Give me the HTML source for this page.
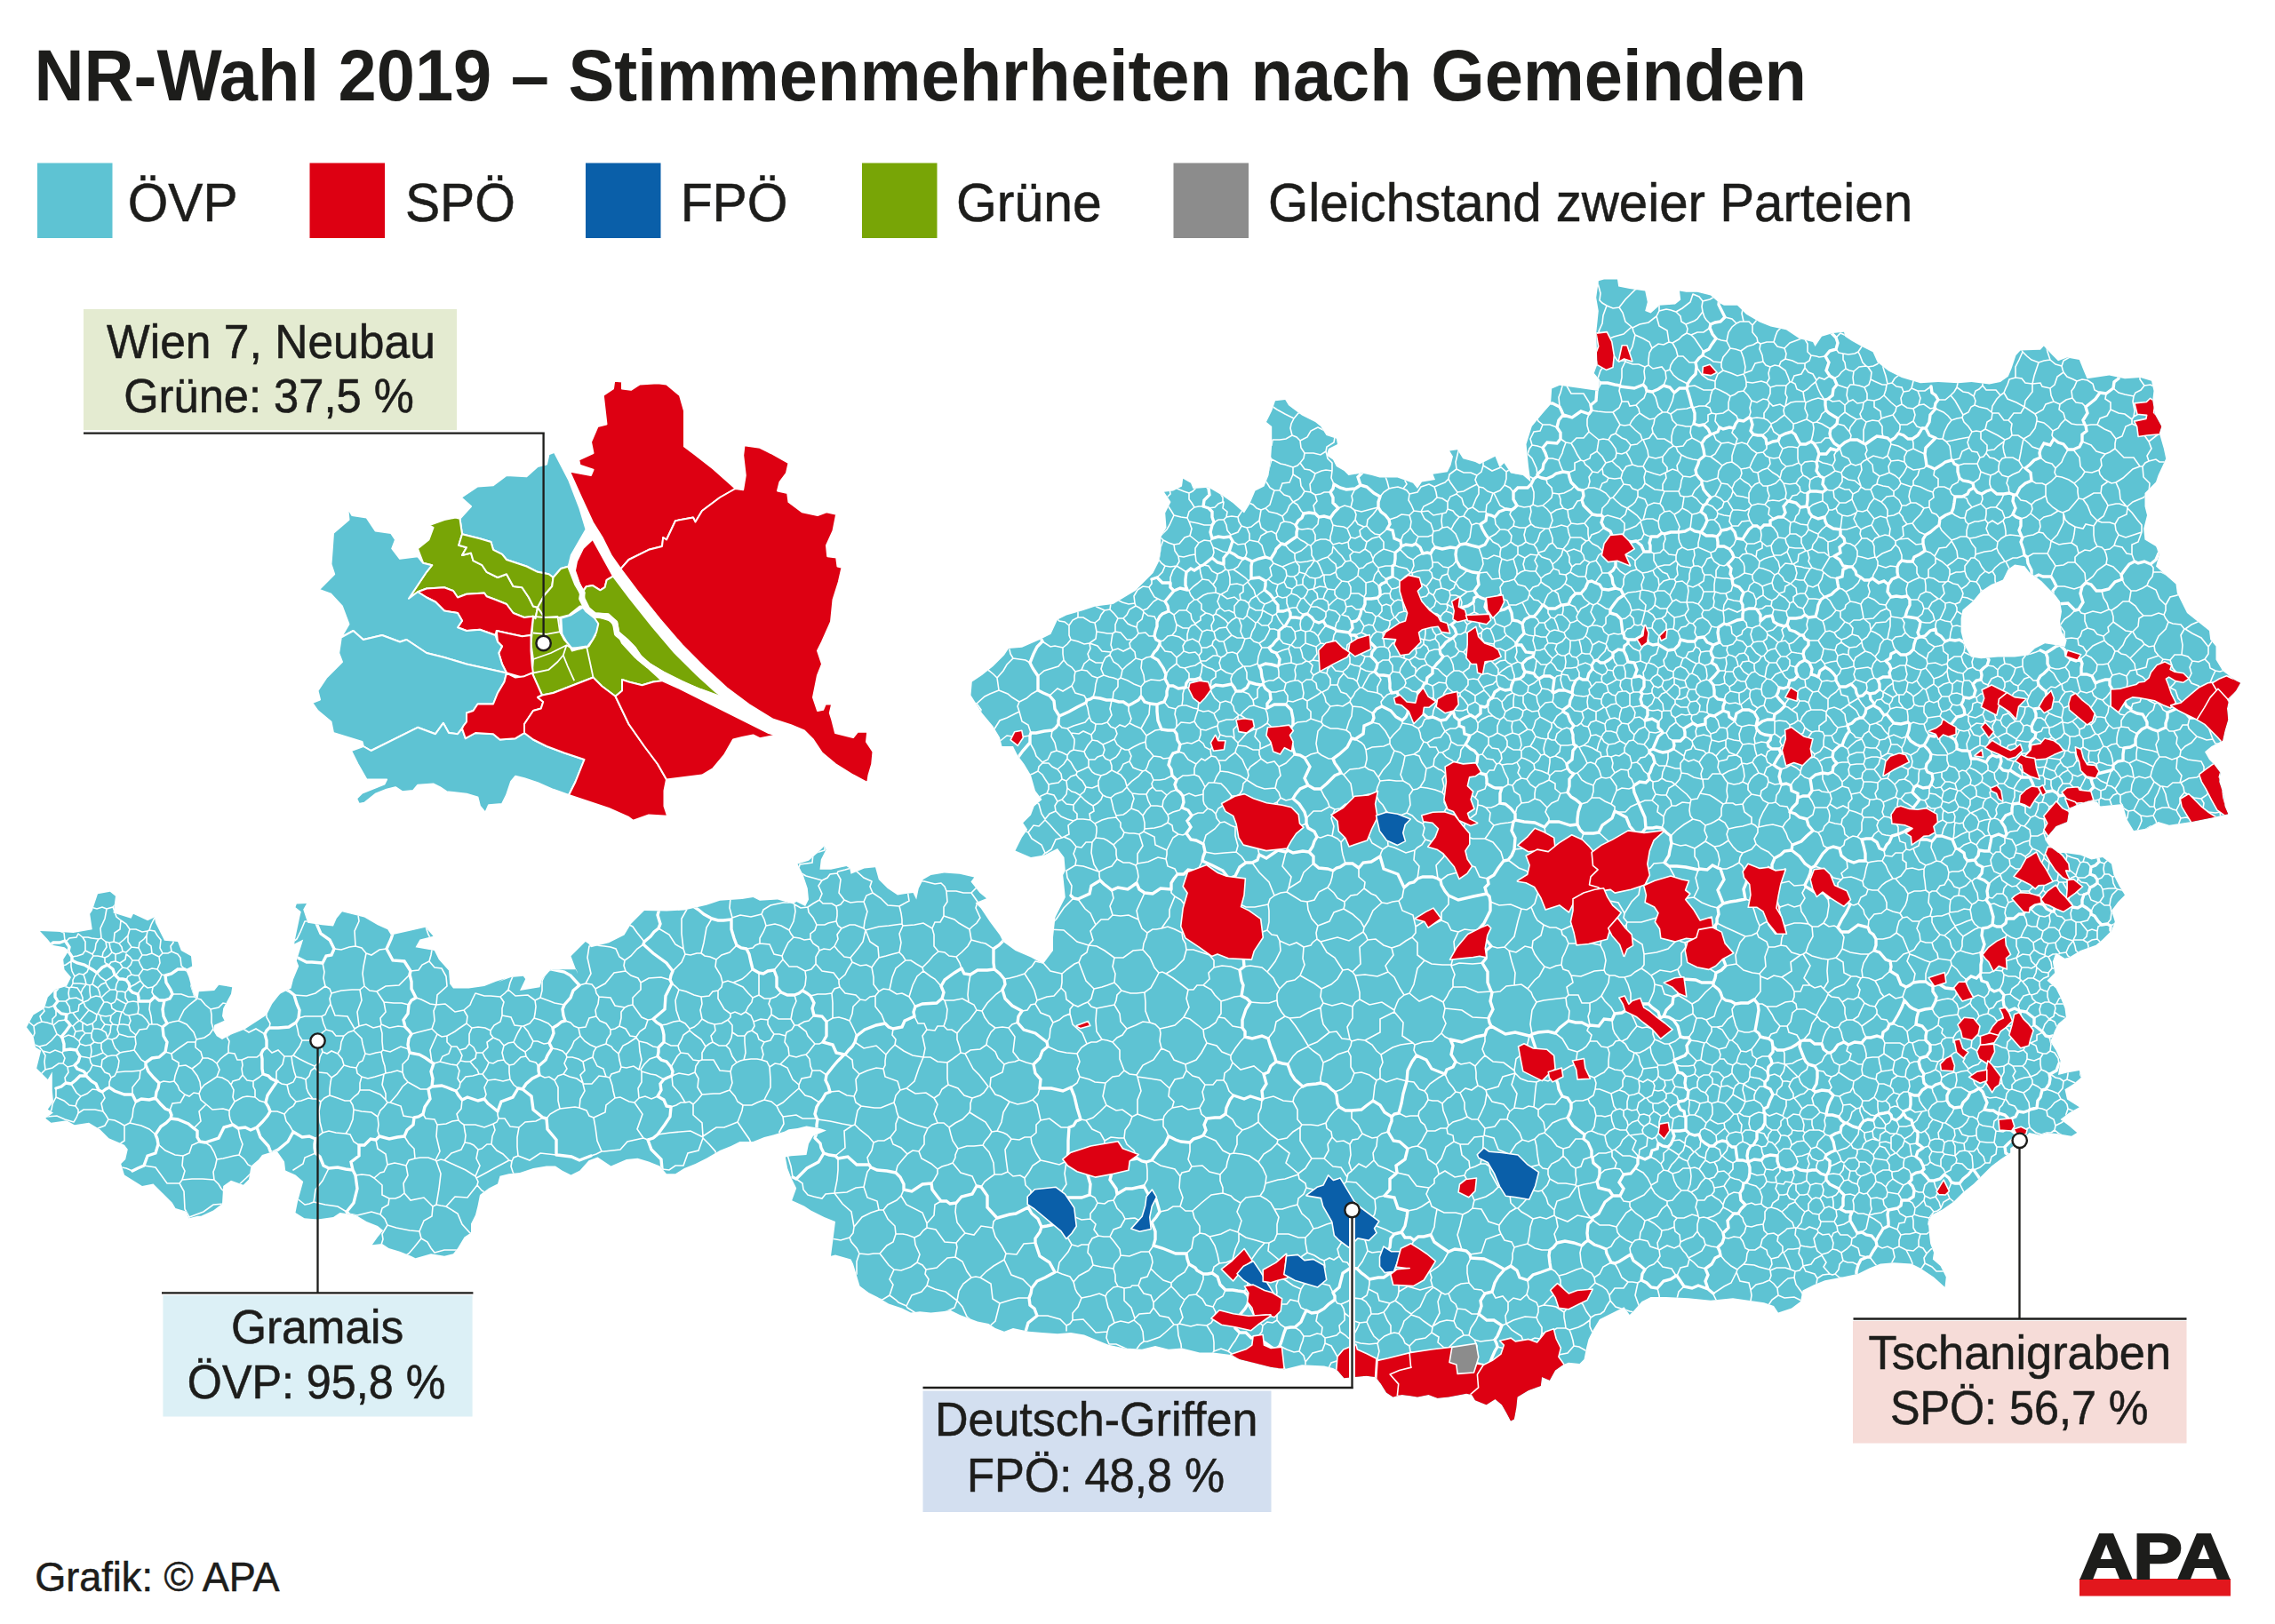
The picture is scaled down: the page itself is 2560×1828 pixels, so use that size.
<!DOCTYPE html>
<html lang="de"><head><meta charset="utf-8"><title>NR-Wahl 2019 – Stimmenmehrheiten nach Gemeinden</title>
<style>html,body{margin:0;padding:0;background:#fff}body{width:2560px;height:1828px;position:relative;overflow:hidden;font-family:"Liberation Sans",Arial,sans-serif}</style></head>
<body>
<svg width="2560" height="1828" viewBox="0 0 2560 1828" style="position:absolute;left:0;top:0;display:block">
<rect width="2560" height="1828" fill="#fff"/>
<defs><clipPath id="at"><path clip-rule="evenodd" d="M110.0,1006.2 L123.8,1003.8 L130.0,1008.8 L127.5,1027.5 L147.5,1033.8 L150.0,1028.8 L166.2,1036.2 L173.8,1032.5 L175.0,1038.8 L185.0,1058.8 L200.0,1060.0 L203.8,1070.0 L215.0,1076.2 L216.2,1087.5 L208.8,1091.2 L212.5,1100.0 L217.5,1118.8 L222.5,1125.0 L223.8,1116.2 L241.2,1115.0 L246.2,1108.8 L261.2,1111.2 L260.0,1118.8 L251.2,1135.0 L250.0,1143.8 L252.5,1148.8 L241.2,1153.8 L240.0,1160.0 L243.8,1166.2 L250.0,1170.0 L258.8,1165.0 L275.0,1158.8 L300.0,1142.5 L306.2,1130.0 L315.0,1118.8 L327.5,1112.5 L330.0,1102.5 L336.2,1087.5 L333.8,1081.2 L341.2,1057.5 L331.2,1062.5 L332.5,1055.0 L337.5,1031.2 L338.8,1026.2 L332.5,1021.2 L333.8,1017.5 L345.0,1017.0 L341.2,1023.8 L346.2,1038.8 L362.5,1041.2 L375.0,1042.5 L378.8,1033.8 L385.0,1026.2 L400.0,1030.0 L410.0,1032.5 L425.0,1041.2 L436.2,1046.2 L440.0,1052.5 L462.5,1047.5 L478.8,1043.8 L487.5,1053.8 L472.5,1057.5 L467.5,1066.2 L488.8,1070.0 L493.8,1080.0 L505.0,1092.5 L506.2,1107.5 L510.0,1112.5 L527.5,1112.5 L545.0,1110.0 L557.5,1105.0 L568.8,1101.2 L560.0,1105.5 L575.0,1100.0 L588.8,1098.8 L591.2,1102.0 L585.0,1115.0 L607.5,1111.2 L610.0,1102.5 L620.0,1091.2 L648.8,1091.2 L650.0,1096.2 L642.5,1076.2 L658.8,1060.0 L662.5,1062.5 L665.0,1066.2 L685.0,1061.2 L702.5,1052.5 L710.0,1040.0 L716.2,1033.8 L725.0,1025.0 L750.0,1025.5 L770.0,1024.5 L795.0,1018.8 L810.0,1013.8 L835.0,1012.0 L847.5,1010.0 L855.0,1013.8 L875.0,1012.5 L892.5,1017.5 L896.2,1015.0 L906.2,1020.0 L910.0,1012.5 L908.8,1000.0 L903.8,985.0 L897.5,972.5 L910.0,968.8 L920.0,960.0 L927.5,952.5 L929.5,956.2 L923.8,967.5 L922.5,978.8 L935.0,978.8 L952.5,975.0 L956.2,977.5 L957.5,983.8 L972.5,977.5 L985.0,976.2 L988.8,990.0 L998.8,1000.0 L1010.0,1007.5 L1017.5,1006.2 L1027.5,1005.0 L1031.2,1012.5 L1033.8,1000.0 L1038.8,990.0 L1047.5,985.0 L1062.5,982.5 L1080.0,983.8 L1096.2,987.5 L1092.5,992.5 L1102.5,1005.0 L1110.0,1011.2 L1097.5,1016.2 L1103.8,1022.5 L1113.8,1037.5 L1125.0,1052.5 L1128.8,1060.0 L1142.5,1070.0 L1160.0,1077.5 L1173.8,1085.0 L1185.0,1070.0 L1185.0,1055.0 L1187.5,1032.5 L1192.5,1022.5 L1198.8,1010.0 L1196.2,985.0 L1198.8,980.0 L1197.5,965.0 L1190.0,955.0 L1175.0,962.5 L1160.0,965.0 L1142.5,957.5 L1150.0,942.5 L1156.2,933.8 L1151.2,926.2 L1160.0,917.5 L1163.8,907.5 L1172.5,900.0 L1165.0,890.0 L1160.0,872.5 L1152.5,860.0 L1145.0,850.0 L1140.0,840.0 L1127.5,840.0 L1125.0,830.0 L1117.5,817.5 L1105.0,802.5 L1092.5,782.5 L1093.8,767.5 L1105.0,760.0 L1117.5,750.0 L1130.0,737.5 L1135.0,730.0 L1150.0,728.8 L1170.0,720.0 L1182.5,713.8 L1190.0,697.5 L1200.0,692.5 L1217.5,687.5 L1232.5,682.5 L1252.5,680.0 L1265.0,672.5 L1277.5,665.0 L1287.5,655.0 L1297.5,645.0 L1303.8,632.5 L1306.2,620.0 L1306.2,605.0 L1312.5,593.8 L1311.2,577.5 L1317.5,565.0 L1310.0,553.8 L1320.0,552.5 L1330.0,547.5 L1331.2,538.8 L1340.0,543.8 L1342.5,550.0 L1360.0,548.8 L1375.0,557.5 L1387.5,566.2 L1400.0,577.5 L1406.2,567.5 L1412.5,552.5 L1422.5,547.5 L1427.5,535.0 L1430.0,517.5 L1431.2,500.0 L1431.2,480.0 L1425.0,475.0 L1431.2,462.5 L1435.0,451.2 L1446.2,450.0 L1450.0,456.2 L1465.0,467.5 L1480.0,475.0 L1486.2,480.0 L1492.5,490.0 L1503.8,493.8 L1505.0,500.0 L1495.0,505.0 L1492.5,512.5 L1500.0,517.5 L1503.8,525.0 L1512.5,530.0 L1517.5,535.0 L1532.5,532.5 L1543.8,535.0 L1552.5,537.5 L1572.5,537.5 L1590.0,543.8 L1595.0,550.0 L1600.0,542.5 L1615.0,540.0 L1612.5,533.8 L1628.8,531.2 L1632.5,523.8 L1635.0,513.8 L1631.2,507.5 L1640.0,506.2 L1646.2,516.2 L1660.0,520.0 L1665.0,522.5 L1682.5,513.8 L1687.5,526.2 L1692.5,521.2 L1700.0,532.5 L1713.8,535.0 L1722.5,542.5 L1720.0,525.0 L1717.5,500.0 L1723.8,480.0 L1736.2,465.0 L1745.0,455.0 L1746.2,437.5 L1755.0,433.8 L1772.5,436.2 L1790.0,438.8 L1798.8,440.0 L1800.0,427.5 L1793.8,420.0 L1797.5,410.0 L1796.2,375.0 L1798.8,350.0 L1796.2,335.0 L1798.8,316.2 L1805.0,314.5 L1820.0,314.5 L1821.2,322.5 L1833.8,325.0 L1851.2,327.5 L1853.8,340.0 L1851.2,350.0 L1857.5,352.5 L1867.5,343.8 L1885.0,342.5 L1891.2,337.5 L1890.0,327.5 L1897.5,328.8 L1910.0,328.8 L1925.0,332.5 L1935.0,341.2 L1940.0,343.8 L1955.0,343.8 L1965.0,353.8 L1980.0,362.5 L1992.5,367.5 L2010.0,371.2 L2025.0,381.2 L2040.0,385.0 L2042.5,390.0 L2050.0,378.8 L2062.5,375.0 L2075.0,373.8 L2076.2,378.8 L2083.8,383.8 L2095.0,390.0 L2107.5,396.2 L2112.5,407.5 L2125.0,417.5 L2140.0,425.0 L2161.0,431.2 L2181.0,430.0 L2203.5,431.2 L2218.5,430.0 L2238.5,432.5 L2251.0,430.0 L2259.8,423.8 L2263.5,415.0 L2268.5,400.0 L2273.5,394.5 L2296.0,393.8 L2299.8,389.5 L2308.5,398.8 L2316.0,406.2 L2326.0,402.5 L2339.8,405.0 L2344.8,417.5 L2348.5,426.2 L2373.5,422.5 L2391.0,426.2 L2408.5,425.0 L2421.0,428.8 L2423.5,440.0 L2422.2,451.2 L2424.8,466.2 L2432.2,480.0 L2429.8,487.5 L2434.8,505.0 L2437.2,516.2 L2428.5,535.0 L2426.0,542.5 L2413.5,555.0 L2413.5,570.0 L2416.0,580.0 L2412.2,595.0 L2413.5,607.5 L2426.0,615.0 L2429.8,623.8 L2426.0,637.5 L2438.5,648.8 L2448.5,657.5 L2449.8,667.5 L2456.0,680.0 L2461.0,690.0 L2473.5,700.0 L2486.0,710.0 L2487.2,720.0 L2493.5,727.5 L2493.5,742.5 L2501.0,755.0 L2516.0,766.2 L2521.0,768.8 L2516.0,777.5 L2508.5,786.2 L2506.0,797.5 L2507.2,810.0 L2503.5,822.5 L2501.0,833.8 L2488.5,840.0 L2481.0,846.2 L2486.0,855.0 L2491.0,860.0 L2498.5,870.0 L2497.2,880.0 L2502.2,895.0 L2503.5,907.5 L2507.2,916.2 L2491.0,920.0 L2466.0,925.0 L2441.0,928.8 L2428.5,925.0 L2416.0,932.5 L2401.0,935.0 L2393.5,922.5 L2388.5,905.0 L2376.0,906.2 L2363.5,907.5 L2359.8,902.5 L2351.0,901.2 L2336.0,906.2 L2328.5,910.0 L2326.0,925.0 L2313.5,930.0 L2307.2,937.5 L2301.0,945.0 L2306.0,952.5 L2316.0,960.0 L2323.5,960.0 L2341.0,962.5 L2353.5,967.5 L2366.0,965.0 L2376.0,972.5 L2378.5,985.0 L2384.8,997.5 L2391.0,1007.5 L2383.5,1015.0 L2376.0,1025.0 L2379.8,1037.5 L2376.0,1047.5 L2366.0,1057.5 L2358.5,1063.8 L2341.0,1070.0 L2328.5,1077.5 L2323.5,1078.8 L2313.5,1072.5 L2309.8,1082.5 L2312.2,1095.0 L2303.5,1103.8 L2313.5,1112.5 L2318.5,1122.5 L2323.5,1135.0 L2324.8,1145.0 L2316.0,1152.5 L2312.2,1160.0 L2307.2,1172.5 L2313.5,1182.5 L2318.5,1193.8 L2316.0,1210.0 L2326.0,1207.5 L2339.8,1205.0 L2342.2,1212.5 L2333.5,1220.0 L2323.5,1226.2 L2326.0,1237.5 L2339.8,1246.2 L2328.5,1252.5 L2318.5,1260.0 L2328.5,1267.5 L2337.2,1275.0 L2331.0,1278.8 L2316.0,1276.2 L2303.5,1275.0 L2294.8,1277.5 L2283.5,1275.0 L2278.5,1280.0 L2262.2,1292.5 L2262.2,1297.5 L2251.0,1305.0 L2241.0,1312.5 L2231.0,1322.5 L2221.0,1332.5 L2208.5,1342.5 L2198.5,1352.5 L2186.0,1361.2 L2173.5,1367.5 L2169.8,1375.0 L2171.0,1390.0 L2172.2,1400.0 L2176.0,1410.0 L2174.8,1417.5 L2183.5,1425.0 L2189.8,1437.5 L2188.5,1448.8 L2176.0,1437.5 L2161.0,1427.5 L2151.0,1422.5 L2131.0,1421.2 L2116.0,1422.5 L2103.5,1427.5 L2091.0,1433.8 L2073.5,1437.5 L2053.5,1441.2 L2041.0,1446.2 L2028.5,1452.5 L2026.0,1465.0 L2016.0,1472.5 L2001.0,1477.5 L1996.0,1470.0 L1985.0,1466.2 L1967.5,1463.8 L1950.0,1461.2 L1925.0,1463.8 L1900.0,1461.2 L1875.0,1460.0 L1857.5,1460.0 L1847.5,1465.0 L1838.8,1475.0 L1833.8,1480.0 L1827.5,1471.2 L1817.5,1476.2 L1800.0,1485.0 L1792.5,1497.5 L1787.5,1507.5 L1785.0,1517.5 L1782.5,1530.0 L1777.5,1535.0 L1765.0,1533.8 L1758.8,1536.2 L1750.0,1542.5 L1743.8,1553.8 L1735.0,1550.0 L1733.8,1560.0 L1720.0,1565.0 L1707.5,1572.5 L1706.2,1585.0 L1703.8,1597.5 L1700.0,1599.5 L1695.0,1590.0 L1690.0,1581.2 L1682.5,1575.0 L1672.5,1581.2 L1660.0,1576.2 L1656.2,1570.0 L1650.0,1568.8 L1630.0,1572.5 L1617.5,1573.8 L1607.5,1570.0 L1595.0,1572.5 L1587.5,1571.2 L1577.5,1570.0 L1567.5,1572.5 L1560.0,1567.5 L1553.8,1557.5 L1547.5,1550.0 L1537.5,1548.8 L1522.5,1550.0 L1512.5,1551.2 L1505.0,1542.5 L1500.0,1540.0 L1490.0,1537.5 L1465.0,1536.2 L1445.0,1541.2 L1430.0,1538.8 L1410.0,1533.8 L1395.0,1530.0 L1385.0,1525.0 L1365.0,1522.5 L1350.0,1522.5 L1330.0,1517.5 L1315.0,1518.8 L1300.0,1515.0 L1285.0,1518.8 L1265.0,1517.5 L1247.5,1513.8 L1235.0,1508.8 L1220.0,1502.5 L1205.0,1500.0 L1190.0,1501.2 L1172.5,1500.0 L1157.5,1498.8 L1140.0,1495.0 L1130.0,1498.8 L1120.0,1495.0 L1112.5,1490.0 L1100.0,1487.5 L1080.0,1480.0 L1070.0,1475.0 L1060.0,1476.2 L1047.5,1477.5 L1035.0,1476.2 L1025.0,1477.5 L1015.0,1472.5 L1000.0,1467.5 L987.5,1460.0 L977.5,1455.0 L967.5,1447.5 L963.8,1435.0 L960.0,1422.5 L957.5,1417.5 L940.0,1412.5 L935.0,1413.8 L937.5,1395.0 L940.0,1375.0 L927.5,1370.0 L912.5,1362.5 L905.0,1357.5 L891.2,1351.2 L896.2,1337.5 L890.0,1325.0 L886.2,1315.0 L883.8,1302.5 L890.0,1301.2 L907.5,1300.0 L910.0,1287.5 L915.0,1278.8 L930.0,1272.5 L922.5,1270.0 L907.5,1267.5 L897.5,1270.0 L887.5,1271.2 L882.5,1273.8 L870.0,1277.5 L860.0,1280.0 L847.5,1285.0 L832.5,1285.0 L822.5,1290.0 L810.0,1295.0 L795.0,1303.8 L782.5,1310.0 L770.0,1315.0 L760.0,1321.2 L750.0,1321.2 L742.5,1312.5 L730.0,1307.5 L717.5,1303.8 L705.0,1305.0 L687.5,1312.5 L680.0,1307.5 L672.5,1302.5 L662.5,1306.2 L652.5,1317.5 L642.5,1322.5 L632.5,1317.5 L625.0,1312.5 L615.0,1312.5 L600.0,1315.0 L585.0,1320.0 L572.5,1321.2 L562.5,1323.8 L560.0,1332.5 L550.0,1337.5 L540.0,1345.0 L537.5,1357.5 L535.0,1367.5 L530.0,1377.5 L530.0,1387.5 L522.5,1392.5 L515.0,1405.0 L510.0,1411.2 L500.0,1413.8 L485.0,1411.2 L467.5,1416.2 L462.5,1413.8 L450.0,1408.8 L437.5,1405.0 L430.0,1400.0 L418.8,1401.2 L425.0,1392.5 L431.2,1385.0 L425.0,1380.0 L412.5,1375.0 L400.0,1367.5 L382.5,1365.0 L375.0,1370.0 L357.5,1372.5 L342.5,1371.2 L332.5,1365.0 L335.0,1352.5 L341.2,1330.0 L332.5,1322.5 L321.2,1317.5 L320.0,1307.5 L311.2,1295.0 L295.0,1300.0 L291.2,1305.0 L282.5,1312.5 L280.0,1327.5 L273.8,1333.8 L260.0,1328.8 L251.2,1335.0 L250.0,1355.0 L240.0,1362.5 L226.2,1368.8 L222.5,1368.8 L212.5,1371.2 L210.0,1363.8 L197.5,1360.0 L193.8,1353.8 L182.5,1342.5 L172.5,1332.5 L160.0,1335.0 L140.0,1322.5 L136.2,1310.0 L141.2,1305.0 L143.8,1293.8 L140.0,1288.8 L122.5,1281.2 L112.5,1271.2 L100.0,1263.8 L83.8,1266.2 L75.0,1261.2 L57.5,1263.8 L51.2,1258.8 L60.0,1252.5 L53.8,1248.8 L60.0,1240.0 L58.8,1227.5 L58.8,1206.2 L53.8,1215.0 L41.2,1202.5 L46.2,1182.5 L40.0,1178.8 L37.5,1166.2 L30.0,1156.2 L37.5,1142.5 L50.0,1135.0 L53.8,1122.5 L62.5,1113.8 L75.0,1110.0 L80.0,1100.0 L72.5,1091.2 L71.2,1080.0 L77.5,1070.0 L72.5,1066.2 L58.8,1063.8 L53.8,1057.5 L45.0,1048.0 L63.8,1048.8 L82.5,1050.0 L103.8,1046.2 L101.2,1028.8 L103.8,1025.0Z M2208.5,686.4 L2219.8,677.0 L2229.3,665.6 L2240.6,658.1 L2253.9,652.4 L2259.5,641.1 L2267.1,635.4 L2278.4,637.3 L2284.1,644.8 L2289.8,648.6 L2297.4,654.3 L2304.9,661.9 L2312.5,669.4 L2318.1,677.0 L2320.0,688.3 L2318.1,699.7 L2320.0,711.0 L2325.7,720.5 L2323.8,728.0 L2312.5,726.1 L2301.1,724.2 L2289.8,729.9 L2282.2,737.5 L2267.1,739.4 L2248.2,739.4 L2229.3,741.2 L2218.0,739.4 L2210.4,726.1 L2206.6,711.0 L2206.6,695.9Z"/></clipPath></defs>
<path fill="#5ec3d3" fill-rule="evenodd" d="M110.0,1006.2 L123.8,1003.8 L130.0,1008.8 L127.5,1027.5 L147.5,1033.8 L150.0,1028.8 L166.2,1036.2 L173.8,1032.5 L175.0,1038.8 L185.0,1058.8 L200.0,1060.0 L203.8,1070.0 L215.0,1076.2 L216.2,1087.5 L208.8,1091.2 L212.5,1100.0 L217.5,1118.8 L222.5,1125.0 L223.8,1116.2 L241.2,1115.0 L246.2,1108.8 L261.2,1111.2 L260.0,1118.8 L251.2,1135.0 L250.0,1143.8 L252.5,1148.8 L241.2,1153.8 L240.0,1160.0 L243.8,1166.2 L250.0,1170.0 L258.8,1165.0 L275.0,1158.8 L300.0,1142.5 L306.2,1130.0 L315.0,1118.8 L327.5,1112.5 L330.0,1102.5 L336.2,1087.5 L333.8,1081.2 L341.2,1057.5 L331.2,1062.5 L332.5,1055.0 L337.5,1031.2 L338.8,1026.2 L332.5,1021.2 L333.8,1017.5 L345.0,1017.0 L341.2,1023.8 L346.2,1038.8 L362.5,1041.2 L375.0,1042.5 L378.8,1033.8 L385.0,1026.2 L400.0,1030.0 L410.0,1032.5 L425.0,1041.2 L436.2,1046.2 L440.0,1052.5 L462.5,1047.5 L478.8,1043.8 L487.5,1053.8 L472.5,1057.5 L467.5,1066.2 L488.8,1070.0 L493.8,1080.0 L505.0,1092.5 L506.2,1107.5 L510.0,1112.5 L527.5,1112.5 L545.0,1110.0 L557.5,1105.0 L568.8,1101.2 L560.0,1105.5 L575.0,1100.0 L588.8,1098.8 L591.2,1102.0 L585.0,1115.0 L607.5,1111.2 L610.0,1102.5 L620.0,1091.2 L648.8,1091.2 L650.0,1096.2 L642.5,1076.2 L658.8,1060.0 L662.5,1062.5 L665.0,1066.2 L685.0,1061.2 L702.5,1052.5 L710.0,1040.0 L716.2,1033.8 L725.0,1025.0 L750.0,1025.5 L770.0,1024.5 L795.0,1018.8 L810.0,1013.8 L835.0,1012.0 L847.5,1010.0 L855.0,1013.8 L875.0,1012.5 L892.5,1017.5 L896.2,1015.0 L906.2,1020.0 L910.0,1012.5 L908.8,1000.0 L903.8,985.0 L897.5,972.5 L910.0,968.8 L920.0,960.0 L927.5,952.5 L929.5,956.2 L923.8,967.5 L922.5,978.8 L935.0,978.8 L952.5,975.0 L956.2,977.5 L957.5,983.8 L972.5,977.5 L985.0,976.2 L988.8,990.0 L998.8,1000.0 L1010.0,1007.5 L1017.5,1006.2 L1027.5,1005.0 L1031.2,1012.5 L1033.8,1000.0 L1038.8,990.0 L1047.5,985.0 L1062.5,982.5 L1080.0,983.8 L1096.2,987.5 L1092.5,992.5 L1102.5,1005.0 L1110.0,1011.2 L1097.5,1016.2 L1103.8,1022.5 L1113.8,1037.5 L1125.0,1052.5 L1128.8,1060.0 L1142.5,1070.0 L1160.0,1077.5 L1173.8,1085.0 L1185.0,1070.0 L1185.0,1055.0 L1187.5,1032.5 L1192.5,1022.5 L1198.8,1010.0 L1196.2,985.0 L1198.8,980.0 L1197.5,965.0 L1190.0,955.0 L1175.0,962.5 L1160.0,965.0 L1142.5,957.5 L1150.0,942.5 L1156.2,933.8 L1151.2,926.2 L1160.0,917.5 L1163.8,907.5 L1172.5,900.0 L1165.0,890.0 L1160.0,872.5 L1152.5,860.0 L1145.0,850.0 L1140.0,840.0 L1127.5,840.0 L1125.0,830.0 L1117.5,817.5 L1105.0,802.5 L1092.5,782.5 L1093.8,767.5 L1105.0,760.0 L1117.5,750.0 L1130.0,737.5 L1135.0,730.0 L1150.0,728.8 L1170.0,720.0 L1182.5,713.8 L1190.0,697.5 L1200.0,692.5 L1217.5,687.5 L1232.5,682.5 L1252.5,680.0 L1265.0,672.5 L1277.5,665.0 L1287.5,655.0 L1297.5,645.0 L1303.8,632.5 L1306.2,620.0 L1306.2,605.0 L1312.5,593.8 L1311.2,577.5 L1317.5,565.0 L1310.0,553.8 L1320.0,552.5 L1330.0,547.5 L1331.2,538.8 L1340.0,543.8 L1342.5,550.0 L1360.0,548.8 L1375.0,557.5 L1387.5,566.2 L1400.0,577.5 L1406.2,567.5 L1412.5,552.5 L1422.5,547.5 L1427.5,535.0 L1430.0,517.5 L1431.2,500.0 L1431.2,480.0 L1425.0,475.0 L1431.2,462.5 L1435.0,451.2 L1446.2,450.0 L1450.0,456.2 L1465.0,467.5 L1480.0,475.0 L1486.2,480.0 L1492.5,490.0 L1503.8,493.8 L1505.0,500.0 L1495.0,505.0 L1492.5,512.5 L1500.0,517.5 L1503.8,525.0 L1512.5,530.0 L1517.5,535.0 L1532.5,532.5 L1543.8,535.0 L1552.5,537.5 L1572.5,537.5 L1590.0,543.8 L1595.0,550.0 L1600.0,542.5 L1615.0,540.0 L1612.5,533.8 L1628.8,531.2 L1632.5,523.8 L1635.0,513.8 L1631.2,507.5 L1640.0,506.2 L1646.2,516.2 L1660.0,520.0 L1665.0,522.5 L1682.5,513.8 L1687.5,526.2 L1692.5,521.2 L1700.0,532.5 L1713.8,535.0 L1722.5,542.5 L1720.0,525.0 L1717.5,500.0 L1723.8,480.0 L1736.2,465.0 L1745.0,455.0 L1746.2,437.5 L1755.0,433.8 L1772.5,436.2 L1790.0,438.8 L1798.8,440.0 L1800.0,427.5 L1793.8,420.0 L1797.5,410.0 L1796.2,375.0 L1798.8,350.0 L1796.2,335.0 L1798.8,316.2 L1805.0,314.5 L1820.0,314.5 L1821.2,322.5 L1833.8,325.0 L1851.2,327.5 L1853.8,340.0 L1851.2,350.0 L1857.5,352.5 L1867.5,343.8 L1885.0,342.5 L1891.2,337.5 L1890.0,327.5 L1897.5,328.8 L1910.0,328.8 L1925.0,332.5 L1935.0,341.2 L1940.0,343.8 L1955.0,343.8 L1965.0,353.8 L1980.0,362.5 L1992.5,367.5 L2010.0,371.2 L2025.0,381.2 L2040.0,385.0 L2042.5,390.0 L2050.0,378.8 L2062.5,375.0 L2075.0,373.8 L2076.2,378.8 L2083.8,383.8 L2095.0,390.0 L2107.5,396.2 L2112.5,407.5 L2125.0,417.5 L2140.0,425.0 L2161.0,431.2 L2181.0,430.0 L2203.5,431.2 L2218.5,430.0 L2238.5,432.5 L2251.0,430.0 L2259.8,423.8 L2263.5,415.0 L2268.5,400.0 L2273.5,394.5 L2296.0,393.8 L2299.8,389.5 L2308.5,398.8 L2316.0,406.2 L2326.0,402.5 L2339.8,405.0 L2344.8,417.5 L2348.5,426.2 L2373.5,422.5 L2391.0,426.2 L2408.5,425.0 L2421.0,428.8 L2423.5,440.0 L2422.2,451.2 L2424.8,466.2 L2432.2,480.0 L2429.8,487.5 L2434.8,505.0 L2437.2,516.2 L2428.5,535.0 L2426.0,542.5 L2413.5,555.0 L2413.5,570.0 L2416.0,580.0 L2412.2,595.0 L2413.5,607.5 L2426.0,615.0 L2429.8,623.8 L2426.0,637.5 L2438.5,648.8 L2448.5,657.5 L2449.8,667.5 L2456.0,680.0 L2461.0,690.0 L2473.5,700.0 L2486.0,710.0 L2487.2,720.0 L2493.5,727.5 L2493.5,742.5 L2501.0,755.0 L2516.0,766.2 L2521.0,768.8 L2516.0,777.5 L2508.5,786.2 L2506.0,797.5 L2507.2,810.0 L2503.5,822.5 L2501.0,833.8 L2488.5,840.0 L2481.0,846.2 L2486.0,855.0 L2491.0,860.0 L2498.5,870.0 L2497.2,880.0 L2502.2,895.0 L2503.5,907.5 L2507.2,916.2 L2491.0,920.0 L2466.0,925.0 L2441.0,928.8 L2428.5,925.0 L2416.0,932.5 L2401.0,935.0 L2393.5,922.5 L2388.5,905.0 L2376.0,906.2 L2363.5,907.5 L2359.8,902.5 L2351.0,901.2 L2336.0,906.2 L2328.5,910.0 L2326.0,925.0 L2313.5,930.0 L2307.2,937.5 L2301.0,945.0 L2306.0,952.5 L2316.0,960.0 L2323.5,960.0 L2341.0,962.5 L2353.5,967.5 L2366.0,965.0 L2376.0,972.5 L2378.5,985.0 L2384.8,997.5 L2391.0,1007.5 L2383.5,1015.0 L2376.0,1025.0 L2379.8,1037.5 L2376.0,1047.5 L2366.0,1057.5 L2358.5,1063.8 L2341.0,1070.0 L2328.5,1077.5 L2323.5,1078.8 L2313.5,1072.5 L2309.8,1082.5 L2312.2,1095.0 L2303.5,1103.8 L2313.5,1112.5 L2318.5,1122.5 L2323.5,1135.0 L2324.8,1145.0 L2316.0,1152.5 L2312.2,1160.0 L2307.2,1172.5 L2313.5,1182.5 L2318.5,1193.8 L2316.0,1210.0 L2326.0,1207.5 L2339.8,1205.0 L2342.2,1212.5 L2333.5,1220.0 L2323.5,1226.2 L2326.0,1237.5 L2339.8,1246.2 L2328.5,1252.5 L2318.5,1260.0 L2328.5,1267.5 L2337.2,1275.0 L2331.0,1278.8 L2316.0,1276.2 L2303.5,1275.0 L2294.8,1277.5 L2283.5,1275.0 L2278.5,1280.0 L2262.2,1292.5 L2262.2,1297.5 L2251.0,1305.0 L2241.0,1312.5 L2231.0,1322.5 L2221.0,1332.5 L2208.5,1342.5 L2198.5,1352.5 L2186.0,1361.2 L2173.5,1367.5 L2169.8,1375.0 L2171.0,1390.0 L2172.2,1400.0 L2176.0,1410.0 L2174.8,1417.5 L2183.5,1425.0 L2189.8,1437.5 L2188.5,1448.8 L2176.0,1437.5 L2161.0,1427.5 L2151.0,1422.5 L2131.0,1421.2 L2116.0,1422.5 L2103.5,1427.5 L2091.0,1433.8 L2073.5,1437.5 L2053.5,1441.2 L2041.0,1446.2 L2028.5,1452.5 L2026.0,1465.0 L2016.0,1472.5 L2001.0,1477.5 L1996.0,1470.0 L1985.0,1466.2 L1967.5,1463.8 L1950.0,1461.2 L1925.0,1463.8 L1900.0,1461.2 L1875.0,1460.0 L1857.5,1460.0 L1847.5,1465.0 L1838.8,1475.0 L1833.8,1480.0 L1827.5,1471.2 L1817.5,1476.2 L1800.0,1485.0 L1792.5,1497.5 L1787.5,1507.5 L1785.0,1517.5 L1782.5,1530.0 L1777.5,1535.0 L1765.0,1533.8 L1758.8,1536.2 L1750.0,1542.5 L1743.8,1553.8 L1735.0,1550.0 L1733.8,1560.0 L1720.0,1565.0 L1707.5,1572.5 L1706.2,1585.0 L1703.8,1597.5 L1700.0,1599.5 L1695.0,1590.0 L1690.0,1581.2 L1682.5,1575.0 L1672.5,1581.2 L1660.0,1576.2 L1656.2,1570.0 L1650.0,1568.8 L1630.0,1572.5 L1617.5,1573.8 L1607.5,1570.0 L1595.0,1572.5 L1587.5,1571.2 L1577.5,1570.0 L1567.5,1572.5 L1560.0,1567.5 L1553.8,1557.5 L1547.5,1550.0 L1537.5,1548.8 L1522.5,1550.0 L1512.5,1551.2 L1505.0,1542.5 L1500.0,1540.0 L1490.0,1537.5 L1465.0,1536.2 L1445.0,1541.2 L1430.0,1538.8 L1410.0,1533.8 L1395.0,1530.0 L1385.0,1525.0 L1365.0,1522.5 L1350.0,1522.5 L1330.0,1517.5 L1315.0,1518.8 L1300.0,1515.0 L1285.0,1518.8 L1265.0,1517.5 L1247.5,1513.8 L1235.0,1508.8 L1220.0,1502.5 L1205.0,1500.0 L1190.0,1501.2 L1172.5,1500.0 L1157.5,1498.8 L1140.0,1495.0 L1130.0,1498.8 L1120.0,1495.0 L1112.5,1490.0 L1100.0,1487.5 L1080.0,1480.0 L1070.0,1475.0 L1060.0,1476.2 L1047.5,1477.5 L1035.0,1476.2 L1025.0,1477.5 L1015.0,1472.5 L1000.0,1467.5 L987.5,1460.0 L977.5,1455.0 L967.5,1447.5 L963.8,1435.0 L960.0,1422.5 L957.5,1417.5 L940.0,1412.5 L935.0,1413.8 L937.5,1395.0 L940.0,1375.0 L927.5,1370.0 L912.5,1362.5 L905.0,1357.5 L891.2,1351.2 L896.2,1337.5 L890.0,1325.0 L886.2,1315.0 L883.8,1302.5 L890.0,1301.2 L907.5,1300.0 L910.0,1287.5 L915.0,1278.8 L930.0,1272.5 L922.5,1270.0 L907.5,1267.5 L897.5,1270.0 L887.5,1271.2 L882.5,1273.8 L870.0,1277.5 L860.0,1280.0 L847.5,1285.0 L832.5,1285.0 L822.5,1290.0 L810.0,1295.0 L795.0,1303.8 L782.5,1310.0 L770.0,1315.0 L760.0,1321.2 L750.0,1321.2 L742.5,1312.5 L730.0,1307.5 L717.5,1303.8 L705.0,1305.0 L687.5,1312.5 L680.0,1307.5 L672.5,1302.5 L662.5,1306.2 L652.5,1317.5 L642.5,1322.5 L632.5,1317.5 L625.0,1312.5 L615.0,1312.5 L600.0,1315.0 L585.0,1320.0 L572.5,1321.2 L562.5,1323.8 L560.0,1332.5 L550.0,1337.5 L540.0,1345.0 L537.5,1357.5 L535.0,1367.5 L530.0,1377.5 L530.0,1387.5 L522.5,1392.5 L515.0,1405.0 L510.0,1411.2 L500.0,1413.8 L485.0,1411.2 L467.5,1416.2 L462.5,1413.8 L450.0,1408.8 L437.5,1405.0 L430.0,1400.0 L418.8,1401.2 L425.0,1392.5 L431.2,1385.0 L425.0,1380.0 L412.5,1375.0 L400.0,1367.5 L382.5,1365.0 L375.0,1370.0 L357.5,1372.5 L342.5,1371.2 L332.5,1365.0 L335.0,1352.5 L341.2,1330.0 L332.5,1322.5 L321.2,1317.5 L320.0,1307.5 L311.2,1295.0 L295.0,1300.0 L291.2,1305.0 L282.5,1312.5 L280.0,1327.5 L273.8,1333.8 L260.0,1328.8 L251.2,1335.0 L250.0,1355.0 L240.0,1362.5 L226.2,1368.8 L222.5,1368.8 L212.5,1371.2 L210.0,1363.8 L197.5,1360.0 L193.8,1353.8 L182.5,1342.5 L172.5,1332.5 L160.0,1335.0 L140.0,1322.5 L136.2,1310.0 L141.2,1305.0 L143.8,1293.8 L140.0,1288.8 L122.5,1281.2 L112.5,1271.2 L100.0,1263.8 L83.8,1266.2 L75.0,1261.2 L57.5,1263.8 L51.2,1258.8 L60.0,1252.5 L53.8,1248.8 L60.0,1240.0 L58.8,1227.5 L58.8,1206.2 L53.8,1215.0 L41.2,1202.5 L46.2,1182.5 L40.0,1178.8 L37.5,1166.2 L30.0,1156.2 L37.5,1142.5 L50.0,1135.0 L53.8,1122.5 L62.5,1113.8 L75.0,1110.0 L80.0,1100.0 L72.5,1091.2 L71.2,1080.0 L77.5,1070.0 L72.5,1066.2 L58.8,1063.8 L53.8,1057.5 L45.0,1048.0 L63.8,1048.8 L82.5,1050.0 L103.8,1046.2 L101.2,1028.8 L103.8,1025.0Z M2208.5,686.4 L2219.8,677.0 L2229.3,665.6 L2240.6,658.1 L2253.9,652.4 L2259.5,641.1 L2267.1,635.4 L2278.4,637.3 L2284.1,644.8 L2289.8,648.6 L2297.4,654.3 L2304.9,661.9 L2312.5,669.4 L2318.1,677.0 L2320.0,688.3 L2318.1,699.7 L2320.0,711.0 L2325.7,720.5 L2323.8,728.0 L2312.5,726.1 L2301.1,724.2 L2289.8,729.9 L2282.2,737.5 L2267.1,739.4 L2248.2,739.4 L2229.3,741.2 L2218.0,739.4 L2210.4,726.1 L2206.6,711.0 L2206.6,695.9Z"/>
<g clip-path="url(#at)" fill="none" stroke="#fff" stroke-linecap="round" stroke-linejoin="miter"><path stroke-width="1.6" d="M162,1312l13,2 13,18 13,0M131,1313l6,1 5,1 7,3M212,1373l1,-3M201,1332l1,0M202,1332l5,9 1,20 5,9M146,1264l13,3 9,4 7,6M146,1264l-6,3M130,1309l-2,-17 12,-8 0,-17M1654,1412l13,-2 5,-15 17,-6M1700,1425l2,-8 0,-6 2,-7M1689,1389l4,7 8,2 3,6M178,1288l8,7 11,5 9,1M202,1332l3,-4M206,1301l-1,11 3,6 -3,10M213,1370l16,-6 11,-8 12,-1M252,1341l2,6 -1,6M252,1341l-3,-3 -3,-5 -5,-5M205,1328l11,-1 12,0 13,1M252,1355l1,-2M252,1341l13,-4 12,-11 10,-10M241,1328l-1,-9 2,-5 2,-9M269,1300l-6,1 -12,3 -7,1M269,1300l6,5 4,6 8,4M2518,769l0,10 -3,4 -2,10M2307,405l-7,1 -6,2M2307,405l-3,-9 -2,-9 2,-6M2275,394l1,2M2276,396l5,5 5,4 8,3M2307,405l6,5 7,2M2334,395l-3,6 -9,5 -2,6M1905,331l-3,9 -9,7 -7,4M1905,331l7,3 4,5M1886,351l5,5 1,6 5,3M1897,365l10,-4 3,-2 6,-8M1916,351l-1,-6 1,-6M149,1232l0,-8 8,-10 1,-9M158,1205l4,-2 2,-4M1655,1416l-4,9 0,8 2,11M1653,1444l6,7 8,1 4,4M1689,1389l-2,-5 0,-5M1704,1404l7,-2 8,-2M1708,1360l-2,0M1708,1360l4,4 7,4 6,4M1719,1400l2,-9 1,-10 3,-9M1687,1379l5,-7 7,-8 7,-4M522,1137l-10,2 -11,-9 -10,1M522,1137l7,-6 2,-5 4,-8M491,1131l1,-11 11,-10 -1,-11M436,1379l10,3 15,3 11,1M436,1379l-3,-7 -5,-5M472,1386l5,-12 9,-5 1,-11M455,1343l7,8 15,-3 10,10M455,1343l-5,4 -5,2 -7,0M438,1349l-1,7 -7,4 -2,7M436,1379l-6,10 1,6 -3,9M428,1367l-10,-3 -16,4 -10,-2M882,1290l5,13 3,10 2,12M909,1345l-5,-6 -1,-7 -7,-5M920,1260l14,2 14,3 11,2M940,1301l11,-9 -1,-19 9,-6M1002,1280l6,-8 0,-7 3,-8M1002,1280l-7,4 -7,0 -5,2M969,1245l15,2 7,0 15,-6M969,1245l-4,5 -2,10 -1,6M1011,1257l-2,-6 -1,-5 -2,-5M983,1286l-6,-7 -9,-7 -6,-6M1086,1388l-5,5 -5,6M1086,1388l10,2 8,-10 13,2M1076,1399l1,5 -1,5 -1,6M1075,1415l8,5 5,11 5,7M1117,1382l3,10 7,10 5,9M1103,1438l-5,-1 -5,1M1103,1438l7,-7 8,-6 12,-7M1130,1418l2,-7M1076,1354l-1,10 2,12 9,12M1122,1371l-4,4 -1,7M1043,1447l9,4 12,3 13,10M1043,1447l2,-7 -4,-6 1,-5M1077,1464l2,-11 5,-8 9,-7M1042,1429l12,-2 12,-11 9,-1M536,1386l-7,2M529,1388l-9,-10 -5,-12 -13,-8M502,1358l10,-11 14,1 11,-14M537,1334l5,6 8,5 7,7M536,1326l2,4 -1,4M536,1326l-1,-2M535,1324l-11,-7 -11,-5 -13,-6M500,1306l-4,-1 -5,2M491,1356l3,-18 2,-17 -5,-14M491,1356l5,1 6,1M665,1301l6,-2 6,-3M677,1296l3,0M1013,1227l-5,6 -2,8M1013,1227l7,-2M1011,1257l11,6 8,3 14,4M1055,1264l-6,2 -5,4M1055,1264l-4,-10 4,-11 -4,-7M1051,1236l-9,-6 -12,1 -10,-6M961,1234l3,-7 -1,-12 4,-6M961,1234l-8,-1 -9,-5 -10,1M951,1187l8,6 1,9 7,7M969,1245l-6,-4 -2,-7M1013,1227l-3,-10 -14,-5 -2,-9M967,1209l9,-4 10,-3 8,1M536,1326l13,-7 9,-5 15,-8M581,1327l-4,-8 -2,-6 1,-6M573,1306l3,1M626,1300l-18,-2 -12,8 -13,-5M576,1307l2,-4 5,-2M611,1258l-8,4 -12,1 -7,6M583,1301l-1,-10 0,-11 2,-11M1951,1366l-6,-4 -6,-3M1939,1359l-4,6 -7,4 -7,2M1939,1388l-5,-7 -3,-5 -10,-5M1910,1351l-2,8 2,5 1,5M1910,1351l8,0 3,-4 5,-2M1911,1369l1,2M1912,1371l5,-1 4,1M1926,1345l4,3 5,3 4,5M1939,1356l0,3M2153,1106l2,-10 -9,-14 3,-8M2167,1105l0,-9 2,-6 3,-7M2172,1083l-6,-2 -11,-5 -6,-2M2418,519l8,-2 4,3 8,0M2418,519l-2,-6 5,-8 -3,-8M2418,497l9,-7 5,-4 9,-8M2418,519l-4,2 -3,4M2411,525l1,12 7,7 -1,10M2276,396l-4,9 -4,8 0,12M2294,408l-2,6 -3,9 -2,9M2287,432l-8,-1 -4,-5 -7,-1M2275,394l-7,-1M2268,425l-7,2M2401,469l1,-7 -2,-10 1,-6M2401,469l7,-4 10,-3 12,0M2401,446l2,-4 6,-3 4,-5M2427,437l-7,-4 -7,1M2401,413l7,7 0,7 5,7M2401,446l-10,-2 -7,-2 -6,-5M1837,369l8,-4 10,-2 9,-7M1837,369l1,4 2,4M1840,377l9,4 7,4 3,7M1864,356l3,11 9,5 2,13M1859,392l7,-5 6,1 6,-3M1840,326l5,-2 5,1M1867,350l8,-2 5,1 6,2M1867,350l0,-7 -2,-5M1837,369l-1,-1M1840,326l-7,7 -4,4 -7,9M1864,356l3,-6M1836,368l-7,-6 -3,-10 -4,-6M1799,310l-1,9 3,11 -1,8M1822,346l-7,1 -7,-3M1800,338l3,3 5,3M2085,373l-7,5 -7,-3 -5,5M1916,339l8,-2 5,-3 6,0M73,1059l-1,-9 -5,-2 -3,-9M74,1060l4,-4 8,-1 2,-4M88,1051l5,4M81,1077l6,-1 6,-2 3,-4M93,1055l3,5 0,4 0,6M129,1019l-2,2M102,1021l7,2 6,-2 5,2M127,1021l-7,2M210,1092l7,9 -2,9 4,12M194,1119l10,0 8,3 7,0M146,1264l3,-7 1,-9 3,-8M182,1097l-2,5 -4,6 -4,3M182,1097l4,1M172,1111l-1,6 3,5M1625,1517l-4,3 -2,6 -3,5M1625,1517l5,0M1616,1531l1,5 4,6 1,7M1622,1549l9,5 8,-5 7,2M1630,1517l9,4 6,8 5,10M1646,1551l3,-5 1,-7M1610,1581l-1,-7 1,-5 -1,-6M1622,1549l-4,6 -4,6 -5,2M1646,1551l6,7 -2,10 7,8M1668,1582l-5,-5 -6,-1M1709,1591l-8,-8 -7,-1 -9,-8M1734,1569l-5,-7 -3,-6 -1,-6M1725,1550l-12,10 -9,6 -19,7M1650,1539l5,-3 5,-3M1660,1533l6,2 5,1 5,-1M1775,1184l6,-3 4,-3 4,-6M1775,1184l-10,-3 -7,-12 -8,-6M1788,1155l-2,5 5,5 -2,7M1765,1120l11,0 4,9 9,0M1765,1120l-3,3M1789,1154l-2,-10 2,-6 0,-9M1762,1123l1,9 3,6 -1,11M974,1047l5,13 9,6 1,12M974,1047l15,-4 11,-1 15,-2M1015,1040l1,2M989,1078l8,-2 7,-2 8,-2M1016,1042l-4,9 2,10 -2,11M1039,1093l-1,-4M1039,1093l-7,6 -5,10 -4,13M1023,1122l-8,-4 -6,1 -8,-5M1001,1114l3,-14 4,-10 11,-9M1038,1089l-7,-4 -6,-4 -6,0M989,1078l-4,5 -4,6M981,1089l2,11 0,8 6,8M1001,1114l-7,-1 -5,3M1019,1081l-3,-5 -4,-4M859,1024l8,-5 14,-3 11,0M825,1002l-3,9 -1,11 3,11M824,1033l9,-3 12,2 12,-3M857,1029l2,-5M1016,1042l13,-1 10,-2 10,6M1038,1089l7,-7 5,-6 6,-5M1049,1045l2,7 0,13 5,6M1065,1003l1,12 -4,6 0,10M1065,1003l11,0 8,2 9,0M1093,1005l7,10 -2,7 5,11M1062,1031l12,4 5,4 12,7M1103,1033l-4,6 -5,4 -3,3M1059,994l4,4 2,5M1059,994l-7,1 -12,-3 -6,0M1015,1040l0,-5 -1,-7 -2,-8M1034,992l-13,9 2,13 -11,6M1049,1045l3,-7 6,0 4,-7M1109,997l-7,1 -4,2 -5,5M1093,1058l-4,7 -7,7 -6,5M1093,1058l-1,-6 -1,-6M1076,1077l-8,-1 -5,-4 -7,-1M981,992l-9,-4 -8,-7 -6,-4M1012,1020l-13,-1 -8,-8 -9,-6M982,1005l-3,-7 2,-6M1043,1382l10,2 10,14 13,1M1043,1382l0,-5M1043,1377l8,-9 1,-12 7,-4M1243,1284l-5,-9 -9,-4 -7,-10M1243,1284l-1,10 -7,9 -5,8M1216,1260l6,1M1135,1157l7,10 -2,17 7,9M1135,1157l4,-4 6,-2M1163,1198l-8,-2 -8,-3M1171,1261l-2,-9 -2,-9 -5,-5M1171,1261l10,-2 13,10 9,0M1170,1225l-2,7 -6,6M1055,1264l7,0 6,5M1094,1236l-2,6 0,6 -1,4M1094,1236l-9,-3 -7,-8 -11,-4M1067,1221l-7,5 -3,6 -6,4M1091,1252l-8,8 -8,4 -7,5M1153,1326l1,8 6,6 0,8M1153,1326l5,-7 4,-7 9,-6M1160,1348l14,-3 10,2 10,-5M1194,1342l6,-9 -2,-12 2,-14M1171,1306l9,2 12,3 8,-4M1160,1280l6,-5 0,-9 5,-5M1160,1280l1,7 5,11 5,8M1591,1396l-3,7 1,13 4,6M1630,1409l-6,11 -6,6 -9,6M1609,1432l-5,-5 -6,-1 -5,-4M438,1349l-8,-4 0,-11 -9,-8M421,1326l-5,-3 -9,-1 -7,1M333,1348l5,4 5,4M390,1364l-10,-6 -14,-2 -13,-3M353,1353l-5,2 -5,1M491,1131l-7,-1 -10,-5 -6,-2M502,1099l-5,-9 -8,-1 -6,-7M483,1082l-8,4 -4,6 -9,1M909,1345l7,2M958,1441l6,-7 0,-14 3,-9M967,1411l-3,-6 -6,-7 -2,-5M927,1395l8,-1 11,2 10,-3M943,1304l0,13 -1,11 -3,15M939,1343l14,-1 10,-5 9,-1M972,1336l2,-9 2,-8 4,-5M983,1286l-2,9 -5,8 2,8M962,1266l-3,1M916,1347l9,2 4,-5 10,-1M956,1393l4,-5 1,-7M961,1381l-3,-17 -10,-9 -9,-12M989,1362l-9,3 -10,5 -9,11M989,1362l-2,-10 -11,-4 -4,-12M1006,1429l-6,-5 -6,-8 -4,-5M1006,1429l8,1 11,-4 7,-5M990,1411l8,-9 7,-4 3,-9M1032,1421l3,-9 -5,-11 -1,-8M1008,1389l8,0 5,1 8,3M976,1463l6,-3 11,3 8,-5M1001,1458l4,-12 -4,-6 5,-11M967,1411l10,1 6,-1 7,0M1001,1458l7,5 3,3 9,4M1020,1470l6,-12 11,-4 6,-7M1042,1429l-4,-5 -6,-3M994,1362l5,10 8,8 1,9M994,1362l-5,0M1043,1382l-4,3 -4,5 -6,3M994,1362l5,-6 10,-5 5,-5M1043,1377l-5,-12 -18,-9 -6,-10M1099,1491l-11,-9 -5,-11 -6,-7M1077,1464l-3,8 -13,6 -4,7M1125,1467l-2,8 -3,12 -8,7M1125,1467l-8,-5 -2,-17 -12,-7M1020,1470l1,2M1021,1472l11,7 14,1 11,5M474,1394l7,4 4,7 4,5M474,1394l-8,10 -6,7 -10,6M472,1386l2,8M491,1356l-4,2M520,1407l-12,0 -8,0 -11,3M919,1259l-16,0 -7,-4 -15,2M922,1241l-9,-6 -7,-2 -7,-8M899,1225l-7,6 -11,10 -7,4M874,1245l3,6 4,6M877,1285l0,-11 5,-9 -1,-8M677,1296l-5,-12 -2,-15 -2,-11M680,1296l18,-2 8,-9 18,-4M668,1258l13,-6 1,-8 10,-8M692,1236l6,-1 10,5 6,1M724,1281l-7,-10 6,-17 -9,-13M553,1288l1,-9 3,-7 -2,-7M553,1288l-5,0 -6,5 -4,1M555,1265l-10,4 -10,-3 -13,0M538,1294l-5,-5 -4,-2 -6,-1M523,1286l1,-8 -1,-5 -1,-7M573,1306l-7,-7 -7,-4 -6,-7M584,1269l-10,-1 -6,-9 -7,0M561,1259l-2,4 -4,2M535,1324l5,-12 -4,-8 2,-10M500,1306l8,-8 11,-4 4,-8M491,1307l-1,-1M516,1261l-7,1 -7,3 -10,1M516,1261l3,3 3,2M490,1306l5,-10 -4,-17 1,-13M1800,1322l6,-5 5,-1 6,-1M1792,1303l7,-5 8,0 7,-2M1817,1315l2,-6 -5,-7 0,-6M1991,1441l-7,3 -8,2 -6,6M1991,1441l5,4 4,5M2000,1450l1,8M2001,1458l-7,5 -4,6 -3,10M1970,1452l1,6 -1,6M2027,1464l-8,-4 -11,1 -7,-3M1920,1148l3,5 3,3M1920,1148l9,-4 3,-10 6,-11M1950,1143l-1,-7 4,-6M1950,1143l-6,4 -6,8 -6,1M1932,1156l-6,0M1910,1351l-3,-5 -4,-4M1911,1369l-7,-2 -9,4 -8,0M1892,1340l-6,6 -4,5 -6,1M1892,1340l7,0M1903,1342l-4,-2M1876,1352l0,4M1887,1371l-5,-3 -2,-6 -4,-6M2021,1333l0,7 4,5M2021,1333l6,-1 6,-3M2033,1329l4,5M2037,1334l-1,5 -2,5M2034,1344l-4,1 -5,0M1989,1389l-4,-4 -1,-7M1989,1389l-6,6 -2,8M1958,1393l3,4 3,8 4,2M1958,1393l5,-6 2,-7M1981,1403l-6,4 -7,0M1984,1378l-7,1 -6,2 -6,-1M1958,1393l-7,-1 -6,2 -5,-1M1965,1380l-3,-5 -1,-4 -5,-5M1939,1356l2,-6 4,-5M1958,1343l-7,-1 -6,3M1984,1378l2,-6 0,-8 3,-4M1964,1356l7,-2 4,2 7,-1M1982,1355l3,3 4,2M1829,969l7,2 3,8 7,2M1829,969l-8,8 -9,3 -13,6M1846,981l-1,4 2,5M1799,986l-2,5 0,7 1,6M1847,990l-3,17 -8,8 -8,13M1798,1004l8,9 15,3 7,12M1775,970l-3,12 -8,13 -8,7M1775,970l8,7 6,6 10,3M1756,1002l8,8 4,4 11,5M1798,1004l-5,8 -7,4 -7,3M1756,1002l-8,-1 -8,2 -9,1M1757,1047l-6,-3 -7,0 -7,-3M1757,1047l11,-5 5,-7 5,-9M1731,1004l-2,6 -2,7 -4,4M1737,1041l-7,-5 -3,-5 -4,-10M1778,1026l1,-7M1844,904l-9,4 -6,6 -10,0M1846,981l11,-4 4,-5 12,-1M1879,1023l-9,-14 -13,-12 -10,-7M1879,1023l6,-4 2,-5 5,-2M1878,975l6,11 1,16 7,10M1990,1066l-2,-6 -9,-5 -2,-5M1990,1066l-4,11 1,11 -7,8M1980,1096l-8,-1 -10,-3 -8,-7M1954,1085l-1,-10 5,-14 6,-7M1964,1054l7,-1 6,-3M1920,1148l-5,-2 -6,0M1905,1141l4,5M1905,1141l0,-6 -1,-5M1904,1130l7,-4 8,-9 9,-8M1930,1042l-8,11 -11,2 -15,6M1931,1095l-11,-7 -12,-12 -11,-10M1896,1061l1,5M1932,1039l10,5 9,4 13,6M1954,1085l-6,1 -6,1M1981,1099l0,9 0,8 -7,9M1981,1099l-1,-3M1790,456l-8,-13 -14,0 -7,-12M1801,431l-3,-5M1427,511l4,6M1431,517l-2,7 -3,11 -3,5M1431,452l0,5M1427,511l0,-6 4,-4 1,-6M2411,525l-3,0M2408,525l-8,3 -11,10 -8,5M2381,543l4,9 1,10 7,8M2418,554l-6,6 -12,5 -6,5M2335,593l9,2 3,-5 9,2M2335,593l-1,8 -1,5 -2,5M2356,592l0,10 1,7 3,6M2360,615l-8,5 -6,-1 -7,4M2331,611l6,4 2,8M2313,637l9,-1 5,-3 8,0M2313,637l-3,-5 -3,-4 -3,-5M2335,633l0,-6 4,-4M2308,609l-1,7 -3,7M2308,609l9,4 5,-1 9,-1M2394,570l0,2M2394,572l5,5 6,8 5,6M2410,591l0,4 0,4M2490,832l3,5M2490,832l-4,-11 -1,-9 4,-10M2502,838l-4,-1 -5,0M2472,829l-6,7 -7,4 -5,5M2472,829l-3,-3 -6,-6 -1,-4M2454,845l-5,-8 1,-7 -4,-7M2462,816l-6,0 -3,5 -7,2M2472,829l6,2 5,2 7,-1M2462,816l2,-8M2457,792l5,-4 10,-3 5,-8M2457,792l-1,3M2494,794l-7,-3 -5,-8 -2,-6M2480,777l-3,0M2442,774l4,-4 3,-4M2442,774l6,3 3,9 6,6M2477,777l-3,-5 -8,-3 -3,-5M2449,766l6,-3 8,1M2518,769l-3,-5 -6,-3 -5,-7M2480,777l6,-6 4,-10 3,-6M2504,754l-6,2 -5,-1M2442,774l-3,0M2434,742l8,1M2434,742l-4,8 -2,8 -3,7M2442,743l3,9 5,6 -1,8M2425,765l4,2 6,3 4,4M2446,823l-5,0 -4,-4M2439,774l-1,6 -5,7 -5,4M2439,802l-5,-3 -2,-4 -4,-4M2278,458l-9,-5 -10,-4 -4,-7M2278,458l-4,7 -8,0 -6,8M2260,473l-5,0 -6,-8 -7,0M2251,445l4,-3M2251,445l-4,4 -5,8 -1,7M2241,464l1,1M2231,434l0,-5 0,-5M2231,434l-4,4 -4,2 -2,6M2221,446l-6,-4 -6,-1 -7,-5M2202,436l1,-5 -2,-5M2261,427l-2,6 -2,4 -2,5M2251,445l-5,-6 -11,0 -4,-5M2222,456l1,-5 -2,-5M2222,456l5,2 9,2 5,4M2222,456l-4,2 -3,6 -6,3M2209,467l-5,-9 -4,-7 -5,-6M2195,445l4,-4 3,-5M2181,450l8,0 6,-5M2236,507l0,-6 -7,-7 0,-8M2236,507l8,-1 4,-4 7,-5M2255,497l1,-2M2256,495l-8,-5 -6,-3 -8,-4M2234,483l-5,3M2277,494l-2,9 -1,6 -2,10M2277,494l-6,-4 -7,0M2264,490l-3,3 -5,2M2257,515l-2,-6 -1,-6 1,-6M2257,515l8,0 7,4M2260,473l4,4 -1,6 1,7M2242,465l-1,7 -5,3 -2,8M2209,467l-1,3M2208,470l2,5 5,5 4,6M2219,486l5,-1 5,1M2153,474l2,-7 -2,-7M2153,474l4,6 6,2M2159,456l-6,4M2159,456l6,-1 7,5 5,-1M2140,455l6,4 7,1M2140,455l-1,-7 3,-7M2142,441l6,-1 3,-3M2158,440l-7,-3M2158,440l3,8 -2,8M2173,435l-7,5 -8,0M2208,470l-6,1 -6,2M2196,473l-4,-5 -5,-4 -9,-4M1851,413l4,-2M1851,413l-1,5 1,8 -2,7M1855,411l5,4 10,-2 4,5M1874,418l1,8 -3,8M1840,377l-3,13 -3,6 -5,10M1859,392l-3,5 -1,8 0,6M1829,407l8,3 7,0 7,3M1823,434l2,-9 0,-10 4,-8M1825,452l7,0 2,5 7,-1M1825,452l-1,-5 -2,-7 1,-5M1841,456l5,-5 4,-3 3,-8M1897,365l2,5 -1,5M1878,385l4,1M1882,386l7,-4 4,-4 5,-3M1799,373l4,7 6,2M1809,382l1,7 -2,6 0,5M1808,400l-3,2M1808,344l-4,11 -1,9 -4,9M1836,368l-9,8 -11,3 -7,3M1829,406l-9,0 -4,-6 -8,0M1798,426l3,-9 5,-6 -1,-9M1956,473l-2,-5 -4,-3 -5,-4M1945,461l-6,4 -8,1M1931,466l-1,8 5,7M1947,446l5,-2 4,-3 6,-1M1947,446l-2,7 0,8M1962,440l5,5 4,6M1968,470l2,-6 -1,-5 2,-8M1988,431l4,5M1988,431l-6,-2 -10,2 -7,-1M1965,430l0,5 -3,5M1971,451l6,2 7,-4 5,1M1992,436l0,7 -3,7M1917,569l-4,-3 -4,-5 -5,-3M1904,558l3,-6 3,-3 5,-5M1915,541l6,1 6,-2 6,-2M1937,544l-4,-6M1937,544l-3,7 -4,7M1930,558l-5,2M2082,495l1,-5 -2,-4M2081,486l-6,-7 -8,-2M2153,474l-7,4 -8,0M2138,478l0,5 -2,5M1862,471l-1,6 -2,5 1,5M1862,471l4,-4 5,-3M1871,464l5,0M1887,478l-5,-5 -2,-7M1887,478l-4,5 -2,8 0,8M1876,464l4,2M1881,499l-8,-5 -8,0 -5,-7M1841,456l3,4 1,5M1845,465l6,4 5,3 6,-1M1859,441l4,6 3,11 5,6M1884,442l-2,9 -3,7 -3,6M1904,458l-6,2 -11,1 -7,5M48,1183l3,5 -1,7 1,9M48,1183l8,2 6,-3 8,3M70,1185l3,6 -2,6M51,1204l8,-2 7,-5 5,0M140,1267l-5,-3 -6,-3 -7,-1M99,1281l3,-8 16,-6 4,-7M49,1258l3,-1M52,1257l12,-1 9,4 10,3M122,1260l-3,-5 -3,-4M116,1251l-9,-2 -13,0 -6,4M83,1263l3,-5 2,-5M116,1251l-2,-9 4,-6 -3,-7M158,1205l-10,1 -7,0 -10,1M131,1207l-2,4 -4,2M125,1213l-2,5 0,6M200,1074l-7,-3M195,1054l0,7 -3,4 1,6M111,1057l-3,5 -1,7 -3,5M111,1057l3,-1M114,1056l5,4M119,1060l1,6 -4,6 -1,5M115,1077l-5,-1 -5,0M105,1076l-1,-2M93,1055l6,0 4,1 8,1M96,1070l4,2 4,2M120,1023l-2,11 -5,11 1,11M134,1062l-6,-2M134,1062l5,-4 5,-5M128,1060l1,-10 6,-4 1,-10M136,1036l6,4 4,6M144,1053l2,-7M123,1061l5,-1M123,1061l-4,-1M127,1021l2,5 2,6 5,4M182,1097l-5,-6M177,1091l-6,-1 -5,2 -5,-1M156,1098l5,-7M156,1098l2,6M172,1111l-6,1 -4,-3M158,1104l4,5M123,1061l1,6 2,5M115,1077l3,1M126,1072l-4,4 -4,2M343,1037l6,0 6,0M232,1243l-8,8 2,11 -8,8M232,1243l7,6 12,-1 7,2M262,1266l-3,-6 -1,-5 0,-5M269,1300l4,-12 -3,-8 -2,-10M244,1305l-3,-8 -4,-7 -6,-4M206,1301l7,-3 3,-9 9,-4M1653,1444l-9,1 -6,3 -8,8M1613,1449l5,3 4,3M1612,1448l-2,-7 1,-3 -2,-6M1630,1456l-4,1 -4,-2M1616,1531l-8,1 -8,-1 -8,0M1609,1563l-3,-6 -6,-1 -6,-4M1594,1552l-3,-7 0,-5 1,-9M1625,1517l-7,-6 1,-6 -8,-5M1611,1500l-7,6 -11,2 -7,7M1586,1515l1,6 0,6M1592,1531l-5,-4M1664,1479l-3,7 -6,9 -2,8M1664,1479l-8,0 -7,-5 -9,-1M1636,1487l2,-7 2,-7M1636,1487l3,7 6,4 2,5M1647,1503l6,0M1630,1456l3,8 5,4 2,5M1622,1455l-4,10 2,13 -8,15M1612,1493l8,-5 8,-2 8,1M1611,1500l1,-6M1630,1517l5,-5 5,-5 7,-4M1659,1508l-6,-5M1659,1508l3,7 -1,10 -1,8M1725,1550l0,-2M1685,1548l7,-7 10,-4 5,-5M1707,1532l7,4 6,6 5,6M1679,1454l4,7 8,-2 6,7M1697,1466l6,-5 8,2 7,-6M1718,1457l2,-8 -1,-8M1888,1057l-1,-13 -4,-5 -6,-9M1888,1057l-11,11 -13,4 -14,2M1877,1030l-13,3 -17,5 -16,0M1850,1074l-2,-11 -17,-11 -1,-11M1830,1041l1,-3M1879,1023l-2,7M1828,1028l-1,5 4,5M1808,1053l7,-6 10,-2 5,-4M1808,1053l-13,-8 -6,-13 -11,-6M1801,1064l4,8 2,9 -2,11M1801,1064l-14,-3 -9,1 -13,0M1805,1092l-11,1 -15,6 -11,-1M1765,1062l-4,10 -3,6 -1,8M1757,1086l2,5 6,2 3,5M1811,1098l-4,-2 -2,-4M1811,1098l6,0 5,2 6,0M1828,1100l7,-2 5,-4 7,-4M1847,1090l3,-4 0,-6 0,-6M1808,1053l-6,4 -1,7M1757,1047l1,5 4,3 3,7M1811,1098l-1,8 -3,6 -5,9M1765,1120l-2,-9 7,-5 -2,-8M1802,1121l-6,5 -7,3M1738,1088l-6,-7 -5,-7 -3,-7M1738,1088l6,2 7,-3 6,-1M1737,1041l-3,12 -9,6 -1,8M1773,1198l1,-7 1,-7M1773,1198l7,7 6,5 8,3M1789,1172l8,0 5,6 7,1M1794,1213l7,-4 4,-2 5,-6M1810,1201l0,-7 1,-9 -2,-6M1762,1123l-9,1 -16,2 -8,2M1729,1128l-5,9 -2,16 2,11M1738,1088l-6,11 -5,4 -8,10M1729,1128l-4,-6 -2,-5 -4,-4M1773,1198l-6,2 -7,4 -8,4M1638,1195l6,3 10,-2 6,4M1671,1188l-6,6 -5,6M1671,1188l-3,-7 3,-9 0,-7M1704,1205l-12,-9 -12,-1 -9,-7M1704,1205l2,-13 11,-9 4,-17M1794,1213l2,6 -1,7M1795,1226l-2,7 -6,4M1787,1237l-6,2 -8,0 -5,3M1245,1244l-7,7 -8,7 -8,3M1245,1244l11,6 7,-1 11,8M1243,1284l7,-4 9,1 6,0M1274,1257l-3,8 -5,7 -1,9M1265,1281l3,7 8,7 4,9M1287,1335l4,-7 0,-11 -1,-9M1205,1224l7,-5 3,-7M1245,1244l-4,-10 1,-5 2,-10M1215,1212l11,3 6,3 12,1M1179,1178l11,5 10,2 12,1M1215,1212l-3,-9 3,-8 -3,-9M1204,1141l3,12 11,10 5,12M1204,1141l-7,3 -5,4 -7,3M1185,1151l-3,7 -1,10 -3,5M1212,1186l5,-7 6,-4M1775,970l-2,-5M1773,965l-11,-2 -6,2 -10,-2M1731,1004l-4,-5 1,-6 -1,-5M1746,963l-4,8 -9,6 -6,11M1719,1113l-7,-5 -8,1M1679,1117l9,-1 7,-6 9,-1M1724,1067l-8,-2 -10,7 -8,-2M1704,1109l1,-14 -4,-13 -3,-12M994,1203l2,-4 0,-5 1,-7M962,1173l10,7 14,-3 11,10M985,1121l0,12 7,9 4,10M985,1121l-6,1 -5,4 -6,-1M968,1125l-8,8 -1,8 -3,8M956,1149l2,4 3,6 3,7M1023,1122l4,6 3,5M989,1116l-4,5M981,1089l-6,-3 -7,1 -9,-4M945,1111l6,7 12,2 5,5M945,1111l-1,-4 0,-4M959,1083l-5,8 -3,6 -7,6M1005,1158l-1,7 4,5 -1,6M1007,1176l-6,6 -4,5M957,1078l-7,-1 -7,-7 -4,-5M957,1078l9,-11 5,-7 3,-13M939,1065l4,-8 -1,-5 5,-7M947,1045l9,-4 6,0 10,4M972,1045l2,2M959,1083l-2,-5M972,1015l3,-7 7,-3M972,1015l4,11 -3,11 -1,8M944,1103l-6,-8 -13,-2 -7,-8M939,1065l-5,4 -7,-1 -5,2M922,1070l-4,7 0,8M1185,1151l-4,-7 -10,-4 -6,-10M1150,1138l6,-1 4,-6 5,-1M1135,1157l-7,-1 -8,1M1120,1157l-7,-5 -5,-7 -3,-7M1105,1138l6,-9 10,-10 7,-5M1118,1068l-9,-6 -5,-1 -11,-3M1108,752l5,3 5,4 4,4M1124,777l-1,-7 -1,-7M1124,777l-10,4 -6,3 -9,8M1099,792l-3,-1M1147,801l-14,7 -8,3 -7,11M1147,801l-2,-6 2,-5M1147,790l-8,-5 -5,-4 -10,-4M1107,816l-6,-7 3,-10 -5,-7M1122,763l7,-8 4,-7 7,-7M1136,731l1,5 3,5M950,1013l-6,-8 2,-15 -4,-7M950,1013l-4,5 -5,2M941,1020l-5,-3 -10,0 -4,-4M922,1013l3,-7 -4,-9 4,-6M942,983l-8,1 -3,4 -6,3M972,1015l-7,0 -8,1 -7,-3M958,977l-7,2 -8,2M943,981l-1,2M941,1037l1,-6 0,-6 -1,-5M941,1037l2,5 4,3M900,973l14,-2 1,-10 13,-4M929,946l-1,6 0,5M900,982l-1,-5 1,-4M900,982l7,4 11,3 7,2M1719,821l-4,-6 -5,-5M1719,821l-5,3 -5,3M1709,827l-7,-2M1702,825l-1,-7 1,-6M1702,812l8,-2M1731,800l-7,1 -6,-3M1731,800l2,7M1718,798l-4,2M1733,807l-5,4 -2,7 -2,4M1724,822l-5,-1M1714,800l-1,6 -3,4M1502,492l-1,6 -8,5 -1,5M1492,508l2,8 5,5 0,9M1492,508l-6,4 -8,-2 -10,0M1480,533l-6,-4 -6,-1 -5,-7M1480,533l7,-3 5,-1 7,1M1468,510l-1,6 -4,5M1055,1316l0,5 -4,7 -3,4M1055,1316l-7,-6 -11,-6 -3,-8M1021,1299l6,-4 7,1M1021,1299l-6,7 -5,6 -2,8M1099,1335l-5,-11 -13,-4 -9,-11M1072,1309l-5,2 -7,2 -5,3M1044,1270l-4,9 0,9 -6,8M1072,1309l3,-6 0,-3 3,-7M1068,1269l2,8 2,7 6,9M1014,1346l3,-7M1002,1280l3,8 9,4 7,7M1112,1223l-10,-13 -7,-7 -9,-17M1114,1223l1,-10 13,-6 2,-9M1130,1198l-7,-7 -3,-7 -10,-8M1086,1186l6,-4 11,-1 7,-5M1136,1240l-10,-6 -6,-2 -6,-9M1136,1240l9,3 10,-2 7,-3M1147,1193l-5,2 -7,1 -5,2M1120,1157l-5,5 -4,8 -1,6M1122,1273l-6,1M1122,1273l7,2 4,2 5,5M1116,1274l-3,5 -5,6 -2,4M1138,1282l-7,12 1,10 2,15M1106,1289l7,8 5,12 1,13M1134,1319l-7,3 -8,0M1094,1236l9,-3 4,-3 5,-7M1136,1240l-7,12 -2,11 -5,10M1091,1252l8,5 10,6 7,11M1160,1280l-7,0 -6,3 -9,-1M1078,1293l10,-3 8,0 10,-1M1153,1326l-5,-3 -8,1 -6,-5M1104,1336l4,-6 4,-3 7,-5M1157,1359l3,-5 0,-6M1194,1342l4,2 2,4M1296,1306l10,6 16,4 6,8M1328,1324l-1,13 4,11 -3,10M1328,1358l-8,0 -6,4 -9,2M1338,1423l-5,9 -8,5 -7,7M1293,1409l5,-7M1293,1409l3,6 1,6 -2,7M1318,1444l-9,-3 -8,-7 -6,-6M1307,821l-7,1 -5,3 -5,3M1290,828l-3,-4 -3,-4M1284,820l5,-9 4,-7 1,-12M1410,788l-5,-7 -8,-3M1410,788l5,-3 0,-9 4,-5M1547,1350l1,10 -1,6 -4,8M1547,1350l5,-3 6,-1M1543,1374l6,6 10,4 10,5M1568,1429l10,0 6,-1 9,-6M1645,1407l-5,-17 3,-10 3,-13M1610,1390l4,-9 1,-9 2,-11M1617,1361l8,4 13,0 8,2M1584,1363l10,-2 6,-3 9,-6M1617,1361l-6,-3 -2,-6M1687,1379l-12,-4 -8,-14 -10,-1M1646,1367l6,-3 5,-4M483,1082l2,-7 1,-6 3,-6M479,1043l3,9 3,5 4,6M615,1259l4,-5 7,-4 4,-2M668,1258l-5,-2 -3,-6 -8,-3M630,1248l8,-1 9,-1 5,1M624,1216l4,8 0,15 2,9M624,1216l-6,-4 -5,1 -6,-3M561,1259l-1,-4 0,-4M516,1261l-2,-7 5,-6 1,-10M457,1312l3,-6 7,-2M457,1312l-8,-2 -5,-1 -8,2M467,1304l-1,-11 -6,-6 -5,-8M436,1311l-2,-12 -9,-6 -2,-10M455,1343l-1,-11 5,-9 -2,-11M490,1306l-8,-3 -9,0 -6,1M421,1326l7,-6 4,-1 4,-8M492,1266l-3,-6 -10,-1 -3,-5M1066,1196l-11,-1 -8,-5 -8,0M1066,1196l6,-4 4,-3 5,-4M1081,1185l-1,-6 -3,-9 0,-7M1039,1190l2,-10 -3,-14 5,-7M1077,1163l-6,-4 -5,0 -4,-4M1043,1159l9,1 3,-5 7,0M1067,1221l-1,-7 0,-11 0,-7M1020,1225l9,-8 5,-15 5,-12M1086,1186l-5,-1M1105,1138l-6,-1M1099,1137l-8,11 -7,6 -7,9M1029,1144l4,8 7,0 3,7M1007,1176l10,7 10,5 12,2M1090,1128l-1,-8 1,-12 2,-11M1090,1128l-7,-4 -10,2 -10,0M1060,1124l3,2M1099,1137l-3,-6 -6,-3M1062,1155l3,-9 1,-10 -3,-10M1039,1093l8,6 5,3 7,8M1076,1077l4,7 2,6M945,1111l-6,2 -3,5M956,1149l-5,-2 -7,-2 -7,1M936,1118l1,11 0,9 0,8M937,1146l-7,4M878,1198l5,-5 5,-5M878,1198l8,4 6,13 7,6M888,1188l8,2 6,-2 5,-1M907,1187l4,5 1,8 2,5M899,1221l3,-7 10,-2 2,-7M860,1238l7,-14 0,-9 -1,-14M860,1238l8,2 6,5M899,1225l0,-4M866,1201l6,-4 6,1M930,1210l-7,-5 -9,0M926,1173l-4,2 -5,0M917,1175l-4,5 -3,4 -3,3M860,1173l7,-2 4,-7M860,1173l-6,-3 -2,-6 -6,-4M871,1164l-3,-4 -4,-7 0,-5M864,1148l-8,-1 -8,3M848,1150l1,5 -3,5M866,1201l-3,-6 -6,-2M857,1193l2,-6 -2,-8 3,-6M884,1166l-7,-2 -6,0M884,1166l-1,7 4,6 1,9M857,1193l-5,-1 -7,0 -8,1M838,1166l0,7 1,12 -2,8M838,1166l3,-4 5,-2M847,1291l-4,-9 -7,-10 -6,-9M860,1238l-8,3 -6,3 -10,0M830,1263l2,-5 3,-8 1,-6M791,1280l-14,-7 -23,2 -14,2M791,1281l-5,14 -12,3 -5,14M769,1312l-9,0 -7,5 -8,-1M808,1308l-3,-12 -7,-8 -7,-7M830,1263l-15,6 -9,0 -15,10M724,1281l5,2M491,1131l-3,7 1,11 -3,9M463,1164l7,-2 8,-2 8,-2M1783,1277l4,-3 4,-1M1787,1237l2,5 5,5 2,9M1796,1256l-1,5 -1,7 -3,5M1814,1295l-5,-5 -2,-6 -1,-6M1791,1273l7,3 8,2M1869,1310l-6,-5 -6,-3M1869,1310l3,-4 0,-8 6,-5M1878,1293l-1,-2M1889,1300l5,-5 2,-6M1889,1300l-6,-4 -5,-3M1882,1284l8,-1 6,4M1896,1287l0,2M1834,1278l7,6 -4,10 7,8M1834,1278l7,-1 8,-1M1844,1302l1,-8 8,-4 1,-10M1849,1276l5,4M1833,1277l-7,6 -3,6 -6,5M1833,1277l1,1M1843,1304l-9,-3 -8,0 -9,-7M1863,1280l-4,2 -5,-2M1863,1280l3,7M1790,1371l-15,-3 -11,7 -13,-5M1790,1371l-7,-9 -5,-14 -2,-13M1776,1335l-2,0M1774,1335l-8,12 -14,5 -3,10M1749,1362l0,6M1749,1368l2,2M1797,1330l-8,2 -6,1 -7,2M1773,1334l1,-6 -1,-6 0,-7M1791,1302l-9,3 -3,8 -6,2M1744,1327l-3,7 -6,6M1744,1327l9,5 9,0 11,2M1735,1340l5,8 2,7 7,7M1708,1360l6,-6 7,-8 4,-6M1725,1372l8,-2 7,2 9,-4M1725,1340l6,1 4,-1M1907,1255l4,-6 2,-7M1907,1255l-6,0M1901,1255l-1,-5 1,-7 0,-5M1913,1242l-6,-3 -6,-1M1926,1242l1,5 0,7 -3,6M1926,1242l-4,-2M1920,1264l4,-4M1920,1264l-6,-6 -7,-3M1922,1240l-4,1 -5,1M1901,1276l-4,5 -1,6M1868,1271l-2,5 -3,4M1868,1271l6,0 7,1M1882,1273l-1,-1M1881,1272l1,-7 1,-6M1883,1259l6,-3 7,1M1877,1252l2,5 4,2M1877,1252l-4,3 -4,1M1867,1270l0,-7 2,-7M1891,1167l-6,5 -7,3M1878,1175l3,5 2,5 1,8M1883,1148l8,1 6,-4 8,-4M1909,1146l-2,7 -2,8 -5,7M1940,1264l-7,1 -4,-2 -5,-3M1940,1264l1,6M1920,1264l-2,6M1941,1270l-5,4 -5,4M1931,1278l-6,-5 -7,-3M1896,1289l6,3 4,5M1907,1296l6,-5 1,-8M1901,1255l-4,2M1918,1270l-4,2 -2,5M1907,1209l1,-5 -2,-5M1907,1209l-5,2 -5,1M1906,1199l-6,1 -8,0 -6,-1M1909,1194l-3,5M1909,1194l-5,-5 -5,-5M1897,1225l-6,-1 -6,-1M1885,1223l-2,-4 -1,-4M1882,1215l3,-4 3,-4M1884,1195l-5,2 -5,2 -8,0M1882,1215l-4,1 -5,0M1873,1216l-4,-2 -3,-3M1866,1211l0,-5 -1,-5M1866,1199l-1,2M1934,1181l-4,-2 -5,-2 -5,-4M1934,1181l2,6 -1,5M1914,1193l6,4 7,2M1914,1193l1,-6 1,-7 2,-6M1918,1174l2,-1M1935,1192l-4,4 -4,3M1946,1171l-4,8 -8,2M1946,1171l-3,-4 -5,-8 -6,-3M1926,1156l0,5 -4,7 -2,5M1909,1194l5,-1M1902,1171l8,1 8,2M1902,1315l-2,-4 -1,-4M1902,1315l-8,0 -5,4 -7,2M1899,1307l-5,-2 -5,-3M1889,1302l-4,5 -4,4 -4,7M1877,1318l5,3M1892,1340l-5,-5 -3,-6 -2,-8M1899,1340l3,-7 1,-9 -1,-9M1889,1300l0,2M1906,1297l-4,4 -3,6M1872,1317l5,1M1872,1317l-3,-7M1817,1315l6,1 4,6M1817,1294l-3,1M1872,1317l-6,5 -1,8 -7,4M1840,1315l9,5 5,6 4,8M1876,1352l-8,-4 -6,-5 -4,-7M1858,1334l0,2M2002,1313l-7,4 -8,-1M1987,1316l-3,-5 -2,-5M2003,1314l0,5 -5,6 1,6M1985,1322l2,4 1,4M1985,1322l2,-6M1988,1330l6,1 5,0M1993,1417l1,6 -3,6M1993,1417l8,-2 5,-6M2015,1429l-2,-6 -3,-7 -3,-6M2015,1429l-6,-2 -10,0 -7,3M1981,1403l7,4 1,5 4,5M1968,1407l-2,4 -1,8 -3,4M1962,1423l12,1 5,2 12,3M1989,1389l7,-1 5,3M2001,1391l-1,6 6,6 0,6M1991,1441l2,-5 -1,-6M1970,1452l-2,-8 -10,-2 -4,-10M1962,1423l-4,3 -3,3M1954,1432l1,-3M2029,1425l-4,5 -5,1M2029,1425l3,6 10,3 3,5M2045,1439l-1,6 -3,7 -4,7M2019,1438l1,-7M2019,1438l2,8 6,8 3,7M2015,1429l5,2M2007,1410l5,-4 6,0 7,-1M2025,1405l-1,6 4,7 1,7M2000,1450l7,-7 5,-4 7,-1M2027,1464l3,-3M2019,1382l-8,1 -3,3 -7,5M2019,1382l2,0M2025,1405l1,-3M2021,1382l-1,8 4,5 2,7M1985,1322l-8,1 -8,-3M1980,1339l5,-4 3,-5M1980,1339l-4,-4 -7,-2 -4,-2M1980,1339l3,8 -1,8M1926,1345l3,-4 0,-4M1945,1345l-2,-5 -3,-5M1929,1337l6,-1 5,-1M1962,1332l-5,-4 -5,-1 -5,-2M1940,1335l3,-5 4,-5M2017,1316l2,7 -3,8M2000,1332l7,1 2,-3 7,1M2005,1364l-5,-3 -7,-2M2005,1364l6,-5 2,-3 7,-3M1993,1359l2,-5 6,-4 1,-5M2002,1345l5,0 4,-1M2011,1344l3,5 6,2M2020,1353l0,-2M2019,1382l-2,-6 -7,-6 -5,-6M1989,1360l4,-1M2000,1332l-2,6 4,7M2017,1332l-4,5 -2,7M2017,1332l-1,-1M2021,1333l-4,-1M2025,1345l-5,6M2075,1329l5,-1M2075,1329l-2,-4 -3,-3M2080,1328l1,-5 1,-5M2070,1322l4,-5 1,-6M2075,1311l3,4 4,3M2080,1328l4,3 6,2M2094,1324l-3,4 -1,5M2094,1324l-4,-2 -2,-4M2082,1318l6,0M2156,1153l-5,4 -5,4M2146,1161l-5,-5 -5,-1 -6,-3M1945,933l-2,6 2,7M1945,933l9,-2 7,-1 10,-3M1971,927l4,2 3,3M1978,932l0,5 -4,7 2,6M1976,950l-5,6 -5,2 -5,2M1961,960l-6,-2 -5,-5 -5,-7M1934,922l-5,3 -4,2 -6,2M1934,922l7,4 4,7M1919,929l-1,6 3,7 -2,5M1919,947l5,3 5,3M1945,946l-6,4 -4,2 -6,1M1870,876l1,-7 3,-7M1870,876l5,3 6,1 4,3M1885,883l5,-6 2,-7M1875,862l4,1 6,2 6,0M1892,870l-1,-5M1905,922l-3,-4 -1,-6 1,-8M1905,922l-10,6 -8,6 -7,7M1902,904l-9,-1 -7,4 -5,0M1881,907l-6,5 -3,7M1872,919l0,7 -2,6M1934,922l3,-4 0,-8 2,-5M1919,929l-6,-5 -8,-2M1939,905l-10,-7 -5,-3 -11,-2M1913,893l-3,6 -7,1M1903,900l-1,4M1881,949l10,3 6,-1 10,4M1919,947l-6,4 -6,4M1885,883l-7,4 -3,8M1885,883l7,6 6,5 5,6M1875,895l5,6 1,6M1829,962l7,-9 -1,-5 6,-10M1829,962l0,7M1844,904l7,-3 8,0M1860,880l-4,-3M1860,880l0,7 3,7M1859,901l4,-7M1872,919l-7,-5 1,-7 -7,-6M1870,876l-4,3 -6,1M1862,858l5,4 7,0M1875,895l-6,0 -6,-1M2033,922l7,-5 2,-8M2042,909l-3,-7 -4,-6M1976,950l6,5 8,4 7,7M1967,984l-4,-4 -2,-5 -4,-4M1957,971l1,-6 3,-5M1990,1066l7,0 7,-2M1977,1050l2,-4 1,-4M2004,1064l1,-8 3,-8 1,-6M2009,1042l-4,-3 -4,-4M1980,1042l5,-3 9,-4 7,0M1906,1010l5,-10 -3,-12 3,-9M1906,1010l9,6 10,4 8,2M1892,1012l7,-1 7,-1M1896,1061l-4,-1 -4,-3M1964,1012l6,2M1970,1014l4,11 3,10 3,7M1957,971l-7,4 -7,3 -7,0M1929,953l4,6 2,9 -2,9M1907,955l0,9 4,6 1,8M1883,1122l-10,-3 -3,-9 -8,-2M1858,1098l3,5 1,5M1858,1098l10,-6 12,2 8,-3M1888,1091l2,6 4,5M1855,1130l4,-9 2,-5 1,-8M1904,1130l-6,-4 -5,-3 -5,-3M1828,1100l4,8 3,10 0,14M1847,1090l6,4 5,4M1897,1066l-5,7 0,13 -4,5M2172,1083l5,-2 4,-2M2149,1074l-1,-2M2181,1079l-1,-6 -4,-5 -2,-7M2174,1061l-7,0 -6,-2M2161,1059l-4,5 -3,5 -6,3M1483,481l-8,4 -4,7 -8,4M1476,459l-5,5 -10,1 -5,6M1456,471l-3,6 -1,5 2,8M1463,496l-4,-4 -5,-2M1502,492l-5,-6 -8,-2 -6,-3M1468,510l-4,-6 -1,-8M1431,457l6,4 9,5 10,5M1432,495l8,0 7,-1 7,-4M1431,517l10,5 5,1 9,3M1455,526l5,-2 3,-3M2360,586l-7,-7 -4,-10 -5,-7M2360,586l7,-5 3,-7 2,-5M2372,569l-2,-4 -4,-6 -2,-4M2364,555l-8,0 -5,3 -7,4M2393,570l-8,-3 -4,0 -9,2M2380,590l4,-7 9,-4 1,-7M2380,590l-6,-2 -9,0 -5,-2M2381,543l-5,1 -4,-2M2372,542l-7,5 -1,8M2420,635l3,4 0,5M2423,644l9,0 10,5 8,4M2427,610l1,6 1,7M2335,633l5,5 6,7 1,10M2360,615l5,1 3,3M2368,619l2,5 1,5 -1,6M2347,655l8,-6 5,-7 10,-7M2410,599l-9,3 -9,3 -8,-3M2410,599l-4,11 -7,3 0,11M2399,624l-6,-1 -5,-7 -9,-2M2384,602l-3,6 -2,6M2380,590l1,7 3,5M2402,632l-3,-8M2368,619l6,-1 5,-4M2370,635l8,3 5,5 4,4M2356,592l4,-6M2480,870l0,-7 -3,-6M2480,870l-8,5 -9,1 -9,5M2477,857l-8,-1 -7,-1 -9,-4M2453,881l2,-8 -6,-8 1,-12M2453,851l-3,2M2492,881l-4,-7 -8,-4M2454,845l-1,6M2511,898l-6,-3 -9,-6 -4,-8M2458,892l-1,-6 -3,-5M2458,892l5,3 6,3 8,1M2492,881l-4,7 -5,7 -6,4M2284,762l-6,2 -4,5 -3,3M2284,762l-6,-5 -2,-7M2276,750l-8,2M2268,752l-2,7 -4,7M2262,766l4,4 5,2M2324,751l-7,2 -4,0 -7,-2M2324,751l3,-4 3,-5M2455,662l-5,8 -8,2 -5,9M2423,644l-1,5 -4,5 -2,5M2437,681l-7,-7 -4,-10 -10,-5M2318,704l5,-7 6,-4 6,-6M2335,593l-7,-4 -4,-4 -2,-7M2322,578l0,10 -7,14 -7,7M2302,558l2,7 6,6 6,4M2302,558l0,-6 0,-6M2302,546l6,-4 6,-6M2314,536l6,1 8,3 6,4M2334,544l4,5 0,5 1,7M2339,561l-5,6 -6,7 -7,3M2321,577l-5,-2M2344,562l-5,-1M2295,586l1,7 -2,6M2295,586l5,-4 8,-2 8,-5M2308,609l-5,-4 -4,-5 -5,-1M2313,527l-1,5 2,4M2313,527l-4,-5 -7,-2 -6,-5M2302,546l-4,-2 -7,0 -5,-3M2241,551l-2,-6 0,-4 1,-6M2260,537l-2,7 2,4 1,7M2260,537l-7,-2 -4,-5M2240,535l5,-2 4,-3M2257,515l-4,1 -3,4M2236,507l-1,3M2250,520l-6,-4 -5,-1 -4,-5M2272,519l4,7M2276,526l-4,5 -7,3 -5,3M2250,520l-1,5 0,5M2219,486l-3,6M2216,492l-2,6 2,6M2216,504l3,4 6,1 3,6M2235,510l-3,4 -4,1M2408,525l-7,-10 -11,0 -10,-10M2372,542l-5,-3 -4,-5 -1,-5M2380,505l-6,4 -5,2M2369,511l-5,6 1,7 -3,5M2334,544l6,-5 3,-3 3,-5M2346,531l8,1 8,-3M2276,526l3,1M2296,506l-9,-3 -4,-4 -6,-5M2307,437l1,8 3,7M2307,437l-9,-2 -2,-4 -9,1M2311,452l-9,3 -3,6 -9,5M2287,432l0,9 -8,10 -1,7M2278,458l6,4 6,4M2320,412l1,4 1,3M2322,419l-7,5 -3,9 -5,4M2292,474l-2,8 -6,8 -7,4M2292,474l0,-4 -2,-4M2375,461l-4,7 -8,3 -3,7M2375,461l9,4 7,1 8,6M2360,478l8,5 7,3 6,8M2381,494l7,-3 4,-11 7,-3M2399,477l0,-5M2401,469l-2,3M2370,443l-1,6 6,4 0,8M2418,497l-5,-7 -5,-9 -9,-4M2380,505l0,-6 1,-5M2363,442l-6,-3 -2,-7 -6,-4M2349,428l-6,-1 -6,2M2337,429l-3,7 -3,4 1,8M2332,448l4,5 7,1 4,4M2322,419l4,5 7,3 4,2M2318,455l-7,-3M2318,455l7,-5 7,-2M2127,762l3,4M2144,749l-6,0 -6,3 -4,1M2144,749l1,6 1,4 -2,6M2144,765l-7,2 -7,-1M2318,704l5,7 0,8M2284,762l4,4 5,0M2276,750l0,-8 4,-5M2296,732l-5,2 -6,2 -5,1M2235,573l5,-2 6,0M2235,573l-3,-3 -3,-3M2246,571l3,-4 3,-4 3,-7M2229,567l2,-5 -1,-6M2090,575l6,1 5,-2M2090,575l-3,-6 -3,-7M2094,548l5,3 6,0M2094,548l-3,5 -6,3M2105,551l2,5 2,5M2084,562l1,-6M2101,574l3,-7 5,-6M2101,574l4,5 4,5M2109,561l4,2 4,2M2117,565l4,4 3,5 0,7M2124,581l-1,2M2109,584l7,-3 7,2M1855,872l-5,-4 -4,-7 -4,-3M1832,867l1,7 3,3 3,7M1832,867l3,-3 1,-5M1842,858l-6,1M1842,858l4,-5 5,-1 5,-5M1828,847l6,4 2,8M1828,847l0,-5 2,-4M1850,838l-7,-1 -5,-4M1850,838l3,3 3,4M1830,838l3,-4 5,-1M2113,636l0,-4 -2,-4M2113,636l-1,4 -4,7 -1,4M2111,628l-1,-1M2090,626l5,1 7,2 8,-2M2090,626l-2,7 -4,5M2076,611l6,1 5,3M2090,626l0,-6 -3,-5M1849,585l2,-7 1,-5 2,-4M1849,585l-2,1M1854,569l-3,-7 -8,-3M1843,559l-3,6 -3,3 -6,4M1847,586l-5,-6 -4,-3 -7,-5M1842,641l-7,2 -6,4M1842,641l-2,-5 0,-5M1830,625l5,2 5,4M1830,625l-7,2 -5,3M1829,647l-6,-4 -5,-6M1803,663l-1,7 -2,5 -3,4M1812,686l-5,-1 -6,-4 -4,-2M1795,656l4,-6 4,-5M1803,645l8,0M1829,647l-2,5 0,6 -3,6M1846,665l-5,1 -9,1 -5,3M1846,665l2,-1M1842,641l6,4M1848,664l-1,-6 3,-8 -2,-5M1884,652l2,3M1884,652l4,-5 -1,-7 1,-6M1888,634l3,3 5,1 7,1M1903,639l-2,7 0,6 -3,6M1886,655l7,-1 5,4M1862,681l6,4 8,0M1862,681l1,-7 -2,-7M1861,667l4,-2M1865,665l8,0 6,5M1876,685l3,-4 3,-4M1882,677l-3,-7M1898,678l1,-6 1,-7 -1,-6M1898,678l-7,0 -5,-3 -4,2M1886,655l-2,6 -2,3 -3,6M1915,639l-4,-2 -5,0M1915,639l1,5 2,3M1903,639l3,-2M1899,659l6,2 6,-3M1911,658l6,-4 1,-7M1931,650l0,-8 4,-6M1935,636l-6,-4 -3,-5M1915,639l3,-4 3,-6 5,-2M1930,651l-5,-4 -7,0M2151,437l2,-8 -1,-7M2142,441l-2,-5 -6,-1 -5,-4M2129,431l3,-5 5,-4 3,-5M2203,524l7,-2 7,0 8,0M2220,544l7,-5 2,-8M2229,531l-2,-4 -2,-5M2197,518l8,-2 3,-8 8,-4M2228,515l-3,7M2240,535l-6,-2 -5,-2M2196,473l-4,5 -4,8 -2,8M2178,493l4,1 4,0M2216,492l-11,2 -9,2 -6,1M2186,494l4,3M2190,497l4,5 1,7 1,9M2194,551l3,-5 6,-3 2,-5M2194,551l-6,-3 -7,0M2181,548l0,-9 -5,-4 1,-7M2146,508l-3,6 0,6M2146,508l7,-3M2153,505l6,3 7,3M2146,525l-3,-5M2146,525l7,4 7,-1M2160,528l5,-1 3,-3M2152,494l1,5 0,6M2181,548l-4,2 -2,4M2175,554l-6,-2 -8,-4 -8,-2M2153,546l0,-5 5,-6 2,-7M1899,432l-10,-5 -6,-5 -4,-6M1879,416l1,-5 3,-5 5,-5M1888,401l6,0 7,7 7,0M1899,435l8,-1 10,5 10,0M1930,429l0,8M1930,429l-8,-2 -7,-5 -6,-9M1927,439l3,-2M1874,418l5,-2M1882,386l4,7 2,8M1898,375l5,2M1903,377l4,4 4,6 6,9M1825,452l-3,7 -7,5M1791,462l7,1 9,1 8,0M1927,439l-2,6 -1,7 -5,5M1919,457l-7,0 -7,2M1947,446l-4,-3 -8,-4 -5,-2M1931,466l-5,-1M1919,457l5,2 2,6M1953,500l2,-6 -6,-7 2,-5M1953,501l-8,-3 -8,1M1928,488l3,7 6,4M1953,501l-2,5 -2,7 0,7M1949,520l-6,1 -5,3M1938,524l-5,-4 -4,-3 -4,-3M1937,499l-3,5 -4,7 -5,3M2070,566l7,0 7,-4M2070,566l-6,-6 -1,-8M2085,556l-4,-5 -5,0 -7,-3M2069,548l-6,4M2051,564l0,-5 0,-5M2051,564l5,4 2,6M2070,566l-4,6M2058,574l4,0 4,-2M2055,551l4,1 4,0M2029,535l4,2 4,3M2029,535l-5,4 -3,5M2037,540l-1,7 1,6M2021,544l4,4 1,5M2026,553l4,2 4,0M2048,536l-6,1 -5,3M2013,564l4,-6 5,-1 4,-4M2051,564l-6,2 -5,2 -5,4M2094,547l-3,-9 4,-9 -1,-7M2094,547l-7,-6 -7,-1 -7,-4M2073,536l-1,-4M2072,532l4,-6 7,-4M2083,522l5,2 6,-2M2069,548l4,-6 0,-6M2065,530l7,2M2065,530l-6,4 -7,4M2070,504l3,9 7,3 3,6M2062,524l3,-6 -1,-6 3,-5M2062,524l3,6M2129,431l-5,1M2117,406l3,11 2,6 2,9M2140,455l-6,3M2138,478l-4,-5 -4,-6M2134,458l-1,5 -3,4M2128,519l8,-1 7,2M2128,519l-4,-6M2146,508l-6,-4 -4,-2 -8,-2M2124,513l2,-7 2,-6M2128,500l-1,-4M2060,483l-5,-3 -5,-3 -6,-2M2044,475l4,-4 2,-5 5,-4M2081,486l1,-5 3,-4 4,-5M2089,472l-7,-4 -6,-4M2068,471l4,-4 4,-3M2044,475l-4,1M2040,476l-7,-4M2033,472l1,-5 -3,-7 1,-7M2032,453l7,-3 7,-2 7,2M2053,450l1,0M1835,501l7,-1 6,-5M1835,501l-5,-6 -5,-2 -7,-5M1848,495l-2,-6 -6,-5 -6,-6M1834,478l-6,1 -5,-1M1823,478l-3,5 -2,5M1845,465l-5,4 -4,5 -2,4M1849,495l-1,0M1849,495l7,-2 4,-6M1815,464l4,7 4,7M1914,576l-5,2 -5,1M1904,558l-5,1 -4,0M1904,579l-5,-4 -6,-3M1895,559l-1,7 -1,6M1866,587l2,-7 5,-4M1866,587l1,7 3,6M1888,599l2,-6 -3,-7 -3,-7M1884,579l-5,-4 -6,1M1849,585l4,-1 7,0 6,3M1854,569l7,-3 7,1M1873,576l-2,-5 -3,-4M1849,495l3,7 2,5 1,7M1830,509l4,7 3,7M1830,509l3,-3 2,-5M1855,514l-3,5 -3,6M1837,523l6,2 6,0M1909,534l-7,3 -8,-1M1895,559l-4,-1 -2,-5M1894,536l-2,5 -1,7 -2,5M1893,572l-4,4 -5,3M1868,567l2,-7 3,-7M1889,553l-5,0 -7,0 -4,0M1851,544l-1,-7 2,-7M1851,544l8,5 3,2 9,1M1852,530l9,3 7,2 6,-3M1874,532l1,6 -4,7 0,7M1843,559l0,-7M1843,552l5,-3 3,-5M1871,552l2,1M52,1257l6,-8 1,-6 4,-8M88,1253l0,-4 -3,-4M85,1245l-7,-1 -6,-5 -9,-4M63,1225l0,5 0,5M96,1163l-4,4 -3,5M96,1163l7,0M90,1175l-1,-3M90,1175l6,2 6,-1M103,1163l0,5 3,5M102,1176l4,-3M121,1169l-3,2 -4,3M121,1169l5,1M126,1170l2,6 2,4 5,5M114,1174l0,6 2,5M131,1188l4,-3M131,1188l-5,0 -5,1M121,1189l-5,-4M102,1190l7,-2 7,-3M102,1190l1,-7 -1,-7M106,1173l4,1 4,0M164,1196l-5,-3 -5,-7 -3,-4M131,1207l2,-6 1,-7 -3,-6M151,1182l-5,1 -7,1 -4,1M114,1201l4,6 5,2 2,4M114,1201l1,-8 6,-4M162,1109l-4,5 -3,5M48,1133l7,1 6,-2M75,1142l4,-2M79,1140l-1,-7 -4,-6M65,1127l5,0 4,0M82,1140l-3,0M82,1140l6,-2 1,-7 5,-3M93,1127l-7,-4 -8,1M78,1124l-4,3M48,1133l2,5 -5,6 2,6M63,1136l0,7 -4,4 0,6M59,1153l-6,-2 -6,-1M48,1183l-4,-5M51,1204l-4,4 -1,6M44,1178l-5,-2M22,1145l6,3 4,2 6,5M39,1176l-3,-6 3,-7 -1,-8M38,1155l4,-3 5,-2M165,1053l1,-5M165,1053l0,8 5,4 1,8M177,1053l4,5 -1,9 3,6M177,1053l-3,-5 -6,-1M168,1047l-2,1M171,1073l4,2 4,2M179,1077l4,-4M148,1066l8,1M148,1066l-4,-6 0,-7M156,1067l1,-6 5,-4 3,-4M146,1046l7,0 7,3 6,-1M160,1075l-2,-4 -2,-4M160,1075l5,0 6,-2M193,1071l-4,2 -6,0M176,1027l-2,6 -4,8 -2,6M177,1091l3,-7 -1,-7M161,1091l-3,-5 -2,-5M156,1081l4,-6M200,1074l3,4 1,9 4,4M126,1072l4,2M118,1078l0,5 3,3M122,1087l3,-4 5,-1M130,1074l0,4 0,4M134,1062l3,4 1,5M130,1074l4,-1 4,-2M148,1066l-3,3 -3,3M138,1071l4,1M435,1068l-8,1 -9,6 -6,-2M402,1023l2,14 -5,11 1,17M412,1073l-5,-6 -7,-2M400,1065l-7,1 -9,3 -8,-1M219,1122l3,2M222,1124l-9,7 -6,6 -6,12M201,1149l-6,1 -7,2M171,1153l-1,-9 -2,-8 1,-9M171,1153l6,0 6,3M1612,1448l-14,4 -14,-4 -10,6M1574,1454l0,-7 -6,-9 -1,-7M1707,1532l-1,-8M1706,1524l-7,-4 -6,-2 -8,-2M1659,1508l7,2 7,-1 9,-1M1948,1473l-7,-9 -9,1 -4,-8M1954,1432l-6,12 -8,4 -12,8M1660,1200l1,7 0,7 2,8M1638,1229l-3,-5 -5,-6 -4,-9M1638,1229l5,1M1643,1230l6,-5 7,2 7,-5M1704,1205l1,3M1663,1222l5,2 4,3M1705,1208l-14,4 -5,11 -14,4M1782,1282l-9,0 -7,9 -7,2M1773,1315l-5,-3 -4,-6 -5,-5M1759,1301l0,-8M1744,1327l-2,-5 0,-6M1759,1301l-5,5 -8,4 -4,6M1725,1340l-2,-6 -9,-8 -4,-5M1710,1321l6,-4 8,-4 8,-2M1742,1316l-6,-1 -4,-4M1706,1360l-6,-6 -1,-9 -8,-8M1709,1320l-5,8 -8,1 -5,8M1657,1360l1,-5 1,-4M1659,1351l13,-4 8,-5 6,-6M1691,1337l-5,-1M1280,1254l-6,3M1280,1254l0,-16 4,-10 -4,-16M1244,1219l8,-7 7,-1 6,-6M1265,1205l6,4 8,1M1280,1212l-1,-2M1396,1354l-4,10 5,10 -4,13M1396,1354l-7,-4 -4,-4 -9,-3M1376,1343l-13,2 -11,9 -10,9M1393,1387l-9,-3 -10,5 -13,3M1342,1363l2,8 6,9 0,8M1350,1388l6,1 5,3M1335,1411l6,-6 2,-12 7,-5M1328,1358l6,5 8,0M1746,963l-2,-7 -3,-6 -5,-4M1736,946l-12,1 -9,8 -11,1M1727,988l-10,-8 -8,-3 -12,-9M1738,931l1,7 -3,8M1723,1021l-5,3 -6,-1M1698,1070l-5,-4M1693,1066l11,-12 4,-17 4,-14M919,1041l-4,-8 -5,-6 -1,-6M919,1041l-2,6 -5,4 0,6M912,1057l-7,1 -5,-2 -7,-1M894,1018l7,4 8,-1M894,1018l1,8 -2,11 -5,10M888,1047l2,4 3,4M941,1037l-9,2 -4,2 -9,0M922,1013l-7,4 -6,4M922,1070l-1,-4 -6,-4 -3,-5M906,1093l-9,-5 -9,0 -7,-8M906,1093l7,-2 5,-6M881,1080l-1,-4M880,1076l3,-7 4,-8 6,-6M892,1016l2,2M857,1029l3,6 2,7M862,1042l10,-2 7,2 9,5M862,1042l-3,7 -4,7 0,6M855,1062l11,1 5,11 9,2M1153,1096l7,11 4,8 3,11M1153,1096l4,-5 4,-3 4,-6M1165,1082l9,2 8,9 13,3M1167,1126l11,-4 8,-1 8,-9M1194,1112l1,-6 0,-5 0,-5M1165,1130l2,-4M1130,1102l6,-1 8,-2 9,-3M1204,1141l0,-5 4,-5M1208,1131l-8,-6 -1,-8 -5,-5M1214,1083l-5,2 -8,6 -6,5M1214,1083l3,8 5,13 9,9M1231,1113l-2,7 -1,4 -4,4M1208,1131l5,2 6,-3 5,-2M801,1034l-6,10 -3,17 -3,12M776,1018l-9,16 0,17 2,17M789,1073l-5,0 -7,2 -6,-1M771,1074l-2,-6M823,1035l1,-2M741,1045l12,7 7,11 9,5M757,1093l5,-5 5,-5 4,-9M1191,815l4,4 6,1M1201,820l7,-3 13,-4 5,-6M1222,791l2,6 1,6 1,4M1228,827l4,-5 1,-7M1228,827l-9,-4 -5,3 -9,-1M1233,815l-5,-3 -2,-5M1205,825l-4,-5M1147,801l3,11 7,4 3,9M1147,790l8,-4 6,-5 7,-4M1168,761l7,-6 16,-5 6,-7M1173,722l9,6 5,-1 9,2M1196,729l0,7 1,7M1140,741l7,1 7,1 5,3M1832,867l-8,-1 -7,4M1828,847l-6,4 -4,-1 -5,2M1813,852l2,7 -1,5 3,6M1829,962l-12,-7 -7,-8 -11,-10M1773,965l7,-10 -2,-6 4,-11M1434,552l-5,-3 -3,-5 -3,-4M1434,552l6,0M1455,526l0,4 0,4M1440,552l3,-8 8,-1 4,-9M1554,526l4,8 3,8 2,8M1563,550l-6,4 -4,5M1413,701l2,-1M1413,701l-5,-4 -5,-4M1421,687l-2,7 -4,6M1403,693l1,-5 2,-5M1406,683l7,4 7,0M1597,789l6,1 4,-5 6,1M1613,786l0,-7 -1,-7M1612,772l-7,-3M1201,1372l9,-2 7,3 10,-1M1226,1345l6,3 3,6M1227,1372l0,-6 5,-6 3,-6M1257,1344l-4,7M1296,1376l-12,-1 -7,-4 -11,1M1266,1372l-3,-6 -6,-6 -4,-9M1253,1351l-6,1 -4,3 -8,-1M1112,1494l13,5 7,7 15,2M1132,1411l12,1 8,-12 13,-1M1206,1401l-4,8 -10,12 -2,11M1206,1401l-4,-7 -7,-7 -1,-7M1187,1432l3,0M1130,1418l8,17 13,5 10,10M1125,1467l13,-4 8,-2 12,0M1403,594l3,7 0,7M1403,594l5,-1 5,-4 4,-3M1417,586l2,8 7,5M1426,599l-7,4 -3,7M1416,610l-5,-1 -5,-1M1434,552l-2,6 -3,10 -5,4M1424,572l-5,2M1419,574l-5,-2 -4,-4 -7,-3M1396,675l-1,-6 4,-3 0,-7M1396,675l5,1 4,3M1413,671l-5,3 -3,5M1413,671l-2,-7 -4,-5 -3,-4M1399,659l5,-4M1403,693l-4,4 -5,-1M1396,675l-2,1M1394,676l-5,6 0,8M1389,690l2,5M1405,679l1,4M1394,696l-3,-1M1181,783l9,-8 6,3 10,-6M1223,788l-3,-5 -10,-3 -4,-8M1197,743l4,5 5,3 4,5M1206,772l3,-6 0,-5 1,-5M1311,764l-6,2 -10,-1 -7,3M1288,768l-1,-8 -3,-8 1,-9M1296,739l-6,1 -5,3M1284,773l4,-5M1284,773l-8,-3 -7,-4 -8,-3M1278,741l7,2M1278,741l-6,5 -4,3 -5,5M1261,763l1,-4 1,-5M1271,814l2,-5 -3,-9 0,-6M1271,814l-5,4 -6,-2 -5,4M1246,813l5,-8 -2,-7 2,-10M1246,813l4,5 5,2M1284,820l-7,-3 -6,-3M1233,815l7,0 6,-2M1284,784l0,-5 0,-6M1258,765l3,-2M1258,765l0,8 -5,6 -1,9M1348,798l-5,-1 -8,-3 -5,0M1348,799l-2,6 -2,7M1344,812l-5,2 -10,-1 -5,5M1324,818l0,-7 -2,-7 1,-6M1323,798l3,-3 4,-1M1321,822l3,-4M1310,790l5,6 8,2M1333,774l-2,7 0,6 -1,7M1215,677l-2,6 0,5 0,7M1187,694l5,5 6,1 5,4M1203,704l4,-6 6,-3M1205,720l-2,-5 0,-7 0,-4M1205,720l-4,5 -5,4M344,1215l-5,-2 -6,-1M344,1215l1,10 2,5 5,7M352,1237l-5,-1 -8,3 -6,1M333,1240l-6,-6 -2,-4 -2,-9M333,1212l-3,6 -7,3M407,1212l7,2 8,-2 10,-3M407,1212l-2,7 0,8M405,1227l11,0 12,5 6,6M434,1238l0,-7 -4,-10 2,-12M466,1258l-12,-2 -3,-11 -12,-4M425,1257l3,-7 4,-4 4,-5M425,1257l1,9 -1,7 2,6M439,1241l-3,0M407,1212l-5,-4 -1,-6M401,1202l3,-6 4,-2 3,-8M411,1186l5,1 7,-2 6,-1M429,1184l2,10 2,6 1,8M432,1209l2,-1M353,1353l2,-14 8,-10 7,-14M330,1317l11,-7 2,-7 12,-5M304,1251l8,0 8,3M320,1254l2,8 4,5 4,7M703,1081l7,-5 7,-8 7,-5M703,1081l-6,-4 -4,-9 -6,-2M725,1060l-8,-10 -5,-7 -10,-5M656,1195l-5,-3 -7,-2 -6,0M656,1195l2,10 -5,5 3,9M638,1190l-3,7 3,6 -4,6M656,1219l-7,-5 -8,-2 -7,-3M624,1216l4,-5 6,-2M637,1187l1,3M637,1187l-4,-4 -6,-2 -6,-1M656,1220l2,8 -5,9 -1,10M656,1220l10,0 8,-9 8,1M656,1195l6,-3 5,-2M667,1190l5,10 7,3 3,9M692,1236l-2,-8 -1,-6 -3,-9M686,1213l-4,-1M583,1225l-5,-4 -4,-6M592,1189l4,5 7,2 3,4M592,1189l-6,1 -8,8 -5,1M573,1199l0,8 1,8M545,1237l2,-5 -2,-8 4,-8M574,1215l-8,2 -9,-2 -8,1M756,1211l1,11 8,9 6,10M771,1241l-5,0 -5,3 -6,2M719,1236l7,-2 7,3 7,-3M719,1236l-1,-11 4,-7 0,-12M722,1206l10,3 6,1 9,5M714,1241l5,-5M791,1279l-1,-15 -10,-9 0,-12M780,1243l-4,-3 -5,1M719,1172l9,2 7,4 6,1M719,1172l1,12 2,9 -3,11M721,1204l4,-6 6,-6 9,-3M722,1206l-1,-2M699,1201l-2,5 -9,3 -2,4M699,1201l6,1 8,-2 6,4M906,1093l1,7 -1,9 -3,6M936,1118l-7,1 -9,0 -8,2M917,1175l-8,-9 -2,-5 -9,-7M916,1143l-6,6 -5,1 -7,4M884,1166l1,-4 6,-3 3,-5M898,1154l-4,0M782,1207l1,-7 4,-6M782,1207l4,7 -1,10 5,8M790,1232l13,-1 7,0 11,-4M790,1193l-3,1M790,1193l13,0 7,12 12,1M822,1206l1,7 1,6 -3,8M766,1185l8,1 6,7 7,1M766,1185l-4,4 -4,7 -3,5M756,1211l8,-3 11,2 7,-3M780,1243l5,-5 5,-6M836,1244l-6,-4 -3,-6 -6,-7M829,1196l4,-2 4,-1M829,1196l-5,4 -2,6M1858,1336l-8,9 -6,3 -10,5M1834,1353l-7,-1 -4,-6M1933,1404l-7,-1 -7,-2M1919,1401l-4,7 -9,5 -6,3M1919,1428l-8,-2 -5,-5 -5,-4M1955,1429l-7,-4 -7,-6 -5,-6M1910,1386l0,-8 2,-7M1910,1386l3,5 4,3 2,7M1950,1199l-1,5 0,4M1950,1199l-6,-2 -4,-5 -5,0M1949,1208l-4,3 -5,2M1927,1199l-1,7M1926,1206l8,1 6,6M1933,1240l4,1 4,1M1933,1240l1,-5 1,-6 1,-5M1941,1242l5,-5 4,-5M1936,1224l1,-1M1937,1223l7,-1 7,4M1950,1232l1,-6M1926,1242l7,-2M1940,1264l6,-4 5,-6M1951,1254l-5,-6 -5,-6M1951,1254l4,0M1955,1254l2,-1M1957,1253l4,-6 3,-7M1964,1240l-7,-4 -7,-4M1949,1208l4,6 4,5M1940,1213l-3,5 0,5M1957,1219l-4,3 -2,4M1962,1220l-5,-1M1962,1220l-1,7 2,7 1,6M1954,1196l-4,3M1954,1196l5,2 6,0 5,5M1970,1203l-1,4 0,5M1962,1220l5,-3 2,-5M1970,1203l5,-4M1975,1199l8,3 6,5M1969,1212l5,1 6,1 6,4M1964,1240l5,-1 5,-1M1962,1220l4,3 6,3 4,2M1974,1238l0,-5 2,-5M1986,1223l-6,0 -4,5M1802,1121l4,6 7,7 4,7M1809,1179l6,-3 3,-4 5,-1M1814,1148l1,10 2,5 6,8M1862,1170l-2,-6 0,-6M1862,1170l-2,4 -3,4M1860,1158l-7,-2 -5,1 -6,-2M1857,1178l-6,4 -6,3 -5,0M1842,1155l-6,7 -5,7 -6,3M1825,1172l4,3 4,7 6,3M1868,1146l-3,7 -5,5M1878,1175l-5,0 -6,-3 -5,-2M1866,1199l-5,-7 -3,-7 -1,-7M1832,1136l4,6 3,6 3,7M1865,1201l-8,1 -8,1M1849,1203l-3,-5 -2,-9 -4,-4M1823,1171l2,1M1810,1201l7,3 8,1M1825,1205l6,-5 6,-7 2,-8M1879,1247l4,-3 5,-1M1879,1247l-3,-5 -4,-3M1872,1239l3,-3 0,-5M1889,1240l-2,-6 -6,-4M1881,1230l-6,1M1877,1252l2,-5M1899,1236l2,2M1885,1223l-4,7M1871,1227l4,4M1871,1227l3,-5 -1,-6M1849,1276l-1,-4 2,-4M1867,1270l-5,-3 -6,-3M1850,1268l6,-4M2075,1329l-3,4 -3,5M2070,1322l-7,-1 -7,1M2033,1329l0,-5 1,-6M2037,1334l6,-2 7,1M2055,1328l-5,5M2021,1382l1,0M2020,1353l5,6 6,5M2031,1364l-3,6 -1,6 -5,6M2026,1402l5,1 7,1 5,-1M2022,1382l9,2 5,-3 9,3M2045,1384l1,3M2043,1403l-2,-9 5,-7M1903,1342l7,-4 4,-7 5,-5M1902,1315l5,-1 5,2M1919,1326l-3,-5 -4,-5M1929,1337l-2,-6 -4,-4M1919,1326l4,1M2059,1313l7,-3 6,-3M2072,1307l3,2M2187,1431l-8,0 -5,-5 -8,-4M2151,1433l3,-4 8,-1 4,-6M2143,1126l-2,-4M2141,1122l2,-6 2,-5M2146,1161l1,6 1,6M2148,1173l4,1M2167,1171l-8,0 -7,3M2324,1261l1,-7 2,-6M2347,1249l-7,0 -6,2 -7,-3M2319,1237l4,2M2319,1237l-7,4 -4,5 -5,4M2303,1250l1,6 7,4 2,7M2324,1261l-5,3 -6,3M2327,1248l-1,-5 -3,-4M1971,894l-6,5 -4,6M1971,894l-4,-5 0,-6M1967,883l-6,-3M1961,880l-4,2 -6,1 -7,-2M1961,905l-8,1 -3,-2 -8,0M1942,904l2,-7 -1,-7 1,-9M1972,858l4,6 3,6M1972,858l-6,2 -6,-1M1960,859l2,7 1,8 -2,6M1979,870l-5,3 -4,4 -3,6M1960,859l-6,6 -9,3 -7,4M1938,872l3,5 3,4M1971,927l0,-7 -8,-6 -2,-9M1939,905l3,-1M2026,871l5,4 6,2M2026,871l-3,4 -4,3 -4,6M1990,904l4,0 4,-1M1990,904l-6,-3 -3,-5M1998,903l1,-8 3,-4 3,-8M1981,896l1,-6 6,-4 2,-6M1990,880l7,3 7,-1M1979,931l1,-8 4,-9 6,-10M1979,931l9,-2 7,-1 11,3M2006,931l3,-5 5,-5 0,-7M2014,914l-3,-6 -8,-1 -5,-4M1971,894l5,1 5,1M1985,872l4,3 1,5M1985,872l-6,-2M1929,783l-6,3M1914,767l6,-2M1914,767l-4,3 -2,6M1920,765l4,1M1923,786l-5,-1 -5,-1M1908,776l1,4 4,4M1923,786l-2,8 0,8M1912,801l4,0 5,1M1912,801l1,-7 -4,-5M1913,784l-4,5M1875,862l2,-8 0,-8M1895,851l0,3M1895,851l-6,-4 -6,-4M1895,854l-4,5 0,6M1910,817l-2,6 1,6M1896,829l4,2 4,3M1904,834l5,-5M1895,851l2,-6 6,-2 2,-5M1905,838l-1,-4M2006,931l4,7 2,6 5,7M1904,805l5,-1 3,-3M1904,805l-1,4 2,5M1921,802l3,3M1946,773l1,5M1946,773l-5,-4M1928,771l7,0 6,-2M1940,788l2,-6 5,-4M2066,1078l8,5 1,12 8,4M2066,1078l-4,1 -5,1M2052,1113l5,-8 -1,-12 1,-13M2052,1113l5,5M2057,1118l8,-6 10,-4 8,-9M2141,1122l-8,2 -7,-5 -6,3M2120,1122l-4,-5 -2,-6 -4,-7M2110,1104l8,-3 3,-3 6,-5M2148,1072l-6,2 -8,8 -7,0M2134,1050l7,5 3,7 4,10M2134,1050l-7,5 -8,2 -8,0M2066,1078l4,-5 3,-5M2083,1099l6,0 5,2M2094,1101l2,-1M2096,1100l-1,-8 2,-8 6,-10M2073,1068l9,4 12,2 9,0M2110,1104l-7,-3 -7,-1M2109,1070l-6,4M2028,1248l-4,-6 -5,-6M2028,1248l6,-4 7,0M2019,1236l7,-4 4,-1 5,-5M2041,1244l-2,-8 4,-7M2035,1226l5,1M2039,1260l5,-4 4,-4M2039,1260l-5,0 -6,-1M2048,1252l-3,-5 -4,-3M2028,1259l-3,-4M2025,1255l1,-4 2,-3M2048,1252l7,2M2058,1228l3,-4 -3,-7 3,-5M2045,1205l7,1 3,4 6,2M2081,1193l2,-7 -5,-3 2,-7M2081,1193l-5,4 -6,2M2070,1199l-6,-3 -3,-6 -1,-5M2042,1200l8,-5 3,-6 4,-4M2061,1212l5,-2 3,-3M2070,1199l-1,8M1990,1211l7,-2 6,3M2009,1198l-2,8 -4,6M1994,1197l7,-1 7,2M1975,1199l2,-7M1977,1192l6,-3 8,0M1971,1181l4,-5 2,-3 4,-6M1971,1181l-6,3 -6,-1M1959,1183l-4,-7 -6,-5M1975,1160l-7,2 -5,0 -7,-2M1949,1171l4,-5 3,-6M1954,1196l2,-7 3,-6M1977,1192l-5,-4 -1,-7M1946,1171l3,0M1950,1143l2,7 1,4 3,6M2117,787l4,4 5,2M2117,787l2,-3 0,-5M2119,779l6,3 5,3M2130,785l-1,4 -3,4M2135,782l-4,-6 -1,-7M2135,782l-5,3M2130,769l-6,4 -5,6M2410,899l7,-6 4,-7 3,-6M2410,899l5,5 4,4 5,0M2424,880l3,2 4,3M2431,885l-3,8 -3,6 -1,9M2410,899l-3,1M2424,880l-4,-6M2420,874l-6,2 -7,-2 -5,2M2402,876l-3,7 -1,8M2398,891l4,5 5,4M2181,1079l7,1 7,1M2174,1061l5,-4 4,-5M2195,1081l3,-4 3,-5M2183,1052l5,1M2188,1053l6,5 2,8 5,6M2368,721l-9,4 -4,2 -7,7M2368,721l-1,-5M2367,716l-7,-2 -4,-5 -7,-2M2349,707l-6,3 -2,6 -3,3M2338,719l1,7 5,2 4,6M2339,686l3,4 4,1M2346,691l0,8 3,8M2323,719l8,-1 7,1M2365,665l2,8 4,6 2,7M2373,686l3,1M2376,687l6,-4 7,-6 7,0M2396,677l1,-6 1,-6M2388,652l3,6 2,2 5,5M2346,691l9,-3 9,2 9,-4M2378,700l0,-6 -2,-7M2378,700l-6,6 1,5 -6,5M2378,700l7,5 7,5 7,1M2400,711l6,-6 1,-9 5,-3M2412,693l-5,-5 -4,-6 -7,-5M2437,681l0,6 -2,5M2435,692l-6,-2 -8,3 -9,0M2416,659l-5,3 -7,3 -6,0M2473,919l2,-5 4,-4M2479,910l6,4 8,1 5,-1M2501,928l-2,-7 -1,-7M2466,922l7,-3M2511,898l-4,3 -6,8 -3,5M2477,899l3,5 -1,6M2481,742l4,-6 0,-8M2481,742l-7,3 -7,-1M2485,728l-8,-10 -10,-5 -8,-5M2467,744l-5,-5 -7,-2M2455,737l1,-11 -2,-11 4,-7M2493,755l-6,-3 -1,-5 -5,-5M2500,718l-6,1 -5,3 -4,6M2463,764l3,-6 -2,-7 3,-7M2481,692l-8,8 -7,3 -7,5M2442,743l5,-6 8,0M2440,700l-3,-4 -2,-4M2440,700l5,2 9,1 4,5M2348,734l-1,3M2341,742l6,-5M2353,816l2,5 3,5M2353,816l-5,-2M2348,814l-3,5 -5,2M2358,826l-6,4 -8,2M2344,832l-4,-5M2340,821l0,6M2369,808l-5,-1 -5,0M2369,808l1,4 3,4M2359,807l-2,5 -4,4M2361,827l8,-4 4,-7M2361,827l-3,-1M2342,800l5,-1 5,-1M2352,798l4,4 3,5M2342,801l2,7 4,6M2332,812l6,-5 4,-6M2332,812l4,4 4,5M2271,772l0,5M2271,777l7,1 5,6M2294,771l-4,4 -4,3 -3,6M2313,637l-3,6 -2,6M2343,660l-9,3 -11,-3 -9,0M2274,584l6,-2 5,-4M2269,557l5,6 6,1 6,4M2286,568l1,5 -2,5M2256,583l-2,3M2256,583l5,-1 4,-3M2254,586l2,6 1,6 0,5M2275,604l-4,-1 -9,-1 -5,1M2256,583l-3,-8 -7,-4M2295,586l-5,-4 -5,-4M2294,599l-6,3 -6,1 -6,2M2302,558l-5,3 -7,3 -4,4M2346,478l-9,0 -6,-1 -7,-5M2324,472l-5,5 -3,5 -6,3M2311,494l-2,-4 1,-5M2369,511l-10,-3 -6,-7 -10,-4M2346,531l-5,-6 -1,-10 -7,-9M2360,478l-7,0 -6,1M2318,455l-1,6 5,4 2,7M2292,474l8,2 5,4 5,5M2313,527l7,-7 2,-5 5,-9M2176,770l5,4M2176,770l-5,3 -4,3M2167,776l2,6 2,7M2181,774l1,5 3,5M2185,784l-4,5M2181,789l-5,2 -5,-2M2171,828l-4,-6 -2,-7M2149,815l4,-2 7,2 5,0M2183,806l2,-5M2183,806l-7,1 -7,1M2185,801l-3,-6 -1,-6M2171,789l-4,2 -2,4M2165,795l0,7 4,6M2191,816l-4,-5 -4,-5M2165,815l3,-3 1,-4M2145,748l1,-5 -1,-6M2145,748l6,3 5,2 6,1M2153,731l6,5 5,3 4,3M2168,742l1,5M2169,747l-2,5M2167,752l-5,2M2144,749l1,-1M2157,766l3,-6 2,-6M2157,766l-5,3 -5,-1M2147,768l-3,-3M2161,717l6,2 3,5 7,4M2177,728l-4,5 -3,2 -2,7M2186,726l-4,1 -5,1M2186,726l1,7 5,4 0,7M2191,747l1,-3M2191,747l-6,2 -7,-3 -9,1M2157,766l3,5 4,4M2176,764l0,6M2176,764l-4,-6 -5,-6M2164,775l3,1M2197,793l-3,5M2197,793l5,1 5,-1M2194,798l4,5 4,4M2185,784l8,0M2193,784l1,5 3,4M2185,801l5,-1 4,-2M2208,782l2,3M2208,782l-6,-2 -6,1M2196,781l-3,3M2268,752l-6,-4 -6,-1M2256,747l-1,-5 0,-4 -2,-7M2128,519l-3,6 1,7M2146,525l-3,6 -2,3 -4,5M2126,532l6,3 5,4M2124,513l-5,3 -11,-3 -7,4M2101,517l6,6 1,8 7,5M2126,532l-5,2 -6,2M2105,551l3,-4 4,-2M2094,522l3,-3 4,-2M2115,536l-2,4 -1,5M2073,580l-1,8 -1,8M2073,580l6,1 4,-1 6,-3M2071,596l7,0 6,-2 6,-2M2089,577l-3,7 4,8M2090,575l-1,2M2066,572l2,5 5,3M2107,610l-6,-4 -6,0M2107,610l3,-4 5,-2M2115,604l-5,-6 -4,-7M2106,591l-6,2 -6,3M2094,596l-1,5 2,5M2087,615l4,-4 4,-5M2110,627l-1,-6 0,-6 -2,-5M2111,628l7,-5 10,-4 5,-6M2126,603l-5,-1 -6,2M2126,603l4,3 3,3M2133,613l0,-4M2126,603l1,-8 -2,-5 -2,-7M2109,584l-3,7M2090,592l4,4M2140,569l5,0 5,-3M2140,569l-3,-6 -6,-5M2150,566l-2,-7 1,-6 2,-5M2131,558l0,-5M2131,553l5,-4 3,-5M2151,548l-6,-2 -6,-2M2117,565l6,-6 8,-1M2124,581l7,-1 6,-3M2137,577l2,-4 1,-4M2171,571l0,-7 5,-4 -1,-6M2171,571l-6,1M2153,546l-2,2M2165,572l-4,-3 -5,-3 -6,0M2112,545l7,2 6,1 6,5M2137,539l2,5M1856,824l-1,7 -5,7M1856,824l-5,-6M1838,833l1,-6M1839,827l5,-6 7,-3M2084,714l-6,4 -6,2M2084,714l7,2 4,5M2095,721l0,2M2095,723l-6,5 -8,1M2081,729l-5,-3 -4,-3M2072,723l0,-3M2120,720l-5,-5 -5,-3 -5,-2M2120,720l-4,5 -2,9 -4,5M2105,710l-4,7 -6,4M2110,739l-5,-4 -6,-2M2099,733l-3,-5 -1,-5M1932,575l6,-4 2,-6M1932,575l1,3M1933,578l7,2 7,1M1944,564l3,5 3,5M1944,564l-4,1M1950,574l-2,3 -1,4M1920,567l7,3 5,5M1930,558l6,3 4,4M1968,561l-7,-2 -7,-1 -4,-5M1968,561l0,4 3,4M1950,553l-2,6 -4,5M1969,572l2,-3M1969,572l-5,3 -8,-1 -6,0M1937,544l7,1 5,5M1950,553l-1,-3M1949,592l-3,-5 1,-6M1949,592l7,0 4,-5 9,-1M1969,572l-2,7 2,7M1993,682l3,4M1993,682l1,-6M1996,686l7,1 7,1M2002,669l-3,4 -5,3M2002,669l7,4 5,6M2010,688l3,-4 1,-5M1961,686l-6,3 -10,-4 -6,3M1959,677l-8,-1 -7,-2M1939,688l1,-7 4,-7M1824,697l5,-1 5,-4M1827,713l4,-5 4,-1 4,-4M1839,703l-1,-7 -4,-4M1827,670l3,4 4,6 2,7M1836,687l-2,5M1841,609l6,-2 3,-6M1850,601l-2,-7 -2,-7M1846,587l-5,5 -7,3 -6,2M1826,603l2,-6M1830,625l-1,-8 2,-8M1850,621l-5,5 -5,5M1858,604l-4,-1 -4,-2M1779,668l4,6 6,5M1797,679l-4,2M1793,681l-4,-2M1857,621l4,2M1873,601l1,6 -2,5 0,6M1872,618l-4,4 -7,1M1911,616l-5,2M1911,616l0,-5 2,-8 0,-4M1906,618l-7,1 -6,-3M1893,616l-3,-6 -1,-4 0,-7M1925,622l1,5M1925,622l-7,-3 -7,-3M1906,637l-1,-6 2,-6 -1,-7M1888,634l-2,-3M1886,631l0,-6M1886,625l2,-6 5,-3M1886,625l-8,-1 -6,-6M1904,579l-1,8 -1,8M1879,652l-7,2 -5,5M1879,652l-3,-6 -5,-2 -6,-6M1867,659l-1,-8 -4,-4 -2,-5M1860,642l5,-4M1884,652l-5,0M1865,665l2,-6M1886,631l-7,5 -6,0 -8,2M1848,664l7,1 6,2M1848,645l6,-1 6,-2M1861,623l0,8 4,7M1968,561l0,-6 3,-6M1949,550l3,-7 6,-5M1971,549l-3,-4 -5,-3 -5,-4M1933,538l1,-8 4,-6M1949,520l6,4 4,4M1959,528l1,5 -2,5M1926,465l-4,2 0,7 -5,4M1887,478l6,1 4,1 6,0M1903,480l3,-3M1925,514l-7,-1M1903,480l-1,7 2,6M1915,499l-5,-3 -6,-3M2095,390l-4,6M2091,396l-4,2 -7,1 -6,-1M2066,393l3,4 5,1M2009,457l6,-4 6,-1 10,0M2009,457l2,-10 -2,-4 1,-9M2010,434l4,-4M2031,452l-1,-5 -1,-6M2029,441l-7,-3 -2,-6 -4,-2M2014,430l2,0M2018,477l4,-1 8,-3 3,-1M2018,477l-5,-5 -5,-5M2008,467l-1,-5 1,-4M2008,458l1,-1M2032,453l-1,-1M1992,436l7,-2 6,0 5,0M1991,453l-2,-3M1991,453l4,4 8,-2 5,3M1988,431l3,-5 -1,-6 2,-7M1992,413l5,-2 5,1M2002,412l7,5 3,7 2,6M2043,430l-4,3 -5,5 -5,3M2043,430l3,8 3,6 4,6M1989,564l6,-1 7,1 7,-3M1989,564l-3,4M1986,568l5,4 -1,7 6,5M2009,561l3,3M1989,547l4,-1 5,-2 5,-5M1989,547l0,5 2,6 -2,6M2003,539l4,5M2007,544l2,6 1,5 -1,6M1989,547l-5,0 -4,-4M1971,569l7,-2 8,1M1980,543l-5,2 -4,4M1969,586l4,6M2007,544l7,1 7,-1M1993,477l0,2M1993,477l-4,-4 -4,-2M1993,479l-4,6 -6,5M1985,471l-8,-1 -7,1M2016,486l2,-4 0,-5M2008,467l-4,3 -5,4 -6,3M2003,491l-7,-5 -3,-7M1991,453l-1,5 -5,7 0,6M1953,500l7,-2 6,2M1966,500l3,-6 4,-5M2044,520l-5,-1 -8,1 -4,4M2027,524l-3,-3M2024,521l-1,-5 0,-5 0,-7M2026,500l-3,4M2062,524l-6,-2 -5,-1 -6,-3M2060,493l-6,0 -5,5 -8,1M2029,535l-2,-5 0,-6M2003,538l2,-8 5,-5M2010,525l7,-1 7,-3M2010,525l-5,-4 -3,-6M2002,515l2,-5 2,-5M2006,505l6,-2 5,0 6,1M2040,476l1,6 -1,7 -2,8M2001,496l2,5 3,4M2091,396l2,4 3,8 4,4M2117,406l-5,4 -4,2 -6,1M2100,412l2,1M2077,415l-1,-7 -2,-3 0,-7M2077,415l4,2 5,1M2100,412l-8,1 -6,5M2097,499l0,-10 0,-5 3,-9M2119,492l-1,-5 0,-7 -4,-6M2100,475l7,-2 7,1M2089,472l6,-1M2095,471l5,4M2101,517l-2,-6 2,-4 -2,-7M2130,467l-7,2 -6,2M2117,471l-3,3M2080,452l-4,4M2080,452l-2,-7 1,-8M2076,456l-6,-5 -8,1 -5,-3M2079,437l-6,-2 -6,-2M2076,464l0,-4 0,-4M2097,453l-1,7 -3,6 2,5M2097,453l-7,1 -5,-4 -5,2M2064,426l5,-3 3,-4 5,-4M2086,418l-1,7 1,8M2086,433l-4,0 -3,4M1888,530l-6,-2 -6,3M1888,530l-1,-6 3,-5 2,-7M1876,531l0,-5 -5,-6 0,-6M1871,514l4,-5 3,-4 5,-3M1892,512l-4,-4 -2,-5M1883,502l3,1M1894,536l-6,-6M1874,532l2,-1M1912,518l-7,-1 -7,-2 -6,-3M1855,514l8,2 8,-2M1852,530l-3,-5M1881,499l2,3M1904,493l-6,3 -4,6 -8,1M1941,357l8,2 5,5M1954,364l-5,4 -4,6 -2,10M1931,381l6,2 6,1M1962,341l-1,7 -1,5 2,9M1962,362l-4,0 -4,2M1916,351l2,6 2,3 5,5M1903,377l7,-3 7,0 7,-5M85,1245l2,-6 4,-5M111,1227l-7,-1 -6,5 -7,3M171,1153l-3,0M168,1153l-3,-5 -5,-5 -5,-2M155,1141l1,-6 -1,-7M158,1104l-6,4 -6,3M156,1098l-4,0 -4,-1M148,1097l-4,2 -2,4M90,1175l-4,7M89,1172l-6,-5M83,1167l-6,-2 -7,3M78,1124l-1,-6 1,-6M66,1111l6,-1 6,2M93,1127l0,-4 -2,-5M91,1118l-4,-6 -7,-1M78,1112l2,-1M100,1089l-2,5 -4,3M109,1095l-3,6 -2,7M94,1097l2,6 1,5M104,1108l-3,1M101,1109l-4,-1M105,1076l-4,6 -1,7M84,1099l5,-3 5,1M84,1099l-3,-6 -1,-5 0,-6M81,1081l-1,1M84,1099l-2,4M82,1103l0,4M82,1107l8,0 7,1M102,1123l-3,3 -5,2M102,1123l-1,-7 0,-7M91,1118l2,-5 4,-5M82,1107l-2,4M135,1084l6,-4 1,-6M135,1084l3,5M143,1090l-5,-1M143,1090l4,-4 2,-5M149,1081l-3,-4 -4,-3M130,1082l5,2M156,1081l-7,0M148,1097l-2,-4 -3,-3M343,1037l-5,12 -4,8 -9,7M461,1097l-12,12 -15,1 -10,6M460,1131l-8,-2 -9,0 -11,-1M424,1116l4,6 4,6M412,1073l-3,15 -1,8 2,14M424,1116l-8,-1 -6,-5M456,1156l-8,-1 -10,2 -9,-4M432,1128l2,11 -6,7 1,7M460,1181l-9,-3 -12,6 -8,-2M431,1182l-1,-10 0,-9 -2,-8M429,1153l-1,2M226,1125l5,6 6,5M237,1136l9,-2 5,-5 10,2M222,1124l4,1M285,1217l6,-4 5,-4M285,1217l0,6 2,4 0,8M287,1235l5,4 7,2M294,1186l-5,4 -10,0 -7,3M272,1193l1,6 -1,4 1,7M273,1210l5,6 7,1M264,1240l9,-5 5,-1 9,1M264,1240l-2,-5 1,-8 -3,-6M260,1221l2,-4 7,-2 4,-5M258,1250l3,-5 3,-5M320,1254l5,-6 5,-3 3,-5M323,1221l-6,-1 -5,-3M255,1167l3,5 -1,7 0,6M228,1191l6,0 5,2 5,4M228,1191l-2,-7 -6,-5 0,-6M240,1158l-4,6 -6,4 -9,2M257,1185l-4,3 -5,4 -4,5M221,1170l-1,3M237,1136l1,6 0,9 2,7M201,1149l9,4 8,9 3,8M260,1221l-3,-4 -7,-4 -6,-1M272,1193l-5,0 -3,-7 -7,-1M244,1212l3,-8 -3,-7M186,1184l7,2M193,1186l8,-6 10,-7 9,0M224,1231l-6,-1 -5,4 -5,-2M224,1231l2,-5M226,1226l-1,-8 -3,-7 -6,-8M208,1232l-6,-5 -2,-5 -4,-5M196,1217l1,-6 2,-6 2,-5M201,1200l8,-1 7,4M191,1250l3,-8 9,-1 5,-9M232,1243l-6,-5 -2,-7M244,1212l-6,4 -8,5 -4,5M228,1191l-3,5 -5,4 -4,3M179,1219l5,-2 7,1 5,-1M193,1186l1,6 7,4 0,4M1594,1552l-8,6 -8,2 -5,2M1587,1527l-8,3 -8,4 -8,5M1563,1539l6,8 0,5 4,10M1570,1574l1,-6 2,-6M1563,1539l-6,-1 -5,-3M1552,1535l-3,3 -5,2M1612,1494l-10,-7 -5,-4 -9,-3M1586,1515l-5,-3 -2,-5 -5,-6M1574,1501l4,-8 2,-6 8,-7M1613,1449l-8,7 -7,15 -10,8M1574,1454l-1,5 -3,5M1570,1464l7,5 5,6 6,4M1541,1440l0,5 -1,6M1570,1464l-6,3M1540,1451l10,5 2,8 12,3M1715,1512l-3,-8 -11,-7 -6,-7M1715,1512l6,-3 6,-3 6,1M1729,1483l2,5 4,6 0,7M1729,1483l-13,-1 -13,4 -8,4M1733,1507l2,-6M1706,1524l2,-7 7,-5M1690,1492l5,-2M1725,1548l9,-4 3,-5 8,-7M1745,1532l-7,-9 -3,-5 -2,-11M1731,1471l6,-2M1731,1471l0,6 -2,6M1737,1469l9,1 5,1 9,6M1760,1477l0,6 1,5 1,7M1762,1495l-10,0 -7,4 -10,2M1697,1466l0,9 -3,6 1,9M1718,1457l3,5 8,4 2,5M1771,1515l-7,8 -10,2 -9,7M1771,1515l-1,-6 -2,-7 -2,-5M1762,1495l4,2M1797,1508l-5,-8 -3,-7 0,-7M1771,1515l6,1 7,4 4,3M1789,1486l-7,5 -6,3 -10,3M1789,1486l1,-3M1805,1476l-4,3 -6,1 -5,3M1910,1386l-5,6 -8,3 -6,3M1887,1371l-3,4 0,6M1891,1398l-1,-8 -5,-4 -1,-5M1900,1416l-3,-5 -3,-3 -4,-6M1891,1398l-1,4M1876,1356l-6,5 -5,8 -11,4M1854,1373l7,4 5,4 4,4M1884,1381l-7,3 -7,1M1871,1227l-5,1 -5,-1M1866,1211l-2,4 -4,3M1860,1218l2,4 -1,5M1626,1209l-7,4 -10,7 -6,8M1583,1217l8,1 6,8 6,2M1643,1230l5,11 0,7 3,9M1672,1227l1,4M1673,1231l-2,12 -4,9 -4,8M1663,1260l-7,0 -5,-3M1673,1231l6,9 13,3 7,8M1663,1260l4,5 4,5M1671,1270l11,-2 6,-8 8,0M1696,1260l1,-5 2,-4M1764,1258l-8,2 -9,4 -8,9M1758,1234l-8,9 -11,0 -8,6M1731,1249l0,7 6,7 2,10M1732,1311l-2,-11 -1,-10 -2,-8M1699,1299l6,8 -1,8 5,5M1699,1299l3,-5 4,-6 7,-5M1713,1283l7,2 7,-3M1759,1293l-7,-3 -6,-8 -8,-7M1727,1282l5,-5 6,-2M1739,1273l-1,2M1666,1310l2,-12 1,-9 0,-10M1666,1310l6,0 4,3M1676,1313l8,-4 7,-1 7,-9M1698,1299l-12,-5 -5,-13 -11,-3M1654,1315l6,-2 6,-3M1654,1315l-1,-8 -8,-7 -2,-12M1643,1288l9,0 7,-8 10,-1M1648,1323l5,9 2,10 4,9M1648,1323l2,-5 4,-3M1686,1336l-4,-7 -5,-9 -1,-7M1671,1270l-1,8M1696,1260l6,5 8,10 3,8M1522,1133l0,13 -6,10 3,14M1522,1133l-12,-4 -11,3 -10,-3M1519,1170l-9,-1 -6,-8 -8,1M1496,1162l-7,-9 -2,-9 -1,-10M1489,1129l-3,5M1488,1445l-1,-7 4,-12 -1,-7M1488,1445l-7,0 -8,-2M1490,1419l-5,-2 -6,-4 -8,-3M1473,1443l-3,-5 -5,-11 -2,-6M1471,1410l-6,4 -2,7M1529,1384l5,6 3,9 2,9M1529,1384l-5,2 -7,-4 -8,2M1509,1384l4,9 -8,13 2,8M1539,1408l-4,8 -2,4 -6,8M1507,1414l4,6 5,1 4,6M1543,1374l-5,3 -5,4 -4,3M1560,1409l-9,0 -7,1 -5,-2M1488,1445l8,2 4,8M1490,1419l6,-3 5,2 6,-4M1502,1463l3,4 4,1M1509,1468l7,-3 7,-4 9,1M1540,1451l-2,7 -6,4M1280,1254l8,3 11,4 10,-1M1315,1279l-3,-7 -3,-4 0,-8M1316,1225l-10,-9 -12,-2 -14,-2M1316,1225l-1,9 6,6 -2,7M1309,1260l1,-4 4,-5 5,-4M1373,1322l-12,-3 -8,-7 -12,1M1373,1322l7,-8 1,-6 3,-9M1384,1299l-8,-4 -8,-11 -14,-6M1341,1313l-4,-8 2,-9 0,-10M1328,1324l2,-4 8,-2 3,-5M1376,1343l0,-6 -3,-8 0,-7M1200,980l1,8 5,9 -1,11M1200,980l5,-3 5,-3M1210,974l9,1 9,3 8,3M1237,981l0,5 1,5M1677,1015l10,4 13,-1 12,5M1179,1045l10,-11 8,-12 11,-11M1139,955l5,8 7,1 7,6M1270,844l5,-3 8,-4 6,-2M1270,844l-4,0 -4,-2M1290,828l-1,7M1255,820l2,6 -3,6M1262,842l-5,-4 -3,-6M1210,974l1,-6 -3,-7 3,-8M1236,981l-5,-8 -3,-13 1,-12M1211,953l6,1 5,-6 7,0M1190,866l7,-6 4,-6M1190,866l-6,-3 -4,-4 -7,0M1173,858l6,-3 4,-8 6,-2M1189,845l6,2 6,3M1201,850l0,4M1211,872l-6,2 -5,5M1211,872l1,-3M1195,877l5,2M1195,877l-1,-6 -4,-5M1212,869l-3,-4 -4,-7 -4,-4M1180,883l4,-1 7,-1 4,-4M1180,883l-4,-6 -3,-5 -5,-4M1168,868l1,-5 4,-4M1205,825l4,7 0,4 -1,8M1184,822l-1,7 4,7 2,9M1208,844l-4,2 -3,4M1729,783l4,-4 2,-4M1729,783l-5,-2 -5,-2M1720,772l-1,7M1720,772l6,-3 6,-5M1732,764l1,6 2,5M1731,800l2,-3M1718,798l-4,-7 0,-8M1733,797l-3,-7 -1,-7M1714,783l5,-4M1685,825l4,2 4,2M1685,825l-5,3 -5,2M1675,830l0,4 0,4M1675,838l4,4 7,1 3,5M1693,829l3,5 0,6M1696,840l-3,5 -4,3M1702,825l-5,2 -4,2M1702,812l-6,-1 -4,-4M1688,810l4,-3M1688,810l-3,7 0,8M1710,844l-7,0 -7,-4M1710,844l2,-5 -1,-7 -2,-5M1838,886l-5,2 -8,-1 -6,3M1817,870l-5,5M1812,875l3,4 4,6 0,5M1817,913l0,-5 -4,-3M1819,890l-3,7 -3,8M1796,801l0,5 0,5M1796,801l4,-2 5,-3M1796,811l5,2 5,2M1805,796l2,1M1806,815l2,-4 4,-2M1807,797l2,6 3,6M1807,797l6,-4 6,-1M1822,810l-5,-2 -5,1M1822,810l1,-7 2,-6M1825,797l-6,-5M1720,772l-5,-4 -5,-4M1726,758l2,-7 1,-8M1725,739l4,4M1706,726l1,8 -2,6 3,5M1708,745l5,2M1586,580l-9,-1 -5,3 -9,3M1586,580l2,7 -1,7M1587,594l-3,4 -5,4 -3,7M1557,618l0,-8 -5,-6M1557,618l7,2 6,2M1552,604l1,-2M1561,595l-4,4 -4,3M1499,530l-1,8 3,7M1420,687l3,-7M1423,680l-5,-3 -4,-6M1613,786l5,4M1618,790l-3,5 -2,5 -1,7M1680,806l3,2 5,2M1680,806l-5,0 -8,4 -4,4M1675,830l-6,-4 -7,-3M1663,814l0,5 -1,4M1714,800l-5,-3 -6,-1M1714,783l-5,0 -5,-2M1704,781l-1,7 0,8M1692,807l2,-6M1703,796l-4,2 -5,3M1652,765l6,-1 5,1M1652,765l0,6 -4,5M1663,765l3,5 3,4M1648,776l6,3 6,4M1660,783l5,-3 5,-3M1669,774l1,3M1580,773l5,2 4,3 6,1M1580,773l-4,3 -4,3M1623,847l7,-4 3,-8M1623,847l-4,0M1619,847l-3,-6 -7,0 -3,-5M1606,836l8,-5 7,-1 5,-7M1626,823l5,5 2,7M1627,769l-8,-1 -7,4M1627,769l1,-7M1628,762l-4,-3 -6,-6 -5,-1M1608,733l-3,4 -2,5M1608,733l6,-2 6,0M1603,742l3,6M1606,748l6,4M1622,713l-6,2M1622,713l5,4 6,2M1620,731l-1,-7 -4,-5M1615,719l1,-4M1608,733l-2,-5 -4,-3M1603,720l6,1 6,-2M1602,725l0,-5M1473,1443l-6,3 -3,5M1464,1451l-9,-4 -7,-5 -8,-5M1441,1428l10,0 3,-6 9,-1M1441,1428l-2,6M1440,1437l-1,-3M1227,1372l6,6 -2,6 5,7M1266,1372l-5,9 -8,3 -4,8M1249,1392l-7,0 -6,-1M1293,1409l-9,0 -13,5 -10,-1M1249,1392l5,6 6,8 1,7M1206,1401l7,2 4,-2 8,0M1225,1401l4,-7 7,-3M1354,1434l0,6 -4,11 -4,6M1346,1457l-8,1 -5,5M1318,1444l0,4M1333,1463l-5,-4 -5,-6 -5,-5M1217,1461l-5,-6 -2,-4 -2,-8M1217,1461l10,-2 10,-3 7,3M1208,1443l6,-7 11,-6 5,-6M1230,1424l9,2 8,1 6,1M1244,1459l2,-4 7,-6 5,-1M1253,1428l2,7 0,7 3,6M1190,1432l5,2 9,3 4,6M1225,1401l-1,9 4,5 2,9M1261,1413l-2,4 -5,6 -1,5M1167,1481l12,0 14,4 7,7M1200,1498l0,-6M1217,1461l-4,10 -6,7 0,8M1200,1492l4,-2 3,-4M1424,572l4,4 9,2 6,3M1419,574l-1,6 -1,6M1426,599l5,-1 5,3M1443,581l2,6M1445,587l-4,2 -2,6 -3,6M1480,533l-2,6 -4,6 1,9M1455,534l8,5 1,8 4,6M1475,554l-7,-1M1440,552l5,5 6,2 4,6M1468,553l-3,5 -4,4 -6,3M1443,581l5,-5 3,-7 4,-4M1445,587l7,1 6,3M1467,578l-3,-3 -4,-7 -5,-3M1370,550l-5,-2 -5,2M1316,550l6,-1 10,4 6,2M1349,543l-3,6 -4,4 -4,2M1394,676l-5,-4 -8,2 -7,-5M1399,659l-7,-2 -8,1M1384,658l-3,7 -7,4M1389,690l-6,-3 -5,1 -5,-4M1373,684l-3,-7 3,-8M1488,779l3,6 1,5 5,5M1487,779l-4,3 -5,3 -7,4M1497,795l-3,5 -6,7 -1,6M1471,789l0,8 4,4 0,8M1487,813l-6,-2 -6,-2M1489,816l8,4 8,0 10,2M1489,816l-2,-3M1519,790l-8,5 -6,-1 -8,1M1519,790l3,5M1522,795l-1,11 -3,6 -3,10M1476,765l-6,0 -5,4M1476,765l5,4 1,6 5,4M1471,789l-5,-3M1466,786l1,-6 -1,-5 -1,-6M1417,750l-2,-3M1415,747l1,-8 2,-6 2,-4M1428,729l-8,0M1439,762l-6,4 -5,0 -6,2M1439,762l0,-6 -1,-6M1400,750l7,0 8,-3M1400,750l3,7 0,7 3,4M1278,741l-1,-7 -5,-5M1272,729l-8,4 -6,-3 -6,2M1263,754l-5,-6 -5,-3 -4,-8M1249,737l1,-3M1252,732l-2,2M1241,746l-2,7 3,7M1241,746l-8,0 -7,-4M1217,754l6,1 6,6 6,2M1217,754l3,-7 6,-5M1235,763l7,-3M1258,765l-5,-2 -5,-1 -6,-2M1249,737l-5,3 -3,6M1226,724l1,6 -3,6 2,6M1226,724l9,3 5,6 10,1M1230,785l2,-7 1,-8 2,-7M1210,756l7,-2M1205,720l8,2 7,3 6,-1M1348,799l6,2 6,-1 6,3M1344,812l3,5 4,4M1366,803l2,5 3,5M1371,813l-1,4M1351,821l6,1 7,-3 6,-2M1312,759l4,-6 4,-3 4,-3M1305,725l6,8 7,1 6,6M1324,740l0,7M1386,770l-1,-6 2,-5M1399,750l-7,4 -5,5M1407,718l4,4 6,2M1407,718l-6,1M1417,724l3,5M1399,750l-5,-6 -2,-8M1401,719l-2,6 -2,5 -5,6M1413,701l-1,5 -3,5 -2,7M1394,696l3,8 -1,7 3,7M1401,719l-2,-1M1362,776l-7,1 -4,6M1351,783l-5,-3 -7,-6 -5,0M1348,798l1,-8 2,-7M1366,803l6,-5 1,-7M1373,791l-6,-5 -3,-5 -2,-5M1391,778l-4,6 -2,7M1373,791l6,-2 6,2M1333,752l-5,-1 -4,-4M1333,752l5,6 0,7M1353,748l5,3 6,2 4,3M1353,748l-2,-3M1351,744l6,0 8,-6 5,0M1370,738l4,2M1374,740l-2,6 2,7M1368,756l6,-3M1362,775l1,-9 5,-4 0,-6M1350,763l2,-7 1,-8M1333,752l7,-2 5,-1 6,-4M1349,738l-4,-4 -7,1 -6,-2M1349,738l2,6M1332,733l-4,4 -4,3M1387,759l-7,-2 -6,-4M1392,736l-5,-2 -6,1M1381,735l-3,3 -4,2M1213,695l6,0 8,5 5,1M1226,672l5,9 3,2 9,4M1243,687l-4,5 -2,5 -5,4M1272,729l-1,-5 3,-4M1274,720l-6,0 -7,-8 -6,-1M1252,732l-2,-6 1,-7 1,-6M1255,711l-3,2M1226,724l7,-5 1,-8M1252,713l-6,0 -5,-1 -7,-1M1232,701l1,5 1,5M1547,1350l-8,-6 -13,-13 -11,-1M1515,1330l-5,5 -3,4 -5,4M1509,1384l-4,-5 -5,-3M1500,1376l1,-13 2,-10 -1,-10M431,1182l-2,2M434,1208l6,-1 7,-2 6,2M461,1185l-2,7 -6,6 0,9M434,1238l2,3M439,1241l8,-9 6,-9 6,-5M459,1218l-4,-5 -2,-6M459,1218l9,5 5,3 9,0M255,1167l6,-4 4,-4 7,-2M272,1157l8,5 8,-4 10,6M311,1217l0,-11 7,-8 2,-9M300,1179l6,6 7,-3 7,7M333,1212l-2,-6 -2,-9 -1,-8M320,1189l8,0M389,1276l-11,-1 -8,-2 -7,2M389,1276l4,-6 4,-10 1,-11M363,1275l-3,-12 -1,-12 2,-11M398,1249l-1,-5 -3,-5M394,1239l-6,0 -8,-3 -9,-3M371,1233l-6,3 -4,4M404,1289l-6,-4 -4,-8 -5,-1M355,1282l4,-4 4,-3M425,1257l-7,-5 -11,-1 -9,-2M352,1237l4,0 5,3M405,1227l-2,4 -4,3 -5,5M401,1202l-7,-1 -7,-2M373,1213l6,-4 4,-5 4,-5M373,1213l-1,5 -1,8 0,7M344,1215l4,-4 2,-6 4,-3M373,1213l-5,-5 -9,-1 -5,-5M572,1114l8,7 14,-1 8,6M572,1114l2,-8 3,-7 0,-12M615,1094l-5,10 0,11 -2,8M608,1123l-6,3M535,1118l10,3 7,0 11,1M563,1122l5,-4 4,-4M615,1094l6,-3M687,1066l-7,-1 -10,-1 -7,1M744,1154l6,-1 8,-3 7,-1M763,1177l4,-7 2,-5 7,-5M763,1177l-8,0 -8,-4M765,1149l6,3 5,6M776,1160l0,-2M794,1178l-5,-8 -7,-5 -6,-5M794,1178l-4,7 0,8M766,1185l-2,-4 -1,-4M764,1114l-4,12 1,11 4,12M764,1114l8,2 9,4 8,2M790,1147l-2,-10 2,-7 -1,-8M790,1147l-4,5 -5,4 -5,2M847,1091l-7,7 -5,4 -10,4M829,1064l-8,8 -9,3 -6,5M806,1080l-1,8 6,10 2,8M813,1106l6,-2 6,2M854,1095l0,9 0,9 0,7M854,1120l-7,3M847,1123l-5,-5 -6,-7 -11,-5M855,1062l-5,2 -3,3 -7,1M881,1080l-5,6 -5,6M789,1073l4,3 6,1 7,3M839,1139l-5,3 -7,-3 -5,2M839,1139l3,-6 4,-5 1,-5M822,1141l-7,-5 -7,-12 0,-9M808,1115l4,-4 1,-5M804,1153l8,-1 7,-4M804,1153l1,7 -5,6 2,7M819,1148l5,6 0,8M824,1162l-1,6 -3,6 -3,3M802,1173l7,4 8,0M822,1141l0,4 -3,3M790,1147l7,4 7,2M789,1122l9,-1 4,-5 6,-1M794,1178l4,-3 4,-2M839,1139l6,4 3,7M838,1166l-8,0 -6,-4M829,1196l-5,-7 -3,-8 -4,-4M890,1147l2,-11 4,-9 -2,-7M890,1147l-9,0 -5,0 -8,-5M868,1142l0,-6 -3,-6 2,-6M867,1124l6,-2 6,-5M894,1154l-4,-7M864,1148l4,-6M854,1120l6,4 7,0M486,1158l6,6M492,1164l-5,11 -3,7 2,14M522,1137l4,7 -1,8M525,1152l-9,6 -4,3 -9,5M492,1164l5,3 6,-1M1854,1373l-3,1M1834,1353l0,5 2,3M1851,1374l-4,-4 -6,-4 -5,-5M1792,1373l8,6 11,0 8,2M1836,1361l-6,4 -7,10 -4,6M1719,1400l8,5 8,2 9,0M1751,1370l2,11 -4,8 3,10M1927,1220l0,-6 -4,-4M1927,1220l-5,5 -3,5M1923,1210l-6,0 -5,3M1912,1213l-2,5 0,6M1919,1230l-5,-2 -4,-4M1926,1206l-3,4M1936,1224l-4,-3 -5,-1M1922,1240l0,-6 -3,-4M1907,1209l5,4M1900,1228l5,-3 5,-1M1973,1289l5,0 4,2M1977,1274l8,2 4,7M1982,1291l5,-1 3,-5M1990,1285l-1,-2M1985,1302l-2,-5 -1,-6M2002,1297l-2,-4 -3,-4M2002,1297l-2,4M1997,1289l-3,-3 -4,-1M1957,1253l5,3 7,1M1969,1257l5,-3 5,-2 6,1M1974,1238l7,4 4,6M2018,1236l0,-5 -5,-8 2,-5M2018,1236l-4,2 -4,0M2015,1218l-4,-1 -5,0M2006,1217l-1,5 -5,5 -1,5M2010,1238l-6,-2 -5,-4M2003,1212l3,5M1995,1232l4,0M1796,1256l6,0 4,1 7,-2M1806,1278l5,-5 6,-3M1813,1255l1,7 3,8M1795,1226l5,0 8,3 5,2M1813,1231l1,5 2,9 3,4M1813,1255l2,-4 4,-2M1833,1277l-3,-5M1830,1272l-7,0 -6,-2M1872,1239l-6,3 -6,0M1861,1227l-2,6 -6,3M1860,1242l-4,-2 -3,-4M1869,1256l-4,-3 -4,-2M1860,1242l0,5 1,4M1856,1264l1,-4 -1,-4M1861,1251l-5,5M2044,1317l0,-5 2,-5M2054,1303l-3,3 -5,1M2065,1295l2,1M2067,1296l3,5 2,6M2064,1375l3,5M2064,1375l-7,0 -8,0M2049,1375l-1,5 -3,4M2061,1393l-3,-4 -7,1 -5,-3M2061,1393l2,-5 5,-2M2068,1386l-1,-6M2039,1350l-4,5 0,7M2039,1350l4,-2 5,1M2048,1349l3,5 2,6M2035,1362l5,4 7,1M2053,1360l-3,4 -3,3M2034,1344l5,6M2031,1364l4,-2M2050,1333l2,6 -1,6M2051,1345l-3,4M2049,1375l-2,-3 0,-5M2064,1375l3,-6 -1,-7M2053,1360l5,-2 5,2M2066,1362l-3,-2M2051,1345l5,3 6,-1M2063,1360l0,-7 -1,-6M2070,1340l-4,5 -4,2M2043,1403l2,5 5,4M2061,1393l2,6 -1,7M2062,1406l-5,4 -7,2M2029,1425l9,-2 4,-6 8,-4M2050,1413l0,-1M2045,1439l6,-4 8,-1M2050,1413l5,8 -3,5 7,8M2062,1435l-3,-1M1970,1272l-6,0 -4,4M1970,1272l7,2M1970,1290l-4,-3 -5,-2M1961,1285l0,-5 -1,-4M1955,1254l2,8 3,4 -1,9M1970,1272l-2,-7 1,-8M1941,1270l5,6M1959,1275l-6,-1 -7,2M1947,1325l-2,-3M1923,1327l6,-2 4,-6M1945,1322l-5,-4 -7,1M2121,1174l-3,-6M2121,1174l8,0 9,0 5,3M2143,1177l5,-4M2071,1274l3,6 4,4 5,4M2067,1296l5,-2 6,-2 5,-4M2166,1422l-1,-6 3,-5M2180,1404l-7,2 -5,5M2134,1261l3,7M2152,1266l-7,2 -8,0M2229,1072l-9,2 -8,-2 -6,-2M2195,1081l1,5M2206,1070l-5,2M2196,1086l6,5 5,7 6,5M2196,1086l-4,9 -3,4 -8,8M2178,1127l8,-2 6,-1 5,1M2197,1125l4,-5 1,-7M2313,1267l-1,5M2312,1272l5,4 7,4 6,7M2303,1250l-5,-2 -6,-1M2308,1275l4,-3M2308,1275l-5,0 -6,2 -6,-2M2283,1250l0,8 0,6 1,5M2291,1275l-4,-3 -3,-3M2042,909l7,0 7,0M2046,937l-6,-2M2046,937l5,-2 2,-5 5,-5M2058,925l1,-7 -1,-5 -2,-4M2081,943l-5,3 -1,5 -5,4M2081,943l-5,-4 -1,-7 -3,-4M2046,937l3,5 3,10 5,3M2058,925l7,2 7,1M2039,890l8,-1 3,2 8,1M2058,892l1,0M2059,892l2,7 -2,6M2056,909l3,-4M2095,917l1,-6 7,-5 1,-6M2095,917l-7,-3 -7,-2M2081,912l-1,-2M2080,910l0,-6 4,-5 -1,-5M2104,900l-6,-3 -5,-5M2093,892l-5,1 -5,1M2081,943l4,-2 5,1M2090,942l5,-7 0,-9 2,-6M2097,920l-2,-3M2072,928l1,-6 5,-5 3,-5M2059,905l8,5 7,-3 6,3M2073,885l7,2 3,7M2073,885l-7,4 -7,3M2073,880l5,-4 3,-4M2073,880l0,5M2097,880l-2,-4M2097,880l-1,6 -3,6M2081,872l7,5 7,-1M1934,755l7,0M1941,755l2,-8 -1,-7M1942,740l-7,1 -7,-1M1941,769l-1,-7 2,-6M1942,756l-1,-1M1920,765l1,-4 -1,-8 -2,-4M1918,749l4,-1 4,-2M1944,727l-5,0 -4,-4M1944,727l-1,5 2,5M1945,737l-3,3M1914,734l-2,6 0,6M1914,734l6,-1 5,0M1918,749l-6,-3M1885,792l0,-4M1885,792l6,4 8,0M1898,784l4,6M1898,784l-6,3 -6,0M1899,796l3,-6M1901,776l7,0M1901,776l-2,4 -1,4M1909,789l-7,1M1902,804l-2,-4 -1,-4M1902,804l2,1M2047,857l7,-4 8,-1M2047,857l3,6 1,7M2073,880l-4,-6 -7,-5M2058,892l-4,-8 -3,-7 0,-7M2019,1116l7,0 3,-7 8,0M2019,1116l-3,-6 -6,-6 -5,-4M2037,1109l-7,-8 7,-14 -8,-13M2005,1100l11,-7 -1,-10 11,-8M2026,1075l3,-1M1981,1099l8,3 7,-4 9,2M1978,1130l5,0 5,3M1988,1133l11,0 10,-5 8,-1M2017,1127l2,-5 0,-6M2052,1113l-3,-3 -7,2 -5,-3M2057,1080l-7,-1 -11,-3 -7,-4M2032,1072l-3,2M2004,1064l6,1 6,7 10,3M2009,1042l10,-3 7,0 9,1M2032,1072l3,-9 5,-9 -1,-11M2035,1040l4,3M1988,1133l6,9 3,6 6,7M2003,1155l-4,7 -6,2 -3,5M2008,1198l0,-6 0,-6 -1,-4M2057,1119l4,3 8,1 4,5M2094,1101l-4,8 3,5 -2,8M2073,1128l6,-4 7,1 5,-3M2001,1035l0,-7 2,-7M2035,1040l-4,-8 -4,-6 -1,-7M2026,1019l-7,2 -7,-3 -9,3M1970,1014l7,-3 10,0 6,-4M2003,1021l-3,-4 -2,-6 -5,-4M1994,980l3,7 3,8M2000,995l-4,6 -3,6M2042,975l12,4 9,9 9,2M2072,990l-4,4 0,6 -1,6M2000,995l13,-3 6,5 12,-1M2074,988l-2,-5 7,-6 -1,-9M2074,988l-2,2M2026,1019l5,-8 -3,-6 4,-7M2052,1039l4,-7 2,-13 -1,-8M2052,1039l-6,4 -7,0M2103,1036l-1,8M2103,1036l-5,-7 -1,-5 -6,-7M2091,1017l-5,2 -4,-1M2102,1001l5,1 6,0M2102,1001l-2,6 -6,3 -3,7M2123,1023l0,-7 -3,-7 -7,-7M2123,1023l-6,5 -8,1 -6,7M2073,1068l1,-7 1,-6 -3,-6M2102,1001l-5,-4 -1,-5M2096,992l-7,-3 -6,-2 -9,1M2052,1039l6,4 6,-1 4,2M2009,1198l6,6 3,3 5,5M2009,1198l8,-1 5,-3 8,-3M2035,1198l-2,6 -6,4 -3,4M2015,1218l3,-4 5,-2M2035,1226l-6,-4 -3,-4 -2,-6M2124,848l2,-5 2,-5M2124,848l5,1 5,3M2128,838l7,0 5,4M2134,852l4,-2 3,-3M2140,842l1,5M2117,852l7,-4M2116,853l5,2 3,7 3,5M2135,862l-3,4 -5,1M2135,862l-1,-5 0,-5M2161,840l-4,6 -7,4M2150,850l-4,-2 -5,-1M2145,829l-2,7 -3,6M2145,829l-5,2 -9,-4 -5,2M2128,838l-1,-5 -2,-4M2080,858l2,3M2080,858l-1,-5 2,-3M2082,861l7,-1 8,0M2081,850l8,-3 8,0M2097,860l2,-6M2097,847l2,7M2081,872l-1,-6 2,-5M2067,859l6,-1 7,0M2079,843l2,7M2079,843l-6,-4M2095,876l1,-6 4,-4M2100,866l-3,-6M2116,853l-2,7 -5,6M2116,853l-4,-1 -6,0 -7,2M2109,866l-4,0 -5,0M2423,918l3,-6M2423,918l3,6 2,7M2426,912l7,-3 8,0M2444,933l7,-4 3,-8M2441,909l4,2 4,1M2449,912l2,4 3,5M2409,918l7,1 7,-1M2409,918l-4,-3 -4,-3M2424,908l2,4M2401,912l3,-6 3,-6M2405,935l3,-6 2,-5 -1,-6M2405,935l7,0 8,-5 8,1M2431,885l2,0M2433,885l4,9 1,6 3,9M2405,935l-1,2M2466,922l-6,-2 -6,1M2458,892l-5,6 0,6 -4,8M2453,881l-8,0 -6,5 -6,-1M2428,791l-3,1M2425,792l-2,7 -5,4 -4,6M2300,938l8,0 6,-3M2300,938l2,6 5,6 0,5M2307,955l5,-2 5,1M2240,1200l8,1 7,-1M2240,1200l-1,8 -4,4 -1,8M2234,1220l7,-1 7,-1 5,2M2253,1220l-1,-7 3,-6 0,-7M2200,1042l6,-2 7,-3 6,-2M2200,1042l0,1M2200,1043l4,6 5,5M2209,1054l5,-3 8,-5 5,-2M2227,1044l-5,-4 -3,-5M2194,1027l9,-1 7,-3 7,1M2193,1028l3,8 4,6M2217,1024l1,5 1,6M2183,1052l-5,-6 -4,-8 0,-6M2188,1053l6,-5 6,-5M2193,1028l-8,3 -5,0 -6,1M2206,1070l2,-5 0,-6 1,-5M2231,1045l-4,-1M2134,1050l1,-6 2,-7 4,-4M2161,1059l-1,-8 -3,-6 3,-8M2160,1037l-8,0 -6,-5 -5,1M2174,1032l-2,-1M2160,1037l5,-4 7,-2M2123,1023l7,3 8,2M2141,1033l-3,-5M2239,1113l-2,6 -4,4M2238,1136l5,-2 4,-6 7,-3M2238,1136l-4,-6 -1,-7M2219,1123l-3,-7 -1,-3 -4,-6M2219,1123l7,-3 7,3M2335,847l4,-3 5,-3M2335,847l-5,0 -3,-2M2344,841l0,-5 0,-4M2340,827l-5,2 -6,0M2327,845l2,-8 0,-8M2321,813l6,1 5,-2M2321,813l1,6 1,6M2323,825l6,4M2090,942l5,3M2096,992l2,-5 2,-10 2,-6M2099,969l3,2M2263,785l3,3 2,5M2263,785l3,-5 5,-3M2283,795l-2,-6 2,-5M2283,795l-4,1M2279,796l-6,-1 -5,-2M2277,817l-1,6 -3,4 -4,5M2277,817l-4,-5M2273,812l-5,0M2268,812l-6,3 -4,5M2269,832l-6,-4 -5,-3M2258,825l0,-5M2268,837l3,6 4,5M2268,837l-8,2 -4,7M2256,846l-2,4M2254,850l5,5 7,2M2275,848l0,5 -3,3M2266,857l6,-1M2269,833l-1,4M2258,825l-5,2 -5,3M2248,830l3,4 0,6 5,6M2315,903l2,-7M2315,903l-4,3 -5,2M2300,891l0,6 -2,6M2306,908l-4,-4 -4,-1M2224,896l0,-6 -2,-5M2224,896l6,2 5,1M2230,880l-4,3 -4,2M2230,880l6,4 6,4M2235,899l5,-2M2242,888l-3,4 1,5M2224,785l1,5M2224,785l-3,-1M2211,804l3,1M2225,790l-5,2 -1,7 -5,6M2243,795l1,7 2,8M2243,794l6,0M2249,794l6,3 5,5M2260,803l-6,2 -3,6M2251,811l-5,-1M2263,785l-4,-1M2259,784l-6,3 -4,7M2268,793l-6,3 -2,6M2279,796l-1,7 -2,4 -3,5M2268,812l-4,-5 -4,-4M2258,820l-5,-4 -2,-5M2243,825l3,4M2243,825l-1,-8 4,-7M2248,830l-2,-1M2239,778l-2,-7M2240,779l7,1 7,-3M2237,771l4,-7 7,-3M2254,777l2,-4 0,-5M2256,768l-3,-5 -5,-2M2224,785l5,-4 5,0 5,-3M2225,790l5,2 4,5M2234,797l4,-2 5,0M2243,794l-3,-7 0,-8M2229,765l3,4 5,2M2259,784l-2,-4 -3,-3M2262,766l-6,2M2256,747l-5,3 -3,4M2248,754l0,7M2434,742l-5,-4M2425,765l-5,2 -5,-1M2415,766l-4,-4 -6,-3 -1,-5M2404,754l11,-3 2,-9 12,-4M2440,700l-3,8 -8,8 -5,11M2400,711l4,7 6,3 3,4M2413,725l5,3 6,-1M2429,738l-4,-5 -1,-6M2347,737l6,3 4,4 3,4M2354,761l5,-6 1,-7M2352,798l4,-6 4,-6M2369,808l3,-6 1,-7M2360,786l6,2M2373,795l-4,-3 -3,-4M2361,827l3,6 3,7M2373,816l5,4 7,-1M2367,840l4,1M2371,841l5,-3 6,-1M2382,837l0,-6 1,-6 2,-6M2305,753l6,5 4,7 4,5M2302,778l6,-5 5,1 6,-4M2341,778l-2,-7 -2,-8M2341,778l-4,4M2337,782l-6,-4 -7,1M2329,762l-3,5 -6,3M2329,762l8,1M2320,770l1,6 3,3M2342,759l-5,4M2354,778l4,-4 0,-5M2354,778l-6,2 -7,-2M2342,800l-1,-4 -4,-2M2354,778l2,5 4,3M2337,794l2,-6 -2,-6M2324,751l4,5 1,6M2167,602l-7,-3 -4,-4 -4,-6M2164,612l-8,1 -9,-7 -10,1M2137,607l5,-4 -1,-10 5,-3M2152,589l-6,1M2171,571l3,6 5,2 4,5M2165,572l-4,7 -6,6 -3,4M2137,577l4,5 1,3 4,5M2133,609l4,-2M2196,577l4,3 6,3 5,0M2208,559l5,2 2,5 4,5M2219,571l-6,4 -2,8M2194,551l2,5 4,3M2229,567l-5,2 -5,2M2215,590l-2,7 0,7M2215,590l7,-3 4,0 8,-2M2238,602l-6,0 -9,3 -7,1M2238,602l-3,-7 2,-6M2216,606l-3,-2M2234,585l3,4M2182,591l3,6 6,6 5,5M2211,583l1,4 3,3M2196,608l6,-2 4,-2 7,0M2235,573l0,6 -1,6M2254,586l-6,4 -6,-4 -5,3M2257,603l-5,3 -4,4M2248,610l-5,-4 -5,-4M2304,623l-9,0 -7,0 -7,4M2248,610l-1,7M2216,606l3,6 4,5 0,7M2247,617l-6,3 -8,1 -10,3M2186,726l3,-4M2113,636l9,3 5,-2 8,1M2133,613l4,4 3,8 0,6M2191,755l1,7 2,6M2191,755l1,-4M2192,751l4,3 7,3 6,1M2197,770l-3,-2M2197,770l5,-4 7,2M2209,758l1,8M2210,766l-1,2M2176,764l6,-2 4,-2 5,-5M2181,774l6,-4 7,-2M2191,747l1,4M2196,781l1,-6 0,-5M2208,782l0,-7 1,-7M2220,770l-4,-4 -6,0M2154,793l-3,4 -5,2M2154,793l-1,-5 0,-4M2153,784l-3,-3 -5,-3M2142,797l-5,-7 0,-8M2142,797l4,2M2145,778l-3,4 -5,0M2147,813l0,-7 -1,-7M2165,795l-6,0 -5,-2M2164,775l-5,5 -6,4M2147,768l-1,5 -1,5M2127,798l-1,-5M2127,798l7,-2 8,1M2135,782l2,0M2130,769l0,-3M2127,867l-1,4 -2,5M2109,866l4,5 4,6M2124,876l-7,1M2097,880l8,0 8,1M2113,881l4,-4M2104,900l4,0 4,-1M2113,881l0,7 -3,5 2,6M2063,846l-5,-3 -6,-3M2061,828l3,7 7,4M2061,828l-8,0M2052,840l0,-6 1,-6M2068,819l5,-1 6,-1M2068,819l-4,-4 -5,-7 -4,-4M2071,799l5,5 1,7 2,5M2071,799l-7,-3 -7,2M2057,798l-2,3M2055,804l0,-3M2061,828l5,-4 2,-5M2053,828l-2,-4 -4,-1M2047,823l0,-6 8,-6 0,-7M2093,808l-4,-8 -2,-2 -7,-5M2080,793l-4,3 -5,3M2099,733l-5,3 -6,4 -2,5M2081,729l-1,4 0,4M2080,737l3,4 3,4M2112,742l-4,5 -2,6M2112,742l-2,-3M2106,753l-4,-2 -7,1 -7,1M2088,753l-2,-3M2086,745l0,5M2081,792l-2,-8 -7,-2 -2,-8M2057,798l0,-5 0,-6M2057,787l3,-4 6,-4 4,-5M2081,792l5,-3 5,-3M2091,786l4,6 5,6M2134,733l-3,-5 -2,-7M2156,719l-7,-2 -5,-5M2144,712l-4,4 -7,1 -4,4M2112,742l4,3 6,-1M2120,720l4,-1M2129,721l-5,-2M2105,709l6,-8 11,-1 5,-5M2124,719l2,-10 1,-4 0,-10M2196,815l4,4 5,3M2205,822l-3,6 -2,5M2251,851l3,-1M2246,829l-7,4 -3,8M2242,850l-2,-5 -4,-4M1825,814l-4,4 -2,7M1825,814l-3,-4M1806,815l1,8M1807,823l6,0 6,2M1830,838l-7,-4M1825,814l7,1M1839,827l-5,-5 -2,-7M1823,834l-2,-4 -2,-5M2094,650l-3,6 -6,6 -8,4M2077,666l-4,-3 -4,-1M2081,702l-5,-2M2081,702l5,-4 7,0 4,-2M2076,700l-5,-5 0,-7M2071,688l5,-3 1,-4 5,-4M2097,696l-1,-6 -1,-5 -1,-5M2094,680l-6,-2 -6,-1M2084,714l1,-7 -4,-5M2072,720l-5,-3 -3,-5M2064,712l5,-3 4,-5 3,-4M2105,709l-1,-7 -6,-5M2098,697l-1,-1M2051,699l7,-4 3,-2 5,-6M2051,699l2,6 1,6M2054,711l5,-1 5,2M2066,687l5,1M2066,687l-3,-4 -4,-7 -5,-4M2077,666l3,5 2,6M2104,653l-2,6 2,7 -2,6M2102,672l-5,3 -3,5M1937,597l-3,-7 -5,-5M1921,586l4,-1 4,0M1925,622l5,-2 3,-5M1949,592l-1,2M1933,578l-1,4 -3,3M1946,618l5,-5 3,-7M1957,628l-6,-1M1957,628l4,-4 5,-1M1966,623l-2,-5 2,-6M1966,612l-5,-5M1935,636l5,1 4,-2M1976,627l1,-7 6,-3 0,-6M1976,627l-5,-3 -5,-1M1981,609l2,2M1981,609l-7,3 -8,0M1981,595l1,7 -1,7M2026,571l-2,7 -3,3 -2,6M2006,582l5,3 4,3M2015,588l4,-1M2046,601l-5,-2 -6,-3M2046,601l4,-5 6,-5M2039,581l-3,5 -2,5M2034,591l1,5M2019,587l7,3 8,1M2058,574l-2,4 -3,4M2039,618l1,-5 4,-5 2,-4M2039,618l7,4 7,0 5,4M2046,604l6,2 5,4M2058,626l-1,-8 0,-8M2071,602l-5,5 -5,2 -4,1M2046,601l0,3M2064,626l-5,1M1898,678l7,0 6,2M1911,658l4,4 2,4M1911,680l4,-6 2,-8M1930,651l-1,7 0,8M1917,666l6,0 6,0M1910,718l-3,-6 1,-6 -3,-4M1905,702l-4,-1M1888,711l4,-5 5,-1 4,-4M1888,711l2,5 1,4M1914,734l-2,-4 -4,-2M1907,722l1,6M1891,750l1,-4 2,-5M1891,750l6,3 4,6M1909,747l-3,5 -2,6M1909,747l-6,-3 -6,-4M1897,740l-3,1M1904,758l-3,1M1877,732l-2,7 -3,4 1,6M1873,749l4,5 6,2M1883,756l3,-4 5,-2M1884,731l3,7 7,3M1914,767l-4,-6 -6,-3M1912,746l-3,1M1908,728l-3,5 -5,1 -3,6M1875,709l4,-1 4,0M1875,709l0,-7 -5,-6M1883,708l1,-6 0,-7M1884,695l-4,-3 -4,-4M1876,688l-2,5 -4,3M1888,711l-5,-3M1896,692l2,5 3,4M1896,692l-6,2 -6,1M1898,678l2,8 -4,6M1876,685l0,3M2031,692l-2,-7M2029,685l4,-6 2,-5M2049,675l-7,-1 -7,0M2051,699l-4,-2 -4,-3M2054,711l-4,5 -4,5M2046,721l-5,0 -6,0M2029,715l5,-7 -1,-5 2,-8M2010,688l1,5 2,3M2014,679l4,-2M2018,677l5,6 6,2M1943,703l5,2 1,8 5,4M1954,717l6,-3 1,-4 5,-4M1966,706l-1,-5 -4,-4M1994,693l2,-7M1993,682l-6,0 -4,3 -6,1M1994,676l-5,-2 -5,-4M1976,675l4,-3 4,-2M1976,675l0,5 -2,5M1966,706l6,1M1981,699l-1,5M1980,704l-4,1 -4,2M2001,703l-6,6 -7,2M1980,704l4,3 4,4M1963,645l-6,4 -7,3M1963,645l5,1 4,1M1972,647l0,4 2,4M1974,655l-5,4 -2,6M1962,667l5,-2M1957,628l5,6 1,4 0,7M1976,675l-3,-7 -6,-3M1984,670l0,-5 -1,-5M1983,660l-4,-3 -5,-2M1942,668l2,6M1942,668l6,-3 2,-7M1931,650l8,1 4,0 6,1M1942,668l-6,0 -6,-2M1976,627l4,5M1972,647l3,-4 4,-4M1980,632l-1,7M1846,665l-1,9 7,7 -1,7M1836,687l8,-1 7,2M1862,681l-3,4 -5,3M1851,688l3,0M1839,703l4,1 4,-1M1851,688l-2,8 -2,7M1870,696l-7,1M1854,688l6,4 3,5M1866,752l-5,-4 -6,-2M1866,752l7,-3M1867,726l-3,10 -6,3 -3,7M1805,594l-6,5 -8,3 -3,6M1788,608l4,4 6,3 6,6M1803,645l-2,-7 -5,-7M1796,631l3,-6 5,-4M1828,597l0,-8 -5,-5M1831,572l-2,7 -6,5M1843,552l-6,-2 -3,-4 -7,-1M1827,545l-4,5 -3,4 -5,6M1831,572l-6,-3 -6,-5 -4,-4M1823,584l-7,-2 -7,-2 -5,2M1782,519l7,-3 1,-4 7,-4M1782,519l-3,-1M1779,518l-4,-6 -4,-8 -3,-5M1788,486l-6,7 -8,0 -6,6M1788,486l6,5 5,4M1797,508l1,-6 1,-7M1818,488l-5,2 -3,5M1788,466l-2,6 0,7 2,7M1810,495l-6,-1 -5,1M1830,509l-5,2 -6,-1M1810,495l3,3 5,7 1,5M1787,655l-3,-6M1796,631l-7,2M1789,633l-3,4 -1,8 -1,4M1762,647l5,-3M1762,647l1,5 -2,5M1773,668l-5,-7 -7,-4M1784,649l-8,0 -4,-2 -5,-3M1789,679l-4,3 -6,3 -3,5M1776,690l-4,-7 -7,-3M1749,665l4,3 2,8 2,5M1749,665l7,-3 5,-5M1832,724l6,6 7,3M1845,733l1,5 0,6M1846,744l-7,2M1741,516l6,0 7,2M1754,518l4,-8 1,-4 3,-8M1762,498l-6,-4M1730,534l-1,-7 -5,-11 -5,-5M1719,511l2,-6 3,-4M1736,504l-6,-2 -6,-1M1724,501l-2,-7M1969,526l4,5 5,1M1969,526l2,-5 3,-6 3,-5M1978,532l5,-3 6,-2M1989,527l3,-5 -1,-7M1991,515l-4,-2 -3,-4M1977,510l7,-1M1980,543l-1,-5 -1,-6M1959,528l6,-1 4,-1M1966,500l5,6 6,4M2003,538l-3,-3 -5,-3 -6,-5M2002,515l-6,1 -5,-1M1988,500l0,5 -4,4M2044,428l-4,-7 -5,-2 -4,-5M2044,428l3,-3 6,2 6,-4M2054,401l-7,1 -3,-1 -6,-1M2038,400l-2,6 -5,3M2031,409l0,5M2043,430l1,-2M2016,430l3,-7 8,-2 4,-7M2009,404l-5,3 -2,5M2009,404l8,2 6,3 8,0M2098,436l5,-3 2,-6M2098,436l3,7 0,7M2105,427l4,2 9,4 5,0M2101,450l8,1M2109,451l6,-2 5,-4M2123,433l-1,6 -2,6M2102,413l4,6 -1,8M2086,433l6,1 6,2M2097,453l4,-3M2117,471l-1,-8 -7,-5 0,-7M2134,458l-6,-5 -4,-4 -4,-4M1962,362l6,0 4,4M1972,366l5,-6 7,-1 5,-4M2030,380l-8,3 -8,3 -6,6M2004,369l-4,4 -2,5 -2,7M2008,392l-8,-2 -4,-5M2038,400l-4,-4 0,-9 -4,-7M2009,404l1,-6 -2,-6M1972,366l0,8 5,6 1,5M1981,387l-3,-2M1981,387l7,-2 8,0M1992,413l-5,-2 -3,-4M1984,407l-1,-7 -3,-7 1,-6M1962,421l-7,2 -7,-3 -9,-3M1963,420l1,-7 -2,-10 -3,-8M1939,417l-2,-4 0,-5M1937,408l2,-6 5,-6 3,-4M1947,392l6,1 6,2M1965,430l-1,-5 -2,-4M1930,429l3,-8 6,-4M1984,407l-9,2 -4,8 -8,3M1978,385l-5,3 -7,2 -7,5M1916,400l8,4 4,3 9,1M1943,384l2,4 2,4M91,1234l-5,-4 -3,-5 -3,-5M71,1197l5,4M74,1219l-1,-6 4,-6 -1,-6M151,1182l2,-7 -1,-8M126,1170l5,-2 3,-4M134,1164l7,2 3,1 8,0M168,1153l-3,5 -8,1 -4,6M145,1143l5,-1 5,-1M145,1143l2,6 -2,5M145,1154l2,6 6,5M152,1167l1,-2M155,1128l-5,-1 -6,1M145,1113l-4,4M141,1117l0,6 3,5M138,1139l3,3 4,1M138,1139l2,-4 2,-5M142,1130l2,-2M145,1154l-6,-1 -5,0M137,1139l-2,7 -1,7M134,1164l-2,-5 1,-5M133,1154l1,-1M125,1154l-7,-1M125,1154l-1,8 -3,6M118,1153l-4,6M121,1168l-2,-6 -5,-3M127,1153l6,1M127,1153l-2,1M103,1163l2,-5M105,1158l5,0 4,1M127,1153l-3,-4 1,-6M118,1153l-4,-5 -1,-5M113,1143l6,1 6,-1M105,1158l-1,-6M109,1142l-1,6 -4,4M109,1142l1,-1M113,1143l-3,-2M137,1139l-6,-1M131,1138l-6,5M85,1161l-3,-6M85,1161l8,-1M82,1155l4,-4 3,-2M93,1160l0,-4 0,-5M93,1151l-3,-2M96,1163l-3,-3M83,1167l2,-6M104,1152l-6,2 -5,-3M100,1137l4,2 5,3M100,1137l-5,6 -5,6M82,1140l3,4 4,5M94,1128l2,5 4,4M60,1154l2,5 2,5M60,1154l6,-5 8,-1M64,1164l5,3M44,1178l8,-2 6,-5 6,-7M82,1155l-3,-1M70,1185l2,-3M80,1082l-6,4 -7,2M363,1084l2,10 -1,7 2,9M366,1110l5,3 2,5M410,1110l-5,4M373,1118l11,-3 12,-1 9,0M428,1155l-8,2 -8,-4 -8,2M405,1114l2,12 -5,13 2,16M1544,1540l-9,0 -9,-5 -10,-2M1516,1533l3,7 -6,10 2,11M1557,1477l-6,2 -8,0M1557,1477l4,9 4,6 0,9M1552,1509l-6,-5 -4,-7 -4,-9M1552,1509l6,-5 7,-3M1538,1488l2,-5 3,-4M1532,1462l5,3 5,7 1,7M1564,1467l-3,5 -4,5M1574,1501l-5,-1 -4,1M1550,1512l-9,1 -10,-1 -7,-2M1550,1512l2,-3M1530,1489l-3,7 -4,7 1,7M1530,1489l8,-1M1550,1512l2,9 -2,8 2,6M1509,1468l3,5 1,5M1513,1478l4,3 7,6 6,2M1901,1417l-2,8 -8,2 -4,9M1895,1448l-6,6 -2,8 -2,7M1833,1233l-5,-4 -6,-2M1833,1233l6,-1 5,-2M1844,1230l1,-7 -1,-7M1822,1227l4,-4 0,-7 3,-5M1829,1211l7,1 7,3M1843,1215l1,1M1860,1218l-6,-3 -5,3 -5,-2M1851,1236l2,0M1851,1236l-3,-3 -4,-3M1825,1205l4,6M1813,1231l4,-2 5,-2M1849,1203l-2,7 -4,5M1638,1229l-6,6 -3,1 -6,6M1603,1228l3,4 1,6M1623,1242l-5,-3 -6,0 -5,-1M1651,1257l-6,3 -10,3 -5,4M1623,1242l1,8 4,10 2,7M1726,1246l-6,-1 -6,3 -10,-1M1726,1246l1,-11 1,-10 1,-7M1704,1247l3,-16 -6,-10 4,-13M1729,1218l-10,-1 -8,-3 -6,-6M1699,1251l5,-4M1731,1249l-5,-3M1750,1212l-8,5 -7,-2 -6,3M1554,1187l-5,-4 -5,-7 -8,-5M1554,1187l13,-8 9,-3 14,-2M1536,1171l17,-9 0,-15 16,-8M1569,1139l10,12 -1,15 12,8M1632,1170l-6,-3 -4,-4M1675,1146l-18,-1 -12,-8 -19,-2M1622,1163l5,-11 -3,-7 2,-10M1594,1188l-3,-6 1,-6M1622,1163l-10,9 -11,1 -9,3M1554,1187l2,9 -3,7 0,11M1553,1214l7,4 12,-4 11,3M1592,1176l-2,-2M1268,1158l-7,-8 -1,-9 -6,-10M1268,1158l-5,7 -6,3 -5,5M1240,1170l6,1 6,2M1240,1170l-6,-9 -1,-12 1,-14M1234,1135l5,-1 10,-2 5,-1M1294,1151l-8,-1 -8,4 -10,4M1294,1151l-5,-13 0,-10 -1,-11M1288,1117l-9,1 -7,0 -10,-3M1262,1115l-5,5 -1,6 -2,5M1265,1205l-5,-13 0,-10 -8,-9M1305,1158l1,5 -1,9 2,8M1305,1158l-5,-5 -6,-2M1307,1180l-9,13 -12,6 -7,11M1223,1175l5,-2 6,0 6,-3M1224,1128l4,5 6,2M1254,1106l4,4 4,5M1254,1106l-8,3 -6,2 -9,2M1354,1159l-6,-5 -9,-7 -7,-2M1354,1159l1,8 3,7M1332,1145l-10,9 -8,2 -9,2M1307,1180l9,4 5,9 13,5M1358,1174l-6,11 -6,8 -12,5M1316,1225l6,-10 9,-2 4,-8M1334,1198l1,7M1270,844l3,7 -2,6M1251,867l6,3M1251,867l0,-5 -2,-6M1249,856l7,-4 3,-4 3,-6M1271,857l-7,3 -3,6 -4,4M1254,1106l1,-10 -3,-8 2,-10M1214,1083l3,-7 6,-4 2,-8M1254,1078l-11,-8 -9,-5 -9,-1M1213,1012l8,11 6,5 6,13M1251,1002l2,9 -4,9 3,10M1252,1030l-5,5 -8,0 -6,6M1179,1046l18,1 15,13 13,4M1233,1041l-6,7 3,10 -5,6M1257,967l-6,8 -6,2 -8,4M1257,967l7,4 7,0 7,3M1279,994l2,-7 -1,-7 -2,-6M1437,903l-11,5 -11,2 -7,7M1437,903l2,8 -3,12 4,12M1406,924l2,-7M1406,924l1,6 8,4 4,6M1419,940l7,-1 6,-1 8,-3M1681,929l-3,5 -4,6 -3,4M1681,929l-5,-5 1,-9 -5,-6M1672,909l-4,-2 -5,-1M1663,906l-2,10 -12,9 -2,8M1671,944l-8,0 -6,0 -8,-3M1649,941l0,-4 -2,-4M1703,925l-6,1 -8,1 -8,2M1692,969l-3,-10 -9,-11 -9,-4M1688,904l-5,3 -5,2 -6,0M1489,816l-6,7 -2,14 2,10M1475,809l-5,3 -10,1 -5,3M1468,853l7,-4 8,-2M1195,943l-7,-7 -7,-8 -5,-5M1195,943l-7,2 -5,11 -6,4M1176,960l-4,-9 -11,-7 -4,-7M1157,937l6,-8 6,1 7,-7M1211,953l-4,-5 -3,-3 -7,-3M1197,942l-2,1M1158,970l4,-3 9,-1 5,-6M1149,936l4,-1 4,2M1180,883l0,5 -2,5M1156,873l6,-2 6,-3M1162,901l8,-1 1,-4 7,-3M1162,901l7,4 3,11 4,6M1220,846l2,5 3,4M1220,846l4,-7 5,-6M1225,855l7,0 3,-3 6,-2M1229,833l6,1 6,4M1241,838l2,6 -2,6M1208,844l6,1 6,1M1225,863l0,-8M1225,863l-6,3 -7,3M1228,827l1,6M1251,867l-6,4 -6,2M1239,873l-7,-2 -3,-2 -4,-6M1249,856l-5,-2 -3,-4M1254,832l-6,3 -7,3M1159,828l-13,2 -13,-2 -10,8M1173,858l-7,-7 -2,-6 -5,-9M1668,849l3,-6 4,-5M1668,849l-5,1M1662,823l-4,3 -4,2M1623,847l4,5 7,4 4,4M1633,835l7,4 8,0M1648,839l-4,5 -1,8 -5,8M1763,860l-5,-6 -8,-3M1771,838l-7,1 -8,0M1750,851l5,-5 1,-7M1758,821l-6,-3 -4,-5M1758,821l5,-2 5,2M1748,813l4,-7 7,-5M1746,814l0,5 -4,7 0,5M1746,814l2,-1M1742,831l4,2 4,0M1750,833l2,-7 6,-5M1750,833l3,4 3,2M1733,807l6,3 7,4M1733,797l6,-6 8,-1M1747,790l5,6 7,3M1787,783l-5,1 -7,-1 -5,-1M1787,783l-1,7 1,7M1787,797l-7,4M1780,801l-8,-1 -6,-6M1796,801l-5,-2 -4,-2M1805,796l-3,-4 0,-5M1802,787l-8,-1 -5,-5M1789,781l-2,2M1796,811l-6,2 -3,5M1787,818l-5,-1 -3,-3M1779,814l3,-6 -2,-7M1779,814l-4,3 -4,0M1779,905l7,-2 5,-5M1793,884l0,7 -2,7M1793,884l-8,-3 -5,-3 -5,-8M1775,870l-4,1M1813,905l-7,-3 -6,-4 -9,0M1802,875l5,1 5,-1M1802,875l-6,3 -3,6M1815,755l-6,-1M1815,755l1,5 3,5M1809,754l-2,4 -4,2M1803,760l-1,4 1,4M1803,768l5,3M1819,765l-5,3 -6,3M1802,787l3,-6 5,-2M1819,792l-1,-4 0,-5M1818,783l-4,-1 -4,-3M1789,781l-1,-5 3,-3M1791,773l5,-5 7,0M1808,771l2,8M1717,594l-7,0 -7,-2M1717,594l6,-4M1703,592l1,-5 -5,-8 2,-5M1707,569l8,2 7,-1M1723,590l-2,-6 2,-8 -1,-6M1726,613l3,4 2,5M1726,613l4,-4 3,-9 6,-5M1731,622l7,-2 5,-7 4,-2M1747,611l0,-5 -2,-6 -2,-5M1743,595l-4,0M1717,610l4,2 5,1M1717,610l-2,-8 2,-8M1723,590l4,3 5,1 7,1M1747,635l5,-4 5,-6 2,-7M1747,635l-3,-5 -9,-3 -4,-4M1759,618l-7,-1 -5,-6M1767,605l-2,-6 -1,-6M1767,605l-3,7 -5,6M1764,593l-7,-2 -6,2 -7,1M1745,578l2,8 -3,8M1745,578l-4,-5 -5,-4M1736,569l-6,1 -5,-2M1722,570l3,-2M1693,546l6,3 4,5M1693,546l2,-7 0,-8M1695,531l3,-2M1698,529l8,4 11,1 9,5M1695,573l-7,-4 -3,-6 -4,-8M1681,555l7,-3 5,-6M1725,568l1,-8 0,-6 -3,-9M1736,569l6,-5 4,-4 1,-5M1740,539l1,5 5,5 1,6M1754,518l2,6 3,7M1779,518l-7,3 0,8 -7,3M1768,499l-6,-1M1747,555l7,1M1772,547l-4,4 -8,4 -6,1M1745,578l6,-4 8,-2M1759,572l-3,-5 0,-5 -2,-6M1632,670l6,0 5,2M1632,670l-1,5 -3,5M1628,680l7,4 9,0M1643,672l2,6 -1,6M1635,718l3,6 0,4 4,5M1624,739l5,-1 3,3M1632,741l6,-3 4,-5M1628,762l4,-4 4,-3M1632,741l3,7 1,7M1663,765l4,-6M1684,766l-4,4 -7,2 -4,2M1684,766l0,-5M1667,759l7,-1 5,2 5,1M1682,730l6,0 6,3M1682,730l-1,-5M1682,722l-1,3M1682,722l7,-2 6,-5M1694,733l6,-3 6,-4M1695,715l6,4 5,5M1677,708l3,7 2,7M1677,708l6,-6M1683,702l5,2 5,2M1693,706l0,5 2,4M1708,745l-7,3M1694,733l0,5 0,5M1701,748l-4,-2 -3,-3M1596,604l-2,4 -1,4M1596,604l6,0 5,0 5,-2M1612,602l0,8 3,6M1587,594l4,6 5,4M1575,618l5,5 4,4 6,3M1590,630l5,-4 6,-3M1553,602l-6,-1 -4,-3 -5,-6M1551,571l-6,8 -6,6 -1,7M1557,618l-5,3 -5,4 -2,4M1552,604l-8,2 -6,4M1545,629l-3,-7 -6,-4M1536,618l2,-8M1475,554l5,3M1480,578l-2,-9 4,-5 -2,-7M1497,554l-7,0 -4,2 -6,1M1545,629l0,3M1536,618l-6,4 -7,-1M1520,631l-1,-6 4,-4M1520,631l5,4 4,5M1529,640l5,-1 4,-4 7,-3M1436,735l7,-3 7,-2M1439,749l7,-2 7,-1M1450,730l1,4 2,6 0,6M1439,762l4,4 4,3M1447,769l5,-2 5,-1M1457,766l1,-6 -1,-6 2,-6M1453,746l6,2M1519,790l1,-3M1497,771l8,0M1497,771l-3,5 -6,3M1505,771l4,8 6,2 5,6M1512,758l-5,6 -2,7M1512,758l5,5 6,1 4,3M1520,787l3,-4 2,-4 5,-5M1530,774l-3,-7M1511,756l1,2M1511,756l5,-4 3,-5M1531,752l-2,8 -2,7M1531,752l-1,-2M1519,747l5,2 6,1M1580,773l2,-4 -1,-4M1603,769l-6,-4 -5,-5M1581,765l6,-3 5,-2M1563,761l4,-5M1567,756l8,1M1581,765l-3,-4 -3,-4M1606,748l-6,2 -4,3 -3,4M1593,757l-1,3M1623,789l5,4 6,4M1623,789l1,-6 1,-3 4,-6M1634,797l2,-9 7,-5M1629,774l6,5 8,1M1643,780l0,3M1627,769l2,5M1618,790l5,-1M1652,765l-3,-4 -3,-4M1648,776l-5,4M1636,755l6,0 4,2M1674,794l1,7 5,5M1663,814l-3,-6M1660,783l0,7M1643,783l5,5 4,6M1652,794l4,-2 4,-2M1678,786l-4,-5 -4,-4M1666,795l-3,-3 -3,-2M1648,839l1,-1M1642,817l-4,3 -6,0 -6,3M1607,808l-4,2 -3,7 -4,3M1606,836l-4,-1M1596,820l2,5 1,6 3,4M1626,823l-3,-6 -2,-6M1690,790l3,-3 3,-4 6,-3M1690,790l-5,-4 -6,0M1700,776l2,4M1704,781l-2,-1M1694,801l-3,-5 -1,-6M1684,766l1,5 3,4M1578,811l0,3M1578,814l-3,6 -7,7 -4,5M1564,832l-5,-9 -7,-8 -8,-2M1557,786l-3,4 1,5M1557,786l4,-4 5,-2M1596,820l-7,-4 -5,-1 -6,-1M1603,720l1,-7 0,-7M1616,715l-3,-4 -2,-5M1611,706l-4,-1M1607,705l-3,1M1602,720l-6,-2 -6,-2M1590,716l-1,-7M1604,706l-3,-2M1589,709l6,-4 6,-1M1558,728l-1,-8 -1,-8M1558,728l4,2M1556,712l6,-4M1562,730l5,-6 7,-2M1574,722l-1,-7M1573,715l-5,-4 -6,-3M1450,1550l-5,-11 -10,-8 0,-10M1464,1451l-2,7 -1,7M1461,1465l3,7 6,3M1423,1399l-8,9 -7,10 -4,13M1423,1399l-10,-3 -11,-3 -8,-5M1394,1388l0,9 -4,9 -3,12M1387,1418l8,3 2,5 7,5M1361,1392l6,10 3,10 2,10M1387,1418l-7,3 -8,1M1428,1399l-1,9 13,11 1,9M1428,1399l-5,0M1439,1434l-11,0 -9,7 -13,-3M1404,1431l1,4 1,3M1364,1433l2,-7 6,-4M1406,1438l-2,7 -1,4 -3,5M1346,1457l7,5 4,7 8,2M1379,1452l-3,7 -7,4 -4,8M1358,1492l5,-3 3,-5M1358,1492l-11,-1 -7,2 -13,-3M1327,1490l4,-7 -3,-10 5,-10M1365,1471l3,6 -2,7M1277,1484l-4,-12 -8,-8 0,-14M1277,1484l5,-5 12,-1 4,-6M1298,1466l0,6M1298,1466l-3,-8 -8,-2 -6,-9M1281,1447l-7,0 -2,2 -7,1M1295,1428l-4,9 -7,2 -3,8M1318,1448l-8,7 -4,3 -8,8M1258,1448l7,2M1325,1491l-4,0M1325,1491l1,12 3,10 1,13M1321,1491l-10,9 -6,5 -14,5M1327,1490l-2,1M1298,1472l7,9 10,2 6,8M1359,1529l4,-4 3,-4M1366,1521l0,-10 -1,-8 -7,-11M1254,1489l7,-2 9,2 6,-3M1254,1489l-6,4 -2,6M1246,1499l-1,7 3,7M1248,1513l8,0 11,5 6,5M1276,1486l7,6 3,7 1,11M1287,1510l-4,3 -5,7 -5,3M1244,1459l3,13 3,5 4,12M1277,1484l-1,2M1207,1486l12,-1 14,15 13,-1M1291,1510l-4,0M1405,654l3,-3M1414,671l5,-4 4,-3M1423,680l5,-2 5,-3M1416,610l4,4 2,7 2,6M1436,601l1,6 5,5M1472,613l-4,-3 -4,-2 -5,-4M1472,613l-3,3 -5,4 -7,3M1446,613l5,6 6,4M1472,613l3,1M1475,614l1,6 0,5 3,5M1479,630l-8,2 -8,1 -5,-1M1457,623l0,5 1,4M1492,704l-5,6 -4,6M1483,716l-4,-4 -5,-2M1474,710l3,-5 2,-6M1474,710l-5,1M1469,711l-5,-2M1464,696l-1,7 1,6M1316,550l1,6 -5,5 2,8M1403,594l-6,-2M1403,565l-2,7 -4,4 -4,6M1397,592l-3,-5 -1,-5M1287,689l-1,-2M1287,689l5,4 7,1 3,6M1286,687l5,-2 7,-8 5,-3M1303,674l4,2 4,1M1279,706l1,-5 5,-4 2,-8M1279,706l2,7M1281,713l8,-1 4,4 6,0M1281,713l-3,4 -4,3M1349,738l3,-4 0,-5M1370,738l-2,-7 -4,-5M1352,729l6,0 6,-3M1366,881l3,-7 4,-6M1366,881l8,1 6,6 6,8M1386,896l5,0 4,-2M1395,894l3,-5 1,-7 4,-4M1403,878l-8,-5 -13,-4 -9,-1M1441,898l-4,5M1441,898l-2,-6 -4,-5M1395,894l7,7 3,8 3,8M1435,887l-12,1 -9,-3 -11,-7M1419,854l7,5 8,-2 5,6M1419,854l-5,4 -7,5 -3,5M1435,887l2,-9 4,-5 -2,-10M1403,878l2,-5 -1,-5M1449,789l0,-6 -4,-6M1449,789l-2,4M1445,777l-6,1 -3,1 -7,0M1466,786l-6,2 -5,2 -6,-1M1447,769l-1,4 -1,4M1457,766l4,0 4,3M1457,849l-5,5 -5,5 -8,4M1419,854l-2,-5 0,-5M1447,827l-10,0 -8,11 -11,5M1351,821l0,6 -2,6M1349,833l-8,4 -5,-1 -8,2M1255,674l-5,5 -1,7M1255,674l8,4 7,2 7,-1M1249,686l5,5 4,5M1277,679l1,3M1278,682l-7,4 -3,6 -4,4M1264,696l-6,0M1243,687l6,-1M1280,664l-4,7 1,8M1255,711l0,-8 3,-7M1280,664l6,-4 7,1M1293,661l2,4 4,7 4,2M1286,687l-4,-3 -4,-2M1279,706l-6,-2 -4,-2 -5,-6M1428,1399l6,-3 3,-7M1471,1410l-1,-6 -1,-5 0,-6M1437,1389l13,0 11,4 8,0M1500,1376l-7,2 -10,4 -5,1M1469,1393l5,-5 4,-5M1492,1264l4,-7 5,-6 6,-5M1492,1264l1,6 5,4 1,6M1499,1280l5,5 8,-1 7,4M1521,1250l0,9 7,7 5,10M1533,1276l-5,6 -6,1 -3,5M1490,1304l10,9 9,1 7,11M1490,1304l5,-9 -1,-7 5,-8M1516,1325l1,-4 4,-3M1521,1318l-3,-9 2,-9 -1,-12M1502,1229l8,-3 10,-8 4,-10M1486,1219l0,-6 2,-9 1,-8M1489,1196l9,-4 7,-5 12,-4M1517,1183l3,6 0,12 4,7M1549,1216l-2,6 -1,9 -1,8M1549,1216l-8,-6 -9,-3 -8,1M1553,1214l-4,2M1521,1172l7,-2 8,1M1521,1172l-1,5 -3,6M300,1139l4,-8 6,-8 10,-10M303,1157l1,-5 -4,-7 0,-6M366,1110l-11,8 -10,3 -14,-1M333,1151l2,8 1,6 4,6M328,1189l2,-1M330,1188l4,-6 3,-4 3,-7M354,1202l0,-2M330,1188l7,4 10,5 7,3M587,1155l2,0M587,1155l-4,7 -2,4 -3,7M589,1155l5,6 2,4 4,7M578,1173l4,5 4,3 5,3M591,1184l6,-5 3,-7M563,1122l4,6 -2,7 0,8M565,1143l10,2 4,9 8,1M601,1146l-5,6 -7,3M601,1146l1,-5 1,-8 -1,-7M601,1146l7,2 9,4 5,5M618,1174l-6,1 -7,-3 -5,0M592,1189l-1,-5M637,1187l6,-8 3,-7 7,-6M667,1190l1,-6 3,-5M671,1179l-7,-3 -6,-4 -5,-6M573,1199l-4,-3 -2,-3M549,1216l-3,-3 -3,-4M543,1209l4,-6 3,-7M567,1193l-7,1 -5,3 -5,-1M578,1173l-6,1 -5,3M567,1193l-2,-8 2,-8M1819,1381l1,6 3,4M1823,1391l-6,5 -4,7 -6,3M1781,1427l-7,2 -12,5 -8,2M1781,1427l4,3 6,3 3,5M1794,1438l1,6M1795,1444l-8,8 -8,3 -5,8M1773,1463l-4,-4 -9,-7 -4,-6M1756,1446l0,-5 -2,-5M1745,1428l5,3 4,5M1780,1402l-2,8 1,10 2,7M1813,1421l-9,5 -4,8 -6,4M1760,1477l4,-5 5,-4 4,-5M1790,1483l-5,-7 -4,-8 -7,-5M1737,1469l8,-9 4,-3 7,-11M2008,1258l-2,-2M2008,1258l-4,4 0,5 -4,5M2006,1256l-7,-3 -8,3 -5,-3M2000,1272l-6,0M1994,1272l-5,-3 -3,-5M2011,1259l7,-5 7,1M2011,1259l-3,-1M2010,1238l0,7 -2,5 -2,6M1997,1289l5,-5 2,-6M2004,1278l-4,-6M1989,1283l1,-6 4,-5M1831,1248l-4,2M1831,1248l5,2 6,-1M1827,1250l0,6 4,6 1,5M1832,1267l5,-4 6,-2M1843,1261l2,-6M1842,1249l3,6M1819,1249l4,-1 4,2M1833,1233l-2,7 0,8M1851,1236l-7,5 -2,8M1830,1272l2,-5M1850,1268l-4,-3 -3,-4M1856,1256l-6,-2 -5,1M2060,1279l-6,-2M2055,1300l-5,-5 -6,-4M2044,1291l2,-6 4,-4 4,-4M2039,1260l0,6 2,6M2055,1255l-2,6 1,6 -2,7M2041,1272l6,0 5,2M2130,1406l2,9 -4,8 0,13M2130,1406l-6,-3 -6,2 -6,-3M2122,1439l-4,-11 -7,-4 -7,-9M2068,1386l3,4 8,0 5,4M2072,1410l-5,-3 -5,-1M2072,1410l6,-4 5,-5M2083,1401l1,-7M2067,1380l8,-2 7,-4M2084,1394l4,-2 2,-4M2119,1383l-3,-6 -7,-5 -6,-3M2103,1369l-1,5 -2,9 -5,4M2101,1415l-8,-2 -2,-8 -8,-4M2084,1364l2,-1M2086,1363l0,-7 -1,-5 3,-5M2088,1346l-6,-2 -7,1M2066,1362l5,-1M2103,1368l-6,-2 -6,0 -5,-3M2092,1342l5,2 4,-1M2092,1342l-4,4M2105,1349l0,7 1,5 -3,7M2105,1349l-4,-6M2090,1333l2,4 0,5M2065,1434l4,-5 1,-6 4,-4M2065,1434l5,4 7,1 8,3M2074,1419l5,2 6,0 6,3M2072,1410l1,5 1,4M2062,1435l3,-1M1961,1285l-4,2 -4,4M1945,1322l5,-6 0,-7M1955,1306l-5,3M2111,1256l-6,-1 -7,-5 -3,-6M2097,1262l-1,-4 -3,-7 0,-4M2095,1244l-2,3M2098,1275l-6,-5M2098,1275l5,-1 4,-1M2107,1273l3,-4M2110,1269l-1,-4 -1,-4M2075,1309l5,-5 8,-1M2083,1288l2,4 5,2M2090,1294l0,4 -2,5M2088,1318l4,-5 0,-5M2092,1308l-4,-5M2127,1247l-1,-4 -4,-4M2127,1247l5,-2 4,1M2136,1246l-2,-7 4,-7M2138,1232l-7,-2M2122,1239l4,-5 5,-4M2129,1259l-3,5 -4,2M2122,1266l-4,-6 -5,-5M2127,1247l-2,5M2122,1239l-4,1 -5,-1M2113,1239l0,7 1,8M2136,1246l3,3 3,2M2110,1269l5,1 6,0M2121,1270l1,-4M2074,1244l8,-1 7,5M2074,1244l-1,7 -4,6M2089,1248l-5,4 -2,7 -4,5M2063,1233l7,1M2070,1234l2,5 2,5M2093,1247l-4,1M2052,1274l2,3M2083,1288l5,-7 3,-4 1,-7M2121,1174l-1,6 0,6M2143,1177l-2,7 -1,6M2120,1186l6,4 6,4M2140,1190l-4,2 -4,2M2131,1230l-1,-4 -3,-3M2127,1223l-7,-3 -6,0M2113,1239l-4,-4M2114,1220l-2,8 -3,7M2069,1207l6,4 6,4 5,2M2070,1234l5,-3 7,-2 3,-5M2086,1217l-1,7M2095,1244l1,-5M2085,1224l2,6 6,5 3,4M2096,1239l7,0 6,-4M2100,1191l-3,4 -1,3M2100,1191l7,-1 7,0M2114,1190l1,7 1,3 1,6M2096,1198l-1,6 1,6M2096,1210l7,3 8,2M2117,1206l-5,3 -1,6M2081,1193l5,2 5,3 5,0M2095,1174l3,4 2,8 0,5M2120,1186l-6,4M2130,1204l1,-5 1,-5M2130,1204l-6,1 -7,1M2086,1217l5,-3 5,-4M2114,1220l-3,-5M2127,1223l2,-8 6,-4M2135,1211l-4,-3 -1,-4M2149,1248l6,4 8,-1M2168,1250l-5,1M2168,1250l-5,-6 -3,-5 -1,-6M2147,1229l-5,0 -4,3M2147,1229l2,2M2152,1265l5,-4 2,-4 4,-6M2094,1324l6,-2 6,-3M2092,1308l7,0 6,5M2106,1319l-1,-6M2180,1240l5,0 6,-1M2180,1240l-6,4 -4,6M2170,1250l1,6 4,4M2175,1260l6,2 5,2M2189,1264l-3,0M2189,1264l3,-5 5,-7 2,-5M2174,1224l1,5 3,6 2,5M2158,1274l4,1 4,-2M2166,1273l4,-4 1,-4 4,-5M2200,1224l-6,3M2200,1224l7,0 5,3 5,3M2181,1195l5,-3M2181,1195l-8,-1 -5,-5M2186,1192l1,-7 0,-4 -3,-7M2172,1176l6,0 6,-2M2161,1191l-5,-4 -2,-5 -2,-8M2168,1161l7,-3 6,-4M2184,1174l2,-4 4,-2M2190,1168l-5,-5 1,-5 -5,-4M2174,1135l3,6 5,5M2181,1154l1,-8M2284,1249l-1,-8 -3,-5 -3,-6M2257,1237l4,6 6,2 4,6M2257,1237l1,-6 3,-4M2261,1227l3,-1M2277,1230l-7,-2 -6,-2M2306,1209l-4,-3 -5,-2M2297,1204l-5,5 -7,3M2298,1227l-5,-4 -6,-3M2287,1220l0,-4 -2,-4M2319,1237l-3,-6M2316,1231l-7,-3 -7,-2M2277,1230l6,-4 4,-6M2264,1226l0,-5 4,-4M2268,1217l4,-2 6,-2 7,-1M2234,1220l-3,4 -4,1M2261,1227l-5,-2 -3,-5M2233,1234l6,2 7,-1 10,3M1895,854l5,3 6,-2 6,3M1892,870l7,1 7,4 9,2M1912,858l4,7 -2,6 1,6M1905,838l3,5 9,2 3,3M1912,858l4,-6 4,-4M1913,893l4,-7 -1,-9M1938,872l-2,-1M1936,871l-9,0 -5,6 -6,0M1954,850l-9,1 -2,4 -9,2M1954,850l-8,-3 -4,-6M1942,841l-6,4 -5,6M1934,857l-3,-6M1954,850l5,3 1,6M1936,871l-3,-7 1,-7M1920,848l3,-1M1923,847l4,1 4,3M1919,815l2,6 4,5M1929,806l4,5 2,8M1925,826l6,-2 4,-5M1909,829l8,-2 8,2M1925,826l0,3M1923,847l1,-7 2,-7M1925,829l1,4M1942,841l0,-8M1926,833l8,2 8,-2M1946,773l5,-3 4,-5M1947,778l5,1 5,1M1957,780l5,-2 4,-4M1966,774l-2,-7M1955,765l4,2 5,0M1942,756l8,0M1955,765l-3,-4 -2,-5M1872,766l-2,6M1872,766l-3,-4 -4,-3M1870,772l-4,2 -5,-2M1865,759l-5,3 -3,4M1861,772l-4,-6M1866,752l-1,7M1883,756l0,6M1883,762l-5,3 -6,1M1859,780l3,5M1859,780l0,-4 2,-4M1875,779l-3,-3 -2,-4M1875,779l-5,2 -4,5M1862,785l4,1M1884,770l0,-7M1884,770l4,2 2,3M1884,763l6,2 6,1M1890,775l4,-1 4,-1M1898,773l-2,-7M1875,779l5,-5 4,-4M1875,779l5,5 5,4M1886,787l4,-5 0,-7M1901,759l-2,3 -3,4M1901,776l-3,-3M1885,792l-3,4 -2,4M1866,786l5,6 1,8M1872,800l8,0M1902,804l-5,1 -5,-1 -7,4M1880,800l1,5 4,3M1883,834l-5,-3 -3,-6M1875,825l-4,0M1895,820l-5,-3 -4,-4M1875,825l4,-7 7,-5M1886,813l-1,-5M1856,824l7,1 7,-2M2053,747l7,-2 7,-1M2053,747l-4,-5M2049,742l2,-6 1,-6M2052,730l6,1 7,1M2065,732l3,6M2068,738l-1,6M2072,723l-5,3 -2,6M2046,721l3,5 3,4M2080,737l-6,-1 -6,2M2072,753l-3,-4 -2,-5M2072,753l7,-1 7,-2M1961,799l-2,-6M1958,793l-5,-2 -7,1 -5,-2M1974,802l4,-5M1969,785l3,8 6,4M1969,785l-5,4 -5,4M1957,780l0,6 1,7M1966,774l4,3M1969,785l0,-4 1,-4M1935,819l4,0 4,1M1952,812l-5,4 -4,4M1942,833l2,-2M1944,831l0,-5 -1,-6M1952,812l3,4 5,2M1944,831l7,2 7,1M1960,818l-3,8 1,8M1972,858l2,-4 3,-3M1954,850l4,-6 3,-6M1977,851l-2,-7 -1,-6M1974,838l-6,-1 -7,1M1961,838l-3,-4M1985,872l3,-8 6,-3M1977,851l5,-2 5,3M1987,852l2,6 5,3M1996,861l-2,0M1975,837l7,-2 7,1M1987,852l2,-6 5,-3M2017,1127l4,3 1,6M2003,1155l8,0M2022,1136l-5,4 -2,10 -4,5M2057,1119l-3,7 -5,7 -5,10M2022,1136l9,0 7,4 6,3M2011,1155l2,7 9,3 4,7M2095,1155l7,-5 6,-4 4,-5M2095,1155l-4,-4 -6,-3M2085,1148l6,-4 4,-9 3,-6M2098,1129l6,3 6,1M2110,1133l2,4 0,4M2100,1168l-3,-6 -2,-7M2126,1153l-3,-5 -6,-1 -5,-6M2069,1156l3,6 1,5 2,6M2069,1156l3,-5 6,-3M2078,1148l7,0M2073,1128l3,6 0,7 2,7M2091,1122l4,3 3,4M2120,1122l-6,4 -4,7M2131,814l-5,5 -1,8M2125,827l-4,-4 -4,-6 -6,-3M2111,814l6,-3 3,-6M2126,829l-1,-2M2127,798l-4,6M2096,808l4,4 4,4M2104,816l7,-2M2117,787l-5,1 -3,4M2111,842l3,-4 1,-5M2111,842l-6,0 -6,-1M2115,833l-7,-4 -5,-6M2099,841l-2,-5 -2,-4M2103,823l-5,3 -3,5M2117,852l-1,-6 -5,-4M2125,829l-4,3 -6,1M2097,847l2,-6M2104,816l-1,7M2079,843l4,-4 6,-5 6,-2M2081,823l5,4 2,3 7,1M2351,845l-1,7 1,6M2351,845l7,0 6,-2M2364,843l-3,7 1,8M2351,858l4,0 4,2M2359,860l3,-2M2344,841l7,4M2367,840l-3,3M2371,841l4,6 2,7 1,7M2378,862l-7,-1 -5,-2 -4,-1M2395,913l-5,-3M2395,913l-1,7 -3,6M2401,912l-6,1M2398,891l-6,1 -6,3M2386,895l0,8 4,7M2401,937l-6,-4 -4,-7M2310,890l-2,-6 0,-6M2296,887l5,-4 0,-7M2308,878l-7,-2M2285,874l7,-1 7,0M2301,876l-2,-3M2315,893l2,-6 4,-5M2308,878l7,-4M2315,874l2,0M2321,882l-1,-4 -3,-4M2328,895l2,-5 3,-4M2333,886l-4,-4M2321,882l8,0M2315,903l3,4 4,4M2312,923l4,-4 5,-1M2312,923l-5,-1 -3,-3M2306,908l-1,5 -1,6M2322,911l-1,7M2354,901l-5,-6M2322,911l5,1 6,-3M2333,909l3,-3M2333,886l8,1M2341,887l2,3 2,4M2366,913l-4,-6 0,-7M2362,900l-4,1 -4,0M2347,875l-3,6 -3,6M2347,875l6,2M2194,1027l0,-7 1,-7M2217,1024l2,-6M2195,1013l4,-4 5,-1M2204,1008l6,1 4,4 5,5M2195,1013l-6,-3 -5,-2 -5,-5M2204,1008l1,-8M2205,1000l-6,-2 -3,-5 -4,-4M2179,1003l4,-6 5,-1 4,-7M2172,1031l2,-8 -4,-7 1,-11M2179,1003l-5,0 -3,2M2138,1028l6,-9 2,-6 1,-7M2147,1006l7,-3 7,0 6,-1M2167,1002l4,3M2209,979l3,7 6,5M2209,979l-5,2 -7,0 -4,1M2218,991l-6,6 -7,3M2193,982l-1,7M2229,1095l10,0 6,-3 8,1M2250,1114l3,-6 1,-3 1,-8M2253,1093l2,4M2255,1120l7,-1M2262,1119l2,-6 7,-5 3,-5M2255,1097l5,2 8,0 5,3M2224,896l-7,4M2217,883l5,2M2217,883l-6,3 -5,4M2217,900l-6,-5 -5,-5M2167,1002l-1,-10 -1,-6 0,-8M2193,982l-2,-7 -7,-5M2165,978l2,-4M2167,974l6,-2 6,-3M2184,970l-5,-1M2284,946l-7,2 -4,2 -5,2M2284,946l0,5 3,4M2268,952l1,4 -1,4M2287,955l-3,5 -5,4M2268,960l6,1 5,3M2290,975l-4,-1 -5,0M2290,975l7,-3 3,-6M2287,955l7,3 6,5M2300,963l0,3M2279,964l2,5 0,5M2113,1002l5,-6 4,-3 8,-4M2102,971l4,-1 7,-1 5,0M2118,969l4,5 3,7 5,8M2147,1006l-4,-7 -5,-4 -5,-6M2165,978l-6,1 -7,-2 -7,1M2145,978l-3,4 -3,4 -6,3M2133,989l-3,0M2298,903l-4,1M2286,901l4,1 4,2M2255,882l5,4 6,2M2255,882l4,-6 1,-8M2266,888l4,-7 5,-6M2267,889l0,8 -3,8M2264,905l-7,-2 -8,2M2249,905l-4,-4 -5,-4M2249,882l6,0M2249,882l-3,4 -4,2M2244,870l3,-3 3,-4M2244,870l1,7 4,5M2285,892l-7,0 -6,-1 -5,-2M2266,857l-2,5 -2,5M2272,856l2,1M2276,875l-1,-7 -3,-4 2,-7M2234,797l-3,7M2246,810l-6,3 -6,-2M2234,811l-3,-7M2214,805l1,1M2231,804l-8,4 -8,-2M2368,721l4,4 5,3 3,5M2360,748l6,0 6,-1M2372,747l5,-6 3,-8M2399,711l-7,8 -3,7 -6,7M2380,733l3,0M2413,725l-5,5 -5,5 -6,6M2383,733l4,3 5,1 5,4M2404,754l-1,0M2397,741l5,6 1,7M2366,788l4,-3 3,-4 4,-5M2372,747l2,6 3,7M2403,754l-6,1 -4,6M2393,761l-8,-3 -8,2M2374,765l3,-5M2373,795l2,0M2387,818l-2,1M2387,818l0,-7 4,-6M2375,795l6,4 5,5 5,1M2405,826l-8,-4 -2,-3 -8,-1M2391,805l3,-3 4,-2M2382,837l3,4 5,1M2401,875l-1,-6 -1,-5 -3,-5M2401,875l-7,-2 -7,3M2387,876l-4,-6 -5,-5M2389,856l7,3M2283,795l6,3M2277,817l4,-1 5,2M2324,779l-4,5 -3,6M2306,788l5,2 6,0M2337,794l-8,0 -7,3M2317,790l3,3 2,4M2211,643l0,-6 4,-5M2211,643l-5,1 -5,0 -7,3M2215,632l-6,-3 -6,-1M2203,628l-6,5 -6,4M2194,647l0,-6 -3,-4M2196,609l3,5 3,6 1,8M2223,624l-1,4M2222,628l-4,0 -3,4M2192,654l6,3 5,1 4,5M2192,654l1,-4 1,-3M2211,643l2,6 4,5M2207,663l6,-4 4,-5M2278,625l-8,3 -5,0 -8,4M2257,632l4,8 1,7 4,5M2247,617l2,5 3,4 4,6M2194,720l1,-8 2,-7M2197,705l5,-1 7,2 7,-2M2136,649l6,4 5,3M2147,656l6,-3 7,-3M2152,632l5,6 0,7 3,5M2196,609l-6,7 -8,1 -5,9M2166,620l6,2 5,4M2191,637l-6,-5 -7,-4M2177,626l1,2M2192,654l-2,1M2178,628l0,6 -8,7 0,9M2190,655l-8,0 -6,-4 -6,-1M2160,650l6,2M2170,650l-4,2M2192,744l7,-5 8,0M2209,758l5,-5M2207,739l2,7 5,7M2210,723l1,6 -1,5M2207,739l3,-5M2150,850l2,7 -1,6M2135,862l6,1 6,3M2151,863l-4,3M2124,876l4,3 4,4M2147,866l0,6 -4,5M2132,883l5,-5 6,-1M2026,871l0,-3M2004,866l6,-2 5,-3M2015,861l6,3 5,4M2047,857l-2,-3 -4,-2M2052,840l-4,6 -6,3M2041,852l1,-3M2026,868l2,-6 3,-4 4,-4M2041,852l-6,2M2072,753l-2,5 -4,4M2053,747l1,4M2070,774l0,-1M2091,786l0,-2M2088,753l-2,6 2,6M2088,765l-5,5M2197,705l-2,-5M2217,697l-4,-2 -6,-4 -5,-3M2195,700l4,-6 3,-6M2226,678l-6,-2 -6,-3 -6,-1M2208,672l-3,6 -5,2M2200,680l2,4 0,4M2144,712l-2,-6 1,-5 -3,-5M2127,695l1,-1M2128,694l6,1 6,1M2098,697l10,-1 8,-8 7,-3M2128,694l-1,-6 -4,-3M2147,656l-2,7 1,8M2102,672l7,3 6,5 7,1M2128,672l-3,4 -3,5M2122,681l1,4M2244,870l-7,-3M2235,858l2,4 0,5M2230,880l1,-4 -1,-4M2237,867l-4,3 -3,2M1992,591l4,3 4,6 1,5M1983,611l5,4 5,-1M2001,605l-5,4 -3,5M2027,605l-6,-4 -7,0M2027,605l0,6 3,6M2030,617l-6,0 -4,0 -7,-1M2013,616l-3,-5 -1,-5M2014,601l-5,5M2015,588l-1,6 0,7M2035,596l-3,5 -5,4M2001,605l8,1M2067,651l-7,-1 -3,-2 -5,-4M2053,672l-5,-6 -2,-8M2046,658l4,-6 2,-8M2059,627l-3,5 -3,5 -3,5M2052,644l-2,-2M1916,695l-1,-4 2,-4M1916,695l6,4 4,6M1917,687l6,0 5,-4M1928,683l5,3 6,2M1939,688l1,7 0,7M1926,705l4,1 4,0M1905,702l5,-5 6,-2M1911,680l3,3 3,4M1917,717l6,-5 3,-7M1930,666l-2,7 1,4 -1,6M1954,720l0,-3M1954,720l-4,5 -6,2M2026,715l-3,3 -5,5 -5,2M2004,722l5,-1 4,4M2004,722l3,-6 -2,-7 3,-4M1973,723l5,-1 6,0M1973,723l-2,-5 -1,-4 2,-7M1988,711l1,3M1989,714l-1,5 -4,3M2004,722l-3,1M1989,714l6,4 6,5M1867,716l-1,4 0,5M1867,716l-4,-4 -4,-5M1859,707l-5,0 -4,-1M1847,716l1,-5 2,-5M1875,709l-4,3 -4,4M1863,697l-3,4 -1,6M1845,733l4,-6 6,-3M1846,744l7,3M1855,746l-2,1M1847,703l3,3M1803,527l1,7 6,4M1803,527l4,-6M1807,521l7,-2M1814,519l5,5 3,2 4,5M1810,538l7,1 7,-1M1826,531l-2,7M1782,519l2,4 4,3 4,5M1792,531l6,1 5,-5M1797,508l6,6 4,7M1819,510l-1,5 -4,4M1837,523l-7,2 -4,6M1827,545l-3,-7M1779,621l3,4 1,5M1779,621l-8,-3 -8,3M1783,630l-5,5 -5,0 -4,3M1763,621l3,6 0,6 3,5M1788,608l-3,1M1785,609l-5,5 -1,7M1789,633l-6,-3M1767,605l5,0 7,0 6,4M1759,618l4,3M1767,644l2,-6M1762,647l-7,-1 -1,-4 -6,-2M1748,640l-1,-5M1859,780l-5,1 -6,0M1862,785l-3,7 -6,5M1839,808l-3,4 -4,3M1839,808l1,-6 -3,-6M1825,797l5,-1 4,-2M1837,796l-3,-2M1759,681l0,6 -1,5M1742,685l0,5 3,5M1745,695l4,1M1749,696l4,-4 5,0M1752,481l-8,-3 -8,0M1736,478l-5,-4 -3,-7 -3,-9M1722,494l4,-8 7,-1 3,-7M1759,431l-3,11 -2,5 1,11M90,1189l6,1 5,1M101,1191l1,5 2,3M104,1199l-3,6 -4,4M76,1201l4,-1 4,-1M114,1201l-5,-1 -5,-1M141,1117l-4,-1 -5,0M142,1130l-6,-3 -5,-3M132,1116l-1,8M131,1138l-5,-3 -1,-5M131,1124l-2,4 -4,2M110,1141l3,-6 4,-7M125,1130l-4,-2 -4,0M336,1146l7,-2 10,0 9,0M373,1118l-2,6 1,6M362,1144l4,-2 3,-7 3,-5M404,1155l-5,3M372,1130l5,13 14,1 8,14M411,1186l-3,-11 -1,-6 -9,-9M398,1160l1,-2M1513,1478l0,8 -6,6 1,7M1523,1510l-6,-4 -3,-3 -6,-4M1516,1533l-1,-2M1523,1510l-5,7 1,6 -4,8M1483,1477l-2,10 7,7 -1,8M1487,1502l4,4M1491,1506l5,-1 8,-2 4,-4M1817,1422l4,7 4,9 7,5M1795,1444l8,4 5,4 3,6M1832,1443l-5,7 -10,0 -6,8M1805,1476l3,-6 4,-6M1812,1464l-1,-6M1643,1288l-7,-3M1630,1267l-2,3M1636,1285l-1,-7 -6,-2 -1,-6M1569,1137l3,-8 2,-4 6,-5M1569,1137l-14,-9 -14,3 -11,-6M1580,1120l-5,-8 -6,-12 -7,-6M1562,1094l-12,5 -14,-2 -11,1M1530,1125l0,-8 -3,-12 -2,-7M1521,1172l-2,-2M1522,1133l3,-5 5,-3M1569,1139l0,-2M1489,1129l-3,-7 1,-9M1522,1094l3,4M1522,1094l-5,-3 -6,1M1511,1092l-6,10 -7,6 -11,5M1626,1135l-2,-7M1580,1120l6,-2M1624,1128l-13,-7 -14,6 -11,-9M1470,1337l-3,7 -6,5 -1,7M1470,1337l-1,-5 -7,-5 -1,-5M1461,1322l-15,5 -8,1 -14,4M1460,1356l-8,2 -9,3 -9,0M1434,1361l-4,-7 -5,-4 -7,-4M1418,1346l4,-6 2,-8M1502,1343l-9,-6 -11,3 -12,-3M1478,1383l-5,-10 -8,-7 -5,-10M1437,1389l0,-11 2,-8 -5,-9M1396,1354l6,-6 7,-1 9,-1M1384,1299l4,-1M1388,1298l9,1 9,2 10,7M1416,1308l5,7 4,9 -1,8M1319,1247l11,-2 7,4 13,-2M1335,1205l7,6 7,2 7,8M1356,1221l-3,8 2,9 -5,9M1388,1298l4,-10 0,-9 6,-7M1398,1272l-7,-5 -4,-7 -8,-6M1350,1247l2,7 6,5M1354,1159l7,-3 7,-5 3,-6M1398,1157l-11,-2 -9,-9 -7,-1M1358,1174l11,3 6,7 10,4M1401,1167l-5,5 -6,8 -5,8M1437,1287l14,11 -4,11 14,12M1437,1287l1,-4M1438,1283l10,-2 7,-7 8,-5M1463,1269l0,15 5,8 8,12M1476,1304l-4,6 -3,5 -8,6M1416,1308l6,-9 8,-5 7,-7M1398,1272l6,-2 6,-3 6,-4M1416,1263l6,7 9,8 7,5M1490,1304l-7,0 -7,0M1465,1266l-2,3M1465,1266l10,0 8,1 9,-3M1515,1330l1,-5M1257,967l-1,-5 0,-6 -3,-5M1229,948l4,-5M1233,943l9,1 4,2 7,5M1366,881l-6,0 -4,5M1386,896l-4,7 -11,7 -3,6M1359,910l5,2 4,4M1359,910l-4,-5 -1,-4 0,-7M1354,894l0,-4 2,-4M1326,846l6,2 5,7 9,5M1346,860l-2,5 0,7M1324,878l7,-5 5,0 8,-1M1289,835l1,7 4,4 4,5M1317,853l-8,1 -3,-2 -8,-1M1463,1098l7,4 9,5 8,6M1463,1098l5,-12 -2,-7 1,-13M1486,1060l-4,-3M1486,1060l7,12 9,6 9,14M1467,1066l8,-2 2,-3 5,-4M1463,1098l-6,5 -9,2 -8,8M1440,1113l-4,-6 -3,-6 -7,-7M1467,1066l-8,-5 -8,3 -11,-5M1426,1094l9,-12 6,-12 -1,-11M1397,1121l-8,1 -8,3 -7,2M1395,1092l-10,-4 -10,-1 -9,2M1374,1127l-7,-7 -4,-6 -9,-5M1354,1109l7,-7 -1,-7 6,-6M1407,1128l12,1 9,0 9,-3M1440,1113l-3,6 0,7M1426,1094l-6,-5 -13,-2 -7,1M1371,1145l3,-4 0,-7 0,-7M1332,1145l6,-11 -3,-10 2,-10M1337,1114l6,0 4,-5 7,0M1252,1030l9,1 9,-1 11,5M1281,1035l-2,-10 4,-9 5,-11M1313,957l-13,-6 -1,-9 -12,-6M1313,957l0,5 -1,5M1312,967l-9,-2 -11,5 -12,2M1280,972l0,-11 6,-9 -4,-13M1282,939l5,-3M1314,926l-7,4 -8,2 -11,1M1314,926l5,3 1,6 6,4M1326,939l-6,4 -3,6 -4,8M1288,933l-1,3M1278,974l2,-2M1253,951l4,-4 6,-5 2,-5M1265,937l6,1 5,0 6,1M1447,959l-4,16 10,12 -3,13M1434,1008l7,-3 7,-1M1434,1008l-6,-15 -11,-11 -8,-11M1450,1000l-2,4M1419,940l-1,8 -3,5 2,9M1449,957l0,-6 -2,-5 0,-6M1440,935l3,3 4,2M1639,863l-1,-3M1639,863l5,2 5,3M1649,868l5,-1 4,-2M1690,887l4,-2 3,-2M1697,883l0,-6 -4,-8 -3,-8M1672,872l4,-5 5,0 3,-7M1684,860l3,-1M1687,859l3,2M1663,906l0,-5 -3,-3M1660,898l3,-7 8,-3 2,-6M1712,904l-5,5 -2,7M1712,904l-2,-9 -6,-4 -2,-7M1702,884l-5,-1M1707,858l3,6 -2,6 4,6M1707,858l-5,2 -6,0 -6,1M1712,876l-6,3 -4,5M1649,893l6,1 5,4M1649,893l1,-9 -3,-8 2,-8M1668,849l5,5 7,1 4,5M1689,848l1,6 -3,5M1710,844l2,1M1712,845l0,8M1712,853l-5,5M1674,989l-9,-2 -5,-11 -10,-3M1649,941l-5,7M1650,973l0,-10 -2,-5 -4,-10M1647,933l-7,-7 -5,-8 -10,-4M1649,893l-7,-1 -8,3 -7,2M1627,897l-2,6 3,6 -3,5M1602,835l-3,6 -2,4 -6,4M1591,849l-5,1 -5,1M1564,837l2,4 3,4M1564,837l0,-5M1581,851l-5,-4 -7,-2M1564,837l-7,3 -13,1 -7,3M1551,875l5,-8 8,-9 5,-13M1551,875l-5,-7 -6,-2 -4,-3M1536,863l2,-8 0,-3 -1,-8M1515,822l4,3 2,6M1483,847l4,3 8,4 5,0M1537,844l-2,-5 -3,-3 -7,-4M1522,795l10,1 4,2 9,5M1536,863l-7,2 -10,1 -7,6M1512,872l-3,-2M1197,942l6,-3 -1,-10 6,-5M1176,922l5,-6 7,-3M1208,924l-7,-2 -7,-3 -6,-6M1178,893l8,2 4,7M1188,913l-1,-6 3,-5M1200,879l1,8M1201,887l-1,7 -5,6M1195,900l-5,2M1724,822l2,3 2,4M1742,831l-2,1M1728,829l6,2 6,1M1712,845l4,-4 6,-1M1728,829l-3,6 -3,5M1744,853l-6,-4M1744,853l0,5 -1,7 -1,6M1742,871l-7,-3 -8,-2M1734,850l4,-1M1734,850l-3,6 -5,4M1726,860l1,6M1750,851l-6,2M1740,832l-2,6 -1,5 1,6M1764,865l-7,3 -7,0 -6,5M1744,873l-2,-2M1722,840l7,4 5,6M1712,853l4,1 6,3 4,3M1718,877l4,-6 5,-5M1718,877l-6,-1M1756,893l-6,-5 0,-6 -7,-4M1756,893l-3,8 -7,3 -5,5M1743,878l-6,3 -5,2 -4,4M1741,909l-4,-4 -4,-4 -6,-2M1727,899l0,-6 1,-6M1744,873l-1,5M1764,892l-8,1M1743,925l0,-4 -4,-7 2,-5M1718,877l4,6 6,4M1712,904l8,-1 7,-4M1716,628l6,-4 8,1M1716,628l-2,7 2,7M1730,625l-3,6 3,6 -2,6M1728,643l-6,0 -6,-1M1748,640l-4,5 -5,2 -5,4M1731,623l-1,2M1728,643l3,4 3,4M1717,610l-4,3 -5,2M1716,628l-4,-2 -4,-2M1708,615l0,5 0,4M1697,597l4,6 -1,7M1697,597l6,-5M1708,615l-4,-2 -4,-3M1716,642l-5,2 -4,3M1707,647l0,-5 -2,-6 -2,-7M1708,624l-5,5M1692,655l6,-1 6,-2M1692,655l-4,-4M1707,647l-3,5M1703,629l-7,2 -6,-2M1688,651l-1,-8 1,-7 2,-7M1697,597l-4,-1 -5,0M1682,582l1,8 5,6M1815,560l-3,1M1802,580l1,-8 6,-6 3,-5M1810,538l-2,4 -5,2 -3,7M1812,561l-5,-6 -7,-4M1792,531l-4,6 1,5 -2,7M1800,551l-6,-2 -7,0M1787,549l-6,3M1768,589l-3,-7 -1,-8M1768,589l7,1 8,-1M1764,574l6,-2 5,-8 5,-1M1783,589l4,-5 5,-5M1764,593l4,-4M1759,572l5,2M1788,608l-1,-7 0,-7 -4,-5M1633,703l-5,1 -4,-2M1638,695l-5,-5 -6,-2M1627,688l-3,2 -3,4M1621,694l1,6M1622,700l2,2M1622,713l0,-6 2,-5M1628,680l1,4 -2,4M1611,706l4,-5 7,-1M1607,705l0,-8 5,-7M1612,690l5,1 4,3M1647,694l1,5 3,4M1647,694l6,-2 6,-3M1651,703l6,-4 7,0M1659,689l4,2 3,4M1666,695l-2,4M1639,714l5,0 5,-3M1649,711l1,-4 1,-4M1645,692l2,2M1658,678l1,5 0,6M1675,690l-4,3 -5,2M1677,708l-4,-1 -4,2M1669,709l-4,-4 -1,-6M1683,702l-1,-4 -2,-5M1665,736l-4,6 -6,2M1665,736l6,2 5,3M1667,752l4,-5 6,-4M1667,752l-5,-6 -7,-2M1667,759l0,-7M1684,761l2,-2M1686,759l0,-6 -4,-5M1682,748l-5,-5M1646,757l7,-5 2,-8M1642,733l5,1M1647,734l4,5 4,5M1682,730l-1,7 -5,4M1694,743l-6,1 -6,4M1670,723l-3,-5 0,-6M1670,723l-7,4M1663,727l-4,0 -3,-2M1667,712l-7,4 -8,-2M1652,714l3,5 1,6M1669,709l-2,3M1681,725l-6,-1 -5,-1M1665,736l1,-5 -3,-4M1647,734l4,-5 5,-4M1649,711l3,3M1686,759l4,-4 6,-4 5,-2M1686,759l7,2 5,4 5,1M1701,749l1,5 2,6 0,5M1563,550l4,-1 6,-1 6,2M1579,550l4,-5 -2,-4 3,-6M1680,555l-3,9 -4,4 -1,8M1680,555l-6,-2 -5,-4 -5,-1M1664,548l0,8 -3,5 -4,10M1672,576l-8,0 -7,-5M1681,555l-1,0M1673,579l-1,-3M1613,598l-1,4M1613,598l6,-1 4,-3M1643,613l-2,-5 -3,-7 -5,-5M1623,594l6,-1 4,3M1695,531l-6,-5 -10,4 -10,-6M1669,524l0,-6M1538,592l-3,1M1538,610l-4,-3 -3,-4M1535,593l-5,4 1,6M1517,610l1,7 5,4M1517,610l3,-5M1531,603l-6,3 -5,-1M1494,627l5,-5 1,-7M1494,627l5,5 4,3 1,5M1500,615l6,7 4,4 4,6M1504,640l6,-3 4,-5M1500,613l7,-2 3,1 7,-2M1520,631l-6,1M1503,644l2,6 5,4M1503,644l1,-4M1510,654l7,1M1517,655l6,-3 5,-4M1529,640l-1,8M1460,595l5,1 7,-1 5,1M1484,582l-1,8 -6,6M1475,614l5,-5M1477,596l3,6 0,7M1503,644l-6,3 -7,0M1490,647l-1,0M1494,627l-6,2 -6,3M1489,647l-2,-5 -3,-7 -2,-3M1500,613l-3,-4M1497,609l-5,-2 -6,0 -6,2M1482,632l-3,-1M1490,647l0,7 2,7M1489,647l-4,3 -5,1M1480,651l0,6 -2,6M1478,663l7,-3 7,1M1510,654l-4,5 -4,5M1502,664l-8,-1M1494,663l-2,-2M1535,705l-3,-5 -3,-4M1535,705l5,-2 5,1M1545,704l2,-5 1,-5M1534,685l3,4 7,1 4,4M1556,712l-7,-1M1549,711l-2,-3 -2,-4M1562,708l2,-5 0,-4M1564,699l-7,-2 -6,-4M1548,694l3,-1M1500,721l-4,3 -4,1M1500,721l5,3 3,4 5,5M1513,733l-6,2 -5,2 -5,7M1492,725l0,6 4,7 1,6M1504,710l-3,5 -1,6M1483,716l3,8M1492,725l-6,-1M1469,711l0,6 0,7M1486,724l-5,4M1469,724l6,2 6,2M1550,780l-5,-1 -6,-1 -6,-4M1550,780l0,-7 4,-8 -3,-5M1533,774l3,-6 5,-9 6,-3M1557,786l-3,-4 -4,-2M1530,774l3,0M1531,752l6,3 5,1 5,0M1550,747l6,-4 7,0M1563,743l4,6 0,7M1513,733l2,0M1515,733l1,-7 5,-4 -1,-7M1530,750l4,-5 2,-6M1543,739l-7,0M1558,728l-5,0 -5,1M1563,743l1,-3M1562,730l2,5 0,5M1519,747l0,-7 -4,-7M1515,733l7,-2 8,2M1536,739l-4,-2 -2,-4M1592,739l2,-4 -1,-5M1592,739l-6,4M1586,743l-3,-1M1593,730l-3,-5 -5,-2M1583,742l-3,-1M1580,741l0,-6 1,-5 -2,-6M1585,723l-6,1M1603,742l-6,0 -5,-3M1602,725l-4,4 -5,1M1593,757l0,-5 -4,-3 -3,-6M1575,757l1,-5 4,-6 3,-4M1590,716l-3,2 -2,5M1564,740l4,-1 7,0 5,2M1574,722l5,2M1589,709l-5,-4M1584,705l-2,0M1573,715l4,-5 5,-5M1651,798l1,4 3,3M1651,798l-5,2 -5,0 -6,-1M1652,794l-1,4M1634,797l1,2M1582,705l-7,-4 -5,-6M1564,699l5,-4M1462,1521l-6,1 -8,-3 -8,-4M1462,1521l2,-7 2,-5 1,-5M1467,1504l-4,-6 -6,-4M1487,1502l-5,-1 -8,3 -7,0M1417,1508l-6,8 -3,10 -6,7M1395,1500l-5,9 -3,4 -5,8M1382,1521l6,4 3,4 6,5M1397,1534l5,-1M1419,1539l-5,-4 -5,-2 -7,0M1366,1521l8,-3 8,3M1390,1487l-10,-2 -8,0 -6,-1M1404,1468l4,7 5,10 8,7M1405,1463l12,4 8,-2 10,-1M1421,1492l5,-4 6,1 5,-3M1437,1486l0,-8 -2,-3 3,-7M1435,1464l3,4M1415,1505l5,-6 1,-7M1440,1437l-4,10 1,8 -2,9M1447,1495l-6,-4 -4,-5M1461,1465l-9,-2 -4,5 -10,0M1424,654l3,-2M1438,671l-5,3M1438,671l-2,-6 2,-7M1427,652l5,4 6,2M1430,629l3,5M1427,652l4,-4 -2,-9 4,-5M1458,632l-8,3 -7,3M1443,638l-5,-2 -5,-2M1464,709l-7,2M1457,711l-4,-5 -7,-1M1463,729l6,-5M1463,729l-6,0 -4,-3M1457,711l1,8 -5,7M1450,730l2,-4M1459,748l6,-1 5,-3M1463,729l2,6 1,5 4,4M1452,726l-8,-2 -5,-6M1489,699l3,-5 0,-5M1471,691l2,-4 2,-4M1492,689l-6,-4 -4,-2 -7,0M1477,663l5,5 1,6M1494,663l-3,5 -2,6M1489,674l-6,0M1472,664l-2,5 -3,4M1472,664l5,-1M1467,673l4,5 4,4M1483,674l-5,3 -3,5M1472,664l-6,-6M1480,651l-6,-1 -5,-4M1466,658l0,-6 3,-6M1458,632l4,5 0,7M1479,631l-4,6 -3,3 -3,6M1462,644l7,2M1464,674l-5,-4 -6,-2M1464,674l-3,5 -2,5M1459,684l-4,0 -5,1M1450,685l-2,-6 0,-7M1448,672l5,-4M1467,692l-5,-3 -3,-5M1467,673l-3,1M1450,686l0,-1M1438,671l5,2 5,-1M1338,555l0,7 3,4 3,5M1314,569l4,6 3,5M1321,580l8,2 7,1M1336,583l2,-7 6,-5M1344,571l5,-1 5,0M1319,715l4,-5 1,-7M1319,715l8,2 7,5M1324,703l7,4 7,0M1338,707l-2,7 0,7M1334,722l2,-1M1321,692l-6,-4M1321,692l1,5 2,6M1305,722l4,-1 5,-5 5,-1M1332,733l-1,-6 3,-5M1349,723l2,-6 2,-6M1349,723l-7,-4 -6,2M1345,703l4,4 4,4M1345,703l-4,1 -3,3M1352,729l-3,-6M1406,608l-5,4M1401,628l2,-6 -1,-5 -1,-5M1384,658l0,-8 -2,-8M1368,667l5,2M1368,667l0,-5 -3,-4M1365,658l4,-6 1,-6M1370,646l5,-2 4,-3M1382,642l-3,-1M1405,654l-4,-4 -7,-5 -6,-4M1382,642l6,-1M1388,641l5,-3 3,-5 3,-4M1381,735l-2,-6 -2,-7M1364,726l1,-4 3,-3M1368,719l4,3 5,0M1399,718l-7,0 -6,-3M1386,715l-4,3 -5,4M1345,702l6,-4 0,-4 6,-4M1345,702l-4,-5 -1,-6 -5,-4M1357,690l-5,-4 0,-6 -5,-5M1335,687l3,-7 6,-5M1347,675l-3,0M1321,692l6,-5 8,0M1404,868l-3,-6 -3,-7 -8,-8M1373,868l0,-6 -2,-6M1371,856l8,0 4,-4 7,-5M1346,860l6,-6 4,2 7,-5M1344,872l5,2 4,6 3,6M1371,856l-3,-4 -5,-1M1349,833l5,4 2,4 6,3M1363,851l-1,-7M1370,817l1,5 2,5M1362,844l4,-6 5,-6 2,-5M1417,844l-7,0 -8,-4 -9,-1M1390,847l1,-4 2,-4M1447,827l-7,-1 -6,-5 -8,-7M1418,843l0,-7 -6,-7 2,-8M1414,821l6,-3 6,-4M1426,797l-2,1M1426,814l1,-4 -1,-7 -2,-5M1410,788l1,6M1411,794l6,2 7,2M696,1186l-6,-5 -2,-3 -6,-3M696,1186l5,-9 6,-3 9,-6M682,1175l1,-5 4,-6 0,-5M716,1167l-7,-1 -5,-8 -7,-3M687,1159l5,-1 5,-3M699,1201l-2,-8 -1,-7M671,1179l5,-2 6,-2M719,1172l-3,-4M636,1149l6,2 4,4 5,2M651,1157l8,-1 4,-10 8,-2M671,1144l-1,-7 3,-7 1,-8M659,1107l-7,2M659,1107l7,1 4,5M670,1113l1,5 3,4M608,1123l11,4 5,2 11,2M653,1166l-1,-4 -1,-5M687,1159l-5,-7 -7,-3 -4,-5M703,1134l-11,-2 -5,-9 -13,-1M703,1134l-4,5 0,7 -2,9M663,1065l-2,13 4,18 -6,11M703,1081l-1,6 2,6M704,1093l-13,2 -10,12 -11,6M735,1147l-6,1M729,1148l-7,-3 -5,-7 -5,-7M712,1131l0,-8 9,-9 0,-8M721,1106l9,-5 14,-1 10,3M764,1114l-4,-4 -4,-3M716,1167l4,-6 6,-4 3,-9M703,1134l4,-2 5,-1M704,1093l6,5 8,3 3,5M513,1228l4,-4 1,-5M543,1209l-4,0M518,1219l6,-7 8,-1 7,-2M495,1195l3,-6 7,-3 3,-8M495,1195l8,2 4,1 7,1M514,1199l4,-5M518,1194l2,-6 -3,-6M508,1178l6,0 3,4M503,1166l0,7 5,5M488,1197l7,-2M518,1219l-3,-5 2,-9 -3,-6M529,1195l-5,0 -6,-1M529,1195l5,6 3,3 2,5M536,1185l-3,-6 -5,-4M536,1185l7,0M543,1185l6,-6 -1,-6 7,-5M528,1175l0,-6 0,-5 3,-7M531,1157l7,-1 8,1 6,3M552,1160l0,4 3,4M529,1195l6,-4 1,-6M517,1182l7,-2 4,-5M550,1196l-4,-5 -3,-6M567,1177l-5,-6 -7,-3M525,1152l6,5M565,1143l-2,7 -7,4 -4,6M1845,1395l-5,1 -3,3M1845,1395l9,2 3,6 9,3M1837,1399l-3,6 1,7M1851,1429l5,-4 5,-2 4,-4M1865,1419l3,-5 -1,-7M1866,1406l1,1M1851,1374l-2,8 -3,5 -1,8M1823,1391l7,5 7,3M1870,1385l-1,6 -4,8 1,7M1890,1402l-6,3 -8,-3 -9,5M1886,1436l-5,-8 -10,-2 -6,-7M2011,1259l1,7 5,6M2004,1278l4,0 4,1M2012,1279l4,-3 1,-4M2028,1259l2,7 -1,7M2017,1272l6,1 6,0M2041,1272l-5,0 -5,3M2029,1273l2,2M2046,1307l-7,-3 -3,-6M2044,1291l-6,2M2036,1298l2,-5M2031,1275l-2,4 1,5M2038,1293l-4,-5 -4,-4M2012,1279l3,5 1,5M2030,1284l-8,1 -6,4M2002,1297l5,-4 7,0M2014,1293l2,-4M1946,1276l-3,4 0,5M1931,1278l1,8M1950,1309l-6,-3 -6,-5M1945,1288l-2,7 -5,6M2100,1285l-3,3 -2,5M2100,1285l7,-3 7,2M2095,1293l7,2 6,5M2108,1300l3,-5 4,-5M2115,1290l0,-4M2098,1275l0,5 2,5M2090,1294l5,-1M2107,1273l1,7 6,4M2105,1313l2,-4 2,-5M2109,1304l-1,-4M2127,1301l-4,5M2127,1301l-4,-6 -2,-3 -6,-2M2123,1306l-7,-1 -7,-1M2122,1273l-1,-3M2122,1273l-6,4 -1,7M2148,1216l-4,-4M2148,1216l4,-1 7,-4 5,1M2144,1212l1,-8 4,-7M2159,1195l-5,0 -5,2M2147,1229l2,-6 -1,-7M2135,1211l5,1 4,0M2140,1190l6,2 3,5M2178,1204l5,3 2,6M2178,1204l-6,3 -7,2M2185,1213l-1,6M2178,1204l1,-4 2,-5M2159,1403l0,-7 2,-7M2159,1403l-6,5 -8,-1M2139,1390l5,-1 5,0 7,-2M2139,1390l-2,6 0,7M2161,1389l-5,-2M2137,1403l4,2 4,2M2168,1411l-4,-6 -5,-2M2173,1385l-5,4 -7,0M2151,1433l1,-11 -2,-5 -5,-10M2145,1370l-2,6 -6,1 -2,7M2145,1370l7,-1M2135,1384l4,6M2152,1369l1,5 0,8 3,5M2130,1406l7,-3M2125,1380l5,2 5,2M2173,1385l-3,-7 1,-7M2171,1371l-5,-1 -6,-1 -6,-2M2154,1367l-2,2M2165,1351l1,-5M2165,1351l2,6 5,2 4,5M2166,1346l6,3 6,-2M2178,1347l4,6 2,7M2176,1364l4,-1 3,-2M2155,1360l-3,-6 -5,-3M2155,1360l5,-4 5,-5M2164,1342l2,4M2164,1342l-5,0 -5,-2M2155,1360l-1,7M2171,1371l5,-7M2206,1352l-7,1 -5,-4M2194,1349l-7,4 -3,7M2145,1370l-7,-4 -3,-6M2105,1349l7,-1 7,2M2103,1368l7,-2 7,-1 7,-4M2119,1350l1,6 4,5M2124,1361l1,1M2123,1306l3,5 0,6M2106,1319l4,4M2126,1317l-7,0 -6,3 -3,3M2101,1343l3,-4 4,-4 3,-5M2111,1330l-1,-7M2133,1298l-5,-5 0,-6M2134,1298l4,-5 3,-3 2,-6M2128,1287l0,-7 5,-4M2133,1276l1,0M2134,1276l5,2 4,4M2143,1282l0,2M2127,1301l6,-3M2115,1286l7,-1 6,2M2122,1273l5,3 6,0M2137,1268l-3,8M2155,1272l-5,6 -7,4M2166,1273l4,5 2,6M2186,1264l-1,5 -4,6 1,7M2172,1284l5,-2 5,0M2143,1284l6,4M2149,1288l8,-1M2176,1329l2,7 3,6M2196,1331l-2,5 -3,6M2191,1342l-5,0 -5,0M2164,1342l2,-8 5,-5M2178,1347l3,-5M2194,1349l-3,-7M2211,1344l-3,-6 -3,-6M2192,1194l2,-5 5,-4 7,-2M2192,1194l2,7 5,6M2206,1183l5,8 -2,4 6,8M2199,1207l2,1M2201,1208l6,-2 7,-1M2214,1205l1,-2M2186,1192l6,2M2190,1168l8,0M2206,1182l-1,-4 -7,-5 0,-5M2185,1213l7,-4 7,-2M2231,1192l-2,-5 -4,-4 -7,-4M2231,1192l-5,6 -6,2 -5,3M2218,1179l-6,3 -6,0M2200,1224l2,-8 -1,-8M2227,1225l-5,-5 -3,-10 -5,-5M2240,1200l-3,-5 -4,-3M2233,1192l-2,0M2227,1144l-4,6 -6,5M2227,1144l-2,-5 -6,-6 -2,-4M2217,1129l-6,4 -7,3M2217,1155l-5,0M2212,1155l-5,-6 -4,-7M2204,1136l-1,6M2237,1141l1,-5M2237,1141l-5,1 -5,2M2219,1123l-2,6M2197,1125l5,5 2,6M2218,1179l1,-8 5,-6M2198,1168l3,-5 5,-4 6,-4M2224,1165l-4,-4 -3,-6M2182,1146l6,-2 7,-1 8,-1M2344,1215l-3,-5 0,-6M2327,1202l0,7 -1,6M2307,1209l6,4 5,1 4,3M2322,1217l4,-2M2312,1185l4,6 1,6M2340,1221l-7,-3 -7,-3M2316,1231l5,-6 1,-8M2255,1200l5,-3M2268,1217l-3,-6 3,-5 -3,-6M2260,1197l5,3M2285,1212l-4,-7 -5,-5M2265,1200l5,0 6,0M2258,1180l1,-7 5,-5M2258,1180l-5,-1 -6,-3 -5,-1M2264,1168l-3,-7 -5,-6M2242,1175l-3,-6M2239,1169l5,-4 1,-10 4,-3M2256,1155l-6,-3M2233,1192l1,-6 6,-6 2,-5M2260,1183l1,7 -1,7M2260,1183l-2,-3M2224,1165l8,3 7,1M2237,1141l7,4 5,7M2260,1138l-6,4 -1,5 -3,5M2285,1174l-2,-1M2285,1174l6,3 2,7 6,2M2283,1173l-4,4 -2,5M2277,1182l4,4 0,6M2281,1192l8,2 7,-3M2299,1186l-3,5M2306,1167l2,8 -1,8M2307,1183l-4,3 -4,0M2299,1162l-7,3 0,6 -7,3M2276,1165l4,4 3,4M2276,1165l-6,1 -6,2M2260,1183l7,0 4,1 6,-2M2276,1200l3,-3 2,-5M2297,1204l-1,-6 0,-7M2307,1183l5,2M1982,776l1,6 4,4M1982,776l1,-6 5,-6M1987,786l6,0 6,-3M1988,764l5,1M1993,765l5,4 4,5M1970,777l6,-2 6,1M1978,797l3,-2 4,-1M1985,794l1,-4 1,-4M1954,720l7,2 5,6M1973,723l-3,4M1966,728l4,-1M1986,762l-6,-2 -5,-4M1986,762l2,2M1964,767l4,-7M1975,756l-4,1 -3,3M1866,813l4,-5 0,-7M1870,801l-4,-2 -6,1 -6,-1M1872,800l-2,1M1851,818l0,-7M1839,808l6,-1 6,4M1848,794l-5,1 -6,1M2021,751l-7,-2M2014,749l0,-6 -4,-4M2029,736l-7,-1 -6,-1M2016,734l-6,5M2049,742l-6,4 -7,0M2013,725l1,5 2,4M1985,794l4,7 8,3M2005,756l6,-2 3,-5M2005,756l4,6 5,4M2008,793l3,-4 3,-4 2,-6M2016,779l-4,-6M2005,756l-7,3 -5,6M2050,1175l2,-8 3,-7 4,-5M2029,1171l7,-8 3,-11 6,-8M2059,1155l-4,-4 -6,-2 -4,-5M2069,1156l-5,1 -5,-2M2044,1143l1,1M2332,872l-5,-5M2332,872l6,2 6,-3M2337,856l5,2 2,4M2337,856l-4,6 -7,2M2326,864l1,3M2344,862l1,5 -1,4M2317,874l4,-4 6,-3M2329,882l3,-5 0,-5M2347,875l-3,-4M2335,847l1,5 1,4M2351,858l-7,4M2376,867l-3,8 -2,7M2371,882l-7,-3 -6,-5M2359,860l1,5 0,6M2371,884l5,1 4,3M2371,884l-2,4 -5,2M2374,900l4,-5 5,-2M2374,900l-5,0 -5,-2M2383,893l-3,-5M2364,898l0,-8M2387,876l-3,6 -4,6M2371,882l0,2M2356,886l4,2 4,2M2386,895l-3,-2M2376,912l0,-6 -2,-6M2362,900l2,-2M2317,954l4,3 4,4M2219,1018l4,-2 3,-3M2226,1013l-1,-8 -3,-5 -3,-8M2230,1072l7,2 7,-2M2253,1093l2,-5 1,-6M2244,1072l6,4 6,6M2295,1105l5,-4 5,-2M2295,1105l-7,-4M2288,1101l3,-6 1,-6M2292,1089l6,5 7,1M2305,1095l0,4M2291,1087l-5,3 -4,-1 -7,0M2291,1087l1,2M2275,1089l-2,6 0,7M2276,1105l-2,-2M2276,1105l6,-4 6,0M2388,1002l4,3 -1,8 4,7M2325,961l1,2M2326,963l5,2 7,2 3,4M2344,970l-3,1M2344,970l2,-6M2353,976l-4,-5 -5,-1M2376,967l-5,2 -3,3M2362,970l6,2M2227,925l6,-2 7,-1M2227,925l-3,-6 -6,-4M2218,915l7,-3 6,-3M2231,909l5,4 2,5 3,4M2225,933l5,3 4,5M2225,933l1,-4 1,-4M2234,941l5,-1M2239,940l-2,-5 1,-8 2,-5M2217,915l-3,-4M2235,899l-3,4 -1,6M2217,900l0,6 -3,5M2249,905l-3,6 1,5 -3,5M2244,921l-3,1M2252,925l-4,-3 -4,-1M2241,942l-2,-2M2118,969l3,-6M2145,978l0,-7 -4,-3 0,-8M2121,963l8,1 4,-4 8,0M2274,857l6,-1 6,3M2258,939l4,-3 8,-1 4,-6M2264,915l3,7 2,3 5,4M2217,820l4,7 7,2M2217,820l1,-2M2218,818l6,-4 8,1M2228,829l4,-3 4,-3M2236,823l-3,-4 -1,-4M2205,822l5,1 5,-1M2215,822l2,-2M2215,806l0,6 3,6M2234,811l-2,4M2243,825l-7,-2M2228,839l8,2M2228,839l0,-5 0,-5M2398,798l2,-6 8,-2 3,-8M2410,781l-4,-1 -6,-4 -7,0M2393,776l-5,5M2375,795l5,-1 4,-5 4,-4M2425,792l-6,-3 -5,-3 -3,-4M2415,766l-1,8 -4,7M2393,761l1,7 -1,8M2404,855l0,-7 1,-7M2404,855l5,2 6,2 8,4M2405,841l6,2 11,2 6,2M2423,863l3,-6 4,-5M2430,852l-2,-5M2403,838l2,3M2396,859l4,-2 4,-2M2420,874l1,-5 2,-6M2428,823l1,9 -3,6 2,9M2450,853l-6,2 -7,-3 -7,0M2291,808l6,0 4,3M2302,794l0,5 4,4M2301,811l2,-5 3,-3M2322,797l-1,6 -1,5M2306,803l7,3 7,2M2321,812l-1,-4M2234,643l4,2 4,-2M2234,643l-6,5 -4,7M2242,643l3,5 0,6 2,6M2247,660l-5,2 -8,4 -5,-2M2224,655l3,4 2,5M2222,628l5,4 3,6 4,5M2256,632l-5,2 -6,5 -3,4M2217,654l7,1M2226,678l3,-6 0,-8M2207,663l2,5 -1,4M2229,755l-5,-1 -4,-3M2220,751l-1,-6 2,-6M2248,754l-5,-4 -7,-1M2214,753l6,-2M2210,734l6,3 5,2M2097,920l4,0 7,0 6,4M2112,899l4,1 3,3M2114,924l6,-5M2120,919l-2,-5 2,-7 -1,-4M2132,883l3,7 -2,7M2119,903l7,-3 7,-3M2015,861l-1,-6M2035,854l-4,-1 -4,-5 -6,-3M2014,855l3,-5 4,-5M2014,855l-4,-4 -6,-3M2036,837l-4,0 -8,0 -4,3M2036,837l-1,-7 4,-6M2031,819l4,3 4,2M2031,819l-2,6 -4,3 -5,5M2020,833l0,7M2042,849l-5,-5 -1,-7M2021,845l-1,-5M2047,823l-4,0 -4,1M2038,799l5,0 7,0 5,2M2038,799l-5,2 -5,6 -2,5M2026,812l3,3 2,4M2005,839l-3,4M2005,839l7,0 8,1M2100,779l1,-5 -1,-5M2100,769l4,-4 5,-2M2113,765l-4,-2M2119,779l-4,-3M2088,765l6,2 6,2M2106,753l1,5 2,5M2195,700l-6,-1 -6,-2M2200,680l-6,-2 -5,1M2183,697l2,-4 4,-9 0,-5M2178,708l0,-5 1,-4M2183,697l-4,2M2161,700l6,1 5,0 5,-3M2190,655l-4,4 2,9 -5,6M2183,674l6,5M2140,696l4,-2M2212,868l4,-4M2212,868l-4,-1 -4,2M2216,864l2,-4 0,-6M2204,869l-4,-5 -7,-2M2202,843l-5,4 -5,2M2193,862l-2,-6 0,-6M2217,883l1,-5 -2,-5 -4,-5M2230,872l-7,-5 -7,-3M2215,822l2,6 -4,9 1,8M2182,827l1,8 6,8 3,6M2228,839l-6,3 -6,4M2173,849l7,1 6,0 5,0M1985,738l2,5 4,3M1985,738l4,-5M1989,733l4,-2 5,-1M1991,746l8,0M1998,730l3,5 3,4M1999,746l2,-4 3,-3M1986,762l1,-5 1,-6 3,-5M1982,739l-3,5 -5,3M1982,739l3,-1M1975,756l-1,-4 0,-5M1984,722l3,5 2,6M1982,739l-6,-4 -3,-4 -3,-4M2001,723l-2,3 -1,4M2005,756l-3,-5 -3,-5M2010,739l-6,0M2018,677l0,-5 4,-3M2035,674l-4,-6M2022,669l4,-1 5,0M2046,658l-6,3 -6,-2M2031,668l2,-4 1,-5M2034,620l-2,0M2034,620l2,8 -1,4 4,7M2032,620l-8,4 -1,8 -5,3M2039,639l-2,1M2037,640l-7,-1 -3,-1 -7,-1M2018,635l2,2M2039,618l-5,2M2030,617l2,3M2050,642l-5,-1 -6,-2M2034,659l-4,-6M2030,653l3,-7 4,-6M2020,652l5,1 5,0M2020,652l2,-7 -2,-8M1827,749l2,7 0,7M1827,749l-7,0M1820,749l-3,2 -2,4M1819,765l5,1M1829,763l-5,3M1818,783l3,-4 5,-1M1824,766l-1,6 3,6M1834,794l0,-6 0,-7M1826,778l4,0 4,3M1747,790l1,-5 0,-5M1735,775l7,1 5,3M1776,690l-2,4 1,4M1758,692l5,4 4,5M1775,698l-4,2 -4,1M132,1116l-2,-2M130,1114l1,-6 3,-6M138,1089l-4,4 -4,5M109,1095l4,5 6,4M119,1104l5,-3 5,-4M367,1159l7,2 4,5 9,0M367,1159l-5,4 -3,6 -3,4M363,1184l-2,-7 -5,-4M363,1184l5,2 5,-3 7,3M380,1186l3,-5 1,-8 3,-7M362,1144l2,8 3,7M398,1160l-6,2 -5,4M340,1171l8,0 8,2M354,1200l5,-4 1,-6 3,-6M387,1199l-2,-7 -5,-6M1491,1512l7,3 4,7 5,9M1491,1512l-3,8 -11,3 -8,10M1507,1531l-9,3 -5,10 -8,4M1469,1537l0,-4M1515,1531l-8,0M1491,1506l0,6M1462,1521l5,5 2,7M1871,1472l-3,-6 -1,-8 -2,-8M1844,1478l0,-9 -4,-11 3,-14M1847,1441l-4,3M1812,1464l6,7 16,5 10,2M1832,1443l5,0 6,1M1648,1323l-11,2 -11,-7 -7,4M1609,1352l-4,-8 3,-7M1619,1322l-5,5 0,5 -6,5M1636,1285l-9,6 -5,13 -6,7M1619,1322l-1,-6 -2,-5M1624,1128l4,-6 3,-6 4,-5M1678,1116l-15,1 -14,-6 -14,0M1522,1094l9,-9 -1,-19 9,-8M1486,1060l19,-5 13,4 16,-10M1534,1049l3,4 2,5M1562,1094l-3,-7 9,-12 -2,-8M1539,1058l9,-1 9,7 9,3M1586,1118l5,-10 4,-18 8,-9M1603,1081l-8,-6 0,-14 -6,-6M1566,1067l9,-3 7,-5 7,-4M1356,1221l9,0 4,-5 8,0M1377,1216l3,4 3,8 5,5M1385,1188l0,4 2,4M1377,1216l1,-8 6,-5 3,-7M1416,1263l0,-9 3,-7 1,-9M1437,1126l1,6 4,7 4,5M1427,1169l7,-9 2,-10 10,-6M1486,1134l-13,5 -10,6 -12,1M1446,1144l5,2M1496,1162l-9,7 -5,4 -10,4M1451,1146l7,9 8,12 6,10M1489,1196l-4,-8 -7,-5 -6,-5M1286,918l2,8 0,7M1286,918l-5,-5 -8,-3M1273,910l-6,5 -3,2 -8,1M1265,937l-4,-6 0,-5 -5,-6M1256,918l0,2M1233,943l1,-7 0,-5 -2,-4M1256,920l-9,1 -7,2 -8,4M1324,889l-6,2 -5,4M1313,895l-4,6 -1,7M1330,909l-3,3 -7,2 -6,3M1314,917l-3,-4 -3,-5M1354,894l-9,2 -7,-3 -7,3M1341,918l7,-3 6,0 5,-5M1314,926l1,-5 -1,-4M1326,939l5,1 4,-2M1286,918l4,-6 5,-5M1295,907l7,0 6,1M1297,886l-4,3 -3,5M1297,886l-1,-4 2,-4M1298,878l-3,-7 -6,-4M1290,894l-8,0 -8,-1M1286,868l-5,6 -7,5 -6,6M1286,868l3,-1M1274,893l-3,-3 -3,-4M1295,907l-3,-6 -2,-7M1313,895l-6,-5 -6,0 -4,-4M1319,873l-8,4 -6,1 -7,0M1298,851l-5,6 -2,6 -2,4M1273,910l1,-5 2,-6 -2,-6M1271,857l4,7 5,2 6,2M1257,870l4,2 5,6 2,7M1256,918l-3,-7 -1,-5 -2,-8M1250,898l5,-4 8,-3 5,-5M1391,959l-13,1 -11,1 -11,-2M1391,959l2,-7 -3,-11 0,-10M1390,931l-5,-2 -7,-4 -5,1M1373,926l-6,7 -10,7 -3,10M1406,924l-5,1 -5,4 -6,2M1402,971l-5,-7 -6,-5M1368,916l1,5 4,5M1427,1018l1,7 0,13 -2,9M1427,1018l-15,3 -10,0 -12,-6M1426,1047l-8,3 -5,4 -9,5M1471,1015l-7,-1 -8,-5 -8,-5M1471,1015l1,9 4,10 7,8M1483,1042l-2,8 1,7M1440,1059l-3,-6 -6,-1 -5,-5M1434,1008l-5,4 -2,6M1366,1089l0,-8 -5,-6M1361,1075l6,-8 1,-11 5,-10M1330,1050l1,7 3,5 1,7M1330,1050l-8,-4 -8,-3 -7,2M1335,1069l-3,11 -10,10 -10,6M1286,1069l1,-7 3,-7 1,-5M1286,1069l8,9 5,11 5,6M1304,1095l4,-1 4,2M1307,1045l-6,1 -4,0 -6,4M1339,1042l-6,3 -3,5M1339,1042l10,0 13,7 11,-3M1361,1075l-6,-2 -12,-4 -8,0M1337,1114l-9,-7 -8,-6 -8,-5M1254,1078l10,0 11,-8 11,-1M1281,1035l2,5 2,5 6,5M1288,1117l7,-5 5,-9 4,-8M1644,948l-7,3 -9,4 -6,-2M1601,927l6,-6 12,-1 6,-6M1601,927l2,5 -2,8 3,5M1604,945l6,2 5,5 7,1M1551,875l2,4M1523,900l-2,-12 -1,-6 -8,-10M1523,900l6,-3 11,-3 8,0M1548,894l2,-8 3,-7M1581,851l-2,10 -3,11 3,7M1553,879l10,-1 8,1 8,0M1598,886l8,1 9,2 8,3M1598,886l5,-8 1,-6 1,-7M1605,865l4,-1 4,-2M1613,862l6,4 3,1 5,4M1627,871l-4,6 2,8 -2,7M1601,927l-6,-3 -6,-6 -6,-3M1627,897l-4,-5M1583,915l4,-9 -1,-11 4,-6M1590,889l5,-1 3,-2M1591,849l6,2 3,7 5,7M1590,889l-4,-6 -7,-4M1619,847l-5,7 -1,8M1639,863l-5,5 -7,3M1450,1000l13,-8 4,-10 11,-10M1673,675l6,-3 6,-1 4,-3M1689,668l2,6 5,2 2,5M1693,706l6,-3 3,-5M1807,823l-3,3 -2,4M1823,834l-6,3 -7,1M1802,830l3,5 5,3M1787,818l2,5 1,5M1790,828l6,-1 6,3M1813,852l-4,-1M1810,838l-2,6 1,7M1777,841l5,-2M1777,841l3,6 3,5 3,7M1782,839l5,1 5,2 5,3M1786,859l4,-1 5,2M1795,860l2,-5 5,-3M1802,852l-1,-5 -4,-2M1774,840l3,1M1790,828l-3,7 -5,4M1775,870l6,-5 5,-6M1802,830l-3,7 -2,8M1802,875l-2,-7 -2,-4 -3,-4M1809,851l-7,1M1791,749l-7,-3 -8,3M1777,763l0,-6 -3,-6M1776,749l-2,2M1791,773l-2,-5 -3,-3M1803,760l-6,-3 -5,-4M1747,665l-5,4 -3,6 -2,6M1747,665l-4,-4 -5,-3 -4,-3M1734,655l-3,4 -6,2 -4,5M1736,681l-5,-5 -5,-1 -5,-6M1721,669l0,-3M1749,665l-2,0M1734,651l0,4M1704,652l4,6 8,2 5,6M1689,668l-1,-7 4,-6M1713,678l-7,3 -8,0M1713,678l6,-3 2,-6M1676,605l4,5 6,3 3,4M1689,617l-1,5 0,5M1688,627l-7,-2 -7,4 -6,-1M1664,616l2,6 2,6M1688,596l-5,5 -7,4M1700,610l-5,4 -6,3M1656,591l-1,7 -1,7 -5,7M1656,591l5,-2 5,1M1690,629l-2,-2M1612,633l6,0 6,5 6,1M1612,633l-1,-5 -1,-5M1639,631l-4,5 -5,3M1651,642l-5,5 -5,4 -3,5M1659,665l-8,1M1651,666l-5,-2 -4,-2 -4,-6M1688,651l-9,1 -6,-8 -9,1M1668,628l1,7 -2,5 -3,5M1629,646l1,-7M1629,646l3,7 6,3M1643,672l4,-3 4,-3M1631,665l1,5M1631,665l5,-3 2,-6M1617,560l-1,-6 -2,-6M1617,560l-5,5 -10,5 -3,6M1586,556l9,-2 4,-6 9,-3M1586,556l-1,7 3,5 3,7M1608,545l6,3M1591,575l8,1M1579,550l4,2 3,4M1586,580l5,-5M1613,598l-3,-9 -7,-5 -4,-8M1623,578l-1,8 1,8M1623,578l-10,2 -6,-5 -8,1M1639,556l-7,3 -3,6M1639,556l6,5 2,7 5,5M1652,573l-3,4 -2,4M1629,565l0,8M1629,573l6,2 3,4 4,3M1647,581l-5,1M1656,591l-3,-6 -6,-4M1657,571l-5,2M1623,578l4,-1 2,-4M1617,560l6,1 6,4M1633,596l3,-6 2,-3 4,-5M1639,528l8,4 8,0 7,3M1639,528l-4,3 -4,3M1631,534l-1,5M1630,539l2,4 5,7 3,4M1640,554l7,-1 7,-4 8,-4M1662,545l-2,-5 2,-5M1641,502l0,6 -3,12 1,8M1669,524l-2,7 -5,4M1614,548l7,-3 5,-2 4,-4M1639,556l1,-2M1664,548l-2,-3M1525,585l-4,5 -5,5M1525,585l1,-6 -2,-5M1520,571l-7,-2 -7,3M1520,571l4,3M1516,595l-4,-2 -8,-1 -4,-1M1500,591l-3,-8M1535,593l-7,-3 -3,-5M1520,605l-2,-5 -2,-5M1551,571l-8,2 -11,3 -8,-2M1525,550l-4,8 1,5 -2,8M1497,609l0,-5 2,-7 1,-6M1508,693l-5,-5 -8,-2M1510,692l4,-4 1,-5M1495,682l0,4M1495,682l5,-5 5,-4M1515,683l-2,-7M1505,673l8,3M1502,708l2,-7 2,-2 2,-6M1492,689l3,-3M1521,700l-4,-6 -7,-2M1532,686l-6,0 -5,-4 -6,1M1489,674l5,3 1,5M1502,664l0,5 3,4M1517,655l3,6 0,7M1520,668l-2,5 -5,3M1520,668l9,0 6,4M1535,672l1,2M1528,648l5,4 4,4M1535,672l2,-4 0,-7 0,-5M1551,693l4,-5 0,-6M1555,682l-3,-4 -2,-5M1569,695l-3,-6 -1,-7M1555,682l5,-2 5,2M1473,745l4,-2M1473,745l4,4 -2,7 3,4M1477,743l7,1 6,1 7,-1M1478,760l7,-4 8,2M1493,758l1,-5 4,-4M1498,749l-1,-5M1481,728l1,8 -5,7M1470,744l3,1M1476,765l2,-5M1497,771l0,-7 -4,-6M1511,756l-8,-1 -5,-6M1532,712l-7,3M1532,712l6,3 4,4M1542,719l0,4M1535,705l-3,7M1549,711l-4,3 -3,5M1530,733l3,-6M1631,665l-5,-2 -4,-1M1628,680l-7,0 -5,-4M1616,676l-3,-6M1613,670l3,-6 6,-2M1629,646l-6,2 -3,5M1622,662l-1,-5 -1,-4M1612,633l0,5 -4,4M1608,642l3,3 1,5M1620,653l-4,-1 -4,-2M1590,630l1,7 -3,7M1569,636l5,2 9,2 4,5M1608,642l-6,0 -7,1 -6,2M1584,705l3,-7 3,-7M1570,695l4,-5 6,-2M1590,691l-5,-2 -5,-1M1565,682l4,-5M1569,677l4,-2 5,1M1580,688l-1,-6 -1,-6M1439,710l-5,-2 -5,0M1445,705l-4,-5 -2,-3 -3,-6M1427,704l4,-5 1,-6M1427,704l2,4M1432,693l4,-2M1417,724l6,-4 4,-7 2,-5M1438,688l-2,3M1421,687l5,3 6,3M1415,700l5,4 7,0M1454,663l5,-4M1454,663l-6,-2 -3,-6M1459,659l0,-5 -3,-5M1456,649l-4,0 -4,-1M1445,655l3,-7M1466,658l-7,1M1453,668l1,-5M1438,658l7,-3M1462,644l-2,3 -4,2M1443,638l4,4 1,6M1321,580l-5,11 -3,5 -8,8M1368,667l-9,1 -5,2 -7,5M1365,658l-5,-5 -7,-1M1344,675l-4,-5 -2,-5M1353,652l-6,5 -4,3 -5,5M1338,665l-2,-1M1366,588l5,-3 6,0M1360,572l7,-1 4,-4 5,-2M1380,582l-3,3M1380,582l1,-6 -5,-4 1,-7M1370,550l3,5 3,5 0,5M1397,592l-4,7 -8,3M1393,582l-7,-1 -6,1M1385,602l-4,-5 -1,-6 -3,-6M1385,602l-1,2M1401,612l-8,1 -6,-4M1379,641l-2,-6M1364,710l-1,-6 3,-6 -1,-5M1364,710l2,1M1366,711l6,-4 8,-1M1368,691l-3,2M1368,691l4,2 7,5 3,4M1382,702l-2,4M1353,711l5,-2 6,1M1357,690l4,1 4,2M1368,719l-1,-4 -1,-4M1386,715l-3,-4 -3,-5M1373,684l-4,3 -1,4M1391,695l-5,3 -4,4M1411,821l-3,-8 -6,-4 -6,-4M1411,821l-8,4 -6,7 -4,4M1389,832l4,4M1389,832l-1,-11 5,-5 0,-10M1396,805l-2,0M1414,821l-3,0M1411,794l-5,1 -7,6 -3,4M1393,839l0,-3M1373,827l7,2 6,0 3,3M1371,813l9,-3 8,0 5,-4M1385,791l3,4 1,5 5,5M2021,1302l7,-1 8,-3M2021,1302l2,6 -3,6M2036,1298l-2,6 2,6 -3,8M2014,1293l4,4 3,5M1924,1290l-4,7 -1,7M1928,1290l7,4 2,8M1937,1302l-3,4 -5,2M1929,1308l-5,1 -5,-3M1919,1304l0,2M1907,1296l5,5 7,3M1933,1319l-1,-6 -3,-5M1912,1316l3,-5 4,-5M2136,1344l-6,-1 -6,-1M2136,1344l3,-5 3,-5M2142,1334l-6,-3 -6,-4M2130,1327l-5,4 -3,5M2124,1342l-2,-6M2140,1351l-2,-4 -2,-3M2119,1350l4,-3 1,-5M2148,1331l-6,3M2126,1317l3,2M2111,1330l6,2 5,4M2129,1319l0,4 1,4M2129,1319l7,-1 6,-4M2142,1314l6,3 3,6M2134,1298l4,4 5,2M2142,1314l0,-5 1,-5M2149,1288l1,7 1,6M2143,1304l4,-2 4,-1M2207,1246l2,8 7,3M2233,1249l-6,4 -2,7M2216,1257l4,0 5,3M2284,1269l-6,3 -6,1 -4,3M2267,1281l3,8 7,3M2249,1254l-1,5 -4,3 -1,7M2261,1270l-7,4 -8,-1M2246,1273l-3,-4M2256,1238l-3,6 -3,3 -1,6M2225,1260l2,5M2227,1265l4,2 7,1 5,1M2228,1285l-3,-3 -1,-4M2228,1285l8,1 8,0M2244,1286l1,-6 1,-7M2224,1278l0,-7 3,-6M1963,735l4,4 1,5M1963,735l-6,1 -4,4M1968,744l-7,1 -3,5M1953,740l2,5 1,5M1956,750l2,0M1966,728l-3,7M1974,747l-6,-3M1945,737l4,1 4,2M1968,760l-6,-4 -4,-6M1950,756l2,-4 4,-2M2005,839l-2,-4 1,-4M2020,833l-5,-3 -4,-4M2004,831l3,-3 4,-2M2026,812l-3,-1M2023,811l-4,3 -5,2M2011,826l3,-5 0,-5M2023,761l4,3 4,1M2031,765l4,-2 3,-4M2057,787l-6,-4 -5,-5M2066,766l-5,1 -5,-1 -6,1M2046,778l2,-5 2,-6M2046,762l4,5M2321,918l3,5 5,4M2312,923l4,5 -2,7M2313,1108l-6,2 -3,6M2295,1105l0,4 1,4M2296,1113l4,2 4,1M2276,1165l2,-6M2256,1155l6,0 6,-2 4,-2M2272,1151l1,5 5,3M2273,1127l4,-6 7,-2M2273,1127l-2,5 2,6M2280,1139l4,-7 7,-4M2291,1128l-4,-4 -1,-4M2284,1119l2,1M2262,1119l5,4 6,4M2276,1105l5,6 3,8M2272,1151l2,-6 0,-7M2296,1113l-4,5 -6,2M2275,1089l-4,-5 -2,-6M2256,1082l7,-2 6,-2M2314,1130l7,0 6,1 8,2M2314,1130l3,-6 4,-2 2,-8M2368,972l-1,6 1,6M2384,981l-2,5 -5,1M2377,987l-4,-3 -5,0M2375,1042l6,-3 6,-1M2206,890l-3,0M2203,890l-1,-1M2204,869l1,7 -5,6M2200,882l2,7M2214,911l-5,-2 -5,-1M2203,890l-2,5 -1,5M2204,908l-2,-4 -2,-4M2217,915l-5,5 -3,6M2225,933l-4,2 -5,2M2216,937l-2,-1M2209,926l1,5 4,5M2290,975l3,7 2,7M2281,974l-6,4M2295,989l-6,2M2275,978l2,8M2289,991l-5,-5 -7,0M2268,952l-4,-7 -8,-2M2256,943l0,6 -5,4 0,6M2268,960l-2,5 -5,2M2251,959l5,5 5,3M2238,958l5,4M2251,959l-5,0 -3,3M2275,978l-7,0 -6,-4M2261,967l1,7M2227,957l-3,-6M2204,956l6,-5 8,-3M2218,948l6,3M2234,941l-6,4 -4,6M2209,979l3,-5 2,-5M2184,970l4,-5 9,-3 4,-7M2216,937l0,6 2,5M2129,941l-7,-1 -4,-1 -4,-4M2106,944l3,-5 5,-4M2121,963l-1,-6M2114,924l-2,5 2,6M2120,919l6,1 6,4M2136,939l0,-8 -4,-7M2133,897l3,2M2136,899l-1,7 1,7 3,4M2132,924l4,-3 3,-4M2301,863l5,3 6,2M2301,863l2,-5 1,-5M2304,853l7,1 7,1M2312,868l3,-6 4,-4M2319,858l-1,-3M2315,874l-3,-6M2299,873l1,-5 1,-5M2288,862l6,2 7,-1M2326,864l-4,-2 -3,-4M2327,845l-3,0M2324,845l-2,6 -4,4M2275,848l5,0 5,-4M2269,833l5,1 6,1 5,0M2304,853l-2,-5M2290,849l6,-1 6,0M2278,930l4,-5 3,-5M2278,930l6,4 1,7M2285,941l8,0 6,-3M2299,938l2,-6 0,-4 -1,-6M2300,922l-5,-1 -5,-3M2290,918l-5,2M2279,907l0,8 6,5M2274,929l4,1M2284,946l1,-5M2307,955l-2,5 -5,3M2304,919l-4,3M2294,904l-1,7 -3,7M2170,685l4,-7 7,-4M2170,685l-5,0M2165,685l-2,-6 -5,-4M2158,675l3,-6 6,-3M2167,666l5,1 5,4 4,3M2177,698l-2,-7 -5,-6M2183,674l-2,0M2157,696l6,-5 2,-6M2149,675l4,0 5,0M2166,652l1,7 0,7M2017,635l-8,-1 -6,6M2017,635l-3,-7 -3,-7M2003,640l-2,-8 -5,-6M2011,621l-7,4 -8,0M2013,616l-2,5M1993,614l1,6 2,5M1980,632l5,-3 6,-2 5,-1M2002,668l-6,-5 -2,-7M2002,668l6,-2 1,-6 6,-3M2015,657l-7,-3 -2,-4 -5,-5M1994,656l1,-4 2,-5M1997,647l4,-2M1983,660l5,-2 6,-2M2022,669l-1,-7 -6,-5M2020,652l-5,5M2003,640l-2,5M1979,639l5,1 8,3 5,4M1839,762l-3,2M1836,764l0,7 2,8M1846,779l-8,0M1827,749l5,-4M1829,763l7,1M1853,747l-2,7 -2,3 1,7M1834,781l4,-2M1857,766l-7,-1M1749,764l3,-3 5,-1M1737,761l1,-7 3,-6M1758,756l-1,3M1758,756l-6,-2 -3,-5 -4,-4M1741,748l4,-3M1761,777l-3,-4 -2,-8 1,-5M1729,743l5,5 7,0M1773,766l-6,0 -3,-6 -7,-1M1761,752l-3,4M1761,752l7,0 6,-1M1726,735l2,-3M1728,732l5,0 5,-2M1738,730l4,6 5,5M1747,741l-2,4M1745,695l-3,3 -4,3M1738,701l2,6 4,4M1749,696l3,7 2,7M1744,711l5,-2 5,1M1767,701l-2,6 -5,5M1754,710l6,2M1761,752l1,-7 -1,-7M1747,741l6,-5M1761,738l-4,0 -4,-2M1738,730l1,-3 3,-3M1742,724l5,0 5,1M1753,736l-3,-5 2,-6M1740,717l4,-6M1740,717l2,7M1760,712l2,5M1752,725l6,-3 4,-5M1797,743l4,-5 5,-5 2,-6M1808,727l2,5 5,3M1820,749l-3,-4 -2,-6M1809,754l-2,-4 -2,-4M1810,715l-1,5 -2,5M1810,715l-5,-4 -2,-5M1807,725l-8,-3 -7,4M1803,706l-6,-2 -6,0M1792,726l-3,-6 -5,-4M1784,716l2,-5 1,-5M1791,704l-4,2M1826,713l-5,1 -5,-1 -6,2M1808,727l-1,-2M1812,690l-5,5 0,7 -4,4M1794,744l-2,-4 -3,-4M1789,736l2,-5 1,-5M1793,681l-3,8 5,9 -4,6M1775,698l6,5 6,3M119,1106l2,4 3,4M119,1106l-5,2 -4,4M124,1114l-5,4 -5,5M110,1112l2,5 1,5M130,1114l-6,0M119,1104l0,2M104,1108l6,4M117,1128l-3,-5M102,1123l6,-2 5,1M1608,1337l-14,-2 -9,-12 -13,-3M1521,1318l8,-8 8,4 9,-8M1571,1321l-10,-5 -10,-4 -5,-6M1533,1276l4,2 7,3 6,-1M1546,1306l-1,-8 4,-8 1,-10M1633,1086l0,1M1633,1086l4,-15 -1,-11 5,-11M1633,1087l9,-3 15,1 11,-1M1663,1047l-8,0 -7,-1 -7,3M1603,1081l8,4 12,1 10,0M1635,1111l0,-8 2,-6 -4,-10M1693,1066l-8,1 -7,-2M1483,1042l13,-5 5,-10 11,-4M1534,1049l1,-5M1535,1044l-4,-7 -9,-8 -10,-6M1421,1237l12,-3 11,5 11,1M1466,1223l-5,4 -5,8 -1,5M1387,1196l9,8 15,-4 11,9M1472,1178l-12,6 -5,5 -6,9M1465,1266l-5,-6 0,-11 -5,-9M1208,924l4,-2M1195,900l5,5 8,1M1212,922l0,-6 -4,-4 0,-6M1232,927l-5,-4M1212,922l7,0 8,1M1236,884l1,6 4,5M1236,884l-7,3 -7,-1M1241,895l-2,5 -4,4 -5,3M1230,907l-5,-3 -4,-3 -5,-5M1222,886l-2,5 -5,4M1215,895l1,1M1239,873l-3,6 0,5M1250,898l-5,-1 -4,-2M1211,872l3,4 4,3 4,7M1227,923l-1,-7 5,-3 -1,-6M1208,906l4,-5 4,-5M1201,887l5,4 4,1 5,3M1589,1055l4,-5 0,-7M1535,1044l5,-8 5,-11 10,-9M1555,1016l6,1 6,-2 7,-1M1574,1014l4,11 12,5 3,13M1641,1049l-8,-2 -4,-8 -7,-3M1622,1036l-11,5 -7,-5 -11,7M1622,1036l0,-9 8,-9 0,-10M1650,973l-10,9 -11,3 -8,6M1622,953l3,11 -9,10 2,15M1583,915l-5,2 -6,1M1548,894l4,8 4,4 4,7M1572,918l-7,-1 -5,-4M1523,900l-4,6M1519,906l2,9 5,10 6,6M1560,913l-6,8 -15,3 -7,7M1494,999l3,-5 2,-7 1,-7M1494,999l7,6 4,6 8,4M1513,1015l7,-7 7,-1 8,-7M1535,1000l1,-7 -7,-6 0,-10M1471,1015l8,-2 5,-9 10,-5M1512,1023l1,-4 0,-4M1555,1016l-7,-8 -5,-2 -8,-6M1441,898l6,3 8,-2M1715,713l5,2 6,1M1732,701l-2,-4 -4,-3M1732,701l-5,6 0,8M1726,716l1,-1M1713,678l3,6 2,5 4,5M1728,732l-1,-4 -2,-7 1,-5M1738,701l-6,0M1740,717l-6,0 -7,-2M1605,660l2,3 1,4M1605,660l-5,-3 -6,-1M1608,667l-3,4 -8,2 -3,3M1594,656l-3,7 -3,7M1594,676l-3,-3 -3,-3M1613,670l-5,-3M1612,650l-3,5 -4,5M1589,645l1,6 4,5M1587,645l-6,4 -5,5M1583,671l5,-1M1583,671l-2,-7 -6,-4M1576,654l-1,6M1595,677l-4,6 -1,8M1595,677l5,4 6,2 3,3M1610,687l-6,4 -6,3M1598,694l-4,-1 -4,-2M1578,676l5,-5M1616,676l-2,6 -5,4M1612,690l-2,-3M1601,704l0,-5 -3,-5M1560,652l-5,-4 -4,-6M1567,637l-8,0 -8,2M1551,639l0,3M1576,654l-5,-3 -4,-2M1545,632l3,4 3,3M1537,656l8,-2M1545,654l2,-7 4,-5M1560,655l3,4 3,4M1553,670l5,-2 6,0M1564,668l2,-5M1575,660l-4,2 -5,1M1545,654l4,3 3,3M1569,677l-4,-4 -1,-5M1311,637l-3,7 -6,6M1311,637l-4,-3 -3,-4M1305,604l4,4M1309,608l-3,8 -1,8 -1,6M1293,661l3,-4 0,-5M1382,622l-6,-1 -6,-3 -5,-2M1364,628l2,-6 -1,-6M1370,646l-6,-3 -4,-6 -6,-1M2174,1296l-4,-6M2174,1296l-3,6 1,6M2172,1308l-3,3 -5,1M2170,1290l-6,2M2151,1301l5,1M2172,1284l-2,6M2182,1282l4,1 2,3M2188,1286l-1,6 -1,5M2186,1297l-6,0 -6,-1M2184,1313l0,-8 4,-6M2184,1313l-7,-2 -5,-3M2186,1297l2,2M2184,1313l3,3 2,4M2189,1320l-1,2M2224,1278l-5,1 -4,0M2216,1257l-3,6 -5,5 -4,2M2215,1279l-7,-2 -4,-7M2189,1264l5,3 5,4M2199,1271l5,-1M2188,1286l4,-2 5,0M2188,1299l6,1 6,1M2200,1301l0,-7 0,-4 -3,-6M2215,1279l-2,5 -3,3M2199,1271l1,7 -3,6M2210,1287l-7,-1 -6,-2M2244,1286l3,5M2247,1291l4,0 5,0M2228,1285l-3,7M2225,1292l2,5 5,5 2,7M2234,1309l5,0M2247,1291l-1,8 -5,3 -2,7M1993,828l4,-2M1997,826l0,-7 0,-7M1996,810l1,2M2004,831l-4,-3 -3,-2M1975,837l-1,-6 2,-6 1,-4M2014,816l-4,-4 -8,-1 -5,1M1960,818l8,-2 8,1M2016,799l-4,-3 -4,-1M2016,799l6,4 1,8M2040,779l-4,-3 -4,-3M2040,779l-3,6 -2,6M2032,773l-6,2 -5,5M2021,780l1,5 3,4M2035,791l-4,-2 -6,0M2031,765l1,8M2046,778l-6,1M2038,799l-3,-8M2016,779l5,1M2016,799l6,-4 3,-6M2254,1006l-7,0 -5,5 -5,-1M2254,1006l4,4 2,6M2260,1016l-3,6M2257,1022l-7,-2 -6,-3 -5,1M2226,1013l5,1 4,-1M2304,1116l0,6 2,6M2291,1128l6,2M2297,1130l4,-2 5,0M2323,1145l-6,-2 -5,-4M2314,1130l-2,1M2312,1139l1,-4 -1,-4M2312,1131l-6,-3M2244,1072l1,-7 10,-5 3,-8M2269,1078l3,-6 -3,-7 0,-8M2269,1057l-6,-2 -5,-3M2258,1052l-4,-4 -2,-5M2257,1022l-1,6 2,6M2305,1095l4,-5M2309,1090l5,0 5,-2M2331,1079l-4,-3 -2,-4M2325,1072l3,-7 5,-6M2333,1059l2,6 1,5 5,4M2326,963l-1,5 -3,4M2341,971l-3,7 -2,7M2336,985l-5,-4 -5,-4 -4,-5M2300,966l6,5M2306,971l6,1 7,2M2322,972l-3,2M2231,976l5,-1 5,-1M2241,974l3,7 7,3M2238,995l4,-4 4,-3 5,-3M2243,962l-3,6 1,6M2219,992l3,-3 4,-1M2262,974l-5,6 -6,4M2259,995l-6,-4 -2,-6M2259,995l-4,5 -1,6M2259,995l5,3 5,-1M2277,986l-3,6 -5,5M2136,939l2,8 6,2 1,7M2153,955l-4,2 -4,-1M2153,955l6,-3 2,-7M2147,919l-8,-2M2141,960l4,-4M2167,974l-7,-4 -5,-9 -2,-6M2179,969l-2,-6 -4,-9 1,-7M2324,845l-5,-3 -5,-4M2302,848l7,-4 5,-6M2323,825l-4,5 -6,3M2313,833l1,5M1766,735l1,-7 0,-7M1766,735l3,4 5,1M1774,740l6,-5M1780,735l-1,-7 -2,-8M1777,720l-5,1 -5,0M1761,738l5,-3M1762,717l5,4M1776,749l0,-5 -2,-4M1789,736l-5,0 -4,-1M1784,716l-3,3 -4,1M1595,1290l-6,1 -5,2M1595,1290l5,-6 2,-4 4,-7M1606,1273l-3,-7 -4,-3 -3,-7M1596,1256l-9,0 -5,1 -8,-4M1616,1311l-9,-6 -3,-11 -9,-4M1628,1270l-7,0 -6,3 -9,0M1550,1280l5,-4 7,-2M1607,1238l-4,7 -6,6 -1,5M1322,1009l-4,-4 0,-4M1322,1009l7,4 3,4 6,3M1338,1020l8,-1 7,-4M1353,1015l2,-6 2,-6M1312,967l2,8 8,3 3,6M1353,969l-4,8 -7,3M1307,1045l9,-13 0,-8 6,-15M1339,1042l-2,-6 1,-10 0,-6M1374,1036l-8,-3 -6,-7 -7,-11M1595,989l2,-14 -6,-7 1,-11M1592,957l-10,3 -13,-6 -7,-2M1562,952l-6,4M1553,964l1,-4 2,-4M1574,1014l4,-4 1,-6 1,-5M1604,945l-4,6 -5,3 -3,3M1572,918l0,13 -11,8 1,13M1532,931l6,6 6,12 12,7M1509,948l7,-8 12,-2 4,-7M1509,948l1,9 1,5 3,10M1502,911l-4,10 3,9 -2,11M1502,911l-6,-3M1496,908l-9,5 -9,0 -8,8M1482,942l4,1 8,-3 5,1M1519,906l-5,-1 -6,5 -6,1M1509,948l-4,-4 -6,-3M1486,888l4,8 4,6 2,6M1447,940l8,-8 5,-1 10,-4M1351,637l-5,-5 -1,-8M1345,624l-6,1 -7,2 -6,-1M1335,644l-6,-4 -5,-3M1326,626l1,6 -3,5M1353,652l-2,-7 -1,-7M1317,656l0,-6 3,-8 4,-5M1321,613l-6,-2 -6,-3M1321,613l1,7 4,6M1311,637l6,1 7,-1M1364,606l-2,3M1362,609l-7,-1 -6,3M1364,591l-9,0 -7,-2 -10,-2M1349,611l-5,-4 -5,-4M1339,603l2,-8 -3,-8M1365,616l-3,-7M1345,624l0,-7 4,-6M1336,583l2,4M1321,613l6,-1 6,-7 6,-2M2215,1296l4,5 1,10 0,6M2215,1296l-4,-1M2211,1295l-6,1 -5,5M2219,1317l-5,-1 -6,-6 -7,-1M2201,1309l1,-4 -2,-4M2225,1292l-4,4 -6,0M2234,1309l-6,5 -7,3M2210,1287l1,8M2189,1320l6,-3 1,-4 5,-4M2306,1147l-5,6 -3,8M2306,1147l-4,-4 -6,-1M2296,1142l-7,4M2319,1159l-4,-2 -3,-7 -6,-3M2312,1139l-1,5 -5,3M2297,1130l-2,6 1,6M2278,1159l6,-2 5,-3M2269,1078l7,-4 8,1M2291,1087l-5,-5 -2,-7M2288,1061l5,-3 4,-2M2288,1061l-6,-5 -8,-1M2281,1041l-4,7 -3,7M2281,1041l5,2 6,0M2292,1043l3,3 4,2M2299,1048l-2,8M2269,1057l5,-2M2284,1075l5,-6M2289,1069l-1,-8M2277,1029l3,6 1,6M2313,1061l-8,1M2313,1061l1,6 4,6M2305,1062l-3,6 -1,7M2317,1074l-7,0 -5,3M2305,1077l-3,-1M2289,1069l6,4 6,2M2297,1056l3,4 5,2M2325,1072l-7,1M2309,1090l-1,-7 -3,-6M2291,1087l4,-7 7,-4M2290,1018l-2,-5 1,-5M2279,1025l-3,-6 -5,-5M2289,1008l-4,-2 -2,-3M2271,1014l2,-5 1,-6M2274,1003l4,0 5,0M2260,1016l5,-2 6,0M2295,1031l-2,6 -1,6M2295,1031l-5,-3 -5,-5M2269,997l5,6M2289,991l-1,7 -5,5M2371,1040l4,-5 1,-8 -1,-6M2366,1064l-3,-4 -3,-3M2350,1070l0,-5 -1,-4M2349,1061l5,-3 6,-1M2202,889l-8,-2 -7,4M2200,900l-7,4 -7,-2M2186,902l-1,-3M2187,891l-2,8M2139,899l-3,0M2139,899l4,4 4,2 6,4M2191,926l4,0 4,-1M2191,926l-4,7 -2,8M2200,926l-1,6 0,5 -1,7M2197,945l1,-1M2209,926l-4,1 -5,-1M2214,936l-7,3 -5,3 -4,2M2204,908l-2,4 -4,2M2198,914l2,5 -1,6M2156,934l5,-4 4,-5M2153,914l5,1 4,2M2165,925l-1,-4 -2,-4M2184,908l-6,2M2184,908l3,4M2187,912l-1,5 0,6M2178,910l-2,4 0,7 -3,5M2186,923l-6,3 -6,1M2186,902l-2,6M2198,914l-6,1 -5,-3M2191,926l-5,-3M2169,907l-2,6 -5,4M2169,907l4,3 5,0M2165,925l4,1 4,0M2179,941l-3,-7 -2,-7M2309,830l-6,3 -6,2M2309,830l-3,-5 0,-6M2306,819l-7,0 -2,4 -6,2M2297,835l-7,-5M2302,848l-3,-7 -2,-6M2313,833l-4,-3M2321,812l-5,3 -6,3 -4,1M2301,811l2,4 3,4M2295,1031l6,1 5,-2M2299,1048l6,-4M2305,1044l2,-7 -1,-7M2306,1030l3,-4M2388,1002l-5,-1M2375,1021l-1,-2M2374,1019l1,-7 2,-5 6,-6M2377,987l1,7 3,6M2383,1001l-2,-1M2289,1008l6,-1 4,-5M2299,1018l3,-5 2,-6M2299,1002l5,5M2295,989l4,2M2299,1002l1,-5 -1,-6M2306,971l-1,7 -2,4 0,7M2299,991l4,-2M2319,974l-1,6 -2,5 -1,6M2303,989l6,3 6,-1M2368,984l-3,4 -5,2M2352,984l-6,4 -8,0M2336,986l2,2M2185,899l-7,-5 -7,-1M2169,907l-3,-6M2171,893l-1,5 -4,3M2160,900l6,1M2139,899l5,-6 8,-1M2143,877l6,3 5,6M2171,893l0,-7M2151,863l4,2 5,1M2157,884l2,-5 0,-8 1,-5M2167,865l-7,1M2189,880l-5,6M2189,880l-4,-5 0,-6M2184,886l-6,1 -5,-4M2185,869l-6,1 -5,1M2200,882l-6,-2 -5,0M2187,891l-3,-5M2193,862l-3,5 -5,2M2349,1061l-5,-3M2344,1058l-5,0 -6,0M2313,1061l3,-3 3,-4M2333,1059l-7,-2 -7,-3M2305,1044l7,0 5,4M2319,1054l-2,-6M2349,1048l-4,-5 -4,-5M2349,1048l5,-2 6,2M2365,1041l-4,2 -1,5M2353,1029l-4,7 -8,2M2344,1058l4,-4 1,-6M2333,1058l3,-6 0,-5 0,-9M2336,1038l5,0M2360,1057l0,-5 0,-4M2317,1048l3,-6 4,-6M2311,1026l4,5 5,1 4,4M2336,1038l-5,-3M2331,1035l-7,1M2304,1007l4,0 4,0M2315,991l2,2M2312,1007l2,-7 3,-7M2312,1007l3,4 2,4M2336,986l-5,2 -6,5 -4,0M2317,993l4,0M2363,1015l4,-6 -1,-8M2363,1015l-2,1M2361,1016l-8,-3 -3,-8M2366,1001l-2,-4 -4,-3M2374,1019l-6,0 -5,-4M2381,1000l-8,0 -7,1M2353,1026l3,-6 5,-4M2338,989l4,4 6,1 4,5M2330,1007l-3,7M2330,1007l7,-3M2337,1004l3,3 5,0M2321,993l3,5 3,5 3,4M2338,989l-1,7 0,8M2331,1035l-1,-7 2,-7"/><path stroke-width="3.4" d="M149,1318l6,-3 7,-3M162,1312l4,-11 9,-3 3,-10M178,1288l-1,-6 -2,-5M1654,1412l1,4M1655,1416l15,1 11,5 12,7M1700,1425l-7,4M665,1301l-13,5 -9,-4 -16,-2M179,1219l-1,6 -2,4 -1,7M179,1219l-6,-6 -6,-7 -3,-7M175,1236l-7,2 -9,-1 -6,3M153,1240l-2,-4 -2,-4M1693,1429l-7,8 -4,7 -3,10M1679,1454l-8,2M917,1281l6,6 1,5 3,6M927,1298l-6,10 -13,7 -12,12M892,1325l4,2M920,1260l-1,6 0,9 -2,6M927,1298l6,2 7,1M1076,1354l6,-7 12,-3 5,-9M1099,1335l5,1M1122,1371l-11,-12 0,-13 -7,-10M950,1187l-7,7 -6,7 -7,9M930,1210l-1,6 3,6 2,7M626,1300l0,-17 -10,-12 -1,-12M611,1258l4,1M1951,1366l-7,8 1,8 -6,6M2153,1106l7,-1 7,0M2378,437l1,-7 5,-4 -1,-7M2055,366l2,5 5,5 4,4M73,1059l-6,2 -7,0 -7,5M74,1060l4,6 -1,5 4,6M208,1091l-8,0 -7,5 -7,2M208,1091l2,1M186,1098l1,8 5,8 2,5M175,1236l6,7 5,5 5,2M175,1277l6,-9 6,-4 5,-5M191,1250l2,5 -1,4M194,1119l-3,5 -6,2M185,1126l-6,0 -5,-4M1668,1582l4,-5 7,1 6,-4M1685,1574l0,-1M1685,1573l0,-10 3,-8 -3,-7M1685,1548l-2,-6 -5,-1 -2,-6M1750,1163l5,-6 5,-4 5,-4M1765,1149l8,2 7,0 8,4M1076,1354l-7,1 -4,-3 -6,0M1201,1307l9,0 6,6 10,-1M1201,1307l1,-12 0,-11 1,-15M1230,1311l-4,1M1203,1269l5,-2 3,-5 5,-2M1145,1151l7,8 13,4 13,10M1179,1178l-1,-5M1179,1178l-6,5 -3,8 -7,7M1205,1224l4,10 3,13 4,13M1205,1224l-9,4 -13,-3 -13,0M1610,1390l4,8 7,5 9,6M1610,1390l-8,2 -6,0 -5,4M390,1364l2,2M390,1364l8,-10 4,-16 -2,-15M462,1093l-1,4M461,1097l2,8 0,8 5,10M943,1304l11,-2 10,9 14,0M980,1314l-2,-3M940,1301l3,3M919,1259l-2,-5 2,-8 3,-5M920,1260l-1,-1M934,1229l-5,2 -4,7 -3,3M1800,1322l0,-7 -7,-6 -1,-6M1953,1130l-5,-3 -6,-1 -4,-3M1951,1366l5,0M1939,1388l1,5M1958,1343l1,8 5,5M1956,1366l3,-5 5,-5M1844,904l3,7 4,9 1,12M1819,914l11,6 4,10 7,8M1852,932l-4,5 -7,1M1873,971l5,4M1938,1123l-2,-6 -2,-3 -6,-5M1930,1042l2,15 3,12 7,18M1942,1087l-5,5 -6,3M1932,1039l-2,3M1974,1125l-7,4 -8,0 -6,1M1928,1109l0,-3M1928,1106l2,-5 1,-6M1790,456l6,-5 1,-13 4,-7M2513,793l-5,-1 -9,4 -5,-2M2494,794l-1,5 -4,3M2489,802l-7,1 -8,5 -10,0M2464,808l-5,-6 -3,-7M2456,795l-6,2 -4,2 -7,3M2437,819l0,-5 2,-6 0,-6M2181,450l-3,-5 -4,-3 -1,-7M2163,482l4,0M2167,482l4,-7 1,-8 6,-7M2181,450l-3,4 -1,5M1872,434l-6,4 -7,3M1849,433l3,3 1,4M1859,441l-6,-1M1823,435l8,1 8,1 10,-4M1801,431l8,0 8,2 6,1M1956,473l-3,4 -2,5M1951,482l-5,-1 -7,2 -4,-2M1968,470l-6,4 -6,-1M1917,569l3,-2M1915,544l2,7 4,5 4,4M1920,567l2,-4 3,-3M1915,541l0,3M2070,503l-6,-4 -4,-6M2070,503l6,-5 6,-3M2060,493l-1,-5 1,-5M2060,483l4,-3 3,-3M2152,494l6,-4 2,-3 3,-5M2152,494l-5,0 -5,-4 -6,-2M1884,442l-5,-6 -7,-2M1904,458l-2,-8 -2,-7 -2,-6M1884,442l6,-5 8,0M149,1232l-9,0 -11,-4 -6,-4M115,1229l4,-3 4,-2M262,1266l-10,3 -6,12 -15,5M218,1270l4,3 0,7 3,5M225,1285l6,1M268,1270l-6,-4M192,1259l8,1 12,5 6,5M1654,1412l-4,-4 -5,-1M1645,1407l-8,-1 -7,3M1671,1456l-5,8 1,6 -3,9M1700,1425l7,5 3,8 9,3M1750,1163l-8,-2 -11,1 -7,2M1752,1208l-8,-11 -14,-11 -7,-21M1638,1195l-5,-8 2,-10 -3,-7M1632,1170l13,3 16,-6 10,-2M1721,1166l-16,-4 -11,2 -16,-9M1671,1165l2,-6 5,-4M1752,1208l-2,4M1750,1212l3,8 1,6 4,8M1758,1234l6,2 4,6M1251,1320l7,-5 10,-9 12,-2M1251,1320l-7,0 -8,-7 -6,-2M1251,1320l-2,8 7,10 1,6M1257,1344l10,-6 7,0 13,-3M1280,1304l5,3 5,1M1163,1198l2,10 6,7 -1,10M1721,1166l2,-1M1678,1155l-2,-4 -1,-5M1675,1146l5,-10 -3,-9 2,-10M951,1187l4,-5 4,-4 3,-5M996,1152l-10,2 -13,5 -9,7M1030,1133l-2,6 1,5M1029,1144l-11,5 -3,7 -10,2M1005,1158l-5,-2 -4,-4M962,1173l2,-7M1145,1151l1,-7 4,-6M1150,1138l-11,-6 -8,-8 -3,-10M1118,1068l6,-4 5,-5 3,-4M1048,1332l-10,1 -12,8 -9,-2M1008,1320l5,5 4,8 0,6M1059,1352l-4,-5 -6,-8 -1,-7M980,1314l7,3 11,1 10,2M1157,1359l-14,7 -7,1 -14,4M1226,1312l-2,11 3,10 -1,12M1200,1348l10,0 7,0 9,-3M1287,1335l5,9 9,6 4,14M1296,1306l-6,2M1338,1423l-2,-6 -1,-6M1335,1411l-12,0 -15,-6 -10,-3M1307,821l-4,-10 -1,-10 0,-8M1302,793l-8,-1M1397,778l6,-4 3,-6M1419,771l-6,-1 -7,-2M1577,1387l-8,2M1577,1387l4,-7 2,-10 1,-7M1558,1346l11,2 4,12 11,3M1577,1387l4,6 6,0 4,3M1568,1429l-1,-9 -6,-2 -1,-9M1560,1409l4,-5 1,-10 4,-5M462,1093l-7,-11 -13,-1 -7,-13M435,1068l5,-11 4,-12 8,-6M611,1258l-11,-9 -2,-15 -10,-8M607,1210l-8,4 -7,6 -4,6M560,1251l4,-11 13,-5 6,-10M588,1226l-5,-1M560,1251l-6,-5 -5,-4 -4,-5M520,1238l6,-3 12,4 7,-2M455,1279l-8,1 -9,2 -11,-3M427,1279l-4,4M466,1258l5,-1 5,-3M466,1258l-1,8 -7,6 -3,7M1059,1110l4,-7 11,-8 8,-5M1059,1110l3,7 -2,7M1082,1090l3,6 7,1M1119,1091l6,5 5,6M1119,1091l-8,1 -11,0 -8,5M1128,1114l3,-6 -1,-6M1030,1133l8,-3 16,-1 6,-5M1118,1068l0,8 0,8 1,7M950,1187l-9,-2 -4,-9 -11,-3M926,1173l4,-7 0,-8 0,-8M745,1316l-1,-11 -11,-11 -4,-11M740,1277l-5,4 -6,2M468,1123l-5,3 -3,5M456,1156l-2,-8 5,-7 1,-10M456,1156l4,4 3,4M1783,1277l-8,-6 -5,-4 -6,-9M1764,1258l2,-4 2,-6 0,-6M1783,1277l-1,5M1792,1303l-1,-1M1782,1282l5,4 4,9 0,7M1857,1302l2,-7 6,-2 1,-6M1866,1287l5,3 6,1M1882,1284l-2,4 -3,3M1844,1302l-1,2M1844,1302l7,3 6,-3M1797,1330l2,-4 1,-4M1901,1276l-4,-4M1882,1284l2,-5 -2,-6M1897,1272l-7,1 -8,0M1897,1257l0,8 0,7M1899,1184l-3,4 -7,3 -5,2M1899,1184l-1,-7 4,-6M1891,1167l4,1 5,0M1902,1171l-2,-3M1883,1148l5,7 1,4 2,8M1901,1276l6,2 5,-1M1914,1283l-2,-6M1897,1212l-4,-4 -5,-1M1886,1199l2,8M1884,1193l0,2M1884,1195l2,4M1897,1225l-1,-6 1,-7M1843,1304l0,6 -3,5M1827,1322l8,-1 5,-6M2002,1313l-2,-6 0,-6M2000,1301l-8,-1 -7,2M1982,1306l3,-4M1965,1331l3,-5 1,-6M1958,1343l3,-5 1,-6M1965,1331l-3,1M2003,1314l7,3 7,-1M2143,1126l6,7 3,2 7,3M2143,1126l-3,8 -4,8 -6,10M2159,1138l-2,7 -1,8M1870,932l5,5 5,4M1881,949l-1,-4 0,-4M1873,971l5,-8 1,-6 2,-8M1852,932l8,0 4,-1 6,1M1844,904l-2,-5 -3,-7 -1,-6M1856,877l-4,4 -7,-1 -6,4M1838,886l1,-2M1855,872l1,5M1855,872l2,-3 2,-6 3,-5M2033,922l-8,-2 -5,-4 -6,-2M2035,896l-6,0 -6,2M2023,898l-1,6 -5,5 -3,5M1967,984l10,-1 9,-5 8,2M1997,966l-3,7 0,7M1939,1017l-6,5M1939,1017l-6,-15 7,-12 -4,-12M1936,978l-3,-1M1933,977l-6,-3 -6,5 -9,-1M1912,978l-1,1M1878,975l9,0 10,1 14,3M1932,1039l0,-5 2,-5 -1,-7M1964,1012l-10,2 -7,1 -8,2M1967,984l-2,10 -3,7 2,11M1883,1122l5,-2M1888,1120l2,-5 2,-6 2,-7M1872,1144l-4,2M1872,1144l3,-7 7,-7 1,-8M1868,1146l-2,-7 -7,-5 -4,-4M1872,1144l6,1 5,3M1928,1106l-13,0 -7,-3 -14,-1M1855,1130l-8,0 -6,2 -6,0M2429,623l-3,7 -6,5M2402,632l4,2 7,-2 7,3M2402,632l-6,3 -4,5 -5,7M2306,751l-2,-4 0,-7 -2,-5M2302,735l5,-3 6,-4 5,-2M2318,726l6,6 1,6 5,4M2335,687l-8,-8 -12,1 -5,-6M2296,515l-7,3 -5,5 -5,4M2279,527l6,5 1,9M2255,556l-8,0 -6,-5M2255,556l6,-1M2296,515l-1,-5 1,-4M2378,437l-4,3 -4,3M2363,442l-5,7 -6,5 -5,4M2370,443l-7,-1M2127,762l-1,-5 2,-4M2302,735l-6,-3M2306,751l-1,2M2293,766l3,-5 4,-3 5,-5M2241,551l-6,2 -5,3M1862,858l-2,-7 -4,-4M1856,847l0,-2M2107,651l-3,2M2104,653l-6,0 -4,-3M2094,650l-5,-3 -1,-4 -4,-5M2064,626l7,-4 -1,-6 6,-5M2064,626l6,4 4,7 6,1M2080,638l4,0M1818,630l0,7M1803,663l7,1 8,-2M1812,686l5,-7 4,-5 6,-4M1818,662l6,2M1824,664l3,6M1795,656l5,2 3,5M1811,645l3,5 1,7 3,5M1818,637l-3,5 -4,3M2205,538l4,3 6,1 5,2M2205,538l-2,-7 0,-7M2197,518l2,4 4,2M2230,556l-5,-2 -4,-5M2221,549l-1,-5M2167,482l4,8 7,3M2196,518l-7,2 -4,3 -8,5M2166,511l1,6 1,7M2178,493l-6,6 -5,5 -1,7M2177,528l-4,-2 -5,-2M1899,432l4,-6 5,-5 1,-8M1909,413l-1,-5M1899,435l0,-3M1899,435l-1,2M1916,400l1,-4M1916,400l-4,3 -4,5M1790,456l1,6M1904,458l1,1M1935,481l-2,5 -5,2M2051,554l4,-3M2034,555l3,-2M2048,536l4,2M2051,554l-7,-1 -7,0M2052,538l-1,7 4,6M2033,570l-7,1M2033,570l1,-7 0,-8M2026,571l-5,-5 -8,-2M2035,572l-2,-2M2070,504l-3,3M2136,488l-4,5 -5,3M2067,477l1,-6M2068,471l-5,-3 -5,-3 -3,-3M2055,462l-1,-6 0,-6M1914,576l3,-7M1870,600l3,1M1873,601l7,-2 8,0M1915,541l-3,-3 -3,-4M164,1199l0,-3M174,1122l-5,5M169,1127l-7,0 -6,0M156,1127l0,-4 -1,-4M61,1132l4,-5M62,1116l0,6 3,5M61,1132l2,4M63,1136l6,5 6,1M355,1037l6,14 10,7 5,10M185,1126l-2,10 1,8 4,8M183,1156l5,-4M1568,1429l-1,2M1676,1535l3,-7 3,-7 3,-5M1664,1479l9,7 8,0 9,6M1690,1492l-2,5 -3,7 -3,4M1682,1508l2,4 1,4M1626,1209l2,-5 7,-3 3,-6M1298,1402l2,-7 0,-9 -4,-10M1305,1364l-4,6 -5,6M1704,956l-3,7 -4,5M1738,931l-11,-5 -12,-1 -10,-2M1705,923l-2,2M1704,956l1,-13 -4,-8 2,-10M801,1034l-9,-5 -6,-5 -9,-6M823,1035l-9,1 -6,0 -7,-2M742,1023l-2,7 3,10 -2,5M725,1060l-1,3M725,1060l7,-6 4,-5 5,-4M724,1063l11,10 15,11 7,9M1191,815l0,-4 1,-5M1192,806l11,-5 9,-5 10,-5M1181,783l-7,-3 -6,-3M1181,783l5,6 1,9 5,8M1191,815l-3,4 -4,3M1160,825l6,0 9,-2 9,-1M1168,761l-4,-6 -2,-3 -3,-6M1159,746l4,-10 4,-8 6,-6M1168,777l0,-8 0,-8M1170,716l3,6M1819,914l-2,-1M1817,913l-3,8 -11,8 -4,8M1799,937l-6,1 -4,0 -7,0M1532,521l3,9 -7,7 3,9M1531,546l7,2 8,7 7,4M1597,789l0,-5 -2,-5M1605,769l-2,0M1595,779l5,-4 3,-6M1200,1348l-1,6 -1,11 3,7M1157,1359l4,7 7,6 4,9M1201,1372l-2,5 -5,3M1194,1380l-7,-2 -9,2 -6,1M1172,1381l-2,6 -5,7 0,5M1165,1399l5,15 11,7 6,11M1187,1432l-11,6 -9,4 -6,8M1147,1508l7,-9 3,-10 10,-8M1167,1481l-3,-8 -5,-4 -1,-8M1158,1461l2,-5 1,-6M1222,791l1,-3M1312,759l-3,-7 -6,-9 -7,-4M1312,759l-1,5M1270,794l-6,-4 -5,0 -7,-2M1294,792l-6,-2 -4,-6M1284,784l-3,4 -7,4 -4,2M1223,788l4,-1 3,-2M1230,785l8,1 7,2 6,0M1311,764l2,4 2,4M1302,793l4,-2 4,-1M1310,790l3,-7 0,-5 2,-6M1307,821l7,1 7,0M1315,772l5,0 6,3 7,-1M400,1323l-3,-6M370,1315l10,-1 9,2 8,1M423,1283l-6,-1 -7,7 -6,0M397,1317l-2,-9 9,-7 0,-12M330,1274l10,6 8,-1 7,3M330,1274l-6,11 -11,9 -8,4M355,1298l-1,-6 0,-4 1,-6M289,1269l6,-6 6,-7 3,-5M289,1269l4,11 9,10 3,8M370,1315l-6,-3 -4,-10 -5,-4M268,1270l8,-1 6,3 7,-3M607,1210l-1,-5 0,-5M621,1180l-5,8 -2,5 -8,7M747,1215l4,-2 5,-2M747,1215l-4,5 1,7 -4,7M740,1234l7,4 3,7 5,1M740,1277l8,-11 6,-9 1,-11M740,1189l1,-5 0,-5M755,1201l2,5 -1,5M755,1201l-5,-6 -6,-2 -4,-4M903,1115l5,3 4,3M930,1150l-5,-6 -9,-1M912,1121l4,8 -2,6 2,8M1797,1330l2,7 12,3 4,6M1791,1371l8,-5 7,-13 9,-7M1827,1322l-5,9 5,7 -4,8M1815,1346l8,0M1933,1404l2,4 1,5M1936,1413l-6,3 -4,7 -7,5M1940,1393l-2,6 -5,5M1928,1456l-6,-5M1922,1451l-3,-9 3,-7 -3,-7M1990,1211l-1,-4M1990,1211l-1,4 -3,3M1986,1218l0,5M1835,1132l-3,4M1832,1136l-7,4 -8,1M1789,1154l10,1 6,-8 9,1M1814,1148l3,-7M1889,1240l-1,3M1896,1257l-1,-6 -4,-2 -3,-6M1899,1236l-4,3 -6,1M1900,1228l-1,8M1900,1228l-3,-3M2055,1323l0,5M2069,1338l-6,-3 -4,-2 -4,-5M2034,1318l5,-1 5,0M2044,1317l5,4 6,2M1982,1306l-8,-1 -7,3M1969,1320l0,-6 -2,-6M2059,1313l-1,5 -2,4M2153,1106l-4,3 -4,2M2167,1105l4,3 4,2M2159,1138l7,-2 8,-1M2174,1135l2,-4 2,-4M2175,1110l0,6 4,6 -1,5M2156,1153l7,2 5,6M2168,1161l-1,5 0,5M2035,896l4,-6M2023,898l0,-5 -7,-3 -1,-6M2039,890l-1,-7 -1,-6M2004,882l1,1M2015,884l-5,-2 -5,1M1929,783l0,-6 -1,-6M1924,766l4,5M1856,845l4,-2M1860,843l7,3 4,1 6,-1M1883,843l-6,3M1895,820l1,4 0,5M1895,820l5,-3 5,-3M1905,814l5,3M1883,834l1,5 -1,4M1883,834l8,0 5,-5M2033,922l2,7 5,6M2040,935l-7,6 -6,6 -10,4M1997,966l7,-4 4,-4 8,-1M2017,951l-1,6M1910,817l4,-1 5,-1M1919,815l0,-6 5,-4M1929,783l4,4 7,1M2145,1111l-6,-3 -4,-10 -8,-5M2127,1082l1,6 -1,5M2127,1082l-5,-2 -7,-8 -6,-2M2111,1057l0,7 -2,6M2043,1229l-3,-2M2055,1254l2,-9 2,-5 4,-7M2058,1228l5,5M2058,1228l-8,-1 -7,2M2040,1227l4,-7 1,-7 0,-8M2080,1176l-5,-3M2075,1173l-7,3 -4,6 -4,3M2045,1205l-3,-5M2060,1185l-3,0M1989,1207l1,-6 4,-4M1994,1197l-1,-4 -2,-4M1975,1160l4,3 2,4M1974,1125l4,5M1978,1130l1,7 -2,12 -2,11M2335,687l4,-1M2365,665l8,-2 7,-8 8,-3M2347,656l6,2 6,7 6,0M2387,647l1,5M2347,656l-4,4M2339,686l5,-8 -3,-10 2,-8M2330,742l6,2 5,-2M2293,766l1,5M2308,649l3,5 3,6M2314,660l-4,5 0,7M2265,579l4,3 5,2M2265,579l3,-7 -3,-8 1,-7M2266,557l3,0M2275,604l-3,-7 2,-5 0,-8M2261,555l5,2M2286,541l-7,3 -6,5 -4,8M2343,497l-3,6 -7,3M2343,497l0,-8 5,-4 -1,-6M2327,506l6,0M2327,506l-5,-6 -6,-2 -5,-4M2347,458l2,7 -5,8 2,5M2296,506l4,-7 7,2 4,-7M2161,840l4,-1M2161,840l-5,-2 -6,-4 -4,-6M2171,828l-3,6 -3,5M2146,828l2,-6 1,-7M2171,828l6,1 5,-2M2191,816l-2,4 -3,4M2186,824l-4,3M2153,731l-4,4 -4,2M2134,733l5,4 6,0M2134,733l-6,3 -1,5 -5,3M2122,744l4,4 2,5M2156,719l4,-2M2156,719l-2,6 -1,6M2207,793l3,5 1,6M2211,804l-4,2 -5,1M2210,785l-1,4 -2,4M2191,816l5,-1M2196,815l3,-4 3,-4M2076,611l-1,-5 -4,-4M2071,602l0,-6M1961,686l0,-5 -2,-4M1824,697l1,8 1,8M1812,690l0,-4M1812,690l7,2 5,5M1841,609l-5,1 -5,-1M1831,609l-5,-6M1850,621l-3,-7 -6,-5M1850,621l7,0M1857,621l0,-7 -1,-3 2,-7M1858,604l7,0 5,-4M1795,656l-4,-2 -4,1M1787,655l-3,7 -5,6M1889,599l7,-1 6,-3M1913,599l-6,-1 -5,-3M1905,459l2,6 0,7 -1,5M1917,478l-5,1 -6,-2M1928,488l-3,1M1917,478l5,5 3,6M1909,534l-1,-5 3,-7 1,-4M1912,518l6,-5M1925,489l-6,4 -4,6M1918,513l-1,-7 -2,-7M2066,380l2,6 -2,7M2012,564l-5,6 2,7 -3,5M1996,584l5,-2 5,0M1973,592l4,0 4,3M1981,595l4,-4 7,0M1992,591l0,-5 4,-2M1970,471l2,7 -2,7 3,4M1973,489l5,1 5,0M2016,486l-7,2 -6,3M2003,491l-2,5M1988,500l7,-3 6,-1M1988,500l-1,-6 -4,-4M1968,470l2,1M2047,511l-2,7M2047,511l-2,-6 -4,-6M2044,520l1,-2M2041,499l-3,-2M2038,497l-6,3 -6,0M2067,507l-7,-2 -5,6 -8,0M2048,536l-4,-6 1,-5 -1,-5M2016,486l4,3 3,6 3,5M2099,500l7,-5 6,-4 7,1M2082,495l8,0 7,4M2127,496l-3,-3 -5,-1M2057,449l5,-4 1,-7 4,-5M2054,450l3,-1M2064,426l3,7M1941,357l-5,5 -6,1 -5,2M1924,369l3,7 4,5M1924,369l1,-4M1935,334l-1,9 4,8 3,6M1917,396l6,-3 3,-5 5,-7M115,1229l-4,-2M155,1119l-6,-2 -4,-4M146,1111l-1,2M146,1111l-1,-4 -3,-4M86,1182l-7,-1 -7,1M72,1182l0,-7 -2,-7M62,1116l4,-5M100,1089l5,3 4,3M121,1086l-6,3 -6,6M81,1077l0,4M81,1081l6,3 8,2 5,3M376,1068l-3,7 -6,1 -4,8M363,1084l-12,-1 -6,0 -10,-5M463,1164l-3,5 -1,7 1,5M299,1241l2,-8 6,-9 5,-7M296,1209l6,2 3,3 6,3M294,1186l1,6 0,11 1,6M304,1251l-2,-5 -3,-5M186,1184l2,-11 -4,-7 -1,-10M164,1196l7,-5 8,-1 7,-6M1541,1440l10,-2 6,0 10,-7M1594,1188l11,5 6,10 15,6M1594,1188l-5,7 -5,10 -1,12M1527,1428l-7,-1M1541,1440l-6,-5 -3,-2 -5,-5M1500,1455l7,-6 4,-16 9,-6M1502,1463l0,-4 -2,-4M1296,1306l7,-10 8,-8 4,-9M1339,1286l4,-4 7,-2 4,-2M1315,1279l8,4 6,2 10,1M1213,1012l13,-6 2,-9 10,-6M1213,1012l-5,-1M1208,1011l-3,-3M1692,969l5,-1M1692,969l-6,8 -5,8 -7,4M1677,1015l-1,-6 -3,-3M1673,1006l-2,-7 4,-4 -1,-6M1738,931l5,-6M1782,938l-4,-4 -3,-6M1743,925l11,0 13,4 8,-1M1732,764l-4,-3 -2,-3M1726,758l-5,-1 -5,-1M1710,764l4,-3 2,-5M1725,739l-7,3 -5,5M1716,756l-2,-4 -1,-5M1726,735l-9,-1 -5,-8 -6,0M1726,735l-1,4M1576,609l-7,-3 -2,-9 -6,-2M1563,585l1,5 -3,5M1576,609l1,6M1577,615l-2,3M1570,622l5,-4M1531,546l-6,4M1501,545l7,4 7,2 10,-1M1596,790l1,7 4,6 6,5M1596,790l1,-1M1607,808l5,-1M1596,790l-5,5 -6,0M1585,795l-5,-3 -5,-6 -3,-7M1605,769l1,-6 6,-5 0,-6M1624,739l-3,-3 -1,-5M1624,739l-3,4 -4,4 -4,5M1633,719l-6,4 -3,4 -4,4M1338,1423l7,4 2,3 7,4M1458,591l3,-5 4,-3 2,-5M1349,543l7,2 4,5M1436,735l4,7 -1,7M1436,735l-5,-2 -3,-4M1438,750l-7,-2 -7,-1 -7,3M1422,768l-2,-6 -1,-8 -2,-4M1419,771l2,-1M1296,739l3,-5 3,-3 3,-6M1391,778l6,0M1391,778l-2,-4 -3,-4M1362,775l-5,-3 -4,-3 -3,-6M1350,763l-6,2 -6,0M1334,774l1,-5 3,-4M1386,770l-10,2 -8,-1 -6,4M460,1181l1,4M476,1254l2,-8 6,-9 -2,-11M520,1238l-4,-5 -3,-5M513,1228l-10,-4 -6,-2 -11,1M482,1226l4,-3M294,1186l2,-4 4,-3M300,1179l0,-8 -2,-7M744,1154l2,6 1,5 0,8M741,1179l3,-3 3,-3M847,1091l-2,-8 -2,-9 -3,-6M829,1064l5,3 6,1M854,1095l-7,-4M871,1092l-7,1 -5,3 -5,-1M823,1035l0,11 3,10 3,8M879,1117l7,3 8,0M903,1115l-4,3 -5,2M871,1092l3,8 0,11 5,6M461,1185l11,2 7,4 7,5M486,1223l1,-9 -2,-8 3,-9M486,1196l2,1M1719,1441l6,-6 9,-3 11,-4M1745,1428l-1,-6 -1,-9 1,-6M1792,1373l-5,5 -1,10 1,8M1787,1396l-4,3 -3,3M1780,1402l-9,-3 -10,-2 -9,2M1744,1407l4,-3 4,-5M1973,1289l4,-7 0,-8M1967,1308l-1,-7 1,-6 3,-5M1970,1290l3,-1M1985,1253l0,-5M1986,1223l6,3 3,6M1985,1248l4,-2 3,-8 3,-6M2059,1313l0,-6 -5,-4M2065,1295l-5,2 -5,3M2054,1303l1,-3M2069,1338l1,2M2130,1152l-4,1M2126,1153l-2,5 -5,4 -1,6M2071,1274l-6,2 -5,3M2065,1295l-1,-5 -1,-5 -3,-6M2152,1265l-1,-4 -6,-3 -3,-5M2142,1253l-3,4 -5,4M2229,1072l1,9 -1,5 0,9M2229,1095l-1,2M2228,1097l-4,4 -6,-2 -5,4M2175,1110l6,-3M2181,1107l8,5 8,1 5,0M2213,1103l-2,4M2202,1113l4,-3 5,-3M2284,1249l4,-1 4,-1M2284,1249l-1,1M2070,955l-7,-2 -6,2M1934,755l-3,-6 -5,-3M1926,746l2,-6M1924,766l5,-5 5,-6M1935,723l-7,3M1925,733l3,-7M1925,733l1,4 2,3M2062,869l1,-6 4,-4M2062,869l-5,2 -6,-1M2067,859l-3,-3 -2,-4M2037,877l6,-5 8,-2M1981,1167l4,1 5,1M1991,1189l4,-5 0,-6M2007,1182l-7,0 -5,-4M1990,1169l4,3 1,6M2038,977l4,-2M2038,977l-1,6 -2,5 -4,8M2031,996l1,2M2032,998l10,6 10,1 5,6M2067,1006l-5,3 -5,2M2016,957l9,7 6,8 7,5M2057,955l-6,6 -5,8 -4,6M2078,968l-6,-5 -2,-8M2102,1044l-11,-3 -11,8 -8,0M2082,1018l-5,10 -4,6 -5,10M2068,1044l4,5M2111,1057l-3,-5 -4,-3 -2,-5M2067,1006l5,4 4,3 6,5M2030,1191l2,4 3,3M2042,1200l-7,-2M2063,846l4,-4 4,-3M2063,846l-1,6M2073,839l-2,0M2437,819l-5,2 -4,2M2414,809l2,4 0,5M2428,823l-6,-2 -6,-3M2404,937l-3,0M2230,1072l3,-9 -3,-10 1,-8M2239,1113l5,3 6,-2M2250,1114l5,6M2255,1120l-1,5M2228,1097l2,7 6,2 3,7M2078,968l8,3 6,-2 7,0M2095,945l2,7 2,9 0,8M2317,896l-2,-3M2300,891l5,0 5,-1M2310,890l5,3M2221,784l-5,2 -6,-1M2229,765l-5,1 -4,4M2220,770l3,7 -2,7M2342,759l6,0 6,2M2342,759l0,-7 1,-5 -2,-5M2294,771l4,4 4,3M2354,761l2,4 2,4M2167,602l-3,5 0,5M2183,584l-1,7M2182,591l-4,3 -6,5 -5,3M2196,577l2,-5 1,-6 1,-7M2200,559l4,0 4,0M2183,584l6,-4 7,-3M2221,549l-5,3 -2,4 -6,3M2276,605l-2,5 3,9 1,6M2281,627l-3,-2M2308,649l-9,0 -5,-2 -8,4M2281,627l1,7 4,8 0,9M2161,717l5,-1 6,-6 6,-2M2178,708l1,5 5,3 5,6M2135,638l2,-4 3,-3M2147,813l2,2M2081,823l-3,4 -3,6 -2,6M2081,823l-2,-6M2093,808l-5,2 -4,4 -5,2M2096,808l-3,0M2096,808l3,-5 1,-5M2107,651l7,5 6,-2 5,4M2135,638l0,6 1,5M2125,658l4,-6 7,-3M2186,824l5,3 5,3 4,3M2251,851l-4,1 -5,-2M2067,651l1,6 1,5M2067,651l6,-2 1,-8 6,-3M2054,672l7,-3 3,-3 5,-4M1932,604l3,-3 2,-4M1932,604l-5,-1 -7,0 -6,-4M1914,599l4,-6 3,-7M1933,615l0,-5 -1,-6M1948,594l-5,2 -6,1M1914,576l5,4 2,6M1946,618l3,4 2,5M1961,607l-7,-1M1948,594l4,5 2,7M1933,615l7,0 6,3M1944,635l4,-4 3,-4M1973,592l-5,4 -4,6 -3,5M2039,581l7,3 7,-2M2053,582l1,5 2,4M2035,572l1,5 3,4M2071,596l-8,-1 -7,-4M1910,718l-3,4M1891,720l8,2 8,0M1917,717l4,6 7,3M1917,717l-7,1M1877,732l7,-1M1884,731l5,-5 2,-6M2043,694l2,-7 1,-6 3,-6M2043,694l-8,1M2035,695l-4,-3M2053,672l-4,3M2035,721l-4,-2 -2,-4M2013,696l8,0 6,-1 4,-3M1943,703l5,-2 7,-3 6,-1M1994,693l-7,1 -6,5M1981,699l0,-7 -4,-6M1977,686l-3,-1M1961,697l0,-6 1,-4M1962,687l6,-2 6,0M2001,703l-5,-3 -2,-7M1950,658l7,3 5,6M1950,658l-1,-6M1944,635l4,5 -1,6 3,6M1959,677l1,-5 2,-5M1877,732l-5,-3 -5,-3M1815,605l-3,-7 -7,-4M1815,605l-5,5 0,7 -5,4M1818,630l-7,-5 -6,-4M1826,603l-5,1 -6,1M1805,594l-3,-6 2,-6M1791,462l-3,4M1779,668l-6,0M1773,668l-5,5 -3,7M1757,681l2,0M1759,681l6,-1M1827,732l1,-5 4,-3M1827,732l3,6 2,7M1832,745l7,1M1741,516l-2,-6 -3,-6M1756,494l-4,5 -11,-1 -5,6M1741,516l-4,6 -1,6 -6,6M2059,423l-4,-6 3,-9 -4,-7M2064,426l-5,-3M2066,393l-7,2 -5,6M63,1225l6,-2 5,-4M74,1219l6,1M111,1227l-3,-7 -5,-3 -6,-6M80,1220l5,-4 5,-5 7,0M74,1148l3,3 2,3M79,1154l-5,7 -5,6M75,1142l-1,6M70,1168l-1,-1M1922,1451l-11,-4 -7,3 -9,-2M1895,1448l-4,-6 -4,-6M1251,1002l-5,-4 -4,-3 -4,-4M1251,1002l7,-3 11,2 10,-7M1705,923l0,-7M1705,916l-5,-6 -6,-5 -6,-1M1457,849l-2,-6 -2,-9 -6,-7M1457,849l6,1 5,3M1455,816l-4,5 -4,6M1159,828l0,8M1159,836l-8,9 -5,7 -7,8M1160,825l-1,3M1654,828l-2,5 -3,5M1663,850l-4,-5 -4,-2 -6,-5M1763,860l6,-5 1,-10 4,-5M1771,838l3,2M1768,821l3,-4M1771,817l-4,-5 -3,-8 -5,-3M1771,838l-1,-7 0,-4 -2,-6M1759,799l0,2M1770,782l-3,6 -1,6M1759,799l7,-5M1779,905l-6,-5 -5,-3 -4,-5M1764,892l2,-7 0,-8 5,-6M1775,928l0,-6 1,-8 3,-9M1701,574l3,-2 3,-3M1703,554l5,-5 11,0 4,-4M1723,545l3,-6M1701,574l-6,-1M1707,569l-4,-7 0,-8M1730,534l0,2M1730,536l-4,3M1730,536l5,2 5,1M1740,539l7,-3 4,-3 8,-2M1759,531l6,1M1765,532l1,5 2,6 4,4M1635,718l-2,1M1706,726l0,-2M1593,612l5,4 3,7M1615,616l-3,3 -2,4M1610,623l-4,-1 -5,1M1577,615l5,-2 7,1 4,-2M1563,585l-4,-5 -5,-4 -3,-5M1467,578l6,-1 7,1M1501,545l-1,5 -3,4M1566,780l6,-1M1566,780l-2,-5 0,-6 -1,-8M1674,794l-3,2 -5,-1M1660,808l6,-5 0,-8M1674,794l1,-5 3,-3M1654,828l-6,-2 -1,-7 -5,-2M1612,807l5,2 4,2M1679,786l3,-7 6,-4M1688,775l6,2 6,-1M1578,811l-7,-4 -6,-7 -10,-5M1555,795l-6,3 -4,5M1545,803l1,5 -2,5M1585,795l-1,8 -2,4 -4,4M1419,1539l2,-7 9,-3 5,-8M1502,1463l-7,5 -5,5 -7,4M1483,1477l-7,1 -6,-3M1354,1434l5,0 5,-1M1364,1433l6,4 3,9 6,6M1379,1452l8,0 6,1 7,1M1408,651l9,-1 7,4M1424,654l0,5 -1,5M1423,664l6,5 4,5M1424,627l6,2M1430,629l5,-8 1,-3 6,-6M1459,604l0,-5 1,-4M1459,604l-6,4 -7,5M1458,591l2,4M1442,612l4,1M1492,704l-3,-5M1489,699l-5,2 -5,-2M1467,692l4,-1M1467,692l-3,4M1479,699l-3,-4 -5,-4M1311,677l3,5 1,6M1302,700l3,-6 3,-3 7,-3M1302,700l0,5 -2,6 -1,5M1305,725l0,-3M1305,722l-4,-2 -2,-4M1447,793l-6,0 -7,0 -8,4M1429,779l1,8 -4,5 0,5M1455,816l0,-7 -2,-10 -6,-6M1421,770l3,5 5,4M1321,822l3,4 1,7 3,5M1521,1250l-7,0 -7,-4M1502,1229l-4,-3 -5,-5 -7,-2M1545,1239l-8,6 -5,4 -11,1M1507,1246l-2,-4 -1,-9 -2,-4M298,1164l2,-4 3,-3M336,1146l-3,5M336,1146l1,-9 -3,-7 -3,-10M331,1120l-5,-4 -6,-3M333,1151l-8,5 -12,1 -10,0M618,1174l3,-6 2,-5 -1,-6M621,1180l-3,-6M1787,1396l7,5 6,2 7,3M1807,1406l1,5 3,6 2,4M1986,1264l0,-5 0,-6M1977,1274l6,-4 3,-6M2104,1415l4,-7 4,-6M2082,1374l4,7 4,7M2111,1397l-5,-6 -6,-1 -5,-3M2111,1397l3,-6 2,-3 3,-5M2104,1415l-3,0M2112,1402l-1,-5M2095,1387l-5,1M2071,1361l3,-4 0,-8 1,-4M2071,1361l6,3 7,0M2070,1340l5,5M2082,1374l0,-5 2,-5M2091,1424l-2,7 0,7M2101,1415l-7,3 -3,6M1967,1308l-6,-2 -6,0M1955,1306l-1,-7 -1,-8M2111,1256l-3,5M2108,1261l-6,-1 -5,2M2092,1270l2,-4 3,-4M2125,1252l-5,1 -6,1M2125,1252l3,3 1,4M2113,1255l1,-1M2142,1253l0,-2M2134,1261l-5,-2M2111,1256l2,-1M2069,1257l3,4 4,3M2076,1264l2,0M2055,1255l7,0 7,2M2092,1270l-7,-2 -7,-4M2071,1274l1,-6 4,-4M2095,1174l-8,-1 -7,3M2095,1174l2,-3 3,-3M2100,1168l5,0 7,-2 6,2M2149,1248l1,-5 0,-7 -1,-5M2159,1233l-5,0 -5,-2M2142,1251l7,-3M2199,1247l-5,-3 -3,-5M2174,1224l4,-3 6,-2M2194,1227l-6,-3 -4,-5M2194,1227l-3,6 0,6M2169,1223l5,1M2169,1223l-6,4 -4,6M2152,1266l3,6M2155,1272l3,2M2207,1246l2,-5 5,-5 3,-6M2207,1246l-8,1M2168,1189l4,-6 0,-7M2161,1191l7,-2M2167,1171l5,5M2283,1250l-6,2 -6,-1M2306,1209l1,5 -1,6 -4,6M2302,1226l-4,1M2292,1247l1,-8 3,-4 2,-8M2227,1225l4,4 2,5M1929,806l-5,-1M1860,843l3,-7 3,-7 5,-4M1870,823l1,2M1961,799l-7,4 -2,8M1952,811l-6,-4 -1,-5 -6,-2M1939,800l0,-5 2,-5M1974,802l-6,-3 -7,0M1940,788l1,2M1929,806l5,-3 5,-3M2004,866l-2,8 2,8M2004,866l-4,-2 -4,-3M1989,836l1,4 4,3M2007,1182l9,-3 5,-3 5,-4M2030,1191l-2,-5 -3,-8 1,-6M2131,814l-4,-5 -4,-5M2120,805l3,-1M2147,813l-8,2 -8,-1M2100,798l4,-2 4,-2M2108,794l7,4 5,7M2109,792l-1,2M2300,891l-4,-4M2296,887l-7,0M2289,887l-2,-6 -3,-6M2317,896l5,-1 6,0M2336,906l0,-3M2336,903l3,-5 6,-4M2345,894l4,1M2328,895l6,2 2,6M2353,877l1,4 2,5M2356,886l-4,4 -3,5M2285,892l4,-5M2285,892l-1,5 2,4M2275,875l-7,-4 -6,-4M2262,867l-2,1M2250,863l4,4 6,1M2276,875l4,0 4,0M2251,851l1,6 -2,6M2358,769l4,-2 7,-2 5,0M2377,776l-3,-5 0,-6M2414,809l-3,-5 -6,-1 -7,-3M2416,818l-6,3 -5,5M2405,826l-2,6 0,6M2403,838l-6,3 -7,1M2378,861l5,-4 6,-1M2390,842l-1,7 0,7M2378,862l0,3M2289,798l2,5 0,5M2286,818l2,-5 3,-5M2289,798l7,-1 6,-3M2302,778l1,5 3,5M2302,794l4,-6M2194,720l6,1 5,-1 5,3M2210,723l4,-3M2140,631l6,1 6,0M2164,612l2,8M2152,632l2,-5 6,-3 6,-4M2194,720l-5,2M2054,751l5,3 4,4 3,4M2070,773l7,0 6,-3M2091,784l-2,-4 -1,-5 -5,-5M2070,773l-4,-7M2066,762l0,4M2125,658l-1,8 4,6M2128,672l6,-1 6,1 6,-1M2242,850l-4,3 -3,5M1940,702l-6,4M1943,703l-3,-1M1935,723l-1,-4 -1,-7 1,-6M2026,715l-6,-4 -6,-2 -3,-6M2008,705l3,-2M2013,696l-2,7M2029,715l-3,0M2001,703l7,2M1866,725l-6,1 -5,-2M1855,724l-2,-6 -6,-2M1832,724l0,-4M1832,720l8,0 7,-4M1827,713l1,5 4,2M1853,797l-5,-3M1848,781l-2,6 2,7M1757,681l-7,4 -8,0M1752,481l2,-8 5,-6M1755,458l-8,-4 -13,0 -8,2M1755,458l2,4 2,5M1756,494l0,-7 -4,-6M1788,466l-9,-3 -10,7 -10,-3M90,1189l-2,6 -4,4M84,1199l3,4 7,3 3,3M86,1182l2,4 2,3M1817,1422l-4,-1M1354,1278l3,-6 -2,-6 3,-7M1379,1254l-6,4 -6,0 -9,1M1398,1157l3,4 0,6M1326,846l-6,2 -3,5M1324,878l-5,-5M1317,853l-2,8 3,5 1,7M1328,838l-2,8M1397,1121l2,-12 -2,-5 -2,-12M1407,1128l-4,-4 -6,-3M1400,1088l-5,4M1398,1157l0,-9 4,-12 5,-8M1279,994l3,7 6,4M1447,959l-9,-2 -13,9 -8,-4M1409,971l6,-3 2,-6M1449,957l-2,2M1663,850l-1,8 -4,7M1690,887l-7,0 -3,-1 -7,-4M1672,872l1,5 0,5M1688,904l0,-7 0,-4 2,-6M1658,865l6,5 8,2M1500,854l7,-5 9,-8 5,-10M1544,813l-9,4 -1,9 -9,6M1521,831l4,1M1500,854l2,5 5,7 2,4M1763,860l1,5M1764,865l3,4 4,2M1695,573l-8,3 -5,6M1804,582l-2,-2M1772,547l4,4 5,1M1780,563l2,6 5,5 5,5M1781,552l1,6 -2,5M1802,580l-5,0 -5,-1M1633,703l4,-3 1,-5M1635,718l4,-4M1639,714l-2,-6 -4,-5M1644,684l1,8M1645,692l-7,3M1658,678l-6,4 -8,2M1663,671l-4,2 -1,5M1663,671l4,2 6,2M1673,675l-2,8 4,7M1675,690l5,3M1700,776l1,-5 2,-5M1710,764l-6,1M1682,582l-4,-2 -5,-1M1615,616l8,2 9,-2 7,1M1639,617l4,-4M1480,578l4,4M1529,696l2,-5 1,-5M1532,686l2,-1M1504,710l-2,-2M1492,704l5,2 5,2M1551,760l-4,-4M1563,761l-6,-1 -6,0M1550,747l-1,5 -2,4M1504,710l7,1 7,1M1518,712l2,3M1550,747l-3,-4 -4,-4M1543,739l1,-5 4,-5M1642,811l-5,-4 -2,-7M1642,811l6,-3 7,-3M1642,817l0,-6M1621,811l6,-1 5,-6 3,-4M1660,808l-5,-3M1440,1515l2,-5 3,-10 2,-5M1457,1494l-5,0 -5,1M1470,1475l-3,6 -3,7 -7,6M1415,1505l2,3M1415,1505l-7,1 -6,-6 -7,0M1435,1521l0,-2M1435,1519l-5,-3 -7,-5 -6,-3M1390,1487l0,8 5,5M1404,1468l1,-5M1390,1487l6,-8 5,-6 3,-5M1400,1454l4,4 1,5M1435,1519l5,-4M1408,651l0,-7 0,-7 1,-5M1409,632l7,-3 8,-2M1464,696l-6,-1 -6,0M1452,695l-3,5 -3,5M1428,729l4,-3 3,-4 4,-4M1450,686l2,4 0,5M1433,675l5,6 0,7M1438,688l6,0 6,-2M1360,550l1,7 -6,6 -1,7M1409,632l-4,-2 -4,-2M1401,628l-2,1M636,1149l-2,-6 -1,-7 2,-5M635,1131l7,-8 3,-8 7,-6M622,1157l5,-3 5,-4 4,-1M621,1091l14,3 7,4 10,11M735,1147l13,-11 1,-15 7,-14M754,1103l2,4M744,1154l-5,-3 -4,-4M757,1093l-2,5 -1,5M1835,1412l3,7 7,5 6,5M1817,1422l5,-2 8,-5 5,-3M1953,1291l-4,0 -4,-3M1943,1285l2,3M1943,1285l-5,-1 -6,2M2165,1209l-1,3M2165,1209l-4,-6 -2,-8M2169,1223l-4,-4 -1,-7M2161,1191l-2,4M2125,1380l-6,3M2147,1351l6,-4 1,-7M2147,1351l-7,0M2140,1351l-1,6 -4,3M2125,1380l0,-5 -1,-8 1,-5M2135,1360l-5,1 -5,1M2158,1274l0,6 -1,7M2176,1329l7,-2 5,-5M2188,1322l5,4 3,5M2171,1329l5,0M2205,1332l-5,0 -4,-1M2217,1230l5,-2 5,-3M2317,1197l-3,8 -7,4M2260,1138l-5,-6 -1,-7M2306,1167l-4,-1 -3,-4M1999,783l2,-4 1,-5M1866,813l-7,-4 -8,2M1854,799l0,6 -3,6M1870,823l-4,-4 0,-6M1853,797l1,2M2021,751l4,-5 6,-3M2029,736l2,7M2035,721l0,5 -5,6 -1,4M2036,746l-5,-3M2008,793l0,2M2008,793l-5,-5 -4,-5M2008,795l-5,5 -6,4M2021,751l0,5 2,5M2023,761l-4,4 -5,1M2002,774l5,1 5,-2M2012,773l2,-7M2050,1175l-8,0 -5,-4 -8,0M2057,1185l-5,-4 -2,-6M2026,1172l3,-1M2376,867l-8,2 -8,2M2360,871l-2,3M2378,865l-2,2M2353,877l5,-3M2353,976l5,-2 4,-4M2362,970l-1,-4 -3,-4M2252,925l4,6 2,8M2256,942l-7,-3 -8,3M2256,942l2,-3M2285,874l2,-6 1,-6M2288,862l-2,-3M2286,901l-4,3 -3,3M2279,907l-7,-3 -7,1M2252,925l5,-7 7,-3M2265,905l-1,5 0,5M2398,798l-5,-3 -3,-6 -2,-4M2388,781l0,4M2377,776l5,2 6,3M2229,755l3,-3 4,-3M2236,749l2,-6 -3,-6M2229,765l1,-5 -1,-5M1996,861l4,-7 4,-6M1994,843l8,0M2004,848l-2,-5M2104,781l-4,-2M2104,781l6,-1 5,-4M2115,776l0,-6 -2,-5M2109,792l-4,-5 -1,-6M2091,784l5,-1 4,-4M2127,762l-8,0 -6,3M2160,717l-2,-5 2,-6 1,-6M2161,700l-4,-4M2157,696l-6,-1 -7,-1M2146,671l3,4M2144,694l2,-7 3,-6 0,-6M2202,843l6,2 6,0M2218,854l-1,-4 -1,-4M2214,845l2,1M2235,858l-5,-2 -6,-2 -6,0M2200,833l2,5 0,5M2165,839l5,5 3,5M1770,782l-1,-2M1769,780l-8,-3M1761,777l-7,0 -6,3M142,1103l-4,-1 -4,0M134,1102l-4,-4M122,1087l5,4 2,6M1865,1450l-7,-1 -5,-5 -6,-3M1886,1436l-6,4 -8,2 -7,8M1851,1429l-3,5 -1,7M1679,1117l-1,-1M1379,1254l1,-7 4,-9 4,-5M1388,1233l12,4 7,-3 13,4M1401,1167l8,2 11,-3 7,3M1331,896l-3,-4 -4,-3M1331,896l1,7 -2,6M1324,878l-2,5 2,6M1341,918l-4,-6 -7,-3M1335,938l5,-7 -4,-7 5,-6M1354,950l1,4 1,5M1402,971l7,0M1335,938l5,7 6,1 8,4M1404,1059l-11,-3 -9,-3 -11,-7M1390,1015l-4,7 -6,9 -6,5M1374,1036l0,5 -1,5M1400,1088l-1,-12 6,-9 -1,-8M1449,957l6,3 11,-2 7,1M1478,972l0,-8 -5,-5M1680,693l4,-5 9,-2 5,-3M1698,683l3,7 1,8M1792,753l-4,5 -2,7M1792,753l-1,-4M1786,765l-5,0 -4,-2M1769,780l1,-7 3,-7M1773,766l4,-3M1742,685l-5,-4M1675,606l-4,7 -7,3M1666,590l2,5 4,7 3,4M1666,590l6,-4 1,-7M1649,612l7,2 8,2M1639,617l-1,7 1,7M1664,645l-1,6 1,7 -5,7M1664,645l-7,-1 -6,-2M1663,671l-4,-6M1649,612l-6,1M1639,631l4,7 8,4M1553,559l-2,6 0,6M1506,572l-5,5 -4,6M1497,554l3,6 0,6 6,6M1484,582l6,-1 7,2M1518,712l4,-5 -1,-7M1529,696l-3,3 -5,1M1534,685l2,-5 0,-6M1536,674l7,0 7,-1M1525,715l4,6 4,6M1533,727l5,-1 4,-3M1520,715l5,0M1548,729l-3,-3 -3,-3M1570,622l0,7 -1,7M1439,710l6,-5M1439,718l0,-8M1446,705l-1,0M1311,677l5,-6 5,-6M1321,665l7,-3 8,2M1366,588l-2,-6 0,-6 -4,-4M1354,570l6,2M1384,604l3,5M1399,629l-6,-2 -4,-3 -6,-3M1387,609l-2,6 -2,6M1377,635l0,-7 5,-6M2020,1314l6,3 7,1M2017,1316l3,-2M1924,1290l4,0M1914,1283l5,4 5,3M1932,1286l-4,4M2154,1340l-2,-5 -4,-4M2148,1331l3,-3 0,-5M2171,1329l-4,-5 -5,-5M2162,1319l-6,1 -5,3M2233,1234l3,7 -3,8M2268,1276l-1,5M2249,1253l7,2 5,5M2261,1260l1,5 -1,5M2233,1249l6,1 4,0 6,4M2271,1251l-3,6 -7,3M2268,1276l-4,-3 -3,-3M2036,746l3,7 -1,6M2054,751l-6,4 -2,7M2038,759l4,1 4,2M2306,1167l8,-2 5,-6M2280,1139l-6,-1M2260,1138l7,-3 6,3M2378,1052l-3,-5 0,-5M2238,958l1,-5 1,-5 1,-6M2227,957l-1,6 -4,5M2204,956l6,4 1,5 3,4M2214,969l8,-1M2238,958l-5,0 -6,-1M2201,955l3,1M2120,957l3,-6 3,-3 3,-7M2120,957l-5,-2 -3,-7 -6,-4M2095,945l5,-1 6,0M2129,941l7,-2M2286,859l3,-4 1,-6M2285,844l5,5M2285,844l-1,-4 1,-5M1839,762l6,-1 5,3M1850,765l0,8 -4,6M1839,746l3,8 -3,8M1848,781l-2,-2M1749,764l-5,-3 -7,0M1747,779l1,-7 1,-8M1732,764l5,-3M1805,746l5,-3 5,-4M1805,746l-4,0 -4,-3M1815,735l0,4M1794,744l3,-1M1794,744l-3,5M1827,732l-6,-1 -6,4M1558,1346l6,-7 0,-12 7,-6M1663,1047l5,6 6,7 4,5M1678,1065l-6,5 0,9 -4,5M1678,1116l-4,-10 0,-12 -6,-10M1677,1015l0,10 -7,14 -7,8M1422,1209l3,11 -5,8 1,9M1422,1209l5,-2 3,-7 6,-5M1449,1198l-6,-1 -7,-2M1449,1198l4,11 4,6 9,8M1427,1169l3,10 4,9 2,7M1486,1219l-5,1 -10,1 -5,2M1402,971l-7,5 -5,10 -7,3M1356,959l-2,5 -1,5M1383,989l-7,-9 -12,-6 -11,-5M1390,1015l-2,-7 -3,-5 -4,-5M1383,989l0,5 -2,4M1673,1006l-15,3 -17,4 -11,-5M1630,1008l-4,-5 -4,-7 -1,-5M1621,991l-3,-2M1500,980l4,-3 4,-1 6,-4M1529,977l-7,-5 -8,0M1478,972l6,5 10,1 6,2M1468,853l6,10 -6,13 4,8M1455,899l3,-5 5,-6 9,-4M1509,870l-7,3 -9,9 -7,6M1472,884l7,4 7,0M1713,702l3,-5 6,-3M1713,702l1,6 1,5M1726,694l-4,0M1702,698l6,1 5,3M1706,724l4,-6 5,-5M1736,681l-4,6 -3,4 -3,3M1567,649l-7,3M1567,649l0,-6 0,-6M1569,636l-2,1M1560,655l-5,2 -3,3M1552,660l1,5 0,5M1560,652l0,3M1550,673l3,-3M1296,652l6,-2M1321,665l-4,-4 0,-5M1317,656l-9,0 -6,-6M1377,635l-7,-2 -6,-5M1364,628l-5,4 -5,4M2156,1302l5,4 3,6M2156,1302l2,-6 6,-4M2162,1319l3,-3 -1,-4M2157,1287l3,2 4,3M2267,1281l-6,5 -5,5M2256,1291l1,7 5,3 4,6M1993,828l-7,-1 -5,-2 -4,-4M1977,821l-1,-4M1996,810l-7,0 -6,2 -7,5M1989,836l3,-3 1,-5M1997,804l-1,6M1974,802l4,7 -2,8M2239,1018l-4,-5M2235,1013l2,-3M2231,1045l6,-1 5,-3M2242,1041l1,-9 -2,-7 -2,-7M2242,1041l5,2 5,0M2252,1043l5,-4 1,-5M2231,976l-1,7 -4,5M2226,988l7,3 5,4M2222,968l3,5 6,3M2237,1010l-1,-7 2,-8M2136,939l7,-3 3,-2 7,-1M2161,945l-1,-6 -4,-5M2156,934l-3,-1M2147,919l4,7 2,7M2174,947l-6,-2 -7,0M1584,1293l-9,-8 -7,-1 -6,-10M1562,1274l2,-7 2,-5 0,-5M1566,1257l3,-3 5,-1M1572,1320l-1,-8 10,-7 3,-12M1583,1217l-4,14 -2,11 -3,11M1545,1239l8,5 5,8 8,5M1325,984l-4,5 -3,5 0,7M1325,984l7,0 5,-5 5,1M1342,980l4,8 4,10 7,5M1288,1005l9,1 9,-6 12,1M1381,998l-9,2 -8,5 -7,-2M1580,999l6,-5 5,-1 4,-4M1580,999l-7,-15 -16,-6 -4,-14M1618,989l-6,-2 -11,0 -6,2M1529,977l5,-6 9,-1 10,-6M1482,942l-3,-6 -7,-4 -2,-5M1470,927l0,-6M1455,899l7,6 6,9 2,7M1473,959l4,-6 2,-6 3,-5M1350,638l-6,4 -4,-2 -5,4M1350,638l1,-1M1336,664l-2,-5 0,-7 1,-8M1354,636l-3,1M1364,606l-2,-7 2,-8M1384,604l-7,1 -6,-1 -7,2M1366,588l-2,3M2205,1332l4,-5 6,-5 4,-5M2221,1317l5,7 5,8 0,7M2289,1146l0,8M2298,1161l-5,-4 -4,-3M2299,1162l-1,-1M2280,1139l5,4 4,3M2277,1029l-5,0 -6,5 -8,0M2290,1018l-5,5M2279,1025l6,-2M2277,1029l2,-4M2375,1042l-4,-2M2147,919l4,-2 2,-3M2153,914l0,-5M2185,941l6,2 6,2M2201,955l-2,-5 -2,-5M2174,947l5,-6M2179,941l6,0M2291,825l-1,5M2286,818l1,5 4,2M2285,835l5,-5M2290,1018l4,-1 5,1M2299,1018l4,5 6,3M2353,976l-1,8M2352,984l5,2 3,4M2153,909l4,-5 3,-4M2160,900l-4,-4 -4,-4M2152,892l2,-6M2154,886l3,-2M2171,886l-7,1 -7,-3M2173,849l-1,6 -4,5 -1,5M2173,883l2,-6 -1,-6M2171,886l2,-3M2167,865l2,4 5,2M2365,1041l-4,-4 -4,-6 -4,-2M2371,1040l-6,1M2311,1026l2,-7 4,-4M2360,994l-4,3 -4,2M2352,999l-2,6M2353,1026l0,3M2360,990l0,4M2345,1007l-2,6 0,6M2343,1019l-5,3 -6,-1M2332,1021l-2,-4 -3,-3M2317,1015l5,0 5,-1M2350,1005l-5,2M2353,1026l-5,-4 -5,-3"/></g>
<g clip-path="url(#at)" stroke="#fff" stroke-width="1.6" stroke-linejoin="round">
<path fill="#dd0012" d="M1141.6,823.8 1137.1,832.9 1145.3,839.4 1151.4,830.3 1149.8,822.2Z"/>
<path fill="#dd0012" d="M1338.9,768.9 1337.4,775.2 1342.7,785.8 1350.1,791.7 1356.0,785.8 1362.7,776.5 1359.7,767.6 1349.9,766.2Z"/>
<path fill="#dd0012" d="M1390.9,810.2 1393.9,823.6 1402.9,825.1 1411.4,818.0 1409.8,810.1 1400.0,808.7Z"/>
<path fill="#dd0012" d="M1367.7,827.4 1367.5,827.4 1362.3,836.1 1365.4,845.2 1377.4,843.7 1379.0,833.7 1370.8,833.7Z"/>
<path fill="#dd0012" d="M1426.4,818.8 1424.9,827.8 1430.0,835.5 1432.7,846.0 1440.5,849.1 1445.4,841.7 1453.5,845.7 1455.1,834.8 1451.5,827.6 1455.4,822.5 1450.6,816.1 1439.9,817.5Z"/>
<path fill="#dd0012" d="M1483.7,732.0 1485.1,755.9 1500.6,747.4 1515.9,739.8 1519.3,734.6 1510.8,729.0 1502.9,721.1 1491.8,723.8Z"/>
<path fill="#dd0012" d="M1518.8,724.2 1517.3,733.0 1524.8,739.0 1542.6,730.8 1541.2,714.5 1526.9,718.8Z"/>
<path fill="#dd0012" d="M1374.5,904.5 1379.0,913.4 1387.7,918.4 1391.2,927.8 1393.8,943.0 1399.2,951.1 1424.9,957.6 1448.3,955.0 1453.6,945.7 1458.5,938.4 1466.9,931.3 1462.5,926.9 1461.2,916.9 1453.2,908.8 1442.8,906.2 1425.3,903.7 1410.5,898.8 1400.2,893.6 1389.5,896.3Z"/>
<path fill="#dd0012" d="M1497.9,917.2 1505.0,924.3 1506.3,935.6 1513.9,943.2 1518.0,952.9 1538.5,946.0 1543.7,933.0 1550.1,920.2 1547.6,905.0 1550.5,890.5 1550.3,890.4 1539.7,895.0 1524.4,896.2 1511.7,909.0Z"/>
<path fill="#dd0012" d="M1331.1,997.7 1336.1,1005.2 1331.2,1022.2 1328.7,1042.7 1333.9,1055.9 1349.3,1066.1 1363.6,1076.5 1370.0,1073.9 1382.2,1078.8 1408.5,1080.1 1411.2,1070.6 1421.3,1055.3 1418.7,1034.3 1405.7,1025.1 1396.5,1020.6 1400.0,1007.7 1401.4,988.9 1380.3,986.2 1370.6,982.6 1357.7,973.5 1336.5,981.5Z"/>
<path fill="#dd0012" d="M1211.2,1154.6 1211.1,1155.1 1216.1,1157.6 1226.9,1154.6 1224.4,1149.6Z"/>
<path fill="#dd0012" d="M1195.7,1304.8 1201.6,1312.2 1212.0,1318.7 1232.4,1325.1 1252.8,1321.3 1269.9,1317.3 1271.2,1307.0 1281.3,1299.7 1281.3,1299.6 1263.4,1292.7 1258.1,1284.8 1227.2,1290.0 1204.4,1297.6Z"/>
<path fill="#0a5fa9" d="M1156.2,1347.0 1156.2,1355.7 1164.2,1361.0 1194.0,1385.9 1199.8,1394.5 1206.0,1388.3 1211.3,1380.3 1208.8,1359.5 1198.5,1344.1 1187.9,1336.2 1164.4,1338.8Z"/>
<path fill="#0a5fa9" d="M1296.4,1339.0 1290.0,1347.0 1288.7,1357.2 1285.1,1369.3 1272.7,1383.1 1282.4,1386.3 1295.2,1383.5 1293.8,1370.1 1296.2,1357.9 1301.5,1347.4Z"/>
<path fill="#0a5fa9" d="M1469.9,1345.3 1470.0,1345.9 1486.4,1348.6 1488.8,1358.0 1498.8,1375.4 1501.3,1390.6 1506.6,1396.0 1517.6,1404.2 1527.9,1393.9 1540.4,1396.4 1549.1,1387.8 1546.5,1382.6 1551.8,1374.7 1530.9,1359.0 1523.5,1351.7 1508.1,1325.9 1500.4,1328.5 1494.6,1322.8 1489.1,1333.9 1481.9,1336.3Z"/>
<path fill="#dd0012" d="M1374.3,1428.6 1387.6,1441.9 1393.6,1434.5 1398.5,1427.2 1409.3,1419.1 1400.2,1405.5 1386.6,1419.0Z"/>
<path fill="#0a5fa9" d="M1392.0,1433.8 1399.2,1441.0 1409.4,1447.4 1422.0,1453.7 1433.1,1456.9 1433.6,1456.2 1426.1,1444.3 1418.6,1431.8 1410.4,1419.6 1399.2,1425.2Z"/>
<path fill="#dd0012" d="M1421.2,1429.2 1421.2,1442.4 1430.1,1443.8 1437.9,1441.2 1449.0,1438.5 1446.3,1424.9 1447.8,1411.6 1447.1,1411.3 1435.5,1421.4Z"/>
<path fill="#0a5fa9" d="M1447.6,1413.8 1446.2,1424.8 1444.8,1434.5 1457.0,1441.2 1482.8,1448.9 1492.7,1440.5 1489.9,1424.2 1477.8,1417.4 1467.9,1418.6 1460.4,1412.4Z"/>
<path fill="#dd0012" d="M1400.4,1447.8 1404.9,1455.3 1403.6,1465.4 1408.8,1471.9 1411.5,1481.4 1424.9,1480.1 1434.1,1482.7 1441.2,1475.6 1442.6,1461.8 1431.8,1455.1 1423.0,1452.5 1410.2,1446.1Z"/>
<path fill="#dd0012" d="M1362.9,1484.0 1374.5,1491.2 1389.8,1493.8 1407.8,1497.7 1415.8,1491.0 1430.2,1481.0 1429.8,1479.8 1405.1,1481.2 1387.8,1478.7 1372.1,1474.8Z"/>
<path fill="#dd0012" d="M1384.9,1524.5 1384.9,1524.8 1394.5,1531.2 1429.8,1540.0 1445.2,1541.4 1442.4,1516.1 1430.2,1517.4 1422.5,1514.1 1421.1,1502.3 1410.1,1503.9 1408.8,1514.2 1401.9,1518.8Z"/>
<path fill="#dd0012" d="M1867.6,1265.1 1866.1,1275.5 1872.7,1282.0 1878.9,1272.8 1877.3,1263.5Z"/>
<path fill="#0a5fa9" d="M1662.2,1299.7 1664.0,1303.5 1674.1,1308.5 1681.3,1320.6 1687.6,1335.6 1694.2,1346.2 1704.8,1347.5 1720.8,1350.2 1727.5,1335.4 1731.5,1319.4 1718.3,1310.3 1708.1,1300.0 1690.1,1297.5 1675.5,1296.2 1669.9,1292.0Z"/>
<path fill="#dd0012" d="M1642.5,1333.0 1641.1,1342.0 1652.8,1347.8 1660.0,1340.6 1661.5,1326.0 1649.5,1327.5Z"/>
<path fill="#0a5fa9" d="M1552.5,1414.8 1552.5,1425.5 1558.2,1432.6 1568.4,1431.2 1576.9,1408.7 1565.4,1408.7 1556.9,1403.0Z"/>
<path fill="#dd0012" d="M1576.4,1405.3 1573.7,1414.7 1570.9,1426.1 1582.4,1427.5 1586.2,1427.5 1572.0,1428.7 1564.8,1434.5 1567.7,1446.2 1590.3,1447.6 1602.2,1441.0 1615.4,1419.7 1605.8,1411.5 1598.2,1406.4 1587.6,1399.8Z"/>
<path fill="#dd0012" d="M1744.6,1452.3 1750.1,1460.6 1754.0,1472.4 1765.2,1473.8 1786.0,1463.5 1792.2,1451.1 1792.1,1451.0 1774.7,1452.5 1765.3,1456.0 1752.5,1444.5Z"/>
<path fill="#dd0012" d="M1505.0,1527.0 1503.7,1542.9 1512.0,1552.6 1522.6,1551.3 1537.5,1550.1 1547.5,1551.5 1548.9,1529.2 1538.1,1523.8 1527.4,1519.1 1525.9,1513.2 1511.7,1518.9Z"/>
<path fill="#dd0012" d="M1550.0,1531.4 1548.7,1551.6 1552.6,1558.2 1559.0,1568.4 1567.3,1574.0 1575.0,1570.9 1576.3,1557.1 1568.4,1548.0 1575.4,1545.0 1591.9,1540.9 1590.0,1537.1 1588.7,1522.1 1562.2,1528.7Z"/>
<path fill="#dd0012" d="M1586.1,1522.6 1587.5,1537.9 1588.1,1539.1 1574.6,1542.5 1564.1,1547.0 1573.7,1557.9 1572.3,1571.3 1577.4,1571.3 1587.3,1572.5 1595.0,1573.8 1607.4,1571.3 1617.3,1575.1 1630.2,1573.8 1650.0,1570.1 1656.6,1571.4 1666.4,1563.1 1665.1,1547.8 1672.2,1536.5 1659.1,1534.8 1656.5,1542.5 1642.4,1543.6 1641.2,1534.0 1634.0,1531.6 1636.6,1516.0 1612.3,1518.7Z"/>
<path fill="#8c8c8c" d="M1633.9,1516.4 1631.0,1533.4 1638.8,1536.0 1640.1,1546.4 1658.5,1545.0 1661.2,1536.6 1663.8,1527.6 1661.1,1512.3Z"/>
<path fill="#dd0012" d="M1654.6,1569.7 1659.1,1577.3 1672.6,1582.7 1682.4,1576.6 1689.0,1582.1 1693.9,1590.6 1699.5,1601.3 1704.9,1598.4 1707.5,1585.2 1708.7,1573.3 1720.6,1566.2 1734.9,1561.0 1736.1,1551.9 1744.3,1555.4 1751.0,1543.4 1760.6,1536.6 1753.9,1527.2 1756.4,1517.3 1751.2,1507.0 1748.4,1495.8 1739.2,1498.9 1729.6,1511.0 1720.1,1507.4 1705.3,1509.9 1700.3,1506.1 1687.5,1509.3 1687.5,1509.3 1692.3,1514.1 1688.9,1524.2 1679.3,1531.4 1669.1,1536.5 1662.4,1547.2 1663.6,1561.9Z"/>
<path fill="#dd0012" d="M1796.0,375.1 1798.7,389.9 1794.9,399.9 1797.6,410.9 1807.4,416.4 1815.0,413.4 1816.3,400.0 1813.8,384.6 1808.3,373.6Z"/>
<path fill="#dd0012" d="M1825.2,388.7 1821.2,406.9 1821.7,407.2 1827.6,403.9 1836.7,406.9 1836.9,406.7 1830.9,388.7Z"/>
<path fill="#dd0012" d="M1916.3,412.8 1915.6,421.1 1925.2,422.6 1932.1,419.2 1924.2,410.3Z"/>
<path fill="#dd0012" d="M2401.9,453.9 2405.0,466.2 2415.7,467.4 2414.9,471.4 2401.6,474.1 2404.7,480.4 2406.1,491.5 2416.2,490.0 2430.7,488.7 2433.7,479.8 2425.8,466.7 2423.6,464.5 2424.9,451.9 2419.6,448.3 2415.4,452.5Z"/>
<path fill="#dd0012" d="M2326.4,732.1 2324.4,738.8 2337.8,743.3 2341.7,736.7Z"/>
<path fill="#dd0012" d="M1989.7,975.4 1989.7,1040.4 1997.8,1051.3 2010.2,1051.3 2002.3,1024.7 1999.8,1012.4 2001.0,1000.3 2009.3,978.3 2008.9,978.0 2001.1,981.1Z"/>
<path fill="#dd0012" d="M2037.1,989.9 2039.8,1000.5 2044.3,1009.5 2051.0,1004.1 2060.3,1011.1 2074.9,1020.4 2082.5,1012.8 2078.2,1002.8 2064.5,996.5 2059.6,984.3 2052.7,977.4 2041.3,978.8Z"/>
<path fill="#dd0012" d="M2170.2,1100.6 2176.7,1110.3 2189.9,1105.9 2188.3,1094.5Z"/>
<path fill="#dd0012" d="M1802.3,625.4 1809.5,632.6 1819.8,631.3 1834.1,637.1 1834.6,636.6 1829.1,624.3 1839.3,617.9 1833.5,609.2 1825.5,601.1 1811.8,602.5 1805.0,612.0Z"/>
<path fill="#dd0012" d="M1575.0,654.3 1575.0,665.2 1578.8,677.9 1583.6,690.1 1581.4,699.0 1574.4,701.3 1559.0,711.6 1555.5,718.6 1570.6,719.9 1568.6,725.1 1575.5,737.7 1585.6,736.2 1598.9,722.9 1596.5,711.8 1600.6,708.7 1610.3,706.3 1618.1,705.2 1621.7,711.2 1631.8,712.9 1628.6,701.5 1620.9,698.9 1618.5,694.1 1608.4,686.5 1599.9,676.8 1595.3,665.3 1600.2,660.4 1597.3,650.1 1584.7,647.4Z"/>
<path fill="#dd0012" d="M1633.5,676.9 1636.2,687.6 1634.8,696.9 1639.8,700.2 1651.6,697.2 1648.6,686.6 1641.4,683.0 1642.8,671.7 1642.5,671.5Z"/>
<path fill="#dd0012" d="M1649.5,692.5 1651.5,698.7 1659.8,700.0 1672.9,702.7 1677.7,697.9 1676.0,691.1Z"/>
<path fill="#dd0012" d="M1672.3,672.7 1673.7,686.7 1679.8,695.8 1687.3,688.3 1692.6,677.7 1691.0,669.8Z"/>
<path fill="#dd0012" d="M1651.2,711.8 1651.2,724.9 1649.9,740.4 1655.6,747.5 1661.4,747.5 1662.6,757.2 1668.5,759.2 1671.1,744.9 1680.4,743.8 1689.2,739.4 1686.1,731.7 1680.6,727.6 1670.7,723.9 1663.7,716.8 1660.8,705.4Z"/>
<path fill="#dd0012" d="M1568.5,785.6 1570.2,792.4 1576.9,793.7 1585.2,800.8 1590.8,814.8 1601.2,804.4 1602.4,796.3 1608.0,796.3 1616.0,789.9 1607.2,784.1 1601.4,773.9 1595.1,781.9 1592.8,791.1 1583.1,790.0 1575.3,782.2Z"/>
<path fill="#dd0012" d="M1617.6,786.7 1616.1,795.6 1626.0,802.7 1635.8,799.9 1641.3,792.9 1639.9,778.4 1627.0,781.3Z"/>
<path fill="#dd0012" d="M1842.0,719.6 1847.1,728.2 1853.7,723.2 1855.1,712.3 1851.6,703.6 1850.3,703.8 1848.8,715.5Z"/>
<path fill="#dd0012" d="M1867.2,715.9 1869.3,721.3 1875.0,718.3 1876.0,708.4 1875.2,708.0Z"/>
<path fill="#dd0012" d="M2010.2,784.6 2022.5,787.9 2022.5,779.3 2015.0,774.3Z"/>
<path fill="#dd0012" d="M1626.1,863.0 1627.4,880.0 1624.9,900.2 1629.0,911.0 1635.4,913.5 1641.6,923.5 1654.9,929.4 1662.6,926.7 1662.6,926.1 1653.6,921.6 1651.5,915.5 1659.1,910.5 1655.1,899.9 1657.7,890.9 1651.4,884.6 1653.6,874.9 1660.5,873.7 1666.7,869.1 1660.7,858.6 1646.4,859.9 1636.1,857.4Z"/>
<path fill="#dd0012" d="M1599.7,917.8 1601.5,924.9 1611.9,926.2 1618.5,932.8 1615.1,941.9 1606.6,953.2 1616.9,956.2 1624.1,961.0 1636.4,975.7 1641.9,989.5 1650.9,983.4 1656.6,975.0 1651.2,967.0 1648.9,957.7 1653.8,950.4 1653.8,938.3 1646.0,929.2 1637.0,917.6 1625.2,913.7 1612.3,914.2Z"/>
<path fill="#0a5fa9" d="M1548.5,917.9 1552.5,935.6 1560.4,946.1 1572.5,951.4 1581.5,946.9 1578.8,937.5 1581.2,928.2 1587.3,922.0 1572.8,916.2 1559.9,914.2Z"/>
<path fill="#dd0012" d="M1707.8,951.4 1719.7,958.8 1729.9,957.6 1742.8,961.4 1750.1,955.6 1748.7,942.9 1736.8,936.3 1727.1,932.2 1719.1,941.6Z"/>
<path fill="#dd0012" d="M1707.4,991.4 1707.5,992.2 1717.1,993.8 1726.6,998.5 1733.8,1010.6 1739.2,1024.1 1754.8,1018.9 1765.5,1027.0 1772.2,1013.4 1783.0,1007.5 1795.8,1003.6 1800.9,996.8 1791.5,994.1 1792.5,988.1 1801.9,978.6 1795.0,973.1 1793.8,959.5 1788.5,952.9 1780.7,945.2 1768.6,939.8 1754.2,948.9 1742.2,958.6 1729.8,956.1 1717.1,963.2 1721.1,973.8 1718.8,984.2Z"/>
<path fill="#dd0012" d="M1791.1,959.4 1792.5,974.4 1798.1,978.9 1790.0,986.9 1788.5,995.9 1798.2,998.7 1803.4,1002.6 1812.2,1001.4 1817.2,1005.1 1835.3,1001.3 1850.9,996.1 1856.4,985.2 1853.8,972.5 1856.3,957.9 1861.1,945.8 1872.6,935.7 1872.1,934.7 1850.0,937.4 1832.2,934.9 1814.4,945.1 1801.8,951.4Z"/>
<path fill="#dd0012" d="M1770.0,1011.7 1770.0,1024.9 1767.4,1037.6 1771.2,1050.3 1774.0,1063.9 1787.7,1062.5 1808.5,1057.3 1811.2,1048.0 1816.1,1038.2 1824.3,1027.3 1814.7,1019.1 1808.7,1009.4 1804.6,999.8 1794.7,1001.2 1782.0,1005.0Z"/>
<path fill="#dd0012" d="M1809.7,1044.8 1813.9,1053.2 1822.6,1063.2 1827.0,1076.3 1827.9,1076.4 1831.0,1068.4 1837.6,1064.4 1836.2,1051.9 1828.5,1044.1 1820.1,1032.9Z"/>
<path fill="#dd0012" d="M1849.7,996.8 1852.4,1007.6 1851.1,1015.7 1861.6,1021.0 1866.0,1027.7 1862.3,1037.7 1867.5,1045.5 1868.8,1056.0 1885.0,1060.1 1897.6,1056.3 1911.0,1057.7 1913.6,1048.5 1927.7,1043.4 1926.1,1032.1 1913.1,1036.0 1906.1,1024.3 1896.7,1012.5 1901.9,1006.0 1896.6,1002.0 1900.5,991.5 1892.8,990.0 1880.0,986.1 1862.1,991.3Z"/>
<path fill="#dd0012" d="M1908.9,1055.3 1898.9,1060.3 1896.2,1069.9 1898.8,1083.4 1909.6,1088.7 1922.7,1091.4 1930.8,1087.3 1938.3,1079.8 1950.8,1072.9 1941.2,1061.9 1937.3,1049.1 1926.4,1043.6 1911.5,1046.4Z"/>
<path fill="#dd0012" d="M1961.1,981.0 1962.5,988.1 1968.7,995.5 1969.9,1007.4 1967.2,1021.3 1977.1,1021.3 1983.9,1025.9 1988.9,1038.2 1999.4,1051.3 2010.5,1051.3 2004.9,1032.0 1998.9,1022.2 2001.3,1007.7 2003.8,995.3 2009.4,978.5 1997.7,979.9 1990.2,976.2 1980.2,977.4 1967.0,972.2Z"/>
<path fill="#dd0012" d="M1592.4,1033.8 1592.5,1034.4 1602.9,1037.4 1607.1,1044.4 1621.8,1034.0 1612.9,1022.1 1604.4,1026.4Z"/>
<path fill="#dd0012" d="M1631.5,1080.1 1631.7,1080.3 1645.1,1078.8 1657.7,1077.5 1665.0,1076.3 1672.8,1077.9 1671.3,1067.5 1673.8,1052.9 1677.8,1044.7 1674.1,1041.0 1667.0,1043.8 1651.7,1051.5 1638.9,1066.8Z"/>
<path fill="#dd0012" d="M1872.4,1105.9 1872.4,1106.4 1881.7,1111.1 1889.3,1118.6 1897.8,1122.0 1896.3,1109.8 1894.9,1099.8 1884.7,1100.7Z"/>
<path fill="#dd0012" d="M1821.8,1123.0 1826.3,1130.5 1828.9,1138.4 1841.8,1144.8 1849.2,1151.0 1859.1,1158.5 1868.6,1169.3 1882.1,1158.8 1873.3,1151.5 1863.3,1144.0 1855.8,1137.7 1849.8,1134.1 1845.8,1123.4 1836.8,1126.4 1832.9,1130.3 1828.2,1120.9Z"/>
<path fill="#dd0012" d="M1708.5,1178.0 1711.2,1192.7 1713.8,1205.9 1735.3,1216.6 1743.4,1208.5 1750.1,1203.1 1748.7,1188.1 1740.5,1181.2 1725.4,1180.0 1715.0,1174.8Z"/>
<path fill="#dd0012" d="M1742.3,1206.6 1743.3,1213.0 1747.1,1217.9 1758.9,1212.0 1757.3,1202.1Z"/>
<path fill="#dd0012" d="M1769.4,1194.0 1773.7,1204.1 1775.1,1215.1 1789.5,1214.2 1783.8,1202.1 1782.4,1191.5Z"/>
<path fill="#dd0012" d="M2230.1,776.5 2232.7,785.9 2229.3,796.0 2246.8,805.2 2249.5,794.2 2251.8,788.2 2259.1,780.0 2241.1,771.0Z"/>
<path fill="#dd0012" d="M2249.4,786.8 2248.4,792.8 2260.9,801.1 2268.6,809.8 2268.9,809.7 2271.6,795.2 2280.1,786.8 2280.0,786.5 2266.9,784.6 2258.4,779.6Z"/>
<path fill="#dd0012" d="M2294.2,795.5 2300.2,802.6 2308.8,797.8 2311.3,785.8 2308.1,777.2 2300.2,785.1Z"/>
<path fill="#dd0012" d="M2327.7,792.1 2328.5,799.2 2348.7,816.0 2354.6,812.0 2357.3,803.1 2351.3,794.5 2343.3,788.1 2335.5,780.3 2330.2,783.5Z"/>
<path fill="#dd0012" d="M2229.2,818.2 2237.9,830.8 2243.7,823.8 2234.1,813.3Z"/>
<path fill="#dd0012" d="M2233.5,841.5 2239.0,844.8 2248.5,848.8 2260.0,854.5 2268.7,851.9 2275.9,844.8 2273.4,837.5 2267.4,842.5 2262.5,844.6 2252.8,840.1 2241.7,833.3Z"/>
<path fill="#dd0012" d="M2222.0,850.4 2222.1,851.0 2231.6,852.3 2230.2,843.6 2230.2,843.6Z"/>
<path fill="#dd0012" d="M2276.7,853.2 2276.7,853.3 2288.6,855.2 2301.6,854.4 2311.3,849.6 2322.3,845.0 2317.2,838.0 2311.3,833.8 2300.8,831.1 2295.9,836.9 2285.9,838.6 2285.0,843.9Z"/>
<path fill="#dd0012" d="M2267.7,856.6 2274.8,861.1 2276.4,869.0 2284.9,874.1 2295.2,877.2 2295.3,877.1 2291.5,864.7 2289.8,853.6 2279.5,851.9 2274.1,849.2Z"/>
<path fill="#dd0012" d="M2335.3,840.8 2336.4,849.5 2339.6,857.5 2341.2,867.2 2348.1,874.1 2358.2,876.0 2362.1,868.1 2357.4,861.4 2348.7,860.6 2344.4,853.4 2341.9,843.5Z"/>
<path fill="#dd0012" d="M2375.2,776.0 2375.2,795.2 2383.9,802.0 2392.4,788.5 2399.6,784.9 2407.1,785.6 2416.6,787.2 2424.3,788.7 2433.7,793.4 2442.4,796.9 2448.5,790.9 2443.3,780.6 2440.2,771.2 2437.4,764.2 2440.6,762.1 2448.0,766.6 2456.6,768.3 2463.2,763.9 2457.0,757.8 2447.3,756.2 2442.1,753.6 2443.7,748.8 2435.9,744.9 2427.1,748.4 2420.4,756.8 2418.1,763.0 2413.1,767.2 2406.8,768.0 2403.6,770.5 2397.5,772.0 2386.5,775.1Z"/>
<path fill="#dd0012" d="M2442.8,793.9 2442.7,794.5 2451.0,799.7 2460.5,804.5 2474.3,811.3 2482.8,797.6 2489.1,786.7 2497.5,777.3 2491.9,767.9 2484.5,768.8 2474.6,773.7 2465.0,781.7 2454.2,791.0Z"/>
<path fill="#dd0012" d="M2489.4,768.9 2494.9,778.0 2505.4,789.4 2511.1,783.6 2519.1,775.6 2524.0,767.8 2510.7,763.3 2505.5,760.7 2496.9,764.2Z"/>
<path fill="#dd0012" d="M2472.0,810.1 2480.9,815.4 2487.1,821.6 2495.0,829.5 2501.3,836.8 2508.4,830.7 2507.5,822.4 2509.9,812.9 2509.1,803.3 2509.9,793.6 2506.5,786.7 2495.9,775.3 2487.0,785.1 2480.6,796.3Z"/>
<path fill="#dd0012" d="M2474.6,871.7 2477.3,879.8 2482.1,887.8 2488.5,900.4 2494.9,911.8 2504.4,918.7 2509.8,917.3 2505.1,908.8 2502.0,898.0 2500.4,885.3 2497.3,874.5 2499.8,866.1 2491.2,859.4 2482.5,865.6Z"/>
<path fill="#dd0012" d="M2453.3,899.2 2455.1,908.2 2460.0,916.3 2466.8,927.4 2482.0,924.0 2493.7,920.1 2493.8,919.7 2485.6,914.6 2477.8,908.4 2469.9,900.5 2462.9,893.5Z"/>
<path fill="#dd0012" d="M2239.4,887.3 2241.0,890.6 2246.5,892.9 2248.8,899.1 2253.4,902.2 2253.9,901.9 2251.9,889.8 2247.1,884.0Z"/>
<path fill="#dd0012" d="M2273.1,895.3 2272.2,903.9 2277.8,905.8 2284.3,909.5 2289.7,900.6 2296.5,892.1 2293.4,886.0 2286.0,885.0 2279.9,888.5Z"/>
<path fill="#dd0012" d="M2294.1,886.7 2298.4,895.4 2303.0,892.4 2298.6,883.7Z"/>
<path fill="#dd0012" d="M2320.1,891.7 2325.7,899.2 2334.2,904.3 2345.8,903.5 2355.9,900.7 2352.9,890.7 2340.1,889.1 2338.5,885.8 2326.1,886.7Z"/>
<path fill="#dd0012" d="M2324.1,898.6 2323.8,899.0 2328.2,910.2 2338.1,906.9 2335.4,902.7Z"/>
<path fill="#dd0012" d="M2299.7,918.6 2301.7,922.6 2303.8,926.7 2299.8,933.9 2305.7,942.8 2313.2,937.2 2319.4,931.0 2329.2,927.8 2332.0,920.3 2327.5,913.1 2321.1,909.9 2313.9,901.8 2308.2,908.5Z"/>
<path fill="#dd0012" d="M2266.0,986.6 2275.4,991.3 2284.7,996.0 2290.3,1000.6 2294.0,996.9 2301.6,996.2 2310.2,992.3 2302.4,978.4 2296.1,968.9 2291.6,959.0 2279.7,966.3 2274.1,976.7Z"/>
<path fill="#dd0012" d="M2304.4,953.1 2301.4,961.0 2306.5,970.2 2312.9,979.9 2321.1,988.1 2329.0,991.4 2329.6,990.8 2326.2,984.1 2324.7,979.9 2328.9,980.6 2327.9,972.2 2321.2,963.2 2311.4,954.1Z"/>
<path fill="#dd0012" d="M2326.1,990.6 2326.1,1001.2 2325.1,1012.1 2325.5,1012.3 2335.3,1005.4 2343.6,998.0 2333.3,989.6Z"/>
<path fill="#dd0012" d="M2296.5,1012.3 2300.5,1017.4 2305.5,1019.0 2313.4,1023.0 2322.0,1026.4 2332.5,1019.7 2324.4,1009.8 2318.1,1003.6 2313.5,996.2 2303.5,1003.4Z"/>
<path fill="#dd0012" d="M2263.9,1011.4 2270.2,1018.7 2276.9,1026.2 2283.4,1027.2 2284.3,1021.7 2289.2,1018.3 2297.2,1016.5 2296.1,1008.9 2284.1,1005.5 2273.3,1004.6 2267.3,1008.1Z"/>
<path fill="#dd0012" d="M2230.8,1074.8 2233.8,1078.8 2237.7,1082.7 2243.2,1093.6 2249.4,1087.4 2258.4,1091.0 2257.5,1078.5 2262.6,1074.3 2257.4,1064.1 2256.5,1054.6 2246.8,1059.4 2237.1,1066.7Z"/>
<path fill="#dd0012" d="M2198.4,1111.9 2203.7,1120.6 2208.2,1127.0 2220.9,1123.0 2216.2,1114.6 2211.9,1105.2 2204.1,1105.2Z"/>
<path fill="#dd0012" d="M2202.9,1153.5 2206.4,1160.5 2208.1,1168.3 2219.1,1171.0 2226.2,1163.9 2228.0,1155.0 2220.9,1146.2 2210.2,1145.3Z"/>
<path fill="#dd0012" d="M2266.6,1141.7 2264.1,1153.4 2260.8,1165.1 2266.8,1172.0 2273.7,1179.8 2283.1,1176.9 2284.8,1169.9 2288.2,1159.8 2283.0,1152.9 2276.7,1146.6 2272.2,1139.5Z"/>
<path fill="#dd0012" d="M2250.0,1135.4 2253.1,1141.6 2254.3,1145.9 2248.0,1148.7 2242.1,1155.4 2237.3,1164.0 2247.8,1167.1 2251.3,1160.9 2257.5,1156.3 2264.5,1149.3 2261.0,1140.4 2256.4,1134.1Z"/>
<path fill="#dd0012" d="M2228.5,1166.3 2228.5,1176.7 2244.0,1173.9 2249.2,1165.6 2239.2,1162.7Z"/>
<path fill="#dd0012" d="M2224.4,1183.7 2227.1,1191.8 2237.4,1198.3 2240.4,1192.3 2244.6,1184.0 2243.6,1175.3 2228.1,1176.2Z"/>
<path fill="#dd0012" d="M2199.0,1170.9 2201.7,1184.5 2209.3,1191.2 2215.0,1184.4 2208.7,1179.8 2205.3,1169.6Z"/>
<path fill="#dd0012" d="M2183.3,1197.6 2184.3,1204.8 2198.4,1205.8 2199.5,1199.5 2195.7,1188.3 2189.4,1191.4Z"/>
<path fill="#dd0012" d="M2237.0,1194.0 2236.8,1194.0 2234.0,1209.1 2234.8,1219.0 2241.7,1229.8 2245.0,1224.3 2249.9,1221.0 2251.7,1212.0 2246.6,1205.2 2241.8,1198.8Z"/>
<path fill="#dd0012" d="M2215.5,1212.3 2221.2,1215.8 2228.1,1219.2 2235.8,1216.4 2235.8,1204.1 2224.5,1206.3Z"/>
<path fill="#dd0012" d="M2248.9,1260.2 2249.9,1272.1 2263.7,1273.0 2266.8,1267.8 2263.9,1258.7Z"/>
<path fill="#dd0012" d="M2265.8,1270.9 2269.4,1276.9 2279.8,1276.9 2281.1,1271.7 2274.2,1268.2Z"/>
<path fill="#dd0012" d="M2179.1,1341.4 2181.6,1344.6 2189.1,1345.0 2193.4,1340.7 2187.2,1328.1 2187.1,1328.1Z"/>
<path fill="#dd0012" d="M2008.7,785.1 2022.1,789.2 2023.1,778.9 2014.9,773.8Z"/>
<path fill="#dd0012" d="M2008.5,821.5 2009.3,831.6 2005.3,844.4 2009.7,862.0 2018.6,858.5 2028.4,861.8 2039.0,851.2 2037.3,842.9 2039.9,831.7 2030.2,829.0 2022.5,823.6 2015.6,818.4Z"/>
<path fill="#dd0012" d="M2119.0,873.4 2119.4,873.6 2125.3,870.1 2131.5,866.2 2148.5,857.7 2144.5,849.7 2137.2,847.8 2127.0,851.2 2121.8,857.3Z"/>
<path fill="#dd0012" d="M2170.3,822.7 2170.3,823.5 2178.2,826.5 2181.2,832.4 2186.6,827.0 2192.6,829.2 2201.1,826.4 2201.1,818.4 2193.3,814.1 2186.4,809.1 2184.4,815.2 2178.5,819.6Z"/>
<path fill="#dd0012" d="M2128.0,916.9 2128.9,927.1 2143.2,928.8 2152.0,932.6 2144.4,937.8 2150.3,941.7 2151.2,951.2 2160.2,945.2 2164.7,941.4 2170.9,940.7 2177.5,936.9 2175.9,930.3 2180.5,925.6 2179.6,916.4 2167.6,909.6 2157.8,911.2 2148.6,910.4 2138.8,907.2 2133.2,909.0Z"/>
</g>
<g stroke="#fff" stroke-width="2.0" stroke-linejoin="round">
<path fill="#dd0012" d="M665.0,535.0 L667.5,528.8 L652.5,523.8 L651.2,517.5 L667.5,510.0 L665.0,497.5 L672.5,480.0 L682.5,477.5 L678.8,445.0 L690.0,437.5 L691.2,428.8 L700.0,429.5 L700.0,437.5 L710.0,438.8 L720.0,432.5 L740.0,431.2 L750.0,432.5 L765.0,445.0 L770.0,462.5 L770.0,502.5 L780.0,510.0 L802.5,527.5 L825.0,547.5 L827.5,550.0 L810.0,560.0 L790.0,575.0 L782.5,587.5 L780.0,582.5 L760.0,586.2 L750.0,607.5 L746.2,605.0 L745.0,615.0 L730.0,618.8 L707.5,630.0 L698.4,640.3 L688.0,625.6 L677.5,604.7 L667.0,588.0 L654.4,560.7 L640.8,530.4Z"/>
<path fill="#dd0012" d="M698.4,640.3 L707.5,630.0 L730.0,618.8 L745.0,615.0 L746.2,605.0 L750.0,607.5 L760.0,586.2 L780.0,582.5 L782.5,587.5 L790.0,575.0 L810.0,560.0 L827.5,550.0 L836.2,551.2 L838.8,535.0 L836.2,512.5 L837.5,501.2 L855.0,503.8 L867.5,510.0 L887.5,521.2 L885.0,532.5 L877.5,542.5 L875.0,552.5 L886.2,555.0 L887.5,565.0 L897.5,572.5 L902.5,576.2 L920.0,580.0 L930.0,576.2 L941.2,578.8 L937.5,597.5 L930.0,613.8 L931.2,626.2 L941.2,627.5 L942.5,637.5 L947.5,638.8 L943.8,655.0 L937.5,675.0 L935.0,700.0 L925.0,722.5 L920.0,732.5 L925.0,747.5 L920.0,760.0 L915.0,785.0 L920.0,800.0 L926.2,798.8 L928.8,792.5 L936.2,792.5 L933.8,802.5 L936.2,810.0 L940.0,825.0 L950.0,827.5 L960.0,830.0 L965.0,823.8 L976.2,823.8 L975.0,835.0 L982.5,846.2 L981.2,860.0 L977.5,872.5 L976.2,881.2 L960.0,872.5 L940.0,860.0 L925.0,847.5 L915.0,832.5 L905.0,822.5 L890.0,816.2 L870.0,809.8 L842.8,793.0 L817.7,774.2 L792.6,751.2 L767.5,726.0 L742.4,696.8 L717.2,665.4Z"/>
<path fill="#5ec3d3" d="M518.8,560.0 L537.5,547.5 L555.0,546.2 L570.0,535.0 L592.5,536.2 L605.0,525.0 L615.0,522.5 L617.5,511.2 L623.8,508.8 L640.0,540.0 L652.5,572.5 L660.0,597.5 L650.0,615.0 L642.5,632.5 L640.0,637.5 L631.2,640.0 L622.5,650.0 L617.5,646.2 L605.0,643.8 L592.5,637.5 L570.0,630.0 L565.0,623.8 L555.0,618.8 L552.5,610.0 L540.0,606.2 L520.0,601.2 L517.5,583.8 L530.0,570.0Z"/>
<path fill="#dd0012" d="M667.0,606.8 L690.0,648.6 L682.7,652.8 L680.6,661.2 L675.4,664.3 L667.0,659.1 L659.7,660.2 L655.5,665.4 L651.3,654.9 L647.0,642.3 L649.0,631.9 L656.0,617.2Z"/>
<path fill="#78a506" d="M656.5,665.4 L659.7,660.2 L667.0,659.1 L675.4,664.3 L680.6,661.2 L682.7,652.8 L690.0,648.6 L708.9,673.7 L734.0,705.0 L759.0,734.5 L784.2,759.6 L805.1,778.4 L817.7,787.8 L788.4,776.3 L767.5,766.9 L746.5,756.4 L730.8,747.0 L721.4,738.6 L714.1,728.2 L705.7,719.8 L696.3,711.4 L694.2,701.0 L684.8,691.5 L670.1,690.5 L662.8,684.2 L657.6,673.7Z"/>
<path fill="#78a506" d="M470.0,617.5 L482.5,607.5 L487.5,593.8 L482.5,591.2 L500.0,585.0 L512.5,582.5 L517.5,583.8 L520.0,601.2 L516.2,613.8 L525.0,616.2 L520.0,625.0 L530.0,622.5 L532.5,631.2 L542.5,636.2 L547.5,643.8 L560.0,650.0 L570.0,646.2 L577.5,660.0 L587.5,661.2 L595.0,672.5 L600.0,682.5 L605.0,683.8 L602.5,696.2 L600.0,693.8 L590.0,695.0 L577.5,690.0 L570.0,680.0 L557.5,675.0 L547.5,671.2 L545.0,667.5 L525.0,668.8 L515.0,672.5 L510.0,665.0 L500.0,661.2 L480.0,662.5 L470.0,666.2 L460.0,673.8 L467.5,662.5 L480.0,643.8 L486.2,636.2 L476.2,633.8Z"/>
<path fill="#78a506" d="M520.0,601.2 L540.0,606.2 L552.5,610.0 L555.0,618.8 L565.0,623.8 L570.0,630.0 L592.5,637.5 L605.0,643.8 L617.5,646.2 L622.5,650.0 L621.2,660.0 L612.5,670.0 L605.0,683.8 L600.0,682.5 L595.0,672.5 L587.5,661.2 L577.5,660.0 L570.0,646.2 L560.0,650.0 L547.5,643.8 L542.5,636.2 L532.5,631.2 L530.0,622.5 L520.0,625.0 L525.0,616.2 L516.2,613.8Z"/>
<path fill="#78a506" d="M622.5,650.0 L631.2,640.0 L640.0,637.5 L642.5,632.5 L646.2,650.0 L652.5,667.5 L658.8,682.5 L652.5,682.5 L640.0,692.5 L630.0,695.0 L612.5,695.0 L605.0,683.8 L612.5,670.0 L621.2,660.0Z"/>
<path fill="#78a506" d="M600.0,693.8 L602.5,696.2 L605.0,683.8 L612.5,695.0 L630.0,695.0 L631.2,712.5 L635.0,720.0 L640.0,725.0 L643.8,732.5 L652.5,730.0 L662.5,727.5 L670.0,715.0 L671.2,702.5 L667.5,692.5 L687.5,698.8 L693.8,710.0 L700.0,723.8 L715.0,740.0 L730.0,752.5 L745.0,766.2 L735.0,767.5 L722.5,771.2 L707.5,767.5 L700.0,765.0 L700.0,777.5 L692.5,783.8 L677.5,772.5 L667.5,762.5 L645.0,771.2 L622.5,780.0 L610.0,782.5 L598.8,757.5 L600.0,742.5 L597.5,725.0 L598.8,710.0Z"/>
<path fill="#5ec3d3" d="M631.4,695.7 L641.9,692.6 L655.5,683.8 L660.7,688.4 L669.0,695.7 L673.3,702.0 L671.2,711.4 L667.0,719.8 L660.7,728.2 L652.3,730.3 L642.9,729.2 L637.7,722.9 L632.4,713.5Z"/>
<path fill="#dd0012" d="M470.0,666.2 L480.0,662.5 L500.0,661.2 L510.0,665.0 L515.0,672.5 L525.0,668.8 L545.0,667.5 L547.5,671.2 L557.5,675.0 L570.0,680.0 L577.5,690.0 L590.0,695.0 L600.0,693.8 L597.5,715.0 L587.5,716.2 L570.0,712.5 L558.8,710.0 L557.5,715.0 L540.0,708.8 L525.0,710.0 L515.0,706.2 L520.0,698.8 L515.0,690.0 L500.0,687.5 L490.0,677.5 L480.0,672.5Z"/>
<path fill="#dd0012" d="M558.8,710.0 L570.0,712.5 L587.5,716.2 L597.5,715.0 L597.5,732.5 L598.8,750.0 L600.0,757.5 L587.5,762.5 L570.0,757.5 L565.0,747.5 L561.2,735.0 L565.0,727.5 L560.0,722.5Z"/>
<path fill="#5ec3d3" d="M391.2,571.2 L396.2,580.0 L412.5,582.5 L422.5,597.5 L440.0,600.0 L445.0,607.5 L441.2,617.5 L450.0,628.8 L470.0,626.2 L476.2,633.8 L486.2,636.2 L480.0,643.8 L467.5,662.5 L460.0,673.8 L470.0,666.2 L480.0,672.5 L490.0,677.5 L500.0,687.5 L515.0,690.0 L520.0,698.8 L515.0,706.2 L525.0,710.0 L540.0,708.8 L557.5,715.0 L560.0,722.5 L565.0,727.5 L561.2,735.0 L565.0,747.5 L570.0,757.5 L547.5,752.5 L525.0,747.5 L500.0,740.0 L480.0,735.0 L457.5,720.0 L450.0,722.5 L430.0,715.0 L408.8,720.0 L397.5,710.0 L383.8,717.5 L392.5,702.5 L385.0,682.5 L372.5,668.8 L358.8,663.8 L376.2,646.2 L372.5,635.0 L373.8,617.5 L375.0,600.0 L392.5,585.0Z"/>
<path fill="#5ec3d3" d="M383.8,717.5 L397.5,710.0 L408.8,720.0 L430.0,715.0 L450.0,722.5 L457.5,720.0 L480.0,735.0 L500.0,740.0 L525.0,747.5 L547.5,752.5 L570.0,757.5 L567.5,767.5 L560.0,780.0 L555.0,792.5 L537.5,792.5 L532.5,800.0 L525.0,802.5 L525.0,812.5 L521.2,817.5 L520.0,820.0 L515.0,826.2 L505.0,825.0 L498.8,813.8 L490.0,826.2 L470.0,818.8 L417.5,845.0 L408.8,840.0 L407.5,835.0 L375.0,825.0 L372.5,812.5 L357.5,800.0 L351.2,791.2 L360.0,787.5 L357.5,777.5 L367.5,762.5 L385.0,745.0 L381.2,735.0Z"/>
<path fill="#5ec3d3" d="M417.5,845.0 L470.0,818.8 L490.0,826.2 L498.8,813.8 L505.0,825.0 L515.0,826.2 L520.0,820.0 L523.8,831.2 L535.0,825.0 L555.0,826.2 L562.5,832.5 L580.0,831.2 L590.0,825.0 L600.0,832.5 L615.0,840.0 L635.0,847.5 L657.5,855.0 L652.5,867.5 L647.5,880.0 L640.0,895.0 L622.5,888.8 L605.0,881.2 L590.0,876.2 L580.0,873.8 L575.0,880.0 L570.0,895.0 L565.0,905.0 L550.0,906.2 L546.2,915.0 L540.0,907.5 L537.5,897.5 L525.0,893.8 L502.5,891.2 L495.0,886.2 L487.5,882.5 L470.0,883.8 L465.0,890.0 L452.5,891.2 L445.0,886.2 L435.0,888.8 L422.5,893.8 L410.0,903.8 L403.8,905.0 L401.2,898.8 L407.5,892.5 L432.5,882.5 L435.0,877.5 L412.5,877.5 L402.5,860.0 L395.0,845.0 L408.8,840.0Z"/>
<path fill="#dd0012" d="M570.0,757.5 L580.0,762.5 L590.0,761.2 L598.8,757.5 L610.0,782.5 L605.0,785.0 L611.2,790.0 L608.8,797.5 L600.0,800.0 L590.0,815.0 L590.0,825.0 L580.0,831.2 L562.5,832.5 L555.0,826.2 L535.0,825.0 L523.8,831.2 L520.0,820.0 L521.2,817.5 L525.0,812.5 L525.0,802.5 L532.5,800.0 L537.5,792.5 L555.0,792.5 L560.0,780.0 L567.5,767.5Z"/>
<path fill="#dd0012" d="M610.0,782.5 L622.5,780.0 L645.0,771.2 L667.5,762.5 L677.5,772.5 L692.5,783.8 L707.5,815.0 L725.0,840.0 L740.0,860.0 L750.0,877.5 L747.5,890.0 L747.5,907.5 L751.2,918.8 L730.0,917.5 L712.5,923.8 L707.5,920.0 L685.0,910.0 L662.5,902.5 L640.0,895.0 L647.5,880.0 L652.5,867.5 L657.5,855.0 L635.0,847.5 L615.0,840.0 L600.0,832.5 L590.0,825.0 L590.0,815.0 L600.0,800.0 L608.8,797.5 L611.2,790.0 L605.0,785.0Z"/>
<path fill="#dd0012" d="M692.5,783.8 L700.0,777.5 L700.0,765.0 L707.5,767.5 L722.5,771.2 L735.0,767.5 L745.0,766.2 L765.0,775.0 L790.0,787.5 L815.0,800.0 L840.0,812.5 L865.0,825.0 L873.8,827.5 L855.0,831.2 L847.5,827.5 L835.0,830.0 L825.0,832.5 L815.0,850.0 L802.5,865.0 L790.0,872.5 L770.0,875.0 L750.0,877.5 L740.0,860.0 L725.0,840.0 L707.5,815.0Z"/>
</g>
<g stroke="#fff" stroke-width="1.8" fill="none" stroke-linejoin="round">
<path d="M598.8,742.5 L620.0,735.0 L637.5,726.2 L643.8,730.0 L660.0,727.5"/>
<path d="M600.0,757.5 L617.5,753.8 L627.5,745.0 L633.8,737.5 L637.5,726.2"/>
<path d="M633.8,737.5 L638.8,750.0 L646.2,766.2"/>
<path d="M660.0,727.5 L663.8,745.0 L667.5,762.5"/>
<path d="M600.0,712.5 L615.0,713.8 L630.0,711.2 L627.5,693.8 L612.5,695.0 L600.0,693.8"/>
<path d="M630.0,711.2 L636.2,721.2 L643.8,730.0"/>
</g>
<path d="M660.7,598.4 L645.0,625.6 L641.9,638.2 L649.2,657.0 L655.5,667.5 L654.4,673.7 L660.7,686.3 L669.0,692.6 L683.7,693.6 L692.1,701.0 L694.2,713.5 L704.7,721.9 L713.0,730.3 L719.3,740.7 L729.8,749.1 L746.5,759.6 L767.5,770.0 L788.4,778.4 L817.7,788.9" fill="none" stroke="#fff" stroke-width="6.5" stroke-linejoin="round" stroke-linecap="round"/>
<text x="38.40" y="113.1" font-size="80.8" font-weight="bold" fill="#1d1d1b" font-family="Liberation Sans, Arial, Helvetica, sans-serif" textLength="1994.66" lengthAdjust="spacingAndGlyphs">NR-Wahl 2019 – Stimmenmehrheiten nach Gemeinden</text>
<rect x="42.0" y="183.5" width="84.5" height="84.5" fill="#5ec3d3"/>
<text x="143.80" y="248.7" font-size="60.7" font-weight="normal" fill="#1d1d1b" stroke="#1d1d1b" stroke-width="0.55" font-family="Liberation Sans, Arial, Helvetica, sans-serif" textLength="123.71" lengthAdjust="spacingAndGlyphs">ÖVP</text>
<rect x="348.5" y="183.5" width="84.5" height="84.5" fill="#dd0012"/>
<text x="455.90" y="248.7" font-size="60.7" font-weight="normal" fill="#1d1d1b" stroke="#1d1d1b" stroke-width="0.55" font-family="Liberation Sans, Arial, Helvetica, sans-serif" textLength="124.02" lengthAdjust="spacingAndGlyphs">SPÖ</text>
<rect x="659.0" y="183.5" width="84.5" height="84.5" fill="#0a5fa9"/>
<text x="765.70" y="248.7" font-size="60.7" font-weight="normal" fill="#1d1d1b" stroke="#1d1d1b" stroke-width="0.55" font-family="Liberation Sans, Arial, Helvetica, sans-serif" textLength="120.79" lengthAdjust="spacingAndGlyphs">FPÖ</text>
<rect x="970.0" y="183.5" width="84.5" height="84.5" fill="#78a506"/>
<text x="1076.00" y="248.7" font-size="60.7" font-weight="normal" fill="#1d1d1b" stroke="#1d1d1b" stroke-width="0.55" font-family="Liberation Sans, Arial, Helvetica, sans-serif" textLength="163.62" lengthAdjust="spacingAndGlyphs">Grüne</text>
<rect x="1320.5" y="183.5" width="84.5" height="84.5" fill="#8c8c8c"/>
<text x="1427.00" y="248.7" font-size="60.7" font-weight="normal" fill="#1d1d1b" stroke="#1d1d1b" stroke-width="0.55" font-family="Liberation Sans, Arial, Helvetica, sans-serif" textLength="725.06" lengthAdjust="spacingAndGlyphs">Gleichstand zweier Parteien</text>
<rect x="94.0" y="348.0" width="420.0" height="136.0" fill="#e4ebd1"/><path d="M94.0,487.7 L612.8,487.7 M611.6,487.7 L611.6,724.0" stroke="#1d1d1b" stroke-width="2.3" fill="none"/><circle cx="611.6" cy="724.0" r="8.2" fill="#fff" stroke="#1d1d1b" stroke-width="2.4"/><text x="120.00" y="403.0" font-size="53.0" font-weight="normal" fill="#1d1d1b" stroke="#1d1d1b" stroke-width="0.55" font-family="Liberation Sans, Arial, Helvetica, sans-serif" textLength="369.83" lengthAdjust="spacingAndGlyphs">Wien 7, Neubau</text><text x="139.20" y="464.3" font-size="53.0" font-weight="normal" fill="#1d1d1b" stroke="#1d1d1b" stroke-width="0.55" font-family="Liberation Sans, Arial, Helvetica, sans-serif" textLength="326.65" lengthAdjust="spacingAndGlyphs">Grüne: 37,5 %</text>
<rect x="183.4" y="1458.0" width="348.2" height="136.5" fill="#dcf0f6"/><path d="M182.0,1455.4 L532.4,1455.4 M357.5,1172.0 L357.5,1455.4" stroke="#1d1d1b" stroke-width="2.3" fill="none"/><circle cx="357.5" cy="1171.6" r="8.2" fill="#fff" stroke="#1d1d1b" stroke-width="2.4"/><text x="259.90" y="1511.8" font-size="53.0" font-weight="normal" fill="#1d1d1b" stroke="#1d1d1b" stroke-width="0.55" font-family="Liberation Sans, Arial, Helvetica, sans-serif" textLength="194.32" lengthAdjust="spacingAndGlyphs">Gramais</text><text x="210.80" y="1573.6" font-size="53.0" font-weight="normal" fill="#1d1d1b" stroke="#1d1d1b" stroke-width="0.55" font-family="Liberation Sans, Arial, Helvetica, sans-serif" textLength="290.57" lengthAdjust="spacingAndGlyphs">ÖVP: 95,8 %</text>
<rect x="1038.5" y="1565.5" width="392.0" height="136.5" fill="#d3dff0"/><path d="M1521.5,1362.0 L1521.5,1562.0" stroke="#fff" stroke-width="7" fill="none"/><path d="M1038.5,1562.0 L1522.8,1562.0 M1521.5,1362.0 L1521.5,1562.0" stroke="#1d1d1b" stroke-width="2.3" fill="none"/><circle cx="1521.5" cy="1362.0" r="8.2" fill="#fff" stroke="#1d1d1b" stroke-width="2.4"/><text x="1051.90" y="1616.0" font-size="53.0" font-weight="normal" fill="#1d1d1b" stroke="#1d1d1b" stroke-width="0.55" font-family="Liberation Sans, Arial, Helvetica, sans-serif" textLength="363.45" lengthAdjust="spacingAndGlyphs">Deutsch-Griffen</text><text x="1088.10" y="1678.6" font-size="53.0" font-weight="normal" fill="#1d1d1b" stroke="#1d1d1b" stroke-width="0.55" font-family="Liberation Sans, Arial, Helvetica, sans-serif" textLength="290.04" lengthAdjust="spacingAndGlyphs">FPÖ: 48,8 %</text>
<rect x="2085.0" y="1487.0" width="375.5" height="137.5" fill="#f6dcd8"/><path d="M2085.5,1484.5 L2460.5,1484.5 M2272.5,1284.0 L2272.5,1484.5" stroke="#1d1d1b" stroke-width="2.3" fill="none"/><circle cx="2272.7" cy="1283.8" r="8.2" fill="#fff" stroke="#1d1d1b" stroke-width="2.4"/><text x="2102.50" y="1541.0" font-size="53.0" font-weight="normal" fill="#1d1d1b" stroke="#1d1d1b" stroke-width="0.55" font-family="Liberation Sans, Arial, Helvetica, sans-serif" textLength="340.56" lengthAdjust="spacingAndGlyphs">Tschanigraben</text><text x="2126.90" y="1603.4" font-size="53.0" font-weight="normal" fill="#1d1d1b" stroke="#1d1d1b" stroke-width="0.55" font-family="Liberation Sans, Arial, Helvetica, sans-serif" textLength="290.67" lengthAdjust="spacingAndGlyphs">SPÖ: 56,7 %</text>
<text x="39.20" y="1790.6" font-size="46.5" font-weight="normal" fill="#1d1d1b" stroke="#1d1d1b" stroke-width="0.55" font-family="Liberation Sans, Arial, Helvetica, sans-serif" textLength="275.33" lengthAdjust="spacingAndGlyphs">Grafik: © APA</text>
<rect x="2340" y="1777" width="170" height="19.5" fill="#e2171d"/>
<text x="2425" y="1776.6" text-anchor="middle" font-size="71.5" font-weight="bold" fill="#1d1d1b" stroke="#1d1d1b" stroke-width="2.2" font-family="Liberation Sans, Arial, Helvetica, sans-serif" textLength="170" lengthAdjust="spacingAndGlyphs">APA</text>
</svg>
</body></html>
